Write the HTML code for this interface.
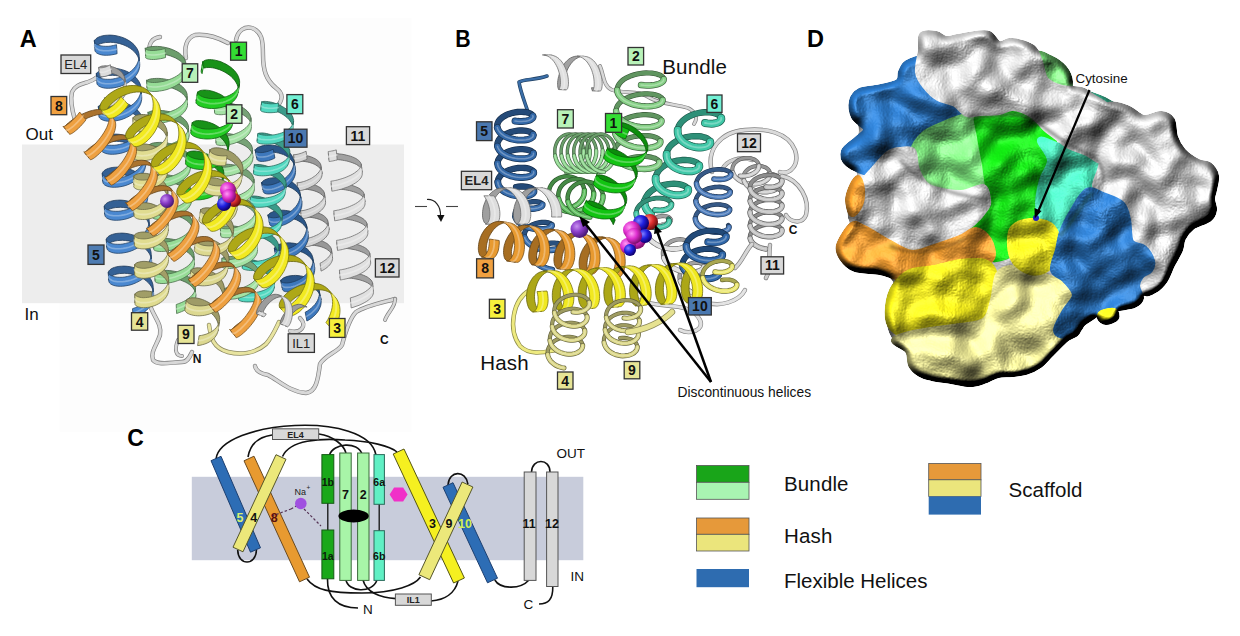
<!DOCTYPE html>
<html><head><meta charset="utf-8"><style>
html,body{margin:0;padding:0;background:#fff;}
svg{display:block;font-family:"Liberation Sans", sans-serif;}
</style></head><body>
<svg width="1240" height="636" viewBox="0 0 1240 636">
<defs>
<radialGradient id="gPur" cx="35%" cy="35%" r="65%"><stop offset="0" stop-color="#c890f0"/><stop offset="0.5" stop-color="#8a3cc8"/><stop offset="1" stop-color="#4a1a78"/></radialGradient>
<radialGradient id="gMag" cx="35%" cy="35%" r="65%"><stop offset="0" stop-color="#ff9cf4"/><stop offset="0.5" stop-color="#e030d0"/><stop offset="1" stop-color="#801070"/></radialGradient>
<radialGradient id="gBlu" cx="35%" cy="35%" r="65%"><stop offset="0" stop-color="#8080ff"/><stop offset="0.5" stop-color="#2020e0"/><stop offset="1" stop-color="#100070"/></radialGradient>
<radialGradient id="gRed" cx="35%" cy="35%" r="65%"><stop offset="0" stop-color="#ff9090"/><stop offset="0.5" stop-color="#e03030"/><stop offset="1" stop-color="#701010"/></radialGradient>

<filter id="surf" x="-5%" y="-5%" width="110%" height="110%" color-interpolation-filters="sRGB">
 <feGaussianBlur in="SourceAlpha" stdDeviation="3" result="b"/>
 <feTurbulence type="fractalNoise" baseFrequency="0.026" numOctaves="2" seed="11" result="n0"/><feGaussianBlur in="n0" stdDeviation="3" result="n"/>
 <feColorMatrix in="n" type="matrix" values="0 0 0 0 0  0 0 0 0 0  0 0 0 0 0  1.6 0 0 0 -0.3" result="na"/>
 <feComposite in="b" in2="na" operator="arithmetic" k1="0" k2="0.6" k3="0.4" k4="0" result="h"/>
 <feDiffuseLighting in="h" surfaceScale="24" diffuseConstant="1.0" lighting-color="#fff" result="d"><feDistantLight azimuth="235" elevation="50"/></feDiffuseLighting>
 <feComposite in="SourceGraphic" in2="d" operator="arithmetic" k1="1.12" k2="0" k3="0" k4="0" result="lit"/>
 <feSpecularLighting in="h" surfaceScale="24" specularConstant="0.35" specularExponent="22" lighting-color="#fff" result="s"><feDistantLight azimuth="235" elevation="62"/></feSpecularLighting>
 <feComposite in="s" in2="SourceAlpha" operator="in" result="s2"/>
 <feComposite in="lit" in2="s2" operator="arithmetic" k1="0" k2="1" k3="0.4" k4="0" result="o"/>
 <feComposite in="o" in2="SourceAlpha" operator="in"/>
</filter>
<filter id="sblur" x="-10%" y="-10%" width="120%" height="120%"><feGaussianBlur stdDeviation="1.8"/></filter>
</defs>
<rect x="59.6" y="18.0" width="352.0" height="413.7" fill="#fdfdfd" />
<rect x="22.0" y="144.5" width="382.0" height="158.7" fill="#ededed" />
<text x="19.8" y="46.8" font-size="23.5" fill="#000" font-weight="bold" text-anchor="start" >A</text>
<text x="455.2" y="46.6" font-size="23.5" fill="#000" font-weight="bold" text-anchor="start" textLength="15.4" lengthAdjust="spacingAndGlyphs">B</text>
<text x="807.0" y="46.6" font-size="23.5" fill="#000" font-weight="bold" text-anchor="start" >D</text>
<text x="127.3" y="445.9" font-size="23" fill="#000" font-weight="bold" text-anchor="start" >C</text>
<text x="25.5" y="140.0" font-size="17" fill="#111" font-weight="normal" text-anchor="start" >Out</text>
<text x="24.5" y="320.0" font-size="17" fill="#111" font-weight="normal" text-anchor="start" >In</text>
<path d="M150,52 C148,44 152,38 160,37" stroke="#818181" stroke-width="4.4" fill="none" stroke-linecap="round" stroke-linejoin="round"/>
<path d="M150,52 C148,44 152,38 160,37" stroke="#d8d8d8" stroke-width="3" fill="none" stroke-linecap="round" stroke-linejoin="round"/>
<path d="M186,58 C184,48 186,38 195,35 C205,34 215,36 228,43" stroke="#818181" stroke-width="4.4" fill="none" stroke-linecap="round" stroke-linejoin="round"/>
<path d="M186,58 C184,48 186,38 195,35 C205,34 215,36 228,43" stroke="#d8d8d8" stroke-width="3" fill="none" stroke-linecap="round" stroke-linejoin="round"/>
<path d="M236,40 C238,30 245,26 252,28 C262,32 263,40 263,55 C263,70 266,80 276,88 C284,94 283,100 276,108" stroke="#818181" stroke-width="4.4" fill="none" stroke-linecap="round" stroke-linejoin="round"/>
<path d="M236,40 C238,30 245,26 252,28 C262,32 263,40 263,55 C263,70 266,80 276,88 C284,94 283,100 276,108" stroke="#d8d8d8" stroke-width="3" fill="none" stroke-linecap="round" stroke-linejoin="round"/>
<path d="M75,120 C72,110 70,100 72,92 C75,85 82,84 88,82 C95,80 100,75 104,70" stroke="#818181" stroke-width="4.4" fill="none" stroke-linecap="round" stroke-linejoin="round"/>
<path d="M75,120 C72,110 70,100 72,92 C75,85 82,84 88,82 C95,80 100,75 104,70" stroke="#d8d8d8" stroke-width="3" fill="none" stroke-linecap="round" stroke-linejoin="round"/>
<path d="M151,308 C155,318 162,325 160,335 C157,345 150,352 153,360 C158,366 172,362 182,362 C188,362 190,356 192,352" stroke="#818181" stroke-width="4.4" fill="none" stroke-linecap="round" stroke-linejoin="round"/>
<path d="M151,308 C155,318 162,325 160,335 C157,345 150,352 153,360 C158,366 172,362 182,362 C188,362 190,356 192,352" stroke="#d8d8d8" stroke-width="3" fill="none" stroke-linecap="round" stroke-linejoin="round"/>
<path d="M178,340 C174,350 176,356 182,356" stroke="#818181" stroke-width="3.9" fill="none" stroke-linecap="round" stroke-linejoin="round"/>
<path d="M178,340 C174,350 176,356 182,356" stroke="#d8d8d8" stroke-width="2.5" fill="none" stroke-linecap="round" stroke-linejoin="round"/>
<path d="M255,366 C256,372 262,374 268,375 C278,380 290,392 306,393 C316,392 318,380 320,364 C325,355 338,352 342,345 C346,330 350,318 356,312 C365,306 380,303 395,299" stroke="#818181" stroke-width="4.4" fill="none" stroke-linecap="round" stroke-linejoin="round"/>
<path d="M255,366 C256,372 262,374 268,375 C278,380 290,392 306,393 C316,392 318,380 320,364 C325,355 338,352 342,345 C346,330 350,318 356,312 C365,306 380,303 395,299" stroke="#d8d8d8" stroke-width="3" fill="none" stroke-linecap="round" stroke-linejoin="round"/>
<path d="M395,299 C396,306 388,312 385,320" stroke="#818181" stroke-width="3.9" fill="none" stroke-linecap="round" stroke-linejoin="round"/>
<path d="M395,299 C396,306 388,312 385,320" stroke="#d8d8d8" stroke-width="2.5" fill="none" stroke-linecap="round" stroke-linejoin="round"/>
<path d="M209,325 C211,338 213,348 228,352 C240,355 255,354 266,344 C273,336 276,328 279,322" stroke="#8b8860" stroke-width="4.4" fill="none" stroke-linecap="round" stroke-linejoin="round"/>
<path d="M209,325 C211,338 213,348 228,352 C240,355 255,354 266,344 C273,336 276,328 279,322" stroke="#e8e4a0" stroke-width="3" fill="none" stroke-linecap="round" stroke-linejoin="round"/>
<path d="M293.7,155.3 L294.0,155.2 L294.5,155.1 L295.3,155.0 L296.2,154.9 L297.3,154.8 L298.6,154.8 L300.1,154.8 L301.6,154.9 L303.2,155.1 L305.0,155.3 L306.7,155.7 L308.5,156.1 L310.2,156.6 L311.9,157.2 L313.5,157.9 L315.1,158.7 L316.5,159.5 L317.7,160.5 L318.8,161.5 L319.7,162.6 L320.4,163.8 L320.9,165.0 L321.1,166.2 L321.2,167.5 L322.0,173.8 L321.9,172.6 L321.7,171.3 L321.2,170.1 L320.5,169.0 L319.6,167.9 L318.5,166.8 L317.2,165.9 L315.9,165.0 L314.3,164.2 L312.7,163.5 L311.0,162.9 L309.3,162.4 L307.5,162.0 L305.8,161.7 L304.0,161.4 L302.4,161.3 L300.8,161.2 L299.4,161.1 L298.1,161.2 L297.0,161.2 L296.1,161.3 L295.3,161.4 L294.8,161.6 L294.5,161.7Z" fill="#989898" stroke="#5b5b5b" stroke-width="0.8" stroke-linejoin="round"/>
<path d="M297.2,183.3 L297.5,183.2 L298.0,183.1 L298.8,183.0 L299.7,182.9 L300.8,182.8 L302.1,182.8 L303.6,182.8 L305.1,182.9 L306.7,183.1 L308.5,183.3 L310.2,183.7 L312.0,184.1 L313.7,184.6 L315.4,185.2 L317.0,185.9 L318.6,186.7 L320.0,187.5 L321.2,188.5 L322.3,189.5 L323.2,190.6 L323.9,191.8 L324.4,193.0 L324.6,194.2 L324.7,195.5 L325.5,201.8 L325.4,200.6 L325.2,199.3 L324.7,198.1 L324.0,197.0 L323.1,195.9 L322.0,194.8 L320.7,193.9 L319.4,193.0 L317.8,192.2 L316.2,191.5 L314.5,190.9 L312.8,190.4 L311.0,190.0 L309.3,189.7 L307.5,189.4 L305.9,189.3 L304.3,189.2 L302.9,189.1 L301.6,189.2 L300.5,189.2 L299.6,189.3 L298.8,189.4 L298.3,189.6 L298.0,189.7Z" fill="#989898" stroke="#5b5b5b" stroke-width="0.8" stroke-linejoin="round"/>
<path d="M300.7,211.3 L301.0,211.2 L301.5,211.1 L302.3,211.0 L303.2,210.9 L304.3,210.8 L305.6,210.8 L307.1,210.8 L308.6,210.9 L310.2,211.1 L312.0,211.3 L313.7,211.7 L315.5,212.1 L317.2,212.6 L318.9,213.2 L320.5,213.9 L322.1,214.7 L323.5,215.5 L324.7,216.5 L325.8,217.5 L326.7,218.6 L327.4,219.8 L327.9,221.0 L328.1,222.2 L328.2,223.5 L329.0,229.8 L328.9,228.6 L328.7,227.3 L328.2,226.1 L327.5,225.0 L326.6,223.9 L325.5,222.8 L324.2,221.9 L322.9,221.0 L321.3,220.2 L319.7,219.5 L318.0,218.9 L316.3,218.4 L314.5,218.0 L312.8,217.7 L311.0,217.4 L309.4,217.3 L307.8,217.2 L306.4,217.1 L305.1,217.2 L304.0,217.2 L303.1,217.3 L302.3,217.4 L301.8,217.6 L301.5,217.7Z" fill="#989898" stroke="#5b5b5b" stroke-width="0.8" stroke-linejoin="round"/>
<path d="M304.1,239.4 L304.2,239.3 L304.5,239.2 L305.0,239.1 L305.8,239.0 L306.7,238.9 L307.8,238.8 L309.1,238.8 L310.6,238.8 L312.1,238.9 L313.7,239.1 L315.5,239.3 L317.2,239.7 L319.0,240.1 L320.7,240.6 L322.4,241.2 L324.0,241.9 L325.6,242.7 L327.0,243.5 L328.2,244.5 L329.3,245.5 L330.2,246.6 L330.9,247.8 L331.4,249.0 L331.6,250.2 L331.7,251.5 L332.5,257.8 L332.4,256.6 L332.2,255.3 L331.7,254.1 L331.0,253.0 L330.1,251.9 L329.0,250.8 L327.7,249.9 L326.4,249.0 L324.8,248.2 L323.2,247.5 L321.5,246.9 L319.8,246.4 L318.0,246.0 L316.3,245.7 L314.5,245.4 L312.9,245.3 L311.3,245.2 L309.9,245.1 L308.6,245.2 L307.5,245.2 L306.6,245.3 L305.8,245.4 L305.3,245.6 L305.0,245.7 L304.9,245.8Z" fill="#989898" stroke="#5b5b5b" stroke-width="0.8" stroke-linejoin="round"/>
<path d="M306.1,151.2 L304.5,151.9 L302.9,152.6 L301.4,153.2 L299.9,153.6 L298.5,154.0 L297.3,154.3 L296.2,154.5 L295.2,154.7 L294.5,154.7 L293.9,154.8 L293.6,154.7 L293.5,154.6 L293.6,154.5 L294.6,162.5 L294.5,162.6 L294.6,162.7 L294.9,162.7 L295.5,162.7 L296.2,162.6 L297.2,162.5 L298.3,162.3 L299.5,162.0 L300.9,161.6 L302.4,161.1 L303.9,160.5 L305.5,159.9 L307.1,159.1Z" fill="#d4d4d4" stroke="#6a6a6a" stroke-width="0.8" stroke-linejoin="round"/>
<path d="M306.6,155.2 L305.0,155.9 L303.4,156.6 L301.9,157.1 L300.4,157.6 L299.0,158.0 L297.8,158.3 L296.7,158.5 L295.7,158.6 L295.0,158.7 L294.4,158.7 L294.1,158.7 L294.0,158.6 L294.1,158.5" stroke="#e9e9e9" stroke-width="1.4" fill="none" stroke-linecap="round" opacity="0.6"/>
<path d="M321.1,166.7 L320.9,168.0 L320.5,169.3 L319.9,170.5 L319.1,171.8 L318.1,173.0 L317.0,174.2 L315.7,175.4 L314.3,176.4 L312.8,177.4 L311.3,178.4 L309.6,179.2 L308.0,179.9 L306.4,180.6 L304.9,181.2 L303.4,181.6 L302.0,182.0 L300.8,182.3 L299.7,182.5 L298.7,182.7 L298.0,182.7 L297.4,182.8 L297.1,182.7 L297.0,182.6 L297.1,182.5 L298.1,190.5 L298.0,190.6 L298.1,190.7 L298.4,190.7 L299.0,190.7 L299.7,190.6 L300.7,190.5 L301.8,190.3 L303.0,190.0 L304.4,189.6 L305.9,189.1 L307.4,188.5 L309.0,187.9 L310.6,187.1 L312.2,186.3 L313.8,185.4 L315.3,184.4 L316.7,183.3 L318.0,182.2 L319.1,181.0 L320.1,179.7 L320.9,178.5 L321.5,177.2 L321.9,175.9 L322.1,174.6Z" fill="#d4d4d4" stroke="#6a6a6a" stroke-width="0.8" stroke-linejoin="round"/>
<path d="M321.6,170.7 L321.4,171.9 L321.0,173.2 L320.4,174.5 L319.6,175.8 L318.6,177.0 L317.5,178.2 L316.2,179.3 L314.8,180.4 L313.3,181.4 L311.8,182.3 L310.1,183.2 L308.5,183.9 L306.9,184.6 L305.4,185.1 L303.9,185.6 L302.5,186.0 L301.3,186.3 L300.2,186.5 L299.2,186.6 L298.5,186.7 L297.9,186.7 L297.6,186.7 L297.5,186.6 L297.6,186.5" stroke="#e9e9e9" stroke-width="1.4" fill="none" stroke-linecap="round" opacity="0.6"/>
<path d="M324.6,194.7 L324.4,196.0 L324.0,197.3 L323.4,198.5 L322.6,199.8 L321.6,201.0 L320.5,202.2 L319.2,203.4 L317.8,204.4 L316.3,205.4 L314.8,206.4 L313.1,207.2 L311.5,207.9 L309.9,208.6 L308.4,209.2 L306.9,209.6 L305.5,210.0 L304.3,210.3 L303.2,210.5 L302.2,210.7 L301.5,210.7 L300.9,210.8 L300.6,210.7 L300.5,210.6 L300.6,210.5 L301.6,218.5 L301.5,218.6 L301.6,218.7 L301.9,218.7 L302.5,218.7 L303.2,218.6 L304.2,218.5 L305.3,218.3 L306.5,218.0 L307.9,217.6 L309.4,217.1 L310.9,216.5 L312.5,215.9 L314.1,215.1 L315.7,214.3 L317.3,213.4 L318.8,212.4 L320.2,211.3 L321.5,210.2 L322.6,209.0 L323.6,207.7 L324.4,206.5 L325.0,205.2 L325.4,203.9 L325.6,202.6Z" fill="#d4d4d4" stroke="#6a6a6a" stroke-width="0.8" stroke-linejoin="round"/>
<path d="M325.1,198.7 L324.9,199.9 L324.5,201.2 L323.9,202.5 L323.1,203.8 L322.1,205.0 L321.0,206.2 L319.7,207.3 L318.3,208.4 L316.8,209.4 L315.3,210.3 L313.6,211.2 L312.0,211.9 L310.4,212.6 L308.9,213.1 L307.4,213.6 L306.0,214.0 L304.8,214.3 L303.7,214.5 L302.7,214.6 L302.0,214.7 L301.4,214.7 L301.1,214.7 L301.0,214.6 L301.1,214.5" stroke="#e9e9e9" stroke-width="1.4" fill="none" stroke-linecap="round" opacity="0.6"/>
<path d="M328.1,222.7 L327.9,224.0 L327.5,225.3 L326.9,226.5 L326.1,227.8 L325.1,229.0 L324.0,230.2 L322.7,231.4 L321.3,232.4 L319.8,233.4 L318.3,234.4 L316.6,235.2 L315.0,235.9 L313.4,236.6 L311.9,237.2 L310.4,237.6 L309.0,238.0 L307.8,238.3 L306.7,238.5 L305.7,238.7 L305.0,238.7 L304.4,238.8 L304.1,238.7 L304.0,238.6 L305.0,246.6 L305.1,246.7 L305.4,246.7 L306.0,246.7 L306.7,246.6 L307.7,246.5 L308.8,246.3 L310.0,246.0 L311.4,245.6 L312.9,245.1 L314.4,244.5 L316.0,243.9 L317.6,243.1 L319.2,242.3 L320.8,241.4 L322.3,240.4 L323.7,239.3 L325.0,238.2 L326.1,237.0 L327.1,235.7 L327.9,234.5 L328.5,233.2 L328.9,231.9 L329.1,230.6Z" fill="#d4d4d4" stroke="#6a6a6a" stroke-width="0.8" stroke-linejoin="round"/>
<path d="M328.6,226.7 L328.4,227.9 L328.0,229.2 L327.4,230.5 L326.6,231.8 L325.6,233.0 L324.5,234.2 L323.2,235.3 L321.8,236.4 L320.3,237.4 L318.8,238.3 L317.1,239.2 L315.5,239.9 L313.9,240.6 L312.4,241.1 L310.9,241.6 L309.5,242.0 L308.3,242.3 L307.2,242.5 L306.2,242.6 L305.5,242.7 L304.9,242.7 L304.6,242.7 L304.5,242.6" stroke="#e9e9e9" stroke-width="1.4" fill="none" stroke-linecap="round" opacity="0.6"/>
<path d="M331.6,250.7 L331.4,252.0 L331.0,253.3 L330.4,254.5 L329.6,255.8 L328.6,257.0 L327.5,258.2 L326.2,259.4 L324.8,260.4 L323.3,261.4 L321.8,262.4 L320.1,263.2 L321.1,271.1 L322.7,270.3 L324.3,269.4 L325.8,268.4 L327.2,267.3 L328.5,266.2 L329.6,265.0 L330.6,263.7 L331.4,262.5 L332.0,261.2 L332.4,259.9 L332.6,258.6Z" fill="#d4d4d4" stroke="#6a6a6a" stroke-width="0.8" stroke-linejoin="round"/>
<path d="M332.1,254.7 L331.9,255.9 L331.5,257.2 L330.9,258.5 L330.1,259.8 L329.1,261.0 L328.0,262.2 L326.7,263.3 L325.3,264.4 L323.8,265.4 L322.3,266.3 L320.6,267.2" stroke="#e9e9e9" stroke-width="1.4" fill="none" stroke-linecap="round" opacity="0.6"/>
<path d="M328.4,153.5 L328.7,153.5 L329.3,153.5 L330.2,153.4 L331.3,153.4 L332.7,153.4 L334.2,153.5 L336.0,153.6 L337.9,153.7 L339.8,154.0 L341.9,154.2 L344.1,154.6 L346.2,155.1 L348.3,155.6 L350.4,156.2 L352.4,156.9 L354.2,157.7 L355.9,158.5 L357.4,159.5 L358.7,160.5 L359.8,161.6 L360.6,162.7 L361.2,163.9 L361.5,165.1 L361.5,166.4 L362.1,172.4 L362.1,171.1 L361.8,169.9 L361.2,168.7 L360.4,167.6 L359.3,166.5 L358.0,165.5 L356.5,164.5 L354.8,163.7 L352.9,162.9 L350.9,162.2 L348.9,161.6 L346.8,161.0 L344.6,160.6 L342.5,160.2 L340.4,159.9 L338.4,159.7 L336.5,159.6 L334.8,159.5 L333.3,159.4 L331.9,159.4 L330.8,159.4 L329.9,159.5 L329.3,159.5 L328.9,159.5Z" fill="#a1a1a1" stroke="#606060" stroke-width="0.8" stroke-linejoin="round"/>
<path d="M331.2,183.1 L331.5,183.1 L332.1,183.1 L333.0,183.0 L334.1,183.0 L335.5,183.0 L337.0,183.1 L338.8,183.2 L340.7,183.3 L342.6,183.6 L344.7,183.8 L346.9,184.2 L349.0,184.7 L351.1,185.2 L353.2,185.8 L355.2,186.5 L357.0,187.3 L358.7,188.1 L360.2,189.1 L361.5,190.1 L362.6,191.2 L363.4,192.3 L364.0,193.5 L364.3,194.7 L364.3,196.0 L364.9,202.0 L364.9,200.7 L364.6,199.5 L364.0,198.3 L363.2,197.2 L362.1,196.1 L360.8,195.1 L359.3,194.1 L357.6,193.3 L355.7,192.5 L353.7,191.8 L351.7,191.2 L349.6,190.6 L347.4,190.2 L345.3,189.8 L343.2,189.5 L341.2,189.3 L339.3,189.2 L337.6,189.1 L336.1,189.0 L334.7,189.0 L333.6,189.0 L332.7,189.1 L332.1,189.1 L331.7,189.1Z" fill="#a1a1a1" stroke="#606060" stroke-width="0.8" stroke-linejoin="round"/>
<path d="M334.0,212.7 L334.3,212.7 L334.9,212.7 L335.8,212.6 L336.9,212.6 L338.3,212.6 L339.8,212.7 L341.6,212.8 L343.5,212.9 L345.4,213.2 L347.5,213.4 L349.7,213.8 L351.8,214.3 L353.9,214.8 L356.0,215.4 L358.0,216.1 L359.8,216.9 L361.5,217.7 L363.0,218.7 L364.3,219.7 L365.4,220.8 L366.2,221.9 L366.8,223.1 L367.1,224.3 L367.1,225.6 L367.7,231.6 L367.7,230.3 L367.4,229.1 L366.8,227.9 L366.0,226.8 L364.9,225.7 L363.6,224.7 L362.1,223.7 L360.4,222.9 L358.5,222.1 L356.5,221.4 L354.5,220.8 L352.4,220.2 L350.2,219.8 L348.1,219.4 L346.0,219.1 L344.0,218.9 L342.1,218.8 L340.4,218.7 L338.9,218.6 L337.5,218.6 L336.4,218.6 L335.5,218.7 L334.9,218.7 L334.5,218.7Z" fill="#a1a1a1" stroke="#606060" stroke-width="0.8" stroke-linejoin="round"/>
<path d="M336.8,242.3 L337.1,242.3 L337.7,242.3 L338.6,242.2 L339.7,242.2 L341.1,242.2 L342.6,242.3 L344.4,242.4 L346.3,242.5 L348.2,242.8 L350.3,243.0 L352.5,243.4 L354.6,243.9 L356.7,244.4 L358.8,245.0 L360.8,245.7 L362.6,246.5 L364.3,247.3 L365.8,248.3 L367.1,249.3 L368.2,250.4 L369.0,251.5 L369.6,252.7 L369.9,253.9 L369.9,255.2 L370.5,261.2 L370.5,259.9 L370.2,258.7 L369.6,257.5 L368.8,256.4 L367.7,255.3 L366.4,254.3 L364.9,253.3 L363.2,252.5 L361.3,251.7 L359.3,251.0 L357.3,250.4 L355.2,249.8 L353.0,249.4 L350.9,249.0 L348.8,248.7 L346.8,248.5 L344.9,248.4 L343.2,248.3 L341.7,248.2 L340.3,248.2 L339.2,248.2 L338.3,248.3 L337.7,248.3 L337.3,248.3Z" fill="#a1a1a1" stroke="#606060" stroke-width="0.8" stroke-linejoin="round"/>
<path d="M339.6,271.9 L339.9,271.9 L340.5,271.9 L341.4,271.8 L342.5,271.8 L343.9,271.8 L345.4,271.9 L347.2,272.0 L349.1,272.1 L351.0,272.4 L353.1,272.6 L355.3,273.0 L357.4,273.5 L359.5,274.0 L361.6,274.6 L363.6,275.3 L365.4,276.1 L367.1,276.9 L368.6,277.9 L369.9,278.9 L371.0,280.0 L371.8,281.1 L372.4,282.3 L372.7,283.5 L372.7,284.8 L373.3,290.8 L373.3,289.5 L373.0,288.3 L372.4,287.1 L371.6,286.0 L370.5,284.9 L369.2,283.9 L367.7,282.9 L366.0,282.1 L364.1,281.3 L362.1,280.6 L360.1,280.0 L358.0,279.4 L355.8,279.0 L353.7,278.6 L351.6,278.3 L349.6,278.1 L347.7,278.0 L346.0,277.9 L344.5,277.8 L343.1,277.8 L342.0,277.8 L341.1,277.9 L340.5,277.9 L340.1,277.9Z" fill="#a1a1a1" stroke="#606060" stroke-width="0.8" stroke-linejoin="round"/>
<path d="M336.3,149.9 L334.6,150.4 L333.0,150.8 L331.6,151.0 L330.4,151.3 L329.4,151.4 L328.7,151.5 L328.3,151.6 L328.1,151.6 L328.2,151.6 L329.1,161.5 L329.0,161.5 L329.2,161.5 L329.7,161.5 L330.4,161.4 L331.3,161.2 L332.5,161.0 L333.9,160.7 L335.5,160.3 L337.2,159.9Z" fill="#e0e0e0" stroke="#707070" stroke-width="0.8" stroke-linejoin="round"/>
<path d="M336.8,154.9 L335.0,155.4 L333.4,155.7 L332.1,156.0 L330.9,156.2 L329.9,156.4 L329.2,156.5 L328.7,156.5 L328.6,156.6 L328.6,156.5" stroke="#efefef" stroke-width="1.8" fill="none" stroke-linecap="round" opacity="0.6"/>
<path d="M361.3,164.4 L361.1,165.7 L360.6,166.9 L359.8,168.2 L358.8,169.4 L357.6,170.7 L356.1,171.8 L354.5,173.0 L352.8,174.1 L350.9,175.1 L348.9,176.0 L346.9,176.9 L344.9,177.7 L342.9,178.4 L340.9,179.0 L339.1,179.5 L337.4,180.0 L335.8,180.4 L334.4,180.6 L333.2,180.9 L332.2,181.0 L331.5,181.1 L331.1,181.2 L330.9,181.2 L331.0,181.2 L331.9,191.1 L331.8,191.1 L332.0,191.1 L332.5,191.1 L333.2,191.0 L334.1,190.8 L335.3,190.6 L336.7,190.3 L338.3,189.9 L340.0,189.5 L341.9,189.0 L343.8,188.3 L345.8,187.6 L347.9,186.9 L349.9,186.0 L351.8,185.0 L353.7,184.0 L355.5,182.9 L357.1,181.8 L358.5,180.6 L359.8,179.4 L360.8,178.1 L361.5,176.9 L362.0,175.6 L362.3,174.3Z" fill="#e0e0e0" stroke="#707070" stroke-width="0.8" stroke-linejoin="round"/>
<path d="M361.8,169.4 L361.6,170.6 L361.1,171.9 L360.3,173.2 L359.3,174.4 L358.1,175.6 L356.6,176.8 L355.0,178.0 L353.2,179.0 L351.4,180.1 L349.4,181.0 L347.4,181.9 L345.4,182.7 L343.4,183.4 L341.4,184.0 L339.6,184.5 L337.8,185.0 L336.2,185.3 L334.9,185.6 L333.7,185.8 L332.7,186.0 L332.0,186.1 L331.5,186.1 L331.4,186.2 L331.4,186.1" stroke="#efefef" stroke-width="1.8" fill="none" stroke-linecap="round" opacity="0.6"/>
<path d="M364.1,194.0 L363.9,195.3 L363.4,196.5 L362.6,197.8 L361.6,199.0 L360.4,200.3 L358.9,201.4 L357.3,202.6 L355.6,203.7 L353.7,204.7 L351.7,205.6 L349.7,206.5 L347.7,207.3 L345.7,208.0 L343.7,208.6 L341.9,209.1 L340.2,209.6 L338.6,210.0 L337.2,210.2 L336.0,210.5 L335.0,210.6 L334.3,210.7 L333.9,210.8 L333.7,210.8 L333.8,210.8 L334.7,220.7 L334.6,220.7 L334.8,220.7 L335.3,220.7 L336.0,220.6 L336.9,220.4 L338.1,220.2 L339.5,219.9 L341.1,219.5 L342.8,219.1 L344.7,218.6 L346.6,217.9 L348.6,217.2 L350.7,216.5 L352.7,215.6 L354.6,214.6 L356.5,213.6 L358.3,212.5 L359.9,211.4 L361.3,210.2 L362.6,209.0 L363.6,207.7 L364.3,206.5 L364.8,205.2 L365.1,203.9Z" fill="#e0e0e0" stroke="#707070" stroke-width="0.8" stroke-linejoin="round"/>
<path d="M364.6,199.0 L364.4,200.2 L363.9,201.5 L363.1,202.8 L362.1,204.0 L360.9,205.2 L359.4,206.4 L357.8,207.6 L356.0,208.6 L354.2,209.7 L352.2,210.6 L350.2,211.5 L348.2,212.3 L346.2,213.0 L344.2,213.6 L342.4,214.1 L340.6,214.6 L339.0,214.9 L337.7,215.2 L336.5,215.4 L335.5,215.6 L334.8,215.7 L334.3,215.7 L334.2,215.8 L334.2,215.7" stroke="#efefef" stroke-width="1.8" fill="none" stroke-linecap="round" opacity="0.6"/>
<path d="M366.9,223.6 L366.7,224.9 L366.2,226.1 L365.4,227.4 L364.4,228.6 L363.2,229.9 L361.7,231.0 L360.1,232.2 L358.4,233.3 L356.5,234.3 L354.5,235.2 L352.5,236.1 L350.5,236.9 L348.5,237.6 L346.5,238.2 L344.7,238.7 L343.0,239.2 L341.4,239.6 L340.0,239.8 L338.8,240.1 L337.8,240.2 L337.1,240.3 L336.7,240.4 L336.5,240.4 L336.6,240.4 L337.5,250.3 L337.4,250.3 L337.6,250.3 L338.1,250.3 L338.8,250.2 L339.7,250.0 L340.9,249.8 L342.3,249.5 L343.9,249.1 L345.6,248.7 L347.5,248.2 L349.4,247.5 L351.4,246.8 L353.5,246.1 L355.5,245.2 L357.4,244.2 L359.3,243.2 L361.1,242.1 L362.7,241.0 L364.1,239.8 L365.4,238.6 L366.4,237.3 L367.1,236.1 L367.6,234.8 L367.9,233.5Z" fill="#e0e0e0" stroke="#707070" stroke-width="0.8" stroke-linejoin="round"/>
<path d="M367.4,228.6 L367.2,229.8 L366.7,231.1 L365.9,232.4 L364.9,233.6 L363.7,234.8 L362.2,236.0 L360.6,237.2 L358.8,238.2 L357.0,239.3 L355.0,240.2 L353.0,241.1 L351.0,241.9 L349.0,242.6 L347.0,243.2 L345.2,243.7 L343.4,244.2 L341.8,244.5 L340.5,244.8 L339.3,245.0 L338.3,245.2 L337.6,245.3 L337.1,245.3 L337.0,245.4 L337.0,245.3" stroke="#efefef" stroke-width="1.8" fill="none" stroke-linecap="round" opacity="0.6"/>
<path d="M369.7,253.2 L369.5,254.5 L369.0,255.7 L368.2,257.0 L367.2,258.2 L366.0,259.5 L364.5,260.6 L362.9,261.8 L361.2,262.9 L359.3,263.9 L357.3,264.8 L355.3,265.7 L353.3,266.5 L351.3,267.2 L349.3,267.8 L347.5,268.3 L345.8,268.8 L344.2,269.2 L342.8,269.4 L341.6,269.7 L340.6,269.8 L339.9,269.9 L339.5,270.0 L339.3,270.0 L339.4,270.0 L340.3,279.9 L340.2,279.9 L340.4,279.9 L340.9,279.9 L341.6,279.8 L342.5,279.6 L343.7,279.4 L345.1,279.1 L346.7,278.7 L348.4,278.3 L350.3,277.8 L352.2,277.1 L354.2,276.4 L356.3,275.7 L358.3,274.8 L360.2,273.8 L362.1,272.8 L363.9,271.7 L365.5,270.6 L366.9,269.4 L368.2,268.2 L369.2,266.9 L369.9,265.7 L370.4,264.4 L370.7,263.1Z" fill="#e0e0e0" stroke="#707070" stroke-width="0.8" stroke-linejoin="round"/>
<path d="M370.2,258.2 L370.0,259.4 L369.5,260.7 L368.7,262.0 L367.7,263.2 L366.5,264.4 L365.0,265.6 L363.4,266.8 L361.6,267.8 L359.8,268.9 L357.8,269.8 L355.8,270.7 L353.8,271.5 L351.8,272.2 L349.8,272.8 L348.0,273.3 L346.2,273.8 L344.6,274.1 L343.3,274.4 L342.1,274.6 L341.1,274.8 L340.4,274.9 L339.9,274.9 L339.8,275.0 L339.8,274.9" stroke="#efefef" stroke-width="1.8" fill="none" stroke-linecap="round" opacity="0.6"/>
<path d="M372.5,282.8 L372.3,284.1 L371.8,285.3 L371.0,286.6 L370.0,287.8 L368.8,289.1 L367.3,290.2 L365.7,291.4 L364.0,292.5 L362.1,293.5 L360.1,294.4 L358.1,295.3 L356.1,296.1 L354.1,296.8 L352.1,297.4 L350.3,297.9 L351.2,307.9 L353.1,307.4 L355.0,306.7 L357.0,306.0 L359.1,305.3 L361.1,304.4 L363.0,303.4 L364.9,302.4 L366.7,301.3 L368.3,300.2 L369.7,299.0 L371.0,297.8 L372.0,296.5 L372.7,295.3 L373.2,294.0 L373.5,292.7Z" fill="#e0e0e0" stroke="#707070" stroke-width="0.8" stroke-linejoin="round"/>
<path d="M373.0,287.8 L372.8,289.0 L372.3,290.3 L371.5,291.6 L370.5,292.8 L369.3,294.0 L367.8,295.2 L366.2,296.4 L364.4,297.4 L362.6,298.5 L360.6,299.4 L358.6,300.3 L356.6,301.1 L354.6,301.8 L352.6,302.4 L350.8,302.9" stroke="#efefef" stroke-width="1.8" fill="none" stroke-linecap="round" opacity="0.6"/>
<path d="M255.3,150.4 L255.6,149.6 L256.2,148.8 L257.1,148.0 L258.3,147.3 L259.7,146.7 L261.4,146.1 L263.3,145.6 L265.4,145.3 L267.7,145.1 L270.0,145.0 L272.4,145.2 L274.9,145.5 L277.3,146.0 L279.7,146.7 L282.1,147.6 L284.3,148.6 L286.3,149.9 L288.2,151.3 L289.8,152.9 L291.2,154.6 L292.4,156.5 L293.2,158.4 L293.8,160.4 L294.0,162.5 L295.4,169.6 L295.2,167.5 L294.6,165.5 L293.7,163.5 L292.6,161.7 L291.2,160.0 L289.6,158.4 L287.7,157.0 L285.7,155.7 L283.5,154.6 L281.1,153.8 L278.7,153.1 L276.3,152.6 L273.8,152.2 L271.4,152.1 L269.0,152.1 L266.8,152.3 L264.7,152.7 L262.8,153.1 L261.1,153.7 L259.7,154.4 L258.5,155.1 L257.6,155.9 L257.0,156.6 L256.6,157.4Z" fill="#2b5688" stroke="#193351" stroke-width="0.8" stroke-linejoin="round"/>
<path d="M261.7,183.0 L262.0,182.2 L262.6,181.4 L263.5,180.6 L264.7,179.9 L266.1,179.3 L267.8,178.7 L269.7,178.2 L271.8,177.9 L274.1,177.7 L276.4,177.6 L278.8,177.8 L281.3,178.1 L283.7,178.6 L286.1,179.3 L288.5,180.2 L290.7,181.2 L292.7,182.5 L294.6,183.9 L296.2,185.5 L297.6,187.2 L298.8,189.1 L299.6,191.0 L300.2,193.0 L300.4,195.1 L301.8,202.2 L301.6,200.1 L301.0,198.1 L300.1,196.1 L299.0,194.3 L297.6,192.6 L296.0,191.0 L294.1,189.6 L292.1,188.3 L289.9,187.2 L287.5,186.4 L285.1,185.7 L282.7,185.2 L280.2,184.8 L277.8,184.7 L275.4,184.7 L273.2,184.9 L271.1,185.3 L269.2,185.7 L267.5,186.3 L266.1,187.0 L264.9,187.7 L264.0,188.5 L263.4,189.2 L263.0,190.0Z" fill="#2b5688" stroke="#193351" stroke-width="0.8" stroke-linejoin="round"/>
<path d="M268.1,215.6 L268.4,214.8 L269.0,214.0 L269.9,213.2 L271.1,212.5 L272.5,211.9 L274.2,211.3 L276.1,210.8 L278.2,210.5 L280.5,210.3 L282.8,210.2 L285.2,210.4 L287.7,210.7 L290.1,211.2 L292.5,211.9 L294.9,212.8 L297.1,213.8 L299.1,215.1 L301.0,216.5 L302.6,218.1 L304.0,219.8 L305.2,221.7 L306.0,223.6 L306.6,225.6 L308.0,232.7 L307.4,230.7 L306.5,228.7 L305.4,226.9 L304.0,225.2 L302.4,223.6 L300.5,222.2 L298.5,220.9 L296.3,219.8 L293.9,219.0 L291.5,218.3 L289.1,217.8 L286.6,217.4 L284.2,217.3 L281.8,217.3 L279.6,217.5 L277.5,217.9 L275.6,218.3 L273.9,218.9 L272.5,219.6 L271.3,220.3 L270.4,221.1 L269.8,221.8 L269.4,222.6Z" fill="#2b5688" stroke="#193351" stroke-width="0.8" stroke-linejoin="round"/>
<path d="M274.4,248.9 L274.5,248.2 L274.8,247.4 L275.4,246.6 L276.3,245.8 L277.5,245.1 L278.9,244.5 L280.6,243.9 L282.5,243.4 L284.6,243.1 L286.9,242.9 L289.2,242.8 L291.6,243.0 L294.1,243.3 L296.5,243.8 L298.9,244.5 L301.3,245.4 L303.5,246.4 L305.5,247.7 L307.4,249.1 L309.0,250.7 L310.4,252.4 L311.6,254.3 L312.4,256.2 L313.0,258.2 L313.2,260.3 L314.6,267.4 L314.4,265.3 L313.8,263.3 L312.9,261.3 L311.8,259.5 L310.4,257.8 L308.8,256.2 L306.9,254.8 L304.9,253.5 L302.7,252.4 L300.3,251.6 L297.9,250.9 L295.5,250.4 L293.0,250.0 L290.6,249.9 L288.2,249.9 L286.0,250.1 L283.9,250.5 L282.0,250.9 L280.3,251.5 L278.9,252.2 L277.7,252.9 L276.8,253.7 L276.2,254.4 L275.8,255.2 L275.8,256.0Z" fill="#2b5688" stroke="#193351" stroke-width="0.8" stroke-linejoin="round"/>
<path d="M280.9,280.8 L281.2,280.0 L281.8,279.2 L282.7,278.4 L283.9,277.7 L285.3,277.1 L287.0,276.5 L288.9,276.0 L291.0,275.7 L293.3,275.5 L295.6,275.4 L298.0,275.6 L300.5,275.9 L302.9,276.4 L305.3,277.1 L307.7,278.0 L309.9,279.0 L311.9,280.3 L313.8,281.7 L315.4,283.3 L316.8,285.0 L318.0,286.9 L318.8,288.8 L319.4,290.8 L319.6,292.9 L321.0,300.0 L320.8,297.9 L320.2,295.9 L319.3,293.9 L318.2,292.1 L316.8,290.4 L315.2,288.8 L313.3,287.4 L311.3,286.1 L309.1,285.0 L306.7,284.2 L304.3,283.5 L301.9,283.0 L299.4,282.6 L297.0,282.5 L294.6,282.5 L292.4,282.7 L290.3,283.1 L288.4,283.5 L286.7,284.1 L285.3,284.8 L284.1,285.5 L283.2,286.3 L282.6,287.0 L282.2,287.8Z" fill="#2b5688" stroke="#193351" stroke-width="0.8" stroke-linejoin="round"/>
<path d="M273.2,149.2 L271.0,150.2 L268.8,151.1 L266.7,151.7 L264.6,152.2 L262.7,152.5 L260.9,152.6 L259.3,152.5 L257.9,152.3 L256.8,152.0 L255.9,151.5 L255.4,150.9 L255.1,150.2 L255.1,149.5 L256.8,158.3 L256.8,159.0 L257.1,159.7 L257.7,160.3 L258.5,160.8 L259.7,161.2 L261.1,161.4 L262.6,161.4 L264.4,161.3 L266.4,161.0 L268.4,160.6 L270.6,159.9 L272.8,159.1 L274.9,158.0Z" fill="#3d78bd" stroke="#1e3c5e" stroke-width="0.8" stroke-linejoin="round"/>
<path d="M274.1,153.6 L271.9,154.6 L269.7,155.5 L267.6,156.2 L265.5,156.6 L263.6,156.9 L261.8,157.0 L260.2,157.0 L258.8,156.7 L257.7,156.4 L256.8,155.9 L256.2,155.3 L255.9,154.6 L256.0,153.9" stroke="#9ebbde" stroke-width="1.6" fill="none" stroke-linecap="round" opacity="0.6"/>
<path d="M293.8,161.7 L293.8,163.8 L293.4,165.9 L292.8,168.0 L291.9,170.1 L290.7,172.2 L289.3,174.1 L287.6,175.9 L285.8,177.6 L283.8,179.2 L281.8,180.6 L279.6,181.8 L277.4,182.8 L275.2,183.7 L273.1,184.3 L271.0,184.8 L269.1,185.1 L267.3,185.2 L265.7,185.1 L264.3,184.9 L263.2,184.6 L262.3,184.1 L261.8,183.5 L261.5,182.8 L261.5,182.1 L263.2,190.9 L263.2,191.6 L263.5,192.3 L264.1,192.9 L264.9,193.4 L266.1,193.8 L267.5,194.0 L269.0,194.0 L270.8,193.9 L272.8,193.6 L274.8,193.2 L277.0,192.5 L279.2,191.7 L281.3,190.6 L283.5,189.4 L285.6,188.0 L287.5,186.4 L289.4,184.7 L291.0,182.9 L292.4,181.0 L293.6,179.0 L294.5,176.9 L295.2,174.8 L295.5,172.6 L295.6,170.5Z" fill="#3d78bd" stroke="#1e3c5e" stroke-width="0.8" stroke-linejoin="round"/>
<path d="M294.7,166.1 L294.7,168.2 L294.3,170.3 L293.7,172.5 L292.7,174.5 L291.6,176.6 L290.1,178.5 L288.5,180.3 L286.7,182.0 L284.7,183.6 L282.6,185.0 L280.5,186.2 L278.3,187.2 L276.1,188.1 L274.0,188.8 L271.9,189.2 L270.0,189.5 L268.2,189.6 L266.6,189.6 L265.2,189.3 L264.1,189.0 L263.2,188.5 L262.6,187.9 L262.3,187.2 L262.4,186.5" stroke="#9ebbde" stroke-width="1.6" fill="none" stroke-linecap="round" opacity="0.6"/>
<path d="M300.2,194.3 L300.2,196.4 L299.8,198.5 L299.2,200.6 L298.3,202.7 L297.1,204.8 L295.7,206.7 L294.0,208.5 L292.2,210.2 L290.2,211.8 L288.2,213.2 L286.0,214.4 L283.8,215.4 L281.6,216.3 L279.5,216.9 L277.4,217.4 L275.5,217.7 L273.7,217.8 L272.1,217.7 L270.7,217.5 L269.6,217.2 L268.7,216.7 L268.2,216.1 L267.9,215.4 L267.9,214.7 L269.6,223.5 L269.6,224.2 L269.9,224.9 L270.5,225.5 L271.3,226.0 L272.5,226.4 L273.9,226.6 L275.4,226.6 L277.2,226.5 L279.2,226.2 L281.2,225.8 L283.4,225.1 L285.6,224.3 L287.7,223.2 L289.9,222.0 L292.0,220.6 L293.9,219.0 L295.8,217.3 L297.4,215.5 L298.8,213.6 L300.0,211.6 L300.9,209.5 L301.6,207.4 L301.9,205.2 L302.0,203.1Z" fill="#3d78bd" stroke="#1e3c5e" stroke-width="0.8" stroke-linejoin="round"/>
<path d="M301.1,198.7 L301.1,200.8 L300.7,202.9 L300.1,205.1 L299.1,207.1 L298.0,209.2 L296.5,211.1 L294.9,212.9 L293.1,214.6 L291.1,216.2 L289.0,217.6 L286.9,218.8 L284.7,219.8 L282.5,220.7 L280.4,221.4 L278.3,221.8 L276.4,222.1 L274.6,222.2 L273.0,222.2 L271.6,221.9 L270.5,221.6 L269.6,221.1 L269.0,220.5 L268.7,219.8 L268.8,219.1" stroke="#9ebbde" stroke-width="1.6" fill="none" stroke-linecap="round" opacity="0.6"/>
<path d="M306.4,224.8 L306.6,226.9 L306.6,229.0 L306.2,231.1 L305.6,233.2 L304.7,235.3 L303.5,237.4 L302.1,239.3 L300.4,241.1 L298.6,242.8 L296.6,244.4 L294.6,245.8 L292.4,247.0 L290.2,248.0 L288.0,248.9 L285.9,249.5 L283.8,250.0 L281.9,250.3 L280.1,250.4 L278.5,250.3 L277.1,250.1 L276.0,249.8 L275.1,249.3 L274.6,248.7 L274.3,248.0 L276.0,256.8 L276.3,257.5 L276.9,258.1 L277.7,258.6 L278.9,259.0 L280.3,259.2 L281.8,259.2 L283.6,259.1 L285.6,258.8 L287.6,258.4 L289.8,257.7 L292.0,256.9 L294.1,255.8 L296.3,254.6 L298.4,253.2 L300.3,251.6 L302.2,249.9 L303.8,248.1 L305.2,246.2 L306.4,244.2 L307.3,242.1 L308.0,240.0 L308.3,237.8 L308.4,235.7 L308.1,233.6Z" fill="#3d78bd" stroke="#1e3c5e" stroke-width="0.8" stroke-linejoin="round"/>
<path d="M307.3,229.2 L307.5,231.3 L307.5,233.4 L307.1,235.5 L306.5,237.7 L305.5,239.7 L304.4,241.8 L302.9,243.7 L301.3,245.5 L299.5,247.2 L297.5,248.8 L295.4,250.2 L293.3,251.4 L291.1,252.4 L288.9,253.3 L286.8,254.0 L284.7,254.4 L282.8,254.7 L281.0,254.8 L279.4,254.8 L278.0,254.5 L276.9,254.2 L276.0,253.7 L275.4,253.1 L275.1,252.4" stroke="#9ebbde" stroke-width="1.6" fill="none" stroke-linecap="round" opacity="0.6"/>
<path d="M313.0,259.5 L313.0,261.6 L312.6,263.7 L312.0,265.8 L311.1,267.9 L309.9,270.0 L308.5,271.9 L306.8,273.7 L305.0,275.4 L303.0,277.0 L301.0,278.4 L298.8,279.6 L296.6,280.6 L294.4,281.5 L292.3,282.1 L290.2,282.6 L288.3,282.9 L286.5,283.0 L284.9,282.9 L283.5,282.7 L282.4,282.4 L281.5,281.9 L281.0,281.3 L280.7,280.6 L280.7,279.9 L282.4,288.7 L282.4,289.4 L282.7,290.1 L283.3,290.7 L284.1,291.2 L285.3,291.6 L286.7,291.8 L288.2,291.8 L290.0,291.7 L292.0,291.4 L294.0,291.0 L296.2,290.3 L298.4,289.5 L300.5,288.4 L302.7,287.2 L304.8,285.8 L306.7,284.2 L308.6,282.5 L310.2,280.7 L311.6,278.8 L312.8,276.8 L313.7,274.7 L314.4,272.6 L314.7,270.4 L314.8,268.3Z" fill="#3d78bd" stroke="#1e3c5e" stroke-width="0.8" stroke-linejoin="round"/>
<path d="M313.9,263.9 L313.9,266.0 L313.5,268.1 L312.9,270.3 L311.9,272.3 L310.8,274.4 L309.3,276.3 L307.7,278.1 L305.9,279.8 L303.9,281.4 L301.8,282.8 L299.7,284.0 L297.5,285.0 L295.3,285.9 L293.2,286.6 L291.1,287.0 L289.2,287.3 L287.4,287.4 L285.8,287.4 L284.4,287.1 L283.3,286.8 L282.4,286.3 L281.8,285.7 L281.5,285.0 L281.6,284.3" stroke="#9ebbde" stroke-width="1.6" fill="none" stroke-linecap="round" opacity="0.6"/>
<path d="M319.4,292.1 L319.4,294.2 L319.0,296.3 L318.4,298.4 L317.5,300.5 L316.3,302.6 L314.9,304.5 L313.2,306.3 L311.4,308.0 L309.4,309.6 L307.4,311.0 L305.2,312.2 L306.9,321.0 L309.1,319.8 L311.2,318.4 L313.1,316.8 L315.0,315.1 L316.6,313.3 L318.0,311.4 L319.2,309.4 L320.1,307.3 L320.8,305.2 L321.1,303.0 L321.2,300.9Z" fill="#3d78bd" stroke="#1e3c5e" stroke-width="0.8" stroke-linejoin="round"/>
<path d="M320.3,296.5 L320.3,298.6 L319.9,300.7 L319.3,302.9 L318.3,304.9 L317.2,307.0 L315.7,308.9 L314.1,310.7 L312.3,312.4 L310.3,314.0 L308.2,315.4 L306.1,316.6" stroke="#9ebbde" stroke-width="1.6" fill="none" stroke-linecap="round" opacity="0.6"/>
<path d="M261.6,102.3 L261.8,102.0 L262.3,101.7 L263.0,101.5 L264.0,101.4 L265.3,101.4 L266.7,101.5 L268.4,101.7 L270.2,102.0 L272.2,102.4 L274.2,103.0 L276.3,103.7 L278.5,104.6 L280.6,105.6 L282.6,106.7 L284.6,107.9 L286.5,109.2 L288.2,110.7 L289.7,112.2 L291.0,113.7 L292.0,115.4 L292.8,117.0 L293.3,118.7 L293.6,120.4 L293.5,122.1 L292.7,129.2 L292.7,127.5 L292.5,125.9 L292.0,124.2 L291.2,122.5 L290.1,120.9 L288.8,119.3 L287.3,117.8 L285.6,116.4 L283.8,115.1 L281.8,113.8 L279.7,112.7 L277.6,111.7 L275.5,110.9 L273.4,110.2 L271.3,109.6 L269.4,109.1 L267.5,108.8 L265.9,108.6 L264.4,108.6 L263.2,108.6 L262.2,108.7 L261.4,108.9 L261.0,109.2 L260.8,109.5Z" fill="#3b9b8a" stroke="#235d52" stroke-width="0.8" stroke-linejoin="round"/>
<path d="M257.9,133.9 L258.1,133.6 L258.6,133.3 L259.3,133.1 L260.3,133.0 L261.6,132.9 L263.0,133.0 L264.7,133.2 L266.5,133.5 L268.5,134.0 L270.5,134.6 L272.6,135.3 L274.8,136.1 L276.9,137.1 L279.0,138.2 L280.9,139.4 L282.8,140.8 L284.5,142.2 L286.0,143.7 L287.3,145.3 L288.3,146.9 L289.1,148.6 L289.7,150.2 L289.9,151.9 L289.8,153.6 L289.5,155.2 L288.7,162.4 L289.0,160.7 L289.1,159.1 L288.8,157.4 L288.3,155.7 L287.5,154.1 L286.4,152.4 L285.1,150.9 L283.6,149.3 L281.9,147.9 L280.1,146.6 L278.1,145.4 L276.1,144.3 L273.9,143.3 L271.8,142.4 L269.7,141.7 L267.6,141.1 L265.7,140.7 L263.9,140.4 L262.2,140.2 L260.7,140.1 L259.5,140.1 L258.5,140.2 L257.7,140.4 L257.3,140.7 L257.1,141.0Z" fill="#3b9b8a" stroke="#235d52" stroke-width="0.8" stroke-linejoin="round"/>
<path d="M254.4,165.1 L254.9,164.8 L255.6,164.6 L256.6,164.5 L257.9,164.5 L259.3,164.6 L261.0,164.8 L262.8,165.1 L264.8,165.5 L266.8,166.1 L268.9,166.8 L271.1,167.7 L273.2,168.7 L275.3,169.8 L277.2,171.0 L279.1,172.3 L280.8,173.7 L282.3,175.2 L283.6,176.8 L284.6,178.4 L285.4,180.1 L286.0,181.8 L286.2,183.5 L286.1,185.1 L285.3,192.3 L285.4,190.6 L285.1,188.9 L284.6,187.3 L283.8,185.6 L282.7,184.0 L281.5,182.4 L280.0,180.9 L278.3,179.5 L276.4,178.1 L274.4,176.9 L272.4,175.8 L270.2,174.8 L268.1,174.0 L266.0,173.3 L263.9,172.7 L262.0,172.2 L260.2,171.9 L258.5,171.7 L257.0,171.6 L255.8,171.7 L254.8,171.8 L254.0,172.0 L253.6,172.2Z" fill="#3b9b8a" stroke="#235d52" stroke-width="0.8" stroke-linejoin="round"/>
<path d="M250.5,196.9 L250.7,196.6 L251.2,196.4 L251.9,196.2 L252.9,196.0 L254.2,196.0 L255.6,196.1 L257.3,196.3 L259.1,196.6 L261.1,197.1 L263.1,197.6 L265.3,198.4 L267.4,199.2 L269.5,200.2 L271.6,201.3 L273.5,202.5 L275.4,203.8 L277.1,205.3 L278.6,206.8 L279.9,208.4 L280.9,210.0 L281.7,211.6 L282.3,213.3 L282.5,215.0 L282.5,216.7 L282.1,218.3 L281.3,225.5 L281.6,223.8 L281.7,222.2 L281.4,220.5 L280.9,218.8 L280.1,217.1 L279.1,215.5 L277.8,213.9 L276.3,212.4 L274.6,211.0 L272.7,209.7 L270.7,208.4 L268.7,207.3 L266.5,206.4 L264.4,205.5 L262.3,204.8 L260.2,204.2 L258.3,203.8 L256.5,203.4 L254.8,203.2 L253.3,203.2 L252.1,203.2 L251.1,203.3 L250.3,203.5 L249.9,203.8 L249.7,204.1Z" fill="#3b9b8a" stroke="#235d52" stroke-width="0.8" stroke-linejoin="round"/>
<path d="M246.8,228.5 L247.0,228.2 L247.5,227.9 L248.2,227.7 L249.2,227.6 L250.5,227.6 L252.0,227.6 L253.6,227.8 L255.4,228.2 L257.4,228.6 L259.4,229.2 L261.6,229.9 L263.7,230.7 L265.8,231.7 L267.9,232.8 L269.9,234.1 L271.7,235.4 L273.4,236.8 L274.9,238.3 L276.2,239.9 L277.3,241.5 L278.1,243.2 L278.6,244.9 L278.8,246.5 L278.8,248.2 L277.9,255.4 L278.0,253.7 L277.7,252.0 L277.2,250.3 L276.4,248.7 L275.4,247.0 L274.1,245.5 L272.6,244.0 L270.9,242.5 L269.0,241.2 L267.0,240.0 L265.0,238.9 L262.9,237.9 L260.7,237.1 L258.6,236.3 L256.6,235.8 L254.6,235.3 L252.8,235.0 L251.1,234.8 L249.7,234.7 L248.4,234.7 L247.4,234.9 L246.7,235.1 L246.2,235.3 L246.0,235.6Z" fill="#3b9b8a" stroke="#235d52" stroke-width="0.8" stroke-linejoin="round"/>
<path d="M243.1,260.0 L243.3,259.7 L243.8,259.4 L244.5,259.2 L245.5,259.1 L246.8,259.1 L248.3,259.2 L249.9,259.4 L251.7,259.7 L253.7,260.1 L255.8,260.7 L257.9,261.4 L260.0,262.3 L262.1,263.3 L264.2,264.4 L266.2,265.6 L268.0,266.9 L269.7,268.3 L271.2,269.9 L272.5,271.4 L273.6,273.1 L274.4,274.7 L274.9,276.4 L275.1,278.1 L275.1,279.7 L274.7,281.4 L273.9,288.5 L274.2,286.9 L274.3,285.2 L274.0,283.6 L273.5,281.9 L272.7,280.2 L271.7,278.6 L270.4,277.0 L268.9,275.5 L267.2,274.1 L265.3,272.7 L263.3,271.5 L261.3,270.4 L259.2,269.4 L257.0,268.6 L254.9,267.9 L252.9,267.3 L250.9,266.8 L249.1,266.5 L247.4,266.3 L246.0,266.2 L244.7,266.3 L243.7,266.4 L243.0,266.6 L242.5,266.9 L242.3,267.2Z" fill="#3b9b8a" stroke="#235d52" stroke-width="0.8" stroke-linejoin="round"/>
<path d="M239.5,291.6 L239.6,291.2 L240.1,291.0 L240.9,290.8 L241.9,290.7 L243.1,290.6 L244.6,290.7 L246.2,290.9 L248.1,291.2 L250.0,291.7 L252.1,292.3 L254.2,293.0 L256.3,293.8 L255.5,301.0 L253.3,300.1 L251.2,299.4 L249.2,298.8 L247.2,298.4 L245.4,298.1 L243.7,297.9 L242.3,297.8 L241.0,297.8 L240.0,297.9 L239.3,298.1 L238.8,298.4 L238.6,298.7Z" fill="#3b9b8a" stroke="#235d52" stroke-width="0.8" stroke-linejoin="round"/>
<path d="M278.6,103.1 L276.4,103.5 L274.1,103.7 L272.0,103.8 L270.0,103.8 L268.2,103.6 L266.5,103.4 L265.0,103.2 L263.8,102.9 L262.9,102.5 L262.2,102.2 L261.8,101.8 L261.7,101.4 L260.7,110.4 L260.8,110.7 L261.2,111.1 L261.8,111.5 L262.8,111.8 L264.0,112.1 L265.4,112.4 L267.1,112.6 L269.0,112.7 L271.0,112.7 L273.1,112.6 L275.3,112.4 L277.6,112.1Z" fill="#52d8c0" stroke="#296c60" stroke-width="0.8" stroke-linejoin="round"/>
<path d="M278.1,107.6 L275.8,107.9 L273.6,108.1 L271.5,108.2 L269.5,108.2 L267.6,108.1 L266.0,107.9 L264.5,107.7 L263.3,107.3 L262.4,107.0 L261.7,106.6 L261.3,106.3 L261.2,105.9" stroke="#a8ebdf" stroke-width="1.6" fill="none" stroke-linecap="round" opacity="0.6"/>
<path d="M293.6,121.2 L293.3,122.8 L292.7,124.4 L291.8,125.9 L290.6,127.3 L289.2,128.7 L287.6,129.9 L285.8,131.0 L283.8,132.0 L281.7,132.9 L279.5,133.6 L277.2,134.2 L274.9,134.7 L272.7,135.0 L270.4,135.2 L268.3,135.3 L266.3,135.3 L264.5,135.2 L262.8,135.0 L261.4,134.7 L260.1,134.4 L259.2,134.1 L258.5,133.7 L258.1,133.3 L258.0,133.0 L257.0,141.9 L257.1,142.3 L257.5,142.6 L258.2,143.0 L259.1,143.4 L260.3,143.7 L261.8,143.9 L263.4,144.1 L265.3,144.2 L267.3,144.2 L269.4,144.1 L271.6,143.9 L273.9,143.6 L276.2,143.1 L278.4,142.5 L280.7,141.8 L282.8,140.9 L284.7,140.0 L286.6,138.8 L288.2,137.6 L289.6,136.3 L290.7,134.8 L291.6,133.3 L292.3,131.7 L292.6,130.1Z" fill="#52d8c0" stroke="#296c60" stroke-width="0.8" stroke-linejoin="round"/>
<path d="M293.1,125.6 L292.8,127.3 L292.2,128.8 L291.3,130.4 L290.1,131.8 L288.7,133.1 L287.1,134.4 L285.3,135.5 L283.3,136.5 L281.2,137.3 L279.0,138.1 L276.7,138.7 L274.4,139.1 L272.1,139.5 L269.9,139.7 L267.8,139.8 L265.8,139.8 L263.9,139.6 L262.3,139.5 L260.8,139.2 L259.6,138.9 L258.7,138.5 L258.0,138.2 L257.6,137.8 L257.5,137.4" stroke="#a8ebdf" stroke-width="1.6" fill="none" stroke-linecap="round" opacity="0.6"/>
<path d="M289.6,154.3 L289.0,155.9 L288.1,157.4 L286.9,158.9 L285.5,160.2 L283.9,161.4 L282.1,162.6 L280.1,163.5 L278.0,164.4 L275.8,165.1 L273.5,165.7 L271.2,166.2 L269.0,166.5 L266.8,166.7 L264.6,166.8 L262.6,166.8 L260.8,166.7 L259.1,166.5 L257.7,166.3 L256.5,166.0 L255.5,165.6 L254.8,165.2 L254.4,164.9 L254.3,164.5 L254.5,164.2 L253.5,173.1 L253.3,173.5 L253.4,173.8 L253.8,174.2 L254.5,174.5 L255.4,174.9 L256.6,175.2 L258.1,175.5 L259.7,175.7 L261.6,175.8 L263.6,175.8 L265.7,175.7 L267.9,175.5 L270.2,175.1 L272.5,174.7 L274.8,174.1 L277.0,173.4 L279.1,172.5 L281.0,171.5 L282.9,170.4 L284.5,169.1 L285.9,167.8 L287.0,166.4 L287.9,164.9 L288.6,163.3Z" fill="#52d8c0" stroke="#296c60" stroke-width="0.8" stroke-linejoin="round"/>
<path d="M289.1,158.8 L288.5,160.4 L287.6,161.9 L286.4,163.3 L285.0,164.7 L283.4,165.9 L281.6,167.0 L279.6,168.0 L277.5,168.9 L275.3,169.6 L273.0,170.2 L270.7,170.7 L268.5,171.0 L266.2,171.2 L264.1,171.3 L262.1,171.3 L260.2,171.2 L258.6,171.0 L257.1,170.7 L255.9,170.4 L255.0,170.1 L254.3,169.7 L253.9,169.3 L253.8,169.0 L254.0,168.7" stroke="#a8ebdf" stroke-width="1.6" fill="none" stroke-linecap="round" opacity="0.6"/>
<path d="M286.3,184.2 L285.9,185.9 L285.3,187.5 L284.4,189.0 L283.2,190.4 L281.8,191.7 L280.2,193.0 L278.4,194.1 L276.4,195.1 L274.3,196.0 L272.1,196.7 L269.8,197.3 L267.6,197.7 L265.3,198.1 L263.1,198.3 L260.9,198.4 L258.9,198.4 L257.1,198.3 L255.4,198.1 L254.0,197.8 L252.8,197.5 L251.8,197.1 L251.1,196.8 L250.7,196.4 L250.6,196.1 L249.6,205.0 L249.7,205.3 L250.1,205.7 L250.8,206.1 L251.7,206.4 L252.9,206.7 L254.4,207.0 L256.0,207.2 L257.9,207.3 L259.9,207.3 L262.0,207.2 L264.2,207.0 L266.5,206.7 L268.8,206.2 L271.1,205.6 L273.3,204.9 L275.4,204.0 L277.4,203.0 L279.2,201.9 L280.8,200.7 L282.2,199.3 L283.4,197.9 L284.2,196.4 L284.9,194.8 L285.2,193.2Z" fill="#52d8c0" stroke="#296c60" stroke-width="0.8" stroke-linejoin="round"/>
<path d="M285.7,188.7 L285.4,190.3 L284.8,191.9 L283.9,193.4 L282.7,194.9 L281.3,196.2 L279.7,197.4 L277.9,198.6 L275.9,199.6 L273.8,200.4 L271.6,201.2 L269.3,201.7 L267.0,202.2 L264.8,202.5 L262.5,202.8 L260.4,202.8 L258.4,202.8 L256.6,202.7 L254.9,202.5 L253.4,202.3 L252.2,202.0 L251.3,201.6 L250.6,201.2 L250.2,200.9 L250.1,200.5" stroke="#a8ebdf" stroke-width="1.6" fill="none" stroke-linecap="round" opacity="0.6"/>
<path d="M282.2,217.4 L281.6,219.0 L280.7,220.5 L279.5,221.9 L278.1,223.3 L276.5,224.5 L274.7,225.6 L272.7,226.6 L270.6,227.5 L268.4,228.2 L266.2,228.8 L263.9,229.3 L261.6,229.6 L259.4,229.8 L257.2,229.9 L255.2,229.9 L253.4,229.8 L251.7,229.6 L250.3,229.3 L249.1,229.0 L248.1,228.7 L247.4,228.3 L247.1,227.9 L246.9,227.6 L245.9,236.5 L246.0,236.9 L246.4,237.3 L247.1,237.6 L248.0,238.0 L249.2,238.3 L250.7,238.5 L252.3,238.7 L254.2,238.8 L256.2,238.9 L258.3,238.8 L260.5,238.6 L262.8,238.2 L265.1,237.8 L267.4,237.2 L269.6,236.4 L271.7,235.6 L273.7,234.6 L275.5,233.5 L277.1,232.2 L278.5,230.9 L279.7,229.4 L280.6,227.9 L281.2,226.3Z" fill="#52d8c0" stroke="#296c60" stroke-width="0.8" stroke-linejoin="round"/>
<path d="M281.7,221.9 L281.1,223.5 L280.2,225.0 L279.0,226.4 L277.6,227.7 L276.0,229.0 L274.2,230.1 L272.2,231.1 L270.1,232.0 L267.9,232.7 L265.6,233.3 L263.3,233.8 L261.1,234.1 L258.8,234.3 L256.7,234.4 L254.7,234.4 L252.9,234.3 L251.2,234.1 L249.8,233.8 L248.5,233.5 L247.6,233.1 L246.9,232.8 L246.5,232.4 L246.4,232.1" stroke="#a8ebdf" stroke-width="1.6" fill="none" stroke-linecap="round" opacity="0.6"/>
<path d="M278.9,247.3 L278.5,248.9 L277.9,250.5 L277.0,252.0 L275.9,253.5 L274.5,254.8 L272.8,256.1 L271.0,257.2 L269.0,258.2 L266.9,259.0 L264.7,259.8 L262.5,260.4 L260.2,260.8 L257.9,261.2 L255.7,261.4 L253.5,261.5 L251.5,261.4 L249.7,261.3 L248.0,261.1 L246.6,260.9 L245.4,260.6 L244.4,260.2 L243.8,259.9 L243.4,259.5 L243.3,259.1 L242.2,268.1 L242.3,268.4 L242.7,268.8 L243.4,269.2 L244.3,269.5 L245.5,269.8 L247.0,270.1 L248.6,270.3 L250.5,270.4 L252.5,270.4 L254.6,270.3 L256.9,270.1 L259.1,269.8 L261.4,269.3 L263.7,268.7 L265.9,268.0 L268.0,267.1 L270.0,266.1 L271.8,265.0 L273.4,263.8 L274.8,262.4 L276.0,261.0 L276.9,259.5 L277.5,257.9 L277.8,256.3Z" fill="#52d8c0" stroke="#296c60" stroke-width="0.8" stroke-linejoin="round"/>
<path d="M278.3,251.8 L278.0,253.4 L277.4,255.0 L276.5,256.5 L275.3,257.9 L273.9,259.3 L272.3,260.5 L270.5,261.6 L268.5,262.6 L266.4,263.5 L264.2,264.2 L261.9,264.8 L259.6,265.3 L257.4,265.6 L255.2,265.8 L253.0,265.9 L251.0,265.9 L249.2,265.8 L247.5,265.6 L246.1,265.3 L244.9,265.0 L243.9,264.7 L243.2,264.3 L242.8,264.0 L242.7,263.6" stroke="#a8ebdf" stroke-width="1.6" fill="none" stroke-linecap="round" opacity="0.6"/>
<path d="M274.8,280.5 L274.2,282.1 L273.3,283.6 L272.2,285.0 L270.8,286.4 L269.1,287.6 L267.3,288.7 L265.3,289.7 L263.2,290.6 L261.0,291.3 L258.8,291.9 L256.5,292.4 L254.2,292.7 L252.0,292.9 L249.9,293.0 L247.8,293.0 L246.0,292.9 L244.3,292.7 L242.9,292.4 L241.7,292.1 L240.7,291.8 L240.1,291.4 L239.7,291.0 L239.6,290.7 L238.5,299.6 L238.6,300.0 L239.0,300.3 L239.7,300.7 L240.6,301.0 L241.8,301.4 L243.3,301.6 L245.0,301.8 L246.8,301.9 L248.8,301.9 L250.9,301.8 L253.2,301.6 L255.4,301.3 L257.7,300.8 L260.0,300.2 L262.2,299.5 L264.3,298.6 L266.3,297.6 L268.1,296.5 L269.7,295.3 L271.1,294.0 L272.3,292.5 L273.2,291.0 L273.8,289.4Z" fill="#52d8c0" stroke="#296c60" stroke-width="0.8" stroke-linejoin="round"/>
<path d="M274.3,285.0 L273.7,286.5 L272.8,288.1 L271.6,289.5 L270.2,290.8 L268.6,292.1 L266.8,293.2 L264.8,294.2 L262.7,295.0 L260.5,295.8 L258.2,296.4 L256.0,296.8 L253.7,297.2 L251.5,297.4 L249.3,297.5 L247.3,297.5 L245.5,297.3 L243.8,297.1 L242.4,296.9 L241.2,296.6 L240.2,296.2 L239.5,295.9 L239.1,295.5 L239.0,295.1" stroke="#a8ebdf" stroke-width="1.6" fill="none" stroke-linecap="round" opacity="0.6"/>
<path d="M214.2,105.0 L214.4,104.6 L214.8,104.2 L215.5,103.8 L216.6,103.4 L217.9,103.1 L219.4,102.9 L221.2,102.7 L223.1,102.7 L225.2,102.7 L227.5,102.9 L229.8,103.2 L232.2,103.7 L234.6,104.3 L236.9,105.0 L239.2,105.9 L241.4,106.9 L243.4,108.0 L245.2,109.3 L246.8,110.6 L248.2,112.1 L249.3,113.6 L250.2,115.2 L250.7,116.9 L251.0,118.6 L251.3,125.8 L251.1,124.1 L250.5,122.4 L249.7,120.8 L248.6,119.3 L247.2,117.8 L245.6,116.5 L243.7,115.2 L241.7,114.1 L239.6,113.1 L237.3,112.2 L234.9,111.5 L232.5,110.9 L230.2,110.4 L227.8,110.1 L225.6,109.9 L223.5,109.9 L221.5,109.9 L219.8,110.0 L218.2,110.3 L216.9,110.6 L215.9,110.9 L215.2,111.3 L214.7,111.8 L214.6,112.2Z" fill="#76a276" stroke="#466146" stroke-width="0.8" stroke-linejoin="round"/>
<path d="M215.8,135.8 L215.9,135.3 L216.3,134.9 L217.1,134.5 L218.1,134.2 L219.4,133.9 L220.9,133.6 L222.7,133.5 L224.7,133.4 L226.8,133.5 L229.0,133.7 L231.3,134.0 L233.7,134.5 L236.1,135.1 L238.5,135.8 L240.7,136.7 L242.9,137.7 L244.9,138.8 L246.7,140.0 L248.4,141.4 L249.8,142.9 L250.9,144.4 L251.7,146.0 L252.3,147.7 L252.5,149.4 L252.4,151.1 L252.8,158.2 L252.8,156.5 L252.6,154.9 L252.1,153.2 L251.2,151.6 L250.1,150.1 L248.7,148.6 L247.1,147.2 L245.3,146.0 L243.3,144.9 L241.1,143.9 L238.8,143.0 L236.5,142.3 L234.1,141.7 L231.7,141.2 L229.4,140.9 L227.1,140.7 L225.0,140.6 L223.1,140.7 L221.3,140.8 L219.8,141.1 L218.5,141.4 L217.4,141.7 L216.7,142.1 L216.3,142.5 L216.1,143.0Z" fill="#76a276" stroke="#466146" stroke-width="0.8" stroke-linejoin="round"/>
<path d="M217.4,166.1 L217.9,165.7 L218.6,165.3 L219.6,164.9 L220.9,164.6 L222.5,164.4 L224.2,164.3 L226.2,164.2 L228.3,164.3 L230.6,164.5 L232.9,164.8 L235.3,165.2 L237.6,165.8 L240.0,166.6 L242.3,167.4 L244.4,168.4 L246.4,169.6 L248.3,170.8 L249.9,172.2 L251.3,173.6 L252.4,175.2 L253.2,176.8 L253.8,178.4 L254.0,180.1 L254.4,187.3 L254.1,185.6 L253.6,184.0 L252.8,182.4 L251.6,180.8 L250.3,179.4 L248.6,178.0 L246.8,176.8 L244.8,175.6 L242.6,174.6 L240.4,173.8 L238.0,173.0 L235.6,172.4 L233.2,172.0 L230.9,171.7 L228.7,171.5 L226.6,171.4 L224.6,171.4 L222.8,171.6 L221.3,171.8 L220.0,172.1 L219.0,172.5 L218.2,172.9 L217.8,173.3Z" fill="#76a276" stroke="#466146" stroke-width="0.8" stroke-linejoin="round"/>
<path d="M218.8,197.3 L219.0,196.9 L219.4,196.5 L220.2,196.1 L221.2,195.7 L222.5,195.4 L224.0,195.2 L225.8,195.0 L227.7,195.0 L229.9,195.0 L232.1,195.2 L234.4,195.6 L236.8,196.0 L239.2,196.6 L241.5,197.3 L243.8,198.2 L246.0,199.2 L248.0,200.3 L249.8,201.6 L251.4,202.9 L252.8,204.4 L253.9,205.9 L254.8,207.5 L255.3,209.2 L255.6,210.9 L255.5,212.6 L255.9,219.8 L255.9,218.1 L255.7,216.4 L255.1,214.7 L254.3,213.1 L253.2,211.6 L251.8,210.1 L250.2,208.8 L248.3,207.5 L246.3,206.4 L244.2,205.4 L241.9,204.5 L239.5,203.8 L237.2,203.2 L234.8,202.7 L232.5,202.4 L230.2,202.2 L228.1,202.2 L226.1,202.2 L224.4,202.4 L222.8,202.6 L221.5,202.9 L220.5,203.3 L219.8,203.7 L219.3,204.1 L219.2,204.5Z" fill="#76a276" stroke="#466146" stroke-width="0.8" stroke-linejoin="round"/>
<path d="M220.4,228.1 L220.5,227.6 L221.0,227.2 L221.7,226.8 L222.7,226.5 L224.0,226.2 L225.6,225.9 L227.3,225.8 L229.3,225.7 L231.4,225.8 L233.6,226.0 L236.0,226.3 L238.3,226.8 L240.7,227.4 L243.1,228.1 L245.3,229.0 L247.5,230.0 L249.5,231.1 L251.4,232.4 L253.0,233.7 L254.4,235.2 L255.5,236.7 L256.3,238.3 L256.9,240.0 L257.1,241.7 L257.5,248.9 L257.2,247.2 L256.7,245.5 L255.8,243.9 L254.7,242.4 L253.3,240.9 L251.7,239.5 L249.9,238.3 L247.9,237.2 L245.7,236.2 L243.4,235.3 L241.1,234.6 L238.7,234.0 L236.3,233.5 L234.0,233.2 L231.8,233.0 L229.6,232.9 L227.7,233.0 L225.9,233.1 L224.4,233.4 L223.1,233.7 L222.1,234.0 L221.3,234.4 L220.9,234.8 L220.7,235.3Z" fill="#76a276" stroke="#466146" stroke-width="0.8" stroke-linejoin="round"/>
<path d="M221.9,258.8 L222.1,258.4 L222.5,258.0 L223.2,257.6 L224.3,257.2 L225.5,256.9 L227.1,256.7 L228.9,256.6 L230.8,256.5 L232.9,256.6 L235.2,256.8 L237.5,257.1 L239.9,257.5 L242.3,258.1 L244.6,258.9 L246.9,259.7 L249.0,260.7 L251.1,261.9 L252.9,263.1 L254.5,264.5 L255.9,265.9 L257.0,267.5 L257.9,269.1 L258.4,270.7 L258.6,272.4 L258.6,274.1 L258.9,281.3 L259.0,279.6 L258.8,277.9 L258.2,276.3 L257.4,274.7 L256.3,273.1 L254.9,271.7 L253.3,270.3 L251.4,269.1 L249.4,267.9 L247.2,266.9 L245.0,266.1 L242.6,265.3 L240.2,264.7 L237.9,264.3 L235.5,264.0 L233.3,263.8 L231.2,263.7 L229.2,263.8 L227.5,263.9 L225.9,264.1 L224.6,264.4 L223.6,264.8 L222.9,265.2 L222.4,265.6 L222.3,266.0Z" fill="#76a276" stroke="#466146" stroke-width="0.8" stroke-linejoin="round"/>
<path d="M223.5,289.6 L223.6,289.2 L224.0,288.8 L224.8,288.4 L225.8,288.0 L227.1,287.7 L228.6,287.5 L230.4,287.3 L232.4,287.3 L234.5,287.4 L236.7,287.5 L239.0,287.9 L241.4,288.3 L241.8,295.5 L239.4,295.1 L237.1,294.7 L234.8,294.5 L232.7,294.5 L230.8,294.5 L229.0,294.7 L227.4,294.9 L226.2,295.2 L225.1,295.6 L224.4,296.0 L224.0,296.4 L223.8,296.8Z" fill="#76a276" stroke="#466146" stroke-width="0.8" stroke-linejoin="round"/>
<path d="M232.2,103.6 L229.9,104.3 L227.6,104.8 L225.4,105.2 L223.3,105.5 L221.3,105.7 L219.5,105.7 L218.0,105.6 L216.7,105.5 L215.6,105.2 L214.8,104.9 L214.4,104.5 L214.2,104.1 L214.6,113.1 L214.8,113.5 L215.3,113.9 L216.1,114.2 L217.1,114.4 L218.4,114.6 L220.0,114.7 L221.8,114.7 L223.7,114.5 L225.8,114.2 L228.0,113.8 L230.3,113.3 L232.6,112.6Z" fill="#a4e2a4" stroke="#527152" stroke-width="0.8" stroke-linejoin="round"/>
<path d="M232.4,108.1 L230.1,108.8 L227.8,109.3 L225.6,109.7 L223.5,110.0 L221.5,110.2 L219.8,110.2 L218.2,110.1 L216.9,110.0 L215.8,109.7 L215.1,109.4 L214.6,109.0 L214.4,108.6" stroke="#d1f0d1" stroke-width="1.6" fill="none" stroke-linecap="round" opacity="0.6"/>
<path d="M250.9,117.7 L250.8,119.4 L250.5,121.1 L249.8,122.8 L248.8,124.4 L247.6,126.0 L246.1,127.5 L244.4,128.9 L242.5,130.3 L240.5,131.5 L238.3,132.6 L236.0,133.5 L233.7,134.4 L231.4,135.1 L229.1,135.6 L226.9,136.0 L224.8,136.3 L222.9,136.4 L221.1,136.5 L219.5,136.4 L218.2,136.2 L217.1,136.0 L216.4,135.6 L215.9,135.3 L215.7,134.9 L216.2,143.9 L216.3,144.3 L216.8,144.6 L217.6,145.0 L218.7,145.2 L220.0,145.4 L221.5,145.5 L223.3,145.4 L225.3,145.3 L227.4,145.0 L229.6,144.6 L231.8,144.0 L234.2,143.4 L236.5,142.5 L238.7,141.6 L240.9,140.5 L243.0,139.3 L244.9,137.9 L246.6,136.5 L248.0,135.0 L249.3,133.4 L250.2,131.8 L250.9,130.1 L251.3,128.4 L251.4,126.7Z" fill="#a4e2a4" stroke="#527152" stroke-width="0.8" stroke-linejoin="round"/>
<path d="M251.1,122.2 L251.1,123.9 L250.7,125.6 L250.0,127.3 L249.1,128.9 L247.8,130.5 L246.3,132.0 L244.6,133.4 L242.7,134.8 L240.7,136.0 L238.5,137.1 L236.3,138.0 L233.9,138.9 L231.6,139.5 L229.3,140.1 L227.1,140.5 L225.0,140.8 L223.1,140.9 L221.3,141.0 L219.7,140.9 L218.4,140.7 L217.4,140.5 L216.6,140.1 L216.1,139.8 L215.9,139.4" stroke="#d1f0d1" stroke-width="1.6" fill="none" stroke-linecap="round" opacity="0.6"/>
<path d="M252.4,150.2 L252.0,151.9 L251.3,153.5 L250.4,155.2 L249.1,156.8 L247.7,158.3 L246.0,159.7 L244.1,161.0 L242.0,162.3 L239.8,163.3 L237.6,164.3 L235.3,165.1 L232.9,165.8 L230.7,166.4 L228.4,166.8 L226.3,167.1 L224.4,167.2 L222.6,167.2 L221.1,167.2 L219.7,167.0 L218.7,166.7 L217.9,166.4 L217.4,166.0 L217.3,165.6 L217.4,165.2 L217.8,174.2 L217.7,174.6 L217.9,175.0 L218.4,175.4 L219.1,175.7 L220.2,176.0 L221.5,176.2 L223.1,176.2 L224.8,176.2 L226.8,176.1 L228.9,175.8 L231.1,175.4 L233.4,174.8 L235.7,174.1 L238.0,173.3 L240.3,172.3 L242.5,171.2 L244.5,170.0 L246.4,168.7 L248.1,167.3 L249.6,165.8 L250.8,164.2 L251.8,162.5 L252.5,160.8 L252.8,159.1Z" fill="#a4e2a4" stroke="#527152" stroke-width="0.8" stroke-linejoin="round"/>
<path d="M252.6,154.7 L252.2,156.4 L251.6,158.0 L250.6,159.7 L249.4,161.3 L247.9,162.8 L246.2,164.2 L244.3,165.5 L242.2,166.7 L240.1,167.8 L237.8,168.8 L235.5,169.6 L233.2,170.3 L230.9,170.9 L228.7,171.3 L226.6,171.6 L224.6,171.7 L222.8,171.7 L221.3,171.7 L220.0,171.5 L218.9,171.2 L218.1,170.9 L217.7,170.5 L217.5,170.1 L217.6,169.7" stroke="#d1f0d1" stroke-width="1.6" fill="none" stroke-linecap="round" opacity="0.6"/>
<path d="M254.0,179.2 L253.9,180.9 L253.5,182.6 L252.9,184.3 L251.9,186.0 L250.7,187.5 L249.2,189.1 L247.5,190.5 L245.6,191.8 L243.5,193.0 L241.4,194.1 L239.1,195.1 L236.8,195.9 L234.5,196.6 L232.2,197.1 L230.0,197.6 L227.9,197.8 L225.9,198.0 L224.2,198.0 L222.6,197.9 L221.3,197.8 L220.2,197.5 L219.5,197.2 L219.0,196.8 L218.8,196.4 L219.2,205.4 L219.4,205.8 L219.9,206.2 L220.7,206.5 L221.7,206.8 L223.0,206.9 L224.6,207.0 L226.4,207.0 L228.3,206.8 L230.4,206.5 L232.6,206.1 L234.9,205.6 L237.2,204.9 L239.6,204.1 L241.8,203.1 L244.0,202.0 L246.1,200.8 L247.9,199.5 L249.6,198.0 L251.1,196.5 L252.4,194.9 L253.3,193.3 L254.0,191.6 L254.4,189.9 L254.4,188.2Z" fill="#a4e2a4" stroke="#527152" stroke-width="0.8" stroke-linejoin="round"/>
<path d="M254.2,183.7 L254.1,185.4 L253.8,187.1 L253.1,188.8 L252.1,190.4 L250.9,192.0 L249.4,193.5 L247.7,195.0 L245.8,196.3 L243.8,197.5 L241.6,198.6 L239.3,199.6 L237.0,200.4 L234.7,201.1 L232.4,201.6 L230.2,202.0 L228.1,202.3 L226.2,202.5 L224.4,202.5 L222.8,202.4 L221.5,202.3 L220.4,202.0 L219.7,201.7 L219.2,201.3 L219.0,200.9" stroke="#d1f0d1" stroke-width="1.6" fill="none" stroke-linecap="round" opacity="0.6"/>
<path d="M255.5,211.7 L255.1,213.4 L254.4,215.1 L253.4,216.7 L252.2,218.3 L250.7,219.8 L249.0,221.2 L247.1,222.6 L245.1,223.8 L242.9,224.9 L240.6,225.8 L238.3,226.7 L236.0,227.4 L233.7,227.9 L231.5,228.3 L229.4,228.6 L227.5,228.8 L225.7,228.8 L224.1,228.7 L222.8,228.5 L221.8,228.3 L221.0,228.0 L220.5,227.6 L220.3,227.2 L220.8,236.2 L221.0,236.6 L221.4,236.9 L222.2,237.3 L223.3,237.5 L224.6,237.7 L226.1,237.8 L227.9,237.7 L229.9,237.6 L232.0,237.3 L234.2,236.9 L236.5,236.4 L238.8,235.7 L241.1,234.8 L243.4,233.9 L245.5,232.8 L247.6,231.6 L249.5,230.2 L251.2,228.8 L252.7,227.3 L253.9,225.7 L254.9,224.1 L255.5,222.4 L255.9,220.7Z" fill="#a4e2a4" stroke="#527152" stroke-width="0.8" stroke-linejoin="round"/>
<path d="M255.7,216.2 L255.3,217.9 L254.6,219.6 L253.7,221.2 L252.4,222.8 L251.0,224.3 L249.3,225.7 L247.4,227.1 L245.3,228.3 L243.1,229.4 L240.9,230.3 L238.6,231.2 L236.2,231.9 L234.0,232.4 L231.7,232.8 L229.6,233.1 L227.7,233.2 L225.9,233.3 L224.4,233.2 L223.0,233.0 L222.0,232.8 L221.2,232.4 L220.7,232.1 L220.6,231.7" stroke="#d1f0d1" stroke-width="1.6" fill="none" stroke-linecap="round" opacity="0.6"/>
<path d="M257.1,240.8 L257.0,242.5 L256.6,244.2 L255.9,245.8 L255.0,247.5 L253.8,249.1 L252.3,250.6 L250.6,252.0 L248.7,253.3 L246.6,254.6 L244.4,255.7 L242.2,256.6 L239.9,257.4 L237.6,258.1 L235.3,258.7 L233.1,259.1 L231.0,259.4 L229.0,259.5 L227.2,259.6 L225.7,259.5 L224.4,259.3 L223.3,259.0 L222.5,258.7 L222.0,258.4 L221.9,257.9 L222.3,266.9 L222.5,267.3 L223.0,267.7 L223.8,268.0 L224.8,268.3 L226.1,268.5 L227.7,268.5 L229.5,268.5 L231.4,268.4 L233.5,268.1 L235.7,267.7 L238.0,267.1 L240.3,266.4 L242.6,265.6 L244.9,264.6 L247.1,263.5 L249.1,262.3 L251.0,261.0 L252.7,259.6 L254.2,258.1 L255.4,256.5 L256.4,254.8 L257.1,253.2 L257.4,251.5 L257.5,249.7Z" fill="#a4e2a4" stroke="#527152" stroke-width="0.8" stroke-linejoin="round"/>
<path d="M257.3,245.3 L257.2,247.0 L256.8,248.7 L256.2,250.3 L255.2,252.0 L254.0,253.6 L252.5,255.1 L250.8,256.5 L248.9,257.8 L246.8,259.1 L244.7,260.1 L242.4,261.1 L240.1,261.9 L237.8,262.6 L235.5,263.2 L233.3,263.6 L231.2,263.9 L229.2,264.0 L227.5,264.0 L225.9,264.0 L224.6,263.8 L223.5,263.5 L222.8,263.2 L222.3,262.8 L222.1,262.4" stroke="#d1f0d1" stroke-width="1.6" fill="none" stroke-linecap="round" opacity="0.6"/>
<path d="M258.5,273.2 L258.2,274.9 L257.5,276.6 L256.5,278.3 L255.3,279.8 L253.8,281.4 L252.1,282.8 L250.2,284.1 L248.2,285.3 L246.0,286.4 L243.7,287.4 L241.4,288.2 L239.1,288.9 L236.8,289.4 L234.6,289.9 L232.5,290.1 L230.5,290.3 L228.8,290.3 L227.2,290.2 L225.9,290.1 L224.8,289.8 L224.1,289.5 L223.6,289.1 L223.4,288.7 L223.9,297.7 L224.0,298.1 L224.5,298.5 L225.3,298.8 L226.3,299.1 L227.7,299.2 L229.2,299.3 L231.0,299.3 L232.9,299.1 L235.0,298.9 L237.3,298.4 L239.5,297.9 L241.9,297.2 L244.2,296.4 L246.4,295.4 L248.6,294.3 L250.7,293.1 L252.6,291.8 L254.3,290.3 L255.7,288.8 L257.0,287.2 L257.9,285.6 L258.6,283.9 L259.0,282.2Z" fill="#a4e2a4" stroke="#527152" stroke-width="0.8" stroke-linejoin="round"/>
<path d="M258.8,277.7 L258.4,279.4 L257.7,281.1 L256.7,282.8 L255.5,284.3 L254.0,285.9 L252.3,287.3 L250.4,288.6 L248.4,289.8 L246.2,290.9 L243.9,291.9 L241.6,292.7 L239.3,293.4 L237.0,293.9 L234.8,294.4 L232.7,294.6 L230.8,294.8 L229.0,294.8 L227.4,294.7 L226.1,294.6 L225.1,294.3 L224.3,294.0 L223.8,293.6 L223.6,293.2" stroke="#d1f0d1" stroke-width="1.6" fill="none" stroke-linecap="round" opacity="0.6"/>
<path d="M145.4,48.7 L145.8,48.2 L146.7,47.8 L147.8,47.3 L149.2,46.9 L151.0,46.7 L152.9,46.5 L155.1,46.4 L157.4,46.4 L159.9,46.6 L162.5,46.9 L165.1,47.4 L167.8,48.0 L170.4,48.8 L172.9,49.8 L175.3,50.9 L177.5,52.1 L179.6,53.4 L181.4,54.9 L182.9,56.5 L184.1,58.2 L185.0,59.9 L185.6,61.7 L185.9,63.5 L185.8,65.4 L186.1,72.6 L186.2,70.7 L185.9,68.9 L185.3,67.1 L184.4,65.4 L183.2,63.7 L181.7,62.1 L179.9,60.6 L177.8,59.3 L175.6,58.0 L173.2,57.0 L170.7,56.0 L168.1,55.2 L165.5,54.6 L162.8,54.1 L160.2,53.8 L157.8,53.6 L155.4,53.6 L153.2,53.7 L151.3,53.8 L149.6,54.1 L148.1,54.5 L147.0,54.9 L146.2,55.4 L145.7,55.9Z" fill="#6c9e6c" stroke="#405e40" stroke-width="0.8" stroke-linejoin="round"/>
<path d="M146.7,80.7 L147.2,80.2 L148.0,79.8 L149.2,79.3 L150.6,78.9 L152.3,78.7 L154.3,78.5 L156.5,78.4 L158.8,78.4 L161.3,78.6 L163.9,78.9 L166.5,79.4 L169.2,80.0 L171.8,80.8 L174.3,81.8 L176.7,82.9 L178.9,84.1 L180.9,85.4 L182.7,86.9 L184.2,88.5 L185.5,90.2 L186.4,91.9 L187.0,93.7 L187.2,95.5 L187.1,97.4 L187.5,104.6 L187.5,102.7 L187.3,100.9 L186.7,99.1 L185.8,97.4 L184.6,95.7 L183.0,94.1 L181.2,92.6 L179.2,91.3 L177.0,90.0 L174.6,89.0 L172.1,88.0 L169.5,87.2 L166.8,86.6 L164.2,86.1 L161.6,85.8 L159.1,85.6 L156.8,85.6 L154.6,85.7 L152.6,85.8 L150.9,86.1 L149.5,86.5 L148.4,86.9 L147.5,87.4 L147.0,87.9Z" fill="#6c9e6c" stroke="#405e40" stroke-width="0.8" stroke-linejoin="round"/>
<path d="M148.1,112.7 L148.6,112.2 L149.4,111.8 L150.6,111.3 L152.0,110.9 L153.7,110.7 L155.7,110.5 L157.8,110.4 L160.2,110.4 L162.7,110.6 L165.3,110.9 L167.9,111.4 L170.5,112.0 L173.1,112.8 L175.7,113.8 L178.1,114.9 L180.3,116.1 L182.3,117.4 L184.1,118.9 L185.6,120.5 L186.9,122.2 L187.8,123.9 L188.4,125.7 L188.6,127.5 L188.5,129.4 L188.8,136.6 L188.9,134.7 L188.7,132.9 L188.1,131.1 L187.2,129.4 L185.9,127.7 L184.4,126.1 L182.6,124.6 L180.6,123.3 L178.4,122.0 L176.0,121.0 L173.4,120.0 L170.8,119.2 L168.2,118.6 L165.6,118.1 L163.0,117.8 L160.5,117.6 L158.2,117.6 L156.0,117.7 L154.0,117.8 L152.3,118.1 L150.9,118.5 L149.7,118.9 L148.9,119.4 L148.4,119.9Z" fill="#6c9e6c" stroke="#405e40" stroke-width="0.8" stroke-linejoin="round"/>
<path d="M149.3,145.3 L149.5,144.7 L150.0,144.2 L150.8,143.8 L151.9,143.3 L153.4,142.9 L155.1,142.7 L157.0,142.5 L159.2,142.4 L161.6,142.4 L164.1,142.6 L166.6,142.9 L169.3,143.4 L171.9,144.0 L174.5,144.8 L177.0,145.8 L179.4,146.9 L181.7,148.1 L183.7,149.4 L185.5,150.9 L187.0,152.5 L188.2,154.2 L189.1,155.9 L189.7,157.7 L190.0,159.5 L189.9,161.4 L190.2,168.6 L190.3,166.7 L190.0,164.9 L189.5,163.1 L188.5,161.4 L187.3,159.7 L185.8,158.1 L184.0,156.6 L182.0,155.3 L179.7,154.0 L177.3,153.0 L174.8,152.0 L172.2,151.2 L169.6,150.6 L166.9,150.1 L164.4,149.8 L161.9,149.6 L159.5,149.6 L157.4,149.7 L155.4,149.8 L153.7,150.1 L152.2,150.5 L151.1,150.9 L150.3,151.4 L149.8,151.9 L149.6,152.5Z" fill="#6c9e6c" stroke="#405e40" stroke-width="0.8" stroke-linejoin="round"/>
<path d="M150.7,177.3 L150.9,176.7 L151.3,176.2 L152.2,175.8 L153.3,175.3 L154.7,174.9 L156.5,174.7 L158.4,174.5 L160.6,174.4 L162.9,174.4 L165.4,174.6 L168.0,174.9 L170.6,175.4 L173.3,176.0 L175.9,176.8 L178.4,177.8 L180.8,178.9 L183.0,180.1 L185.1,181.4 L186.9,182.9 L188.4,184.5 L189.6,186.2 L190.5,187.9 L191.1,189.7 L191.4,191.5 L191.3,193.4 L191.6,200.6 L191.7,198.7 L191.4,196.9 L190.8,195.1 L189.9,193.4 L188.7,191.7 L187.2,190.1 L185.4,188.6 L183.3,187.3 L181.1,186.0 L178.7,185.0 L176.2,184.0 L173.6,183.2 L171.0,182.6 L168.3,182.1 L165.7,181.8 L163.3,181.6 L160.9,181.6 L158.7,181.7 L156.8,181.8 L155.1,182.1 L153.6,182.5 L152.5,182.9 L151.7,183.4 L151.2,183.9 L151.0,184.5Z" fill="#6c9e6c" stroke="#405e40" stroke-width="0.8" stroke-linejoin="round"/>
<path d="M152.1,209.3 L152.2,208.7 L152.7,208.2 L153.5,207.8 L154.7,207.3 L156.1,206.9 L157.8,206.7 L159.8,206.5 L162.0,206.4 L164.3,206.4 L166.8,206.6 L169.4,206.9 L172.0,207.4 L174.7,208.0 L177.3,208.8 L179.8,209.8 L182.2,210.9 L184.4,212.1 L186.4,213.4 L188.2,214.9 L189.7,216.5 L191.0,218.2 L191.9,219.9 L192.5,221.7 L192.7,223.5 L192.6,225.4 L193.0,232.6 L193.0,230.7 L192.8,228.9 L192.2,227.1 L191.3,225.4 L190.1,223.7 L188.5,222.1 L186.7,220.6 L184.7,219.3 L182.5,218.0 L180.1,217.0 L177.6,216.0 L175.0,215.2 L172.3,214.6 L169.7,214.1 L167.1,213.8 L164.6,213.6 L162.3,213.6 L160.1,213.7 L158.1,213.8 L156.4,214.1 L155.0,214.5 L153.9,214.9 L153.0,215.4 L152.5,215.9 L152.4,216.5Z" fill="#6c9e6c" stroke="#405e40" stroke-width="0.8" stroke-linejoin="round"/>
<path d="M153.5,241.3 L153.6,240.7 L154.1,240.2 L154.9,239.8 L156.1,239.3 L157.5,238.9 L159.2,238.7 L161.2,238.5 L163.3,238.4 L165.7,238.4 L168.2,238.6 L170.8,238.9 L173.4,239.4 L176.0,240.0 L178.6,240.8 L181.2,241.8 L183.6,242.9 L185.8,244.1 L187.8,245.4 L189.6,246.9 L191.1,248.5 L192.4,250.2 L193.3,251.9 L193.9,253.7 L194.1,255.5 L194.0,257.4 L194.3,264.6 L194.4,262.7 L194.2,260.9 L193.6,259.1 L192.7,257.4 L191.4,255.7 L189.9,254.1 L188.1,252.6 L186.1,251.3 L183.9,250.0 L181.5,249.0 L178.9,248.0 L176.3,247.2 L173.7,246.6 L171.1,246.1 L168.5,245.8 L166.0,245.6 L163.7,245.6 L161.5,245.7 L159.5,245.8 L157.8,246.1 L156.4,246.5 L155.2,246.9 L154.4,247.4 L153.9,247.9 L153.8,248.5Z" fill="#6c9e6c" stroke="#405e40" stroke-width="0.8" stroke-linejoin="round"/>
<path d="M154.8,273.3 L155.0,272.7 L155.5,272.2 L156.3,271.8 L157.4,271.3 L158.9,270.9 L160.6,270.7 L162.5,270.5 L164.7,270.4 L167.1,270.4 L169.6,270.6 L172.1,270.9 L174.8,271.4 L177.4,272.0 L180.0,272.8 L182.5,273.8 L184.9,274.9 L187.2,276.1 L189.2,277.4 L191.0,278.9 L192.5,280.5 L193.7,282.2 L194.6,283.9 L195.2,285.7 L195.5,287.5 L195.4,289.4 L195.7,296.6 L195.8,294.7 L195.5,292.9 L195.0,291.1 L194.0,289.4 L192.8,287.7 L191.3,286.1 L189.5,284.6 L187.5,283.3 L185.2,282.0 L182.8,281.0 L180.3,280.0 L177.7,279.2 L175.1,278.6 L172.4,278.1 L169.9,277.8 L167.4,277.6 L165.0,277.6 L162.9,277.7 L160.9,277.8 L159.2,278.1 L157.7,278.5 L156.6,278.9 L155.8,279.4 L155.3,279.9 L155.1,280.5Z" fill="#6c9e6c" stroke="#405e40" stroke-width="0.8" stroke-linejoin="round"/>
<path d="M165.2,48.5 L162.6,49.2 L160.1,49.7 L157.6,50.1 L155.3,50.4 L153.1,50.5 L151.1,50.5 L149.4,50.3 L147.9,50.1 L146.8,49.7 L145.9,49.3 L145.4,48.9 L145.2,48.4 L145.3,47.8 L145.7,56.8 L145.6,57.4 L145.7,57.9 L146.3,58.3 L147.1,58.7 L148.3,59.1 L149.8,59.3 L151.5,59.5 L153.5,59.5 L155.7,59.4 L158.0,59.1 L160.5,58.7 L163.0,58.2 L165.6,57.5Z" fill="#96dc96" stroke="#4b6e4b" stroke-width="0.8" stroke-linejoin="round"/>
<path d="M165.4,53.0 L162.8,53.7 L160.3,54.2 L157.8,54.6 L155.5,54.9 L153.3,55.0 L151.3,55.0 L149.6,54.8 L148.1,54.6 L146.9,54.2 L146.1,53.8 L145.6,53.4 L145.4,52.9 L145.5,52.3" stroke="#caedca" stroke-width="1.6" fill="none" stroke-linecap="round" opacity="0.6"/>
<path d="M185.7,64.5 L185.3,66.3 L184.5,68.2 L183.5,69.9 L182.1,71.6 L180.4,73.3 L178.5,74.8 L176.4,76.2 L174.1,77.5 L171.7,78.6 L169.1,79.6 L166.6,80.5 L164.0,81.2 L161.4,81.7 L159.0,82.1 L156.6,82.4 L154.5,82.5 L152.5,82.5 L150.8,82.3 L149.3,82.1 L148.1,81.7 L147.3,81.3 L146.7,80.9 L146.5,80.4 L146.7,79.8 L147.1,88.8 L146.9,89.4 L147.1,89.9 L147.7,90.3 L148.5,90.7 L149.7,91.1 L151.2,91.3 L152.9,91.5 L154.9,91.5 L157.0,91.4 L159.4,91.1 L161.8,90.7 L164.4,90.2 L167.0,89.5 L169.5,88.6 L172.1,87.6 L174.5,86.5 L176.8,85.2 L178.9,83.8 L180.8,82.2 L182.5,80.6 L183.8,78.9 L184.9,77.1 L185.7,75.3 L186.1,73.5Z" fill="#96dc96" stroke="#4b6e4b" stroke-width="0.8" stroke-linejoin="round"/>
<path d="M185.9,69.0 L185.5,70.8 L184.7,72.6 L183.6,74.4 L182.3,76.1 L180.6,77.8 L178.7,79.3 L176.6,80.7 L174.3,82.0 L171.9,83.1 L169.3,84.1 L166.8,85.0 L164.2,85.7 L161.6,86.2 L159.2,86.6 L156.8,86.9 L154.7,87.0 L152.7,87.0 L151.0,86.8 L149.5,86.6 L148.3,86.2 L147.5,85.8 L146.9,85.4 L146.7,84.9 L146.9,84.3" stroke="#caedca" stroke-width="1.6" fill="none" stroke-linecap="round" opacity="0.6"/>
<path d="M187.1,96.5 L186.7,98.3 L185.9,100.2 L184.8,101.9 L183.4,103.6 L181.8,105.3 L179.9,106.8 L177.8,108.2 L175.5,109.5 L173.0,110.6 L170.5,111.6 L167.9,112.5 L165.4,113.2 L162.8,113.7 L160.4,114.1 L158.0,114.4 L155.8,114.5 L153.9,114.5 L152.1,114.3 L150.7,114.1 L149.5,113.7 L148.6,113.3 L148.1,112.9 L147.9,112.4 L148.1,111.8 L148.5,120.8 L148.3,121.4 L148.5,121.9 L149.0,122.3 L149.9,122.7 L151.1,123.1 L152.5,123.3 L154.3,123.5 L156.2,123.5 L158.4,123.4 L160.7,123.1 L163.2,122.7 L165.7,122.2 L168.3,121.5 L170.9,120.6 L173.4,119.6 L175.9,118.5 L178.2,117.2 L180.3,115.8 L182.2,114.2 L183.8,112.6 L185.2,110.9 L186.3,109.1 L187.1,107.3 L187.5,105.5Z" fill="#96dc96" stroke="#4b6e4b" stroke-width="0.8" stroke-linejoin="round"/>
<path d="M187.3,101.0 L186.9,102.8 L186.1,104.6 L185.0,106.4 L183.6,108.1 L182.0,109.8 L180.1,111.3 L178.0,112.7 L175.7,114.0 L173.2,115.1 L170.7,116.1 L168.1,117.0 L165.6,117.7 L163.0,118.2 L160.5,118.6 L158.2,118.9 L156.0,119.0 L154.1,119.0 L152.3,118.8 L150.9,118.6 L149.7,118.2 L148.8,117.8 L148.3,117.4 L148.1,116.9 L148.3,116.3" stroke="#caedca" stroke-width="1.6" fill="none" stroke-linecap="round" opacity="0.6"/>
<path d="M188.5,128.5 L188.0,130.3 L187.3,132.2 L186.2,133.9 L184.8,135.6 L183.2,137.3 L181.3,138.8 L179.1,140.2 L176.8,141.5 L174.4,142.6 L171.9,143.6 L169.3,144.5 L166.7,145.2 L164.2,145.7 L161.7,146.1 L159.4,146.4 L157.2,146.5 L155.2,146.5 L153.5,146.3 L152.0,146.1 L150.9,145.7 L150.0,145.3 L149.5,144.9 L149.3,144.4 L149.7,153.4 L149.9,153.9 L150.4,154.3 L151.3,154.7 L152.4,155.1 L153.9,155.3 L155.6,155.5 L157.6,155.5 L159.8,155.4 L162.1,155.1 L164.6,154.7 L167.1,154.2 L169.7,153.5 L172.3,152.6 L174.8,151.6 L177.2,150.5 L179.5,149.2 L181.6,147.8 L183.5,146.2 L185.2,144.6 L186.6,142.9 L187.7,141.1 L188.4,139.3 L188.9,137.5Z" fill="#96dc96" stroke="#4b6e4b" stroke-width="0.8" stroke-linejoin="round"/>
<path d="M188.7,133.0 L188.2,134.8 L187.5,136.6 L186.4,138.4 L185.0,140.1 L183.4,141.8 L181.5,143.3 L179.3,144.7 L177.0,146.0 L174.6,147.1 L172.1,148.1 L169.5,149.0 L166.9,149.7 L164.4,150.2 L161.9,150.6 L159.6,150.9 L157.4,151.0 L155.4,151.0 L153.7,150.8 L152.2,150.6 L151.1,150.2 L150.2,149.8 L149.7,149.4 L149.5,148.9" stroke="#caedca" stroke-width="1.6" fill="none" stroke-linecap="round" opacity="0.6"/>
<path d="M189.9,160.5 L189.4,162.3 L188.7,164.2 L187.6,165.9 L186.2,167.6 L184.5,169.3 L182.6,170.8 L180.5,172.2 L178.2,173.5 L175.8,174.6 L173.3,175.6 L170.7,176.5 L168.1,177.2 L165.6,177.7 L163.1,178.1 L160.8,178.4 L158.6,178.5 L156.6,178.5 L154.9,178.3 L153.4,178.1 L152.3,177.7 L151.4,177.3 L150.9,176.9 L150.7,176.4 L151.1,185.4 L151.2,185.9 L151.8,186.3 L152.6,186.7 L153.8,187.1 L155.3,187.3 L157.0,187.5 L159.0,187.5 L161.2,187.4 L163.5,187.1 L166.0,186.7 L168.5,186.2 L171.1,185.5 L173.7,184.6 L176.2,183.6 L178.6,182.5 L180.9,181.2 L183.0,179.8 L184.9,178.2 L186.6,176.6 L188.0,174.9 L189.0,173.1 L189.8,171.3 L190.2,169.5Z" fill="#96dc96" stroke="#4b6e4b" stroke-width="0.8" stroke-linejoin="round"/>
<path d="M190.0,165.0 L189.6,166.8 L188.9,168.6 L187.8,170.4 L186.4,172.1 L184.7,173.8 L182.8,175.3 L180.7,176.7 L178.4,178.0 L176.0,179.1 L173.5,180.1 L170.9,181.0 L168.3,181.7 L165.8,182.2 L163.3,182.6 L161.0,182.9 L158.8,183.0 L156.8,183.0 L155.1,182.8 L153.6,182.6 L152.4,182.2 L151.6,181.8 L151.1,181.4 L150.9,180.9" stroke="#caedca" stroke-width="1.6" fill="none" stroke-linecap="round" opacity="0.6"/>
<path d="M191.2,192.5 L190.8,194.3 L190.0,196.2 L189.0,197.9 L187.6,199.6 L185.9,201.3 L184.0,202.8 L181.9,204.2 L179.6,205.5 L177.2,206.6 L174.6,207.6 L172.1,208.5 L169.5,209.2 L166.9,209.7 L164.5,210.1 L162.1,210.4 L160.0,210.5 L158.0,210.5 L156.3,210.3 L154.8,210.1 L153.6,209.7 L152.8,209.3 L152.2,208.9 L152.0,208.4 L152.4,217.4 L152.6,217.9 L153.2,218.3 L154.0,218.7 L155.2,219.1 L156.7,219.3 L158.4,219.5 L160.4,219.5 L162.5,219.4 L164.9,219.1 L167.3,218.7 L169.9,218.2 L172.5,217.5 L175.0,216.6 L177.6,215.6 L180.0,214.5 L182.3,213.2 L184.4,211.8 L186.3,210.2 L188.0,208.6 L189.3,206.9 L190.4,205.1 L191.2,203.3 L191.6,201.5Z" fill="#96dc96" stroke="#4b6e4b" stroke-width="0.8" stroke-linejoin="round"/>
<path d="M191.4,197.0 L191.0,198.8 L190.2,200.6 L189.1,202.4 L187.8,204.1 L186.1,205.8 L184.2,207.3 L182.1,208.7 L179.8,210.0 L177.4,211.1 L174.8,212.1 L172.3,213.0 L169.7,213.7 L167.1,214.2 L164.7,214.6 L162.3,214.9 L160.2,215.0 L158.2,215.0 L156.5,214.8 L155.0,214.6 L153.8,214.2 L153.0,213.8 L152.4,213.4 L152.2,212.9" stroke="#caedca" stroke-width="1.6" fill="none" stroke-linecap="round" opacity="0.6"/>
<path d="M192.6,224.5 L192.2,226.3 L191.4,228.2 L190.3,229.9 L188.9,231.6 L187.3,233.3 L185.4,234.8 L183.3,236.2 L181.0,237.5 L178.5,238.6 L176.0,239.6 L173.4,240.5 L170.9,241.2 L168.3,241.7 L165.9,242.1 L163.5,242.4 L161.3,242.5 L159.4,242.5 L157.6,242.3 L156.2,242.1 L155.0,241.7 L154.1,241.3 L153.6,240.9 L153.4,240.4 L153.8,249.4 L154.0,249.9 L154.5,250.3 L155.4,250.7 L156.6,251.1 L158.0,251.3 L159.8,251.5 L161.7,251.5 L163.9,251.4 L166.2,251.1 L168.7,250.7 L171.2,250.2 L173.8,249.5 L176.4,248.6 L178.9,247.6 L181.4,246.5 L183.7,245.2 L185.8,243.8 L187.7,242.2 L189.3,240.6 L190.7,238.9 L191.8,237.1 L192.6,235.3 L193.0,233.5Z" fill="#96dc96" stroke="#4b6e4b" stroke-width="0.8" stroke-linejoin="round"/>
<path d="M192.8,229.0 L192.4,230.8 L191.6,232.6 L190.5,234.4 L189.1,236.1 L187.5,237.8 L185.6,239.3 L183.5,240.7 L181.2,242.0 L178.7,243.1 L176.2,244.1 L173.6,245.0 L171.1,245.7 L168.5,246.2 L166.0,246.6 L163.7,246.9 L161.5,247.0 L159.6,247.0 L157.8,246.8 L156.4,246.6 L155.2,246.2 L154.3,245.8 L153.8,245.4 L153.6,244.9" stroke="#caedca" stroke-width="1.6" fill="none" stroke-linecap="round" opacity="0.6"/>
<path d="M194.0,256.5 L193.5,258.3 L192.8,260.2 L191.7,261.9 L190.3,263.6 L188.7,265.3 L186.8,266.8 L184.6,268.2 L182.3,269.5 L179.9,270.6 L177.4,271.6 L174.8,272.5 L172.2,273.2 L169.7,273.7 L167.2,274.1 L164.9,274.4 L162.7,274.5 L160.7,274.5 L159.0,274.3 L157.5,274.1 L156.4,273.7 L155.5,273.3 L155.0,272.9 L154.8,272.4 L155.2,281.4 L155.4,281.9 L155.9,282.3 L156.8,282.7 L157.9,283.1 L159.4,283.3 L161.1,283.5 L163.1,283.5 L165.3,283.4 L167.6,283.1 L170.1,282.7 L172.6,282.2 L175.2,281.5 L177.8,280.6 L180.3,279.6 L182.7,278.5 L185.0,277.2 L187.1,275.8 L189.0,274.2 L190.7,272.6 L192.1,270.9 L193.2,269.1 L193.9,267.3 L194.4,265.5Z" fill="#96dc96" stroke="#4b6e4b" stroke-width="0.8" stroke-linejoin="round"/>
<path d="M194.2,261.0 L193.7,262.8 L193.0,264.6 L191.9,266.4 L190.5,268.1 L188.9,269.8 L187.0,271.3 L184.8,272.7 L182.5,274.0 L180.1,275.1 L177.6,276.1 L175.0,277.0 L172.4,277.7 L169.9,278.2 L167.4,278.6 L165.1,278.9 L162.9,279.0 L160.9,279.0 L159.2,278.8 L157.7,278.6 L156.6,278.2 L155.7,277.8 L155.2,277.4 L155.0,276.9" stroke="#caedca" stroke-width="1.6" fill="none" stroke-linecap="round" opacity="0.6"/>
<path d="M195.4,288.5 L194.9,290.3 L194.2,292.2 L193.1,293.9 L191.7,295.6 L190.0,297.3 L188.1,298.8 L186.0,300.2 L183.7,301.5 L181.3,302.6 L178.8,303.6 L176.2,304.5 L176.6,313.5 L179.2,312.6 L181.7,311.6 L184.1,310.5 L186.4,309.2 L188.5,307.8 L190.4,306.2 L192.1,304.6 L193.5,302.9 L194.5,301.1 L195.3,299.3 L195.7,297.5Z" fill="#96dc96" stroke="#4b6e4b" stroke-width="0.8" stroke-linejoin="round"/>
<path d="M195.5,293.0 L195.1,294.8 L194.4,296.6 L193.3,298.4 L191.9,300.1 L190.2,301.8 L188.3,303.3 L186.2,304.7 L183.9,306.0 L181.5,307.1 L179.0,308.1 L176.4,309.0" stroke="#caedca" stroke-width="1.6" fill="none" stroke-linecap="round" opacity="0.6"/>
<path d="M202.7,62.3 L203.0,61.6 L203.7,60.9 L204.8,60.4 L206.1,60.0 L207.6,59.7 L209.5,59.6 L211.5,59.7 L213.7,59.9 L216.0,60.4 L218.5,61.0 L221.0,61.8 L223.4,62.9 L225.9,64.1 L228.2,65.5 L230.5,67.0 L232.5,68.7 L234.4,70.5 L236.0,72.5 L237.4,74.5 L238.4,76.6 L239.1,78.7 L239.6,80.8 L239.6,82.9 L239.4,85.0 L238.0,92.9 L238.3,90.8 L238.2,88.7 L237.8,86.6 L237.1,84.4 L236.0,82.4 L234.7,80.4 L233.0,78.4 L231.2,76.6 L229.1,74.9 L226.9,73.4 L224.5,72.0 L222.1,70.8 L219.6,69.7 L217.1,68.9 L214.7,68.2 L212.4,67.8 L210.1,67.5 L208.1,67.5 L206.3,67.6 L204.7,67.9 L203.4,68.3 L202.4,68.8 L201.7,69.5 L201.3,70.2Z" fill="#189218" stroke="#0e570e" stroke-width="0.8" stroke-linejoin="round"/>
<path d="M197.5,92.7 L197.9,92.0 L198.6,91.3 L199.7,90.8 L201.0,90.4 L202.6,90.2 L204.5,90.1 L206.6,90.2 L208.8,90.4 L211.2,90.9 L213.6,91.6 L216.1,92.5 L218.6,93.5 L221.0,94.7 L223.3,96.2 L225.5,97.7 L227.6,99.4 L229.4,101.3 L231.0,103.2 L232.3,105.3 L233.3,107.3 L234.0,109.5 L234.4,111.6 L234.4,113.7 L234.1,115.8 L232.7,123.6 L233.0,121.6 L233.0,119.5 L232.6,117.3 L231.9,115.2 L230.9,113.1 L229.6,111.1 L228.0,109.2 L226.2,107.3 L224.2,105.6 L222.0,104.0 L219.6,102.6 L217.2,101.4 L214.7,100.3 L212.2,99.5 L209.8,98.8 L207.4,98.3 L205.2,98.1 L203.1,98.0 L201.3,98.0 L199.7,98.3 L198.3,98.7 L197.3,99.2 L196.5,99.9 L196.1,100.6Z" fill="#189218" stroke="#0e570e" stroke-width="0.8" stroke-linejoin="round"/>
<path d="M192.3,123.1 L192.7,122.3 L193.5,121.7 L194.6,121.2 L196.0,120.8 L197.7,120.6 L199.5,120.6 L201.6,120.7 L203.9,121.0 L206.3,121.5 L208.7,122.2 L211.2,123.1 L213.7,124.1 L216.1,125.4 L218.4,126.8 L220.6,128.4 L222.6,130.2 L224.4,132.0 L225.9,134.0 L227.2,136.0 L228.2,138.1 L228.8,140.2 L229.1,142.4 L229.1,144.5 L228.7,146.5 L227.4,154.4 L227.8,152.4 L227.8,150.2 L227.5,148.1 L226.8,146.0 L225.9,143.9 L224.6,141.9 L223.0,139.9 L221.3,138.1 L219.3,136.3 L217.1,134.7 L214.7,133.3 L212.3,132.0 L209.8,131.0 L207.4,130.1 L204.9,129.4 L202.5,128.9 L200.3,128.6 L198.2,128.4 L196.3,128.5 L194.7,128.7 L193.3,129.1 L192.2,129.6 L191.4,130.2 L190.9,130.9Z" fill="#189218" stroke="#0e570e" stroke-width="0.8" stroke-linejoin="round"/>
<path d="M187.1,153.4 L187.6,152.7 L188.4,152.1 L189.6,151.6 L191.0,151.3 L192.7,151.1 L194.6,151.0 L196.7,151.2 L199.0,151.5 L201.4,152.0 L203.8,152.8 L206.3,153.7 L208.8,154.8 L211.2,156.1 L213.5,157.5 L215.7,159.2 L217.6,160.9 L219.4,162.8 L220.9,164.7 L222.1,166.8 L223.0,168.9 L223.6,171.0 L223.9,173.1 L223.8,175.2 L223.4,177.3 L222.1,185.2 L222.5,183.1 L222.6,181.0 L222.3,178.9 L221.7,176.8 L220.8,174.7 L219.5,172.6 L218.0,170.7 L216.3,168.8 L214.3,167.0 L212.1,165.4 L209.8,164.0 L207.4,162.7 L205.0,161.6 L202.5,160.7 L200.0,159.9 L197.6,159.4 L195.4,159.1 L193.2,158.9 L191.3,159.0 L189.6,159.2 L188.2,159.5 L187.1,160.0 L186.2,160.6 L185.7,161.3Z" fill="#189218" stroke="#0e570e" stroke-width="0.8" stroke-linejoin="round"/>
<path d="M181.9,183.8 L182.5,183.1 L183.3,182.5 L184.5,182.0 L186.0,181.7 L187.7,181.5 L189.7,181.5 L188.3,189.4 L186.3,189.4 L184.6,189.6 L183.2,189.9 L182.0,190.4 L181.1,191.0 L180.5,191.7Z" fill="#189218" stroke="#0e570e" stroke-width="0.8" stroke-linejoin="round"/>
<path d="M203.8,63.8 L203.1,63.0 L202.8,62.1 L202.9,61.3 L201.2,71.2 L201.1,72.0 L201.5,72.8 L202.1,73.7Z" fill="#22cc22" stroke="#116611" stroke-width="0.8" stroke-linejoin="round"/>
<path d="M203.0,68.8 L202.3,67.9 L202.0,67.1 L202.0,66.3" stroke="#90e590" stroke-width="1.8" fill="none" stroke-linecap="round" opacity="0.6"/>
<path d="M239.5,84.0 L238.9,86.0 L238.0,87.9 L236.7,89.7 L235.2,91.4 L233.4,93.0 L231.3,94.3 L229.1,95.5 L226.6,96.5 L224.0,97.3 L221.4,98.0 L218.7,98.4 L216.0,98.6 L213.3,98.7 L210.8,98.5 L208.3,98.3 L206.1,97.8 L204.0,97.3 L202.2,96.6 L200.6,95.8 L199.4,95.0 L198.4,94.2 L197.8,93.3 L197.6,92.5 L197.6,91.7 L196.0,101.6 L195.9,102.4 L196.1,103.2 L196.8,104.1 L197.7,104.9 L198.9,105.7 L200.5,106.5 L202.3,107.1 L204.4,107.7 L206.6,108.1 L209.1,108.4 L211.6,108.5 L214.3,108.5 L217.0,108.2 L219.7,107.8 L222.4,107.2 L224.9,106.4 L227.4,105.4 L229.6,104.2 L231.7,102.8 L233.5,101.3 L235.0,99.6 L236.3,97.8 L237.2,95.9 L237.8,93.9Z" fill="#22cc22" stroke="#116611" stroke-width="0.8" stroke-linejoin="round"/>
<path d="M238.7,88.9 L238.1,90.9 L237.1,92.9 L235.9,94.7 L234.3,96.4 L232.5,97.9 L230.5,99.3 L228.2,100.4 L225.8,101.5 L223.2,102.3 L220.5,102.9 L217.8,103.3 L215.1,103.5 L212.5,103.6 L209.9,103.5 L207.5,103.2 L205.2,102.7 L203.1,102.2 L201.3,101.5 L199.8,100.8 L198.5,100.0 L197.6,99.1 L197.0,98.3 L196.7,97.4 L196.8,96.6" stroke="#90e590" stroke-width="1.8" fill="none" stroke-linecap="round" opacity="0.6"/>
<path d="M234.2,114.8 L233.6,116.8 L232.6,118.7 L231.3,120.5 L229.7,122.1 L227.9,123.6 L225.8,125.0 L223.5,126.1 L221.0,127.1 L218.4,127.9 L215.8,128.5 L213.1,128.9 L210.4,129.1 L207.7,129.1 L205.2,129.0 L202.7,128.7 L200.5,128.2 L198.5,127.6 L196.7,127.0 L195.2,126.2 L194.0,125.4 L193.1,124.6 L192.5,123.7 L192.3,122.9 L192.4,122.1 L190.8,131.9 L190.6,132.7 L190.9,133.6 L191.4,134.4 L192.3,135.3 L193.5,136.1 L195.0,136.8 L196.8,137.5 L198.8,138.1 L201.1,138.5 L203.5,138.8 L206.0,139.0 L208.7,139.0 L211.4,138.8 L214.1,138.4 L216.7,137.8 L219.3,137.0 L221.8,136.0 L224.1,134.8 L226.2,133.5 L228.0,132.0 L229.6,130.3 L230.9,128.5 L231.9,126.6 L232.5,124.6Z" fill="#22cc22" stroke="#116611" stroke-width="0.8" stroke-linejoin="round"/>
<path d="M233.4,119.7 L232.7,121.7 L231.7,123.6 L230.5,125.4 L228.9,127.1 L227.0,128.6 L224.9,129.9 L222.6,131.1 L220.2,132.1 L217.6,132.8 L214.9,133.4 L212.2,133.8 L209.5,134.0 L206.9,134.1 L204.3,133.9 L201.9,133.6 L199.7,133.2 L197.6,132.6 L195.9,131.9 L194.4,131.1 L193.1,130.3 L192.3,129.5 L191.7,128.6 L191.5,127.8 L191.6,127.0" stroke="#90e590" stroke-width="1.8" fill="none" stroke-linecap="round" opacity="0.6"/>
<path d="M228.9,145.5 L228.2,147.5 L227.2,149.4 L225.9,151.2 L224.2,152.8 L222.3,154.3 L220.2,155.6 L217.9,156.8 L215.4,157.7 L212.8,158.5 L210.1,159.1 L207.4,159.4 L204.7,159.6 L202.1,159.6 L199.6,159.4 L197.2,159.1 L195.0,158.6 L193.0,158.0 L191.2,157.3 L189.8,156.6 L188.6,155.8 L187.8,154.9 L187.3,154.1 L187.1,153.2 L187.3,152.4 L185.6,162.3 L185.4,163.1 L185.6,163.9 L186.1,164.8 L186.9,165.6 L188.1,166.4 L189.5,167.2 L191.3,167.9 L193.3,168.5 L195.5,169.0 L197.9,169.3 L200.4,169.5 L203.0,169.5 L205.7,169.3 L208.4,168.9 L211.1,168.3 L213.7,167.6 L216.2,166.6 L218.5,165.5 L220.6,164.2 L222.5,162.7 L224.2,161.0 L225.5,159.3 L226.5,157.4 L227.2,155.4Z" fill="#22cc22" stroke="#116611" stroke-width="0.8" stroke-linejoin="round"/>
<path d="M228.1,150.5 L227.4,152.5 L226.3,154.3 L225.0,156.1 L223.4,157.8 L221.5,159.2 L219.4,160.6 L217.0,161.7 L214.6,162.7 L212.0,163.4 L209.3,164.0 L206.6,164.3 L203.9,164.5 L201.3,164.5 L198.7,164.4 L196.3,164.0 L194.1,163.6 L192.1,163.0 L190.4,162.3 L188.9,161.5 L187.8,160.7 L186.9,159.8 L186.4,159.0 L186.2,158.2 L186.4,157.4" stroke="#90e590" stroke-width="1.8" fill="none" stroke-linecap="round" opacity="0.6"/>
<path d="M223.6,176.3 L222.9,178.3 L221.8,180.2 L220.4,181.9 L218.7,183.5 L216.8,185.0 L214.7,186.3 L212.3,187.4 L209.8,188.3 L207.2,189.1 L204.5,189.6 L201.8,189.9 L199.1,190.1 L196.5,190.1 L194.0,189.9 L191.6,189.5 L189.4,189.0 L187.5,188.4 L185.8,187.7 L184.3,186.9 L183.2,186.1 L182.4,185.3 L182.0,184.4 L181.9,183.6 L182.1,182.8 L180.4,192.7 L180.2,193.4 L180.3,194.3 L180.7,195.1 L181.5,196.0 L182.7,196.8 L184.1,197.6 L185.8,198.3 L187.7,198.9 L189.9,199.4 L192.3,199.7 L194.8,199.9 L197.4,199.9 L200.1,199.8 L202.8,199.4 L205.5,198.9 L208.1,198.2 L210.6,197.3 L213.0,196.1 L215.1,194.8 L217.0,193.4 L218.7,191.8 L220.1,190.0 L221.2,188.1 L221.9,186.2Z" fill="#22cc22" stroke="#116611" stroke-width="0.8" stroke-linejoin="round"/>
<path d="M222.8,181.2 L222.0,183.2 L220.9,185.1 L219.6,186.8 L217.9,188.5 L216.0,189.9 L213.8,191.2 L211.5,192.3 L209.0,193.3 L206.4,194.0 L203.7,194.5 L201.0,194.9 L198.3,195.0 L195.7,195.0 L193.1,194.8 L190.8,194.4 L188.6,194.0 L186.6,193.3 L184.9,192.6 L183.5,191.9 L182.4,191.0 L181.6,190.2 L181.1,189.3 L181.0,188.5 L181.2,187.7" stroke="#90e590" stroke-width="1.8" fill="none" stroke-linecap="round" opacity="0.6"/>
<path d="M94.4,40.9 L94.9,39.9 L95.8,38.9 L97.0,38.0 L98.6,37.1 L100.4,36.4 L102.6,35.8 L104.9,35.4 L107.5,35.2 L110.2,35.1 L113.1,35.3 L116.0,35.7 L118.9,36.4 L121.8,37.2 L124.6,38.3 L127.2,39.6 L129.7,41.1 L132.0,42.8 L134.0,44.6 L135.7,46.7 L137.1,48.8 L138.2,51.1 L138.9,53.4 L139.2,55.8 L139.2,58.2 L139.6,65.4 L139.7,63.0 L139.3,60.6 L138.6,58.3 L137.6,56.0 L136.2,53.9 L134.4,51.8 L132.4,50.0 L130.2,48.3 L127.7,46.8 L125.0,45.5 L122.2,44.4 L119.3,43.5 L116.4,42.9 L113.5,42.5 L110.7,42.3 L108.0,42.4 L105.4,42.6 L103.0,43.0 L100.9,43.6 L99.0,44.3 L97.5,45.2 L96.2,46.1 L95.4,47.1 L94.9,48.1Z" fill="#356195" stroke="#1f3a59" stroke-width="0.8" stroke-linejoin="round"/>
<path d="M96.4,73.9 L96.9,72.9 L97.8,71.9 L99.0,71.0 L100.6,70.1 L102.4,69.4 L104.6,68.8 L106.9,68.4 L109.5,68.2 L112.2,68.1 L115.1,68.3 L118.0,68.7 L120.9,69.4 L123.8,70.2 L126.6,71.3 L129.2,72.6 L131.7,74.1 L134.0,75.8 L136.0,77.6 L137.7,79.7 L139.1,81.8 L140.2,84.1 L140.9,86.4 L141.2,88.8 L141.2,91.2 L141.6,98.4 L141.7,96.0 L141.3,93.6 L140.6,91.3 L139.6,89.0 L138.2,86.9 L136.4,84.8 L134.4,83.0 L132.2,81.3 L129.7,79.8 L127.0,78.5 L124.2,77.4 L121.3,76.5 L118.4,75.9 L115.5,75.5 L112.7,75.3 L110.0,75.4 L107.4,75.6 L105.0,76.0 L102.9,76.6 L101.0,77.3 L99.5,78.2 L98.2,79.1 L97.4,80.1 L96.9,81.1Z" fill="#356195" stroke="#1f3a59" stroke-width="0.8" stroke-linejoin="round"/>
<path d="M98.4,106.9 L98.9,105.9 L99.8,104.9 L101.0,104.0 L102.6,103.1 L104.4,102.4 L106.6,101.8 L108.9,101.4 L111.5,101.2 L114.2,101.1 L117.1,101.3 L120.0,101.7 L122.9,102.4 L125.8,103.2 L128.6,104.3 L131.2,105.6 L133.7,107.1 L136.0,108.8 L138.0,110.6 L139.7,112.7 L141.1,114.8 L142.2,117.1 L142.9,119.4 L143.2,121.8 L143.2,124.2 L143.6,131.4 L143.7,129.0 L143.3,126.6 L142.6,124.3 L141.6,122.0 L140.2,119.9 L138.4,117.8 L136.4,116.0 L134.2,114.3 L131.7,112.8 L129.0,111.5 L126.2,110.4 L123.3,109.5 L120.4,108.9 L117.5,108.5 L114.7,108.3 L112.0,108.4 L109.4,108.6 L107.0,109.0 L104.9,109.6 L103.0,110.3 L101.5,111.2 L100.2,112.1 L99.4,113.1 L98.9,114.1Z" fill="#356195" stroke="#1f3a59" stroke-width="0.8" stroke-linejoin="round"/>
<path d="M100.3,141.0 L100.4,139.9 L100.9,138.9 L101.8,137.9 L103.0,137.0 L104.6,136.1 L106.4,135.4 L108.6,134.8 L110.9,134.4 L113.5,134.2 L116.2,134.1 L119.1,134.3 L122.0,134.7 L124.9,135.4 L127.8,136.2 L130.6,137.3 L133.2,138.6 L135.7,140.1 L138.0,141.8 L140.0,143.6 L141.7,145.7 L143.1,147.8 L144.2,150.1 L144.9,152.4 L145.2,154.8 L145.2,157.2 L145.6,164.4 L145.7,162.0 L145.3,159.6 L144.6,157.3 L143.6,155.0 L142.2,152.9 L140.4,150.8 L138.4,149.0 L136.2,147.3 L133.7,145.8 L131.0,144.5 L128.2,143.4 L125.3,142.5 L122.4,141.9 L119.5,141.5 L116.7,141.3 L114.0,141.4 L111.4,141.6 L109.0,142.0 L106.9,142.6 L105.0,143.3 L103.5,144.2 L102.2,145.1 L101.4,146.1 L100.9,147.1 L100.8,148.2Z" fill="#356195" stroke="#1f3a59" stroke-width="0.8" stroke-linejoin="round"/>
<path d="M102.3,174.0 L102.4,172.9 L102.9,171.9 L103.8,170.9 L105.0,170.0 L106.6,169.1 L108.4,168.4 L110.6,167.8 L112.9,167.4 L115.5,167.2 L118.2,167.1 L121.1,167.3 L124.0,167.7 L126.9,168.4 L129.8,169.2 L132.6,170.3 L135.2,171.6 L137.7,173.1 L140.0,174.8 L142.0,176.6 L143.7,178.7 L145.1,180.8 L146.2,183.1 L146.9,185.4 L147.2,187.8 L147.2,190.2 L147.6,197.4 L147.7,195.0 L147.3,192.6 L146.6,190.3 L145.6,188.0 L144.2,185.9 L142.4,183.8 L140.4,182.0 L138.2,180.3 L135.7,178.8 L133.0,177.5 L130.2,176.4 L127.3,175.5 L124.4,174.9 L121.5,174.5 L118.7,174.3 L116.0,174.4 L113.4,174.6 L111.0,175.0 L108.9,175.6 L107.0,176.3 L105.5,177.2 L104.2,178.1 L103.4,179.1 L102.9,180.1 L102.8,181.2Z" fill="#356195" stroke="#1f3a59" stroke-width="0.8" stroke-linejoin="round"/>
<path d="M104.3,207.0 L104.4,205.9 L104.9,204.9 L105.8,203.9 L107.0,203.0 L108.6,202.1 L110.4,201.4 L112.6,200.8 L114.9,200.4 L117.5,200.2 L120.2,200.1 L123.1,200.3 L126.0,200.7 L128.9,201.4 L131.8,202.2 L134.6,203.3 L137.2,204.6 L139.7,206.1 L142.0,207.8 L144.0,209.6 L145.7,211.7 L147.1,213.8 L148.2,216.1 L148.9,218.4 L149.2,220.8 L149.2,223.2 L149.6,230.4 L149.7,228.0 L149.3,225.6 L148.6,223.3 L147.6,221.0 L146.2,218.9 L144.4,216.8 L142.4,215.0 L140.2,213.3 L137.7,211.8 L135.0,210.5 L132.2,209.4 L129.3,208.5 L126.4,207.9 L123.5,207.5 L120.7,207.3 L118.0,207.4 L115.4,207.6 L113.0,208.0 L110.9,208.6 L109.0,209.3 L107.5,210.2 L106.2,211.1 L105.4,212.1 L104.9,213.1 L104.8,214.2Z" fill="#356195" stroke="#1f3a59" stroke-width="0.8" stroke-linejoin="round"/>
<path d="M106.3,240.0 L106.4,238.9 L106.9,237.9 L107.8,236.9 L109.0,236.0 L110.6,235.1 L112.4,234.4 L114.6,233.8 L116.9,233.4 L119.5,233.2 L122.2,233.1 L125.1,233.3 L128.0,233.7 L130.9,234.4 L133.8,235.2 L136.6,236.3 L139.2,237.6 L141.7,239.1 L144.0,240.8 L146.0,242.6 L147.7,244.7 L149.1,246.8 L150.2,249.1 L150.9,251.4 L151.2,253.8 L151.2,256.2 L151.6,263.4 L151.7,261.0 L151.3,258.6 L150.6,256.3 L149.6,254.0 L148.2,251.9 L146.4,249.8 L144.4,248.0 L142.2,246.3 L139.7,244.8 L137.0,243.5 L134.2,242.4 L131.3,241.5 L128.4,240.9 L125.5,240.5 L122.7,240.3 L120.0,240.4 L117.4,240.6 L115.0,241.0 L112.9,241.6 L111.0,242.3 L109.5,243.2 L108.2,244.1 L107.4,245.1 L106.9,246.1 L106.8,247.2Z" fill="#356195" stroke="#1f3a59" stroke-width="0.8" stroke-linejoin="round"/>
<path d="M108.3,273.0 L108.4,271.9 L108.9,270.9 L109.8,269.9 L111.0,269.0 L112.6,268.1 L114.4,267.4 L116.6,266.8 L118.9,266.4 L121.5,266.2 L124.2,266.1 L127.1,266.3 L130.0,266.7 L132.9,267.4 L135.8,268.2 L138.6,269.3 L141.2,270.6 L143.7,272.1 L146.0,273.8 L148.0,275.6 L149.7,277.7 L151.1,279.8 L152.2,282.1 L152.9,284.4 L153.2,286.8 L153.2,289.2 L153.6,296.4 L153.7,294.0 L153.3,291.6 L152.6,289.3 L151.6,287.0 L150.2,284.9 L148.4,282.8 L146.4,281.0 L144.2,279.3 L141.7,277.8 L139.0,276.5 L136.2,275.4 L133.3,274.5 L130.4,273.9 L127.5,273.5 L124.7,273.3 L122.0,273.4 L119.4,273.6 L117.0,274.0 L114.9,274.6 L113.0,275.3 L111.5,276.2 L110.2,277.1 L109.4,278.1 L108.9,279.1 L108.8,280.2Z" fill="#356195" stroke="#1f3a59" stroke-width="0.8" stroke-linejoin="round"/>
<path d="M116.5,44.7 L113.7,45.4 L110.9,46.0 L108.2,46.3 L105.6,46.3 L103.2,46.2 L101.0,45.9 L99.1,45.4 L97.4,44.7 L96.1,44.0 L95.1,43.1 L94.5,42.1 L94.3,41.1 L94.4,40.0 L94.9,49.0 L94.8,50.1 L95.1,51.1 L95.7,52.1 L96.7,53.0 L98.0,53.7 L99.6,54.4 L101.6,54.9 L103.7,55.2 L106.2,55.3 L108.7,55.2 L111.4,54.9 L114.2,54.4 L117.1,53.7Z" fill="#4a88d0" stroke="#254468" stroke-width="0.8" stroke-linejoin="round"/>
<path d="M116.8,49.2 L114.0,49.9 L111.2,50.4 L108.5,50.7 L105.9,50.8 L103.5,50.7 L101.3,50.4 L99.4,49.9 L97.7,49.2 L96.4,48.5 L95.4,47.6 L94.8,46.6 L94.5,45.6 L94.7,44.5" stroke="#a4c3e7" stroke-width="1.6" fill="none" stroke-linecap="round" opacity="0.6"/>
<path d="M139.1,57.3 L138.7,59.8 L137.9,62.1 L136.8,64.4 L135.3,66.7 L133.6,68.8 L131.5,70.7 L129.2,72.5 L126.7,74.1 L124.1,75.5 L121.3,76.7 L118.5,77.7 L115.7,78.4 L112.9,79.0 L110.2,79.3 L107.6,79.3 L105.2,79.2 L103.0,78.9 L101.1,78.4 L99.4,77.7 L98.1,77.0 L97.1,76.1 L96.5,75.1 L96.3,74.1 L96.4,73.0 L96.9,82.0 L96.8,83.1 L97.1,84.1 L97.7,85.1 L98.7,86.0 L100.0,86.7 L101.6,87.4 L103.6,87.9 L105.7,88.2 L108.2,88.3 L110.7,88.2 L113.4,87.9 L116.2,87.4 L119.1,86.7 L121.9,85.7 L124.6,84.5 L127.3,83.1 L129.8,81.5 L132.1,79.7 L134.1,77.7 L135.9,75.6 L137.4,73.4 L138.5,71.1 L139.3,68.7 L139.7,66.3Z" fill="#4a88d0" stroke="#254468" stroke-width="0.8" stroke-linejoin="round"/>
<path d="M139.4,61.8 L139.0,64.2 L138.2,66.6 L137.1,68.9 L135.6,71.2 L133.8,73.3 L131.8,75.2 L129.5,77.0 L127.0,78.6 L124.4,80.0 L121.6,81.2 L118.8,82.2 L116.0,82.9 L113.2,83.4 L110.5,83.7 L107.9,83.8 L105.5,83.7 L103.3,83.4 L101.4,82.9 L99.7,82.2 L98.4,81.5 L97.4,80.6 L96.8,79.6 L96.5,78.6 L96.7,77.5" stroke="#a4c3e7" stroke-width="1.6" fill="none" stroke-linecap="round" opacity="0.6"/>
<path d="M141.1,90.3 L140.7,92.8 L139.9,95.1 L138.8,97.4 L137.3,99.7 L135.6,101.8 L133.5,103.7 L131.2,105.5 L128.7,107.1 L126.1,108.5 L123.3,109.7 L120.5,110.7 L117.7,111.4 L114.9,112.0 L112.2,112.3 L109.6,112.3 L107.2,112.2 L105.0,111.9 L103.1,111.4 L101.4,110.7 L100.1,110.0 L99.1,109.1 L98.5,108.1 L98.3,107.1 L98.4,106.0 L98.9,115.0 L98.8,116.1 L99.1,117.1 L99.7,118.1 L100.7,119.0 L102.0,119.7 L103.6,120.4 L105.6,120.9 L107.7,121.2 L110.2,121.3 L112.7,121.2 L115.4,120.9 L118.2,120.4 L121.1,119.7 L123.9,118.7 L126.6,117.5 L129.3,116.1 L131.8,114.5 L134.1,112.7 L136.1,110.7 L137.9,108.6 L139.4,106.4 L140.5,104.1 L141.3,101.7 L141.7,99.3Z" fill="#4a88d0" stroke="#254468" stroke-width="0.8" stroke-linejoin="round"/>
<path d="M141.4,94.8 L141.0,97.2 L140.2,99.6 L139.1,101.9 L137.6,104.2 L135.8,106.3 L133.8,108.2 L131.5,110.0 L129.0,111.6 L126.4,113.0 L123.6,114.2 L120.8,115.2 L118.0,115.9 L115.2,116.4 L112.5,116.7 L109.9,116.8 L107.5,116.7 L105.3,116.4 L103.4,115.9 L101.7,115.2 L100.4,114.5 L99.4,113.6 L98.8,112.6 L98.5,111.6 L98.7,110.5" stroke="#a4c3e7" stroke-width="1.6" fill="none" stroke-linecap="round" opacity="0.6"/>
<path d="M143.1,123.3 L142.7,125.8 L141.9,128.1 L140.8,130.4 L139.3,132.7 L137.6,134.8 L135.5,136.7 L133.2,138.5 L130.7,140.1 L128.1,141.5 L125.3,142.7 L122.5,143.7 L119.7,144.4 L116.9,145.0 L114.2,145.3 L111.6,145.3 L109.2,145.2 L107.0,144.9 L105.1,144.4 L103.4,143.7 L102.1,143.0 L101.1,142.1 L100.5,141.1 L100.3,140.1 L100.8,149.1 L101.1,150.1 L101.7,151.1 L102.7,152.0 L104.0,152.7 L105.6,153.4 L107.6,153.9 L109.7,154.2 L112.2,154.3 L114.7,154.2 L117.4,153.9 L120.2,153.4 L123.1,152.7 L125.9,151.7 L128.6,150.5 L131.3,149.1 L133.8,147.5 L136.1,145.7 L138.1,143.7 L139.9,141.6 L141.4,139.4 L142.5,137.1 L143.3,134.7 L143.7,132.3Z" fill="#4a88d0" stroke="#254468" stroke-width="0.8" stroke-linejoin="round"/>
<path d="M143.4,127.8 L143.0,130.2 L142.2,132.6 L141.1,134.9 L139.6,137.2 L137.8,139.3 L135.8,141.2 L133.5,143.0 L131.0,144.6 L128.4,146.0 L125.6,147.2 L122.8,148.2 L120.0,148.9 L117.2,149.4 L114.5,149.7 L111.9,149.8 L109.5,149.7 L107.3,149.4 L105.4,148.9 L103.7,148.2 L102.4,147.5 L101.4,146.6 L100.8,145.6 L100.5,144.6" stroke="#a4c3e7" stroke-width="1.6" fill="none" stroke-linecap="round" opacity="0.6"/>
<path d="M145.1,156.3 L144.7,158.8 L143.9,161.1 L142.8,163.4 L141.3,165.7 L139.6,167.8 L137.5,169.7 L135.2,171.5 L132.7,173.1 L130.1,174.5 L127.3,175.7 L124.5,176.7 L121.7,177.4 L118.9,178.0 L116.2,178.3 L113.6,178.3 L111.2,178.2 L109.0,177.9 L107.1,177.4 L105.4,176.7 L104.1,176.0 L103.1,175.1 L102.5,174.1 L102.3,173.1 L102.8,182.1 L103.1,183.1 L103.7,184.1 L104.7,185.0 L106.0,185.7 L107.6,186.4 L109.6,186.9 L111.7,187.2 L114.2,187.3 L116.7,187.2 L119.4,186.9 L122.2,186.4 L125.1,185.7 L127.9,184.7 L130.6,183.5 L133.3,182.1 L135.8,180.5 L138.1,178.7 L140.1,176.7 L141.9,174.6 L143.4,172.4 L144.5,170.1 L145.3,167.7 L145.7,165.3Z" fill="#4a88d0" stroke="#254468" stroke-width="0.8" stroke-linejoin="round"/>
<path d="M145.4,160.8 L145.0,163.2 L144.2,165.6 L143.1,167.9 L141.6,170.2 L139.8,172.3 L137.8,174.2 L135.5,176.0 L133.0,177.6 L130.4,179.0 L127.6,180.2 L124.8,181.2 L122.0,181.9 L119.2,182.4 L116.5,182.7 L113.9,182.8 L111.5,182.7 L109.3,182.4 L107.4,181.9 L105.7,181.2 L104.4,180.5 L103.4,179.6 L102.8,178.6 L102.5,177.6" stroke="#a4c3e7" stroke-width="1.6" fill="none" stroke-linecap="round" opacity="0.6"/>
<path d="M147.1,189.3 L146.7,191.8 L145.9,194.1 L144.8,196.4 L143.3,198.7 L141.6,200.8 L139.5,202.7 L137.2,204.5 L134.7,206.1 L132.1,207.5 L129.3,208.7 L126.5,209.7 L123.7,210.4 L120.9,211.0 L118.2,211.3 L115.6,211.3 L113.2,211.2 L111.0,210.9 L109.1,210.4 L107.4,209.7 L106.1,209.0 L105.1,208.1 L104.5,207.1 L104.3,206.1 L104.8,215.1 L105.1,216.1 L105.7,217.1 L106.7,218.0 L108.0,218.7 L109.6,219.4 L111.6,219.9 L113.7,220.2 L116.2,220.3 L118.7,220.2 L121.4,219.9 L124.2,219.4 L127.1,218.7 L129.9,217.7 L132.6,216.5 L135.3,215.1 L137.8,213.5 L140.1,211.7 L142.1,209.7 L143.9,207.6 L145.4,205.4 L146.5,203.1 L147.3,200.7 L147.7,198.3Z" fill="#4a88d0" stroke="#254468" stroke-width="0.8" stroke-linejoin="round"/>
<path d="M147.4,193.8 L147.0,196.2 L146.2,198.6 L145.1,200.9 L143.6,203.2 L141.8,205.3 L139.8,207.2 L137.5,209.0 L135.0,210.6 L132.4,212.0 L129.6,213.2 L126.8,214.2 L124.0,214.9 L121.2,215.4 L118.5,215.7 L115.9,215.8 L113.5,215.7 L111.3,215.4 L109.4,214.9 L107.7,214.2 L106.4,213.5 L105.4,212.6 L104.8,211.6 L104.5,210.6" stroke="#a4c3e7" stroke-width="1.6" fill="none" stroke-linecap="round" opacity="0.6"/>
<path d="M149.1,222.3 L148.7,224.8 L147.9,227.1 L146.8,229.4 L145.3,231.7 L143.6,233.8 L141.5,235.7 L139.2,237.5 L136.7,239.1 L134.1,240.5 L131.3,241.7 L128.5,242.7 L125.7,243.4 L122.9,244.0 L120.2,244.3 L117.6,244.3 L115.2,244.2 L113.0,243.9 L111.1,243.4 L109.4,242.7 L108.1,242.0 L107.1,241.1 L106.5,240.1 L106.3,239.1 L106.8,248.1 L107.1,249.1 L107.7,250.1 L108.7,251.0 L110.0,251.7 L111.6,252.4 L113.6,252.9 L115.7,253.2 L118.2,253.3 L120.7,253.2 L123.4,252.9 L126.2,252.4 L129.1,251.7 L131.9,250.7 L134.6,249.5 L137.3,248.1 L139.8,246.5 L142.1,244.7 L144.1,242.7 L145.9,240.6 L147.4,238.4 L148.5,236.1 L149.3,233.7 L149.7,231.3Z" fill="#4a88d0" stroke="#254468" stroke-width="0.8" stroke-linejoin="round"/>
<path d="M149.4,226.8 L149.0,229.2 L148.2,231.6 L147.1,233.9 L145.6,236.2 L143.8,238.3 L141.8,240.2 L139.5,242.0 L137.0,243.6 L134.4,245.0 L131.6,246.2 L128.8,247.2 L126.0,247.9 L123.2,248.4 L120.5,248.7 L117.9,248.8 L115.5,248.7 L113.3,248.4 L111.4,247.9 L109.7,247.2 L108.4,246.5 L107.4,245.6 L106.8,244.6 L106.5,243.6" stroke="#a4c3e7" stroke-width="1.6" fill="none" stroke-linecap="round" opacity="0.6"/>
<path d="M151.1,255.3 L150.7,257.8 L149.9,260.1 L148.8,262.4 L147.3,264.7 L145.6,266.8 L143.5,268.7 L141.2,270.5 L138.7,272.1 L136.1,273.5 L133.3,274.7 L130.5,275.7 L127.7,276.4 L124.9,277.0 L122.2,277.3 L119.6,277.3 L117.2,277.2 L115.0,276.9 L113.1,276.4 L111.4,275.7 L110.1,275.0 L109.1,274.1 L108.5,273.1 L108.3,272.1 L108.8,281.1 L109.1,282.1 L109.7,283.1 L110.7,284.0 L112.0,284.7 L113.6,285.4 L115.6,285.9 L117.7,286.2 L120.2,286.3 L122.7,286.2 L125.4,285.9 L128.2,285.4 L131.1,284.7 L133.9,283.7 L136.6,282.5 L139.3,281.1 L141.8,279.5 L144.1,277.7 L146.1,275.7 L147.9,273.6 L149.4,271.4 L150.5,269.1 L151.3,266.7 L151.7,264.3Z" fill="#4a88d0" stroke="#254468" stroke-width="0.8" stroke-linejoin="round"/>
<path d="M151.4,259.8 L151.0,262.2 L150.2,264.6 L149.1,266.9 L147.6,269.2 L145.8,271.3 L143.8,273.2 L141.5,275.0 L139.0,276.6 L136.4,278.0 L133.6,279.2 L130.8,280.2 L128.0,280.9 L125.2,281.4 L122.5,281.7 L119.9,281.8 L117.5,281.7 L115.3,281.4 L113.4,280.9 L111.7,280.2 L110.4,279.5 L109.4,278.6 L108.8,277.6 L108.5,276.6" stroke="#a4c3e7" stroke-width="1.6" fill="none" stroke-linecap="round" opacity="0.6"/>
<path d="M153.1,288.3 L152.7,290.8 L151.9,293.1 L150.8,295.4 L149.3,297.7 L147.6,299.8 L145.5,301.7 L143.2,303.5 L140.7,305.1 L138.1,306.5 L135.3,307.7 L132.5,308.7 L133.1,317.7 L135.9,316.7 L138.6,315.5 L141.3,314.1 L143.8,312.5 L146.1,310.7 L148.1,308.7 L149.9,306.6 L151.4,304.4 L152.5,302.1 L153.3,299.7 L153.7,297.3Z" fill="#4a88d0" stroke="#254468" stroke-width="0.8" stroke-linejoin="round"/>
<path d="M153.4,292.8 L153.0,295.2 L152.2,297.6 L151.1,299.9 L149.6,302.2 L147.8,304.3 L145.8,306.2 L143.5,308.0 L141.0,309.6 L138.4,311.0 L135.6,312.2 L132.8,313.2" stroke="#a4c3e7" stroke-width="1.6" fill="none" stroke-linecap="round" opacity="0.6"/>
<path d="M98.8,67.9 L98.9,67.6 L99.2,67.2 L99.7,66.9 L100.4,66.6 L101.2,66.3 L102.3,66.0 L103.5,65.9 L104.8,65.8 L106.3,65.8 L107.9,65.9 L109.5,66.1 L111.1,66.4 L112.8,66.9 L114.5,67.5 L116.1,68.2 L117.7,69.1 L119.1,70.0 L120.5,71.1 L121.7,72.3 L122.7,73.6 L123.6,75.0 L124.3,76.5 L124.8,78.0 L125.1,79.6 L126.3,86.7 L126.0,85.1 L125.5,83.6 L124.8,82.1 L123.9,80.7 L122.9,79.4 L121.7,78.2 L120.3,77.1 L118.8,76.2 L117.3,75.3 L115.7,74.6 L114.0,74.0 L112.3,73.5 L110.7,73.2 L109.0,73.0 L107.5,72.9 L106.0,72.9 L104.7,73.0 L103.5,73.1 L102.4,73.4 L101.5,73.7 L100.9,74.0 L100.4,74.3 L100.1,74.7 L100.0,75.0Z" fill="#9e9e9e" stroke="#5e5e5e" stroke-width="0.8" stroke-linejoin="round"/>
<path d="M110.4,64.7 L109.0,65.5 L107.5,66.2 L106.1,66.8 L104.7,67.2 L103.5,67.5 L102.3,67.7 L101.2,67.8 L100.4,67.8 L99.7,67.7 L99.1,67.5 L98.8,67.3 L98.7,67.0 L100.1,75.9 L100.3,76.2 L100.6,76.4 L101.1,76.6 L101.8,76.7 L102.7,76.7 L103.8,76.6 L104.9,76.4 L106.2,76.1 L107.6,75.6 L109.0,75.1 L110.5,74.4 L111.9,73.5Z" fill="#dcdcdc" stroke="#6e6e6e" stroke-width="0.8" stroke-linejoin="round"/>
<path d="M111.2,69.1 L109.7,69.9 L108.3,70.6 L106.8,71.2 L105.5,71.7 L104.2,72.0 L103.0,72.2 L102.0,72.3 L101.1,72.3 L100.4,72.2 L99.9,72.0 L99.5,71.7 L99.4,71.4" stroke="#ededed" stroke-width="1.6" fill="none" stroke-linecap="round" opacity="0.6"/>
<path d="M124.9,78.7 L125.0,80.3 L124.9,81.9 L124.6,83.5 L124.0,85.1 L123.3,86.6 L122.4,88.1 L121.4,89.5 L120.2,90.8 L119.0,92.1 L117.6,93.2 L116.2,94.2 L114.7,95.1 L113.2,95.9 L111.8,96.5 L110.4,97.0 L109.1,97.4 L107.9,97.7 L106.7,97.8 L105.8,97.8 L105.0,97.8 L104.4,97.6 L105.8,106.5 L106.5,106.7 L107.3,106.7 L108.2,106.7 L109.3,106.5 L110.6,106.3 L111.9,105.9 L113.3,105.4 L114.7,104.7 L116.2,104.0 L117.7,103.1 L119.1,102.1 L120.4,100.9 L121.7,99.7 L122.9,98.4 L123.9,97.0 L124.8,95.5 L125.5,93.9 L126.0,92.4 L126.4,90.8 L126.5,89.2 L126.4,87.6Z" fill="#dcdcdc" stroke="#6e6e6e" stroke-width="0.8" stroke-linejoin="round"/>
<path d="M125.7,83.1 L125.8,84.7 L125.6,86.3 L125.3,87.9 L124.8,89.5 L124.1,91.0 L123.2,92.5 L122.1,93.9 L121.0,95.3 L119.7,96.5 L118.3,97.6 L116.9,98.6 L115.5,99.5 L114.0,100.3 L112.5,100.9 L111.1,101.4 L109.8,101.8 L108.6,102.1 L107.5,102.2 L106.5,102.3 L105.7,102.2 L105.1,102.1" stroke="#ededed" stroke-width="1.6" fill="none" stroke-linecap="round" opacity="0.6"/>
<path d="M209.9,150.0 L210.5,149.4 L211.4,148.8 L212.5,148.3 L213.9,148.0 L215.5,147.8 L217.3,147.8 L219.2,147.9 L221.3,148.3 L223.5,148.8 L225.7,149.5 L227.9,150.4 L230.2,151.5 L232.3,152.7 L234.3,154.1 L236.2,155.7 L237.9,157.4 L239.4,159.2 L240.7,161.1 L241.7,163.1 L242.5,165.1 L242.9,167.2 L243.1,169.3 L242.9,171.3 L242.4,173.3 L241.2,181.2 L241.7,179.2 L241.8,177.2 L241.7,175.1 L241.2,173.0 L240.5,171.0 L239.5,169.0 L238.2,167.1 L236.7,165.3 L235.0,163.6 L233.1,162.0 L231.1,160.6 L228.9,159.4 L226.7,158.3 L224.5,157.4 L222.2,156.7 L220.1,156.2 L218.0,155.8 L216.0,155.7 L214.2,155.7 L212.6,155.9 L211.3,156.2 L210.1,156.7 L209.3,157.3 L208.7,157.9Z" fill="#9e9b67" stroke="#5e5d3d" stroke-width="0.8" stroke-linejoin="round"/>
<path d="M205.3,180.0 L205.8,179.4 L206.7,178.8 L207.8,178.3 L209.2,178.0 L210.8,177.8 L212.6,177.8 L214.5,177.9 L216.6,178.3 L218.8,178.8 L221.0,179.5 L223.3,180.4 L225.5,181.5 L227.6,182.7 L229.7,184.1 L231.6,185.7 L233.3,187.4 L234.8,189.2 L236.1,191.1 L237.1,193.1 L237.8,195.1 L238.3,197.2 L238.4,199.3 L238.2,201.3 L237.8,203.3 L236.5,211.2 L237.0,209.2 L237.2,207.2 L237.0,205.1 L236.6,203.0 L235.8,201.0 L234.8,199.0 L233.6,197.1 L232.0,195.3 L230.3,193.6 L228.4,192.0 L226.4,190.6 L224.3,189.4 L222.0,188.3 L219.8,187.4 L217.6,186.7 L215.4,186.2 L213.3,185.8 L211.4,185.7 L209.6,185.7 L208.0,185.9 L206.6,186.2 L205.5,186.7 L204.6,187.3 L204.0,187.9Z" fill="#9e9b67" stroke="#5e5d3d" stroke-width="0.8" stroke-linejoin="round"/>
<path d="M200.6,210.0 L201.2,209.4 L202.0,208.8 L203.2,208.3 L204.5,208.0 L206.1,207.8 L207.9,207.8 L209.9,207.9 L212.0,208.3 L214.1,208.8 L216.4,209.5 L218.6,210.4 L220.8,211.5 L223.0,212.7 L225.0,214.1 L226.9,215.7 L228.6,217.4 L230.1,219.2 L231.4,221.1 L232.4,223.1 L233.1,225.1 L233.6,227.2 L233.7,229.3 L233.6,231.3 L233.1,233.3 L231.9,241.2 L232.3,239.2 L232.5,237.2 L232.4,235.1 L231.9,233.0 L231.2,231.0 L230.2,229.0 L228.9,227.1 L227.4,225.3 L225.7,223.6 L223.8,222.0 L221.7,220.6 L219.6,219.4 L217.4,218.3 L215.1,217.4 L212.9,216.7 L210.7,216.2 L208.7,215.8 L206.7,215.7 L204.9,215.7 L203.3,215.9 L201.9,216.2 L200.8,216.7 L199.9,217.3 L199.4,217.9Z" fill="#9e9b67" stroke="#5e5d3d" stroke-width="0.8" stroke-linejoin="round"/>
<path d="M195.9,240.0 L196.5,239.4 L197.4,238.8 L198.5,238.3 L199.9,238.0 L201.5,237.8 L203.3,237.8 L205.2,237.9 L207.3,238.3 L209.5,238.8 L211.7,239.5 L213.9,240.4 L216.2,241.5 L218.3,242.7 L220.3,244.1 L222.2,245.7 L223.9,247.4 L225.4,249.2 L226.7,251.1 L227.7,253.1 L228.5,255.1 L228.9,257.2 L229.1,259.3 L228.9,261.3 L228.4,263.3 L227.2,271.2 L227.7,269.2 L227.8,267.2 L227.7,265.1 L227.2,263.0 L226.5,261.0 L225.5,259.0 L224.2,257.1 L222.7,255.3 L221.0,253.6 L219.1,252.0 L217.1,250.6 L214.9,249.4 L212.7,248.3 L210.5,247.4 L208.2,246.7 L206.1,246.2 L204.0,245.8 L202.0,245.7 L200.2,245.7 L198.6,245.9 L197.3,246.2 L196.1,246.7 L195.3,247.3 L194.7,247.9Z" fill="#9e9b67" stroke="#5e5d3d" stroke-width="0.8" stroke-linejoin="round"/>
<path d="M191.0,270.8 L191.3,270.0 L191.8,269.4 L192.7,268.8 L193.8,268.3 L195.2,268.0 L196.8,267.8 L198.6,267.8 L200.5,267.9 L202.6,268.3 L204.8,268.8 L207.0,269.5 L209.3,270.4 L211.5,271.5 L213.6,272.7 L215.7,274.1 L217.6,275.7 L219.3,277.4 L220.8,279.2 L222.1,281.1 L223.1,283.1 L223.8,285.1 L224.3,287.2 L224.4,289.3 L224.2,291.3 L223.8,293.3 L222.5,301.2 L223.0,299.2 L223.2,297.2 L223.0,295.1 L222.6,293.0 L221.8,291.0 L220.8,289.0 L219.6,287.1 L218.0,285.3 L216.3,283.6 L214.4,282.0 L212.4,280.6 L210.3,279.4 L208.0,278.3 L205.8,277.4 L203.6,276.7 L201.4,276.2 L199.3,275.8 L197.4,275.7 L195.6,275.7 L194.0,275.9 L192.6,276.2 L191.5,276.7 L190.6,277.3 L190.0,277.9 L189.8,278.7Z" fill="#9e9b67" stroke="#5e5d3d" stroke-width="0.8" stroke-linejoin="round"/>
<path d="M186.3,300.8 L186.6,300.0 L187.2,299.4 L188.0,298.8 L189.2,298.3 L190.5,298.0 L192.1,297.8 L193.9,297.8 L195.9,297.9 L198.0,298.3 L200.1,298.8 L202.4,299.5 L204.6,300.4 L206.8,301.5 L209.0,302.7 L211.0,304.1 L212.9,305.7 L214.6,307.4 L216.1,309.2 L217.4,311.1 L218.4,313.1 L219.1,315.1 L219.6,317.2 L219.7,319.3 L219.6,321.3 L219.1,323.3 L217.9,331.2 L218.3,329.2 L218.5,327.2 L218.4,325.1 L217.9,323.0 L217.2,321.0 L216.2,319.0 L214.9,317.1 L213.4,315.3 L211.7,313.6 L209.8,312.0 L207.7,310.6 L205.6,309.4 L203.4,308.3 L201.1,307.4 L198.9,306.7 L196.7,306.2 L194.7,305.8 L192.7,305.7 L190.9,305.7 L189.3,305.9 L187.9,306.2 L186.8,306.7 L185.9,307.3 L185.4,307.9 L185.1,308.7Z" fill="#9e9b67" stroke="#5e5d3d" stroke-width="0.8" stroke-linejoin="round"/>
<path d="M227.1,155.7 L224.7,155.9 L222.4,155.9 L220.1,155.7 L218.0,155.4 L216.1,155.0 L214.4,154.4 L213.0,153.7 L211.8,153.0 L210.8,152.2 L210.2,151.4 L209.8,150.6 L209.8,149.8 L210.1,149.0 L208.6,158.9 L208.3,159.7 L208.3,160.5 L208.6,161.3 L209.3,162.1 L210.2,162.9 L211.4,163.6 L212.9,164.3 L214.6,164.8 L216.5,165.3 L218.6,165.6 L220.8,165.8 L223.2,165.8 L225.6,165.6Z" fill="#dcd890" stroke="#6e6c48" stroke-width="0.8" stroke-linejoin="round"/>
<path d="M226.3,160.7 L223.9,160.8 L221.6,160.8 L219.4,160.7 L217.3,160.4 L215.4,159.9 L213.7,159.3 L212.2,158.7 L211.0,157.9 L210.1,157.2 L209.4,156.3 L209.1,155.5 L209.0,154.7 L209.3,154.0" stroke="#edebc7" stroke-width="1.8" fill="none" stroke-linecap="round" opacity="0.6"/>
<path d="M242.6,172.3 L241.8,174.2 L240.8,176.1 L239.5,177.8 L237.9,179.4 L236.1,180.8 L234.1,182.1 L231.9,183.2 L229.7,184.1 L227.3,184.8 L224.9,185.4 L222.4,185.7 L220.0,185.9 L217.7,185.9 L215.5,185.7 L213.4,185.4 L211.5,185.0 L209.8,184.4 L208.3,183.7 L207.1,183.0 L206.2,182.2 L205.5,181.4 L205.2,180.6 L205.1,179.8 L205.4,179.0 L203.9,188.9 L203.6,189.7 L203.6,190.5 L204.0,191.3 L204.6,192.1 L205.6,192.9 L206.8,193.6 L208.2,194.3 L209.9,194.8 L211.8,195.3 L213.9,195.6 L216.2,195.8 L218.5,195.8 L220.9,195.6 L223.3,195.3 L225.8,194.7 L228.1,194.0 L230.4,193.1 L232.6,192.0 L234.6,190.7 L236.3,189.3 L237.9,187.7 L239.2,186.0 L240.3,184.1 L241.1,182.2Z" fill="#dcd890" stroke="#6e6c48" stroke-width="0.8" stroke-linejoin="round"/>
<path d="M241.8,177.3 L241.1,179.2 L240.0,181.0 L238.7,182.7 L237.1,184.3 L235.3,185.8 L233.3,187.0 L231.2,188.1 L228.9,189.0 L226.5,189.8 L224.1,190.3 L221.7,190.7 L219.3,190.8 L216.9,190.8 L214.7,190.7 L212.6,190.4 L210.7,189.9 L209.0,189.3 L207.5,188.7 L206.3,187.9 L205.4,187.2 L204.8,186.3 L204.4,185.5 L204.4,184.7 L204.7,184.0" stroke="#edebc7" stroke-width="1.8" fill="none" stroke-linecap="round" opacity="0.6"/>
<path d="M237.9,202.3 L237.2,204.2 L236.1,206.1 L234.8,207.8 L233.2,209.4 L231.4,210.8 L229.4,212.1 L227.3,213.2 L225.0,214.1 L222.6,214.8 L220.2,215.4 L217.8,215.7 L215.4,215.9 L213.0,215.9 L210.8,215.7 L208.7,215.4 L206.8,215.0 L205.1,214.4 L203.6,213.7 L202.4,213.0 L201.5,212.2 L200.9,211.4 L200.5,210.6 L200.5,209.8 L200.8,209.0 L199.2,218.9 L198.9,219.7 L199.0,220.5 L199.3,221.3 L200.0,222.1 L200.9,222.9 L202.1,223.6 L203.6,224.3 L205.3,224.8 L207.2,225.3 L209.3,225.6 L211.5,225.8 L213.8,225.8 L216.2,225.6 L218.7,225.3 L221.1,224.7 L223.5,224.0 L225.7,223.1 L227.9,222.0 L229.9,220.7 L231.7,219.3 L233.2,217.7 L234.6,216.0 L235.6,214.1 L236.4,212.2Z" fill="#dcd890" stroke="#6e6c48" stroke-width="0.8" stroke-linejoin="round"/>
<path d="M237.2,207.3 L236.4,209.2 L235.3,211.0 L234.0,212.7 L232.4,214.3 L230.7,215.8 L228.7,217.0 L226.5,218.1 L224.2,219.0 L221.9,219.8 L219.4,220.3 L217.0,220.7 L214.6,220.8 L212.3,220.8 L210.0,220.7 L207.9,220.4 L206.0,219.9 L204.3,219.3 L202.9,218.7 L201.7,217.9 L200.7,217.2 L200.1,216.3 L199.7,215.5 L199.7,214.7 L200.0,214.0" stroke="#edebc7" stroke-width="1.8" fill="none" stroke-linecap="round" opacity="0.6"/>
<path d="M233.3,232.3 L232.5,234.2 L231.4,236.1 L230.1,237.8 L228.5,239.4 L226.8,240.8 L224.8,242.1 L222.6,243.2 L220.3,244.1 L218.0,244.8 L215.5,245.4 L213.1,245.7 L210.7,245.9 L208.4,245.9 L206.1,245.7 L204.0,245.4 L202.1,245.0 L200.4,244.4 L199.0,243.7 L197.8,243.0 L196.8,242.2 L196.2,241.4 L195.8,240.6 L195.8,239.8 L196.1,239.0 L194.6,248.9 L194.3,249.7 L194.3,250.5 L194.6,251.3 L195.3,252.1 L196.2,252.9 L197.4,253.6 L198.9,254.3 L200.6,254.8 L202.5,255.3 L204.6,255.6 L206.8,255.8 L209.2,255.8 L211.6,255.6 L214.0,255.3 L216.4,254.7 L218.8,254.0 L221.1,253.1 L223.2,252.0 L225.2,250.7 L227.0,249.3 L228.6,247.7 L229.9,246.0 L231.0,244.1 L231.7,242.2Z" fill="#dcd890" stroke="#6e6c48" stroke-width="0.8" stroke-linejoin="round"/>
<path d="M232.5,237.3 L231.7,239.2 L230.7,241.0 L229.4,242.7 L227.8,244.3 L226.0,245.8 L224.0,247.0 L221.8,248.1 L219.6,249.0 L217.2,249.8 L214.8,250.3 L212.3,250.7 L209.9,250.8 L207.6,250.8 L205.4,250.7 L203.3,250.4 L201.4,249.9 L199.7,249.3 L198.2,248.7 L197.0,247.9 L196.1,247.2 L195.4,246.3 L195.1,245.5 L195.0,244.7 L195.3,244.0" stroke="#edebc7" stroke-width="1.8" fill="none" stroke-linecap="round" opacity="0.6"/>
<path d="M228.6,262.3 L227.8,264.2 L226.8,266.1 L225.5,267.8 L223.9,269.4 L222.1,270.8 L220.1,272.1 L217.9,273.2 L215.7,274.1 L213.3,274.8 L210.9,275.4 L208.4,275.7 L206.0,275.9 L203.7,275.9 L201.5,275.7 L199.4,275.4 L197.5,275.0 L195.8,274.4 L194.3,273.7 L193.1,273.0 L192.2,272.2 L191.5,271.4 L191.2,270.6 L191.1,269.8 L189.6,279.7 L189.6,280.5 L190.0,281.3 L190.6,282.1 L191.6,282.9 L192.8,283.6 L194.2,284.3 L195.9,284.8 L197.8,285.3 L199.9,285.6 L202.2,285.8 L204.5,285.8 L206.9,285.6 L209.3,285.3 L211.8,284.7 L214.1,284.0 L216.4,283.1 L218.6,282.0 L220.6,280.7 L222.3,279.3 L223.9,277.7 L225.2,276.0 L226.3,274.1 L227.1,272.2Z" fill="#dcd890" stroke="#6e6c48" stroke-width="0.8" stroke-linejoin="round"/>
<path d="M227.8,267.3 L227.1,269.2 L226.0,271.0 L224.7,272.7 L223.1,274.3 L221.3,275.8 L219.3,277.0 L217.2,278.1 L214.9,279.0 L212.5,279.8 L210.1,280.3 L207.7,280.7 L205.3,280.8 L202.9,280.8 L200.7,280.7 L198.6,280.4 L196.7,279.9 L195.0,279.3 L193.5,278.7 L192.3,277.9 L191.4,277.2 L190.8,276.3 L190.4,275.5 L190.4,274.7" stroke="#edebc7" stroke-width="1.8" fill="none" stroke-linecap="round" opacity="0.6"/>
<path d="M223.9,292.3 L223.2,294.2 L222.1,296.1 L220.8,297.8 L219.2,299.4 L217.4,300.8 L215.4,302.1 L213.3,303.2 L211.0,304.1 L208.6,304.8 L206.2,305.4 L203.8,305.7 L201.4,305.9 L199.0,305.9 L196.8,305.7 L194.7,305.4 L192.8,305.0 L191.1,304.4 L189.6,303.7 L188.4,303.0 L187.5,302.2 L186.9,301.4 L186.5,300.6 L186.5,299.8 L184.9,309.7 L185.0,310.5 L185.3,311.3 L186.0,312.1 L186.9,312.9 L188.1,313.6 L189.6,314.3 L191.3,314.8 L193.2,315.3 L195.3,315.6 L197.5,315.8 L199.8,315.8 L202.2,315.6 L204.7,315.3 L207.1,314.7 L209.5,314.0 L211.7,313.1 L213.9,312.0 L215.9,310.7 L217.7,309.3 L219.2,307.7 L220.6,306.0 L221.6,304.1 L222.4,302.2Z" fill="#dcd890" stroke="#6e6c48" stroke-width="0.8" stroke-linejoin="round"/>
<path d="M223.2,297.3 L222.4,299.2 L221.3,301.0 L220.0,302.7 L218.4,304.3 L216.7,305.8 L214.7,307.0 L212.5,308.1 L210.2,309.0 L207.9,309.8 L205.4,310.3 L203.0,310.7 L200.6,310.8 L198.3,310.8 L196.0,310.7 L193.9,310.4 L192.0,309.9 L190.3,309.3 L188.9,308.7 L187.7,307.9 L186.7,307.2 L186.1,306.3 L185.7,305.5 L185.7,304.7" stroke="#edebc7" stroke-width="1.8" fill="none" stroke-linecap="round" opacity="0.6"/>
<path d="M219.3,322.3 L218.5,324.2 L217.4,326.1 L216.1,327.8 L214.5,329.4 L212.8,330.8 L210.8,332.1 L208.6,333.2 L206.3,334.1 L204.0,334.8 L201.5,335.4 L199.1,335.7 L197.6,345.6 L200.0,345.3 L202.4,344.7 L204.8,344.0 L207.1,343.1 L209.2,342.0 L211.2,340.7 L213.0,339.3 L214.6,337.7 L215.9,336.0 L217.0,334.1 L217.7,332.2Z" fill="#dcd890" stroke="#6e6c48" stroke-width="0.8" stroke-linejoin="round"/>
<path d="M218.5,327.3 L217.7,329.2 L216.7,331.0 L215.4,332.7 L213.8,334.3 L212.0,335.8 L210.0,337.0 L207.8,338.1 L205.6,339.0 L203.2,339.8 L200.8,340.3 L198.3,340.7" stroke="#edebc7" stroke-width="1.8" fill="none" stroke-linecap="round" opacity="0.6"/>
<path d="M133.0,118.5 L133.2,117.8 L133.6,117.1 L134.3,116.4 L135.3,115.8 L136.5,115.3 L138.0,114.9 L139.6,114.6 L141.5,114.5 L143.5,114.5 L145.6,114.7 L147.8,115.0 L150.0,115.5 L152.2,116.2 L154.4,117.0 L156.5,118.0 L158.5,119.2 L160.4,120.6 L162.1,122.0 L163.6,123.6 L164.8,125.3 L165.8,127.1 L166.6,129.0 L167.0,130.9 L167.2,132.9 L167.3,140.9 L167.1,138.9 L166.7,137.0 L165.9,135.1 L164.9,133.3 L163.7,131.6 L162.2,130.0 L160.5,128.6 L158.6,127.2 L156.6,126.0 L154.5,125.0 L152.3,124.2 L150.1,123.5 L147.9,123.0 L145.7,122.7 L143.6,122.5 L141.6,122.5 L139.7,122.6 L138.1,122.9 L136.6,123.3 L135.4,123.8 L134.4,124.4 L133.7,125.1 L133.3,125.8 L133.1,126.5Z" fill="#a19e67" stroke="#605e3d" stroke-width="0.8" stroke-linejoin="round"/>
<path d="M133.3,147.9 L133.5,147.2 L133.9,146.5 L134.6,145.8 L135.6,145.2 L136.8,144.7 L138.3,144.3 L140.0,144.0 L141.8,143.9 L143.8,143.9 L145.9,144.0 L148.1,144.4 L150.3,144.9 L152.5,145.6 L154.7,146.4 L156.8,147.4 L158.9,148.6 L160.7,149.9 L162.4,151.4 L163.9,153.0 L165.1,154.7 L166.1,156.5 L166.9,158.4 L167.3,160.3 L167.5,162.2 L167.4,164.2 L167.5,172.2 L167.6,170.2 L167.4,168.3 L167.0,166.4 L166.2,164.5 L165.2,162.7 L164.0,161.0 L162.5,159.4 L160.8,157.9 L158.9,156.6 L156.9,155.4 L154.8,154.4 L152.6,153.6 L150.4,152.9 L148.2,152.4 L146.0,152.0 L143.9,151.9 L141.9,151.9 L140.0,152.0 L138.4,152.3 L136.9,152.7 L135.7,153.2 L134.7,153.8 L134.0,154.5 L133.6,155.2 L133.4,155.9Z" fill="#a19e67" stroke="#605e3d" stroke-width="0.8" stroke-linejoin="round"/>
<path d="M133.8,176.6 L134.2,175.9 L134.9,175.2 L135.9,174.6 L137.1,174.1 L138.6,173.7 L140.3,173.4 L142.1,173.3 L144.1,173.3 L146.2,173.4 L148.4,173.8 L150.6,174.3 L152.8,174.9 L155.0,175.8 L157.2,176.8 L159.2,178.0 L161.0,179.3 L162.7,180.8 L164.2,182.4 L165.4,184.1 L166.4,185.9 L167.2,187.8 L167.6,189.7 L167.8,191.6 L167.9,199.6 L167.7,197.7 L167.3,195.8 L166.5,193.9 L165.5,192.1 L164.3,190.4 L162.8,188.8 L161.1,187.3 L159.2,186.0 L157.2,184.8 L155.1,183.8 L152.9,182.9 L150.7,182.3 L148.5,181.8 L146.3,181.4 L144.2,181.3 L142.2,181.3 L140.3,181.4 L138.7,181.7 L137.2,182.1 L136.0,182.6 L135.0,183.2 L134.3,183.9 L133.9,184.6Z" fill="#a19e67" stroke="#605e3d" stroke-width="0.8" stroke-linejoin="round"/>
<path d="M134.0,206.7 L134.1,206.0 L134.5,205.3 L135.2,204.6 L136.2,204.0 L137.4,203.5 L138.9,203.1 L140.6,202.8 L142.4,202.7 L144.4,202.7 L146.5,202.8 L148.7,203.1 L150.9,203.6 L153.2,204.3 L155.3,205.2 L157.5,206.2 L159.5,207.4 L161.3,208.7 L163.0,210.2 L164.5,211.8 L165.8,213.5 L166.8,215.3 L167.5,217.2 L167.9,219.1 L168.1,221.0 L168.0,223.0 L168.1,231.0 L168.2,229.0 L168.0,227.1 L167.6,225.2 L166.8,223.3 L165.8,221.5 L164.6,219.8 L163.1,218.2 L161.4,216.7 L159.6,215.4 L157.5,214.2 L155.4,213.2 L153.2,212.3 L151.0,211.6 L148.8,211.1 L146.6,210.8 L144.5,210.7 L142.5,210.7 L140.7,210.8 L139.0,211.1 L137.5,211.5 L136.3,212.0 L135.3,212.6 L134.6,213.3 L134.2,214.0 L134.0,214.7Z" fill="#a19e67" stroke="#605e3d" stroke-width="0.8" stroke-linejoin="round"/>
<path d="M134.3,236.1 L134.4,235.3 L134.8,234.6 L135.5,234.0 L136.5,233.4 L137.7,232.9 L139.2,232.5 L140.9,232.2 L142.7,232.0 L144.7,232.0 L146.8,232.2 L149.0,232.5 L151.2,233.0 L153.5,233.7 L155.7,234.6 L157.8,235.6 L159.8,236.8 L161.6,238.1 L163.3,239.6 L164.8,241.2 L166.1,242.9 L167.1,244.7 L167.8,246.5 L168.3,248.5 L168.4,250.4 L168.5,258.4 L168.3,256.5 L167.9,254.5 L167.1,252.7 L166.1,250.9 L164.9,249.2 L163.4,247.6 L161.7,246.1 L159.9,244.8 L157.9,243.6 L155.7,242.6 L153.5,241.7 L151.3,241.0 L149.1,240.5 L146.9,240.2 L144.8,240.0 L142.8,240.0 L141.0,240.2 L139.3,240.5 L137.8,240.9 L136.6,241.4 L135.6,242.0 L134.9,242.6 L134.5,243.3 L134.4,244.1Z" fill="#a19e67" stroke="#605e3d" stroke-width="0.8" stroke-linejoin="round"/>
<path d="M134.6,265.4 L134.7,264.7 L135.1,264.0 L135.8,263.4 L136.8,262.8 L138.1,262.3 L139.5,261.9 L141.2,261.6 L143.0,261.4 L145.0,261.4 L147.1,261.6 L149.3,261.9 L151.5,262.4 L153.8,263.1 L156.0,263.9 L158.1,265.0 L160.1,266.1 L161.9,267.5 L163.6,269.0 L165.1,270.6 L166.4,272.3 L167.4,274.1 L168.1,275.9 L168.6,277.8 L168.7,279.8 L168.6,281.7 L168.7,289.7 L168.8,287.8 L168.6,285.8 L168.2,283.9 L167.5,282.1 L166.5,280.3 L165.2,278.6 L163.7,277.0 L162.0,275.5 L160.2,274.1 L158.2,273.0 L156.0,271.9 L153.9,271.1 L151.6,270.4 L149.4,269.9 L147.2,269.6 L145.1,269.4 L143.1,269.4 L141.3,269.6 L139.6,269.9 L138.1,270.3 L136.9,270.8 L135.9,271.4 L135.2,272.0 L134.8,272.7 L134.7,273.4Z" fill="#a19e67" stroke="#605e3d" stroke-width="0.8" stroke-linejoin="round"/>
<path d="M134.9,294.8 L135.0,294.1 L135.4,293.4 L136.2,292.8 L137.1,292.2 L138.4,291.6 L139.8,291.2 L141.5,291.0 L143.3,290.8 L145.3,290.8 L147.4,291.0 L149.6,291.3 L151.9,291.8 L151.9,299.8 L149.7,299.3 L147.5,299.0 L145.4,298.8 L143.4,298.8 L141.6,299.0 L139.9,299.2 L138.4,299.6 L137.2,300.2 L136.2,300.8 L135.5,301.4 L135.1,302.1 L135.0,302.8Z" fill="#a19e67" stroke="#605e3d" stroke-width="0.8" stroke-linejoin="round"/>
<path d="M150.1,120.2 L147.8,120.7 L145.7,121.1 L143.6,121.3 L141.6,121.4 L139.7,121.3 L138.0,121.0 L136.6,120.6 L135.3,120.2 L134.3,119.6 L133.6,118.9 L133.2,118.2 L133.0,117.5 L133.1,127.5 L133.3,128.2 L133.7,128.9 L134.4,129.6 L135.4,130.2 L136.7,130.6 L138.1,131.0 L139.8,131.3 L141.7,131.4 L143.7,131.3 L145.8,131.1 L147.9,130.7 L150.2,130.2Z" fill="#e0dc90" stroke="#706e48" stroke-width="0.8" stroke-linejoin="round"/>
<path d="M150.1,125.2 L147.9,125.7 L145.7,126.1 L143.6,126.3 L141.6,126.4 L139.8,126.3 L138.1,126.0 L136.6,125.6 L135.4,125.2 L134.4,124.6 L133.7,123.9 L133.2,123.2 L133.1,122.5" stroke="#efedc7" stroke-width="1.8" fill="none" stroke-linecap="round" opacity="0.6"/>
<path d="M167.2,131.9 L167.1,133.8 L166.6,135.7 L165.9,137.6 L165.0,139.4 L163.8,141.2 L162.3,142.8 L160.7,144.3 L158.8,145.7 L156.8,146.9 L154.7,148.0 L152.6,148.9 L150.4,149.6 L148.1,150.1 L146.0,150.5 L143.9,150.7 L141.9,150.8 L140.0,150.6 L138.3,150.4 L136.9,150.0 L135.6,149.5 L134.6,149.0 L133.9,148.3 L133.5,147.6 L133.3,146.9 L133.4,156.9 L133.6,157.6 L134.0,158.3 L134.8,159.0 L135.7,159.5 L137.0,160.0 L138.5,160.4 L140.1,160.6 L142.0,160.8 L144.0,160.7 L146.1,160.5 L148.3,160.1 L150.5,159.6 L152.7,158.9 L154.9,158.0 L156.9,156.9 L158.9,155.7 L160.8,154.3 L162.4,152.8 L163.9,151.2 L165.1,149.4 L166.0,147.6 L166.7,145.7 L167.2,143.8 L167.3,141.9Z" fill="#e0dc90" stroke="#706e48" stroke-width="0.8" stroke-linejoin="round"/>
<path d="M167.2,136.9 L167.1,138.8 L166.7,140.7 L166.0,142.6 L165.0,144.4 L163.8,146.2 L162.4,147.8 L160.7,149.3 L158.9,150.7 L156.9,151.9 L154.8,153.0 L152.6,153.9 L150.4,154.6 L148.2,155.1 L146.0,155.5 L143.9,155.7 L141.9,155.8 L140.1,155.6 L138.4,155.4 L136.9,155.0 L135.7,154.5 L134.7,154.0 L134.0,153.3 L133.5,152.6 L133.4,151.9" stroke="#efedc7" stroke-width="1.8" fill="none" stroke-linecap="round" opacity="0.6"/>
<path d="M167.4,163.2 L166.9,165.1 L166.3,167.0 L165.3,168.8 L164.1,170.6 L162.6,172.2 L161.0,173.7 L159.1,175.1 L157.1,176.3 L155.1,177.4 L152.9,178.2 L150.7,179.0 L148.5,179.5 L146.3,179.9 L144.2,180.1 L142.2,180.1 L140.3,180.0 L138.7,179.8 L137.2,179.4 L135.9,178.9 L135.0,178.3 L134.2,177.7 L133.8,177.0 L133.6,176.3 L133.8,175.6 L133.9,185.6 L133.7,186.3 L133.9,187.0 L134.3,187.7 L135.1,188.3 L136.1,188.9 L137.3,189.4 L138.8,189.8 L140.4,190.0 L142.3,190.1 L144.3,190.1 L146.4,189.9 L148.6,189.5 L150.8,189.0 L153.0,188.2 L155.2,187.4 L157.3,186.3 L159.2,185.1 L161.1,183.7 L162.7,182.2 L164.2,180.6 L165.4,178.8 L166.4,177.0 L167.1,175.1 L167.5,173.2Z" fill="#e0dc90" stroke="#706e48" stroke-width="0.8" stroke-linejoin="round"/>
<path d="M167.4,168.2 L167.0,170.1 L166.3,172.0 L165.3,173.8 L164.1,175.6 L162.7,177.2 L161.0,178.7 L159.2,180.1 L157.2,181.3 L155.1,182.4 L152.9,183.2 L150.7,184.0 L148.5,184.5 L146.3,184.9 L144.2,185.1 L142.2,185.1 L140.4,185.0 L138.7,184.8 L137.2,184.4 L136.0,183.9 L135.0,183.3 L134.3,182.7 L133.8,182.0 L133.7,181.3 L133.8,180.6" stroke="#efedc7" stroke-width="1.8" fill="none" stroke-linecap="round" opacity="0.6"/>
<path d="M167.8,190.6 L167.7,192.6 L167.3,194.5 L166.6,196.4 L165.6,198.2 L164.4,199.9 L162.9,201.6 L161.3,203.1 L159.4,204.4 L157.5,205.7 L155.4,206.7 L153.2,207.6 L151.0,208.4 L148.8,208.9 L146.6,209.3 L144.5,209.5 L142.5,209.5 L140.6,209.4 L139.0,209.2 L137.5,208.8 L136.3,208.3 L135.3,207.7 L134.5,207.1 L134.1,206.4 L133.9,205.7 L134.1,215.7 L134.2,216.4 L134.6,217.1 L135.4,217.7 L136.4,218.3 L137.6,218.8 L139.1,219.2 L140.7,219.4 L142.6,219.5 L144.6,219.5 L146.7,219.3 L148.9,218.9 L151.1,218.4 L153.3,217.6 L155.5,216.7 L157.6,215.7 L159.5,214.4 L161.4,213.1 L163.0,211.6 L164.5,209.9 L165.7,208.2 L166.7,206.4 L167.4,204.5 L167.8,202.6 L167.9,200.6Z" fill="#e0dc90" stroke="#706e48" stroke-width="0.8" stroke-linejoin="round"/>
<path d="M167.8,195.6 L167.7,197.6 L167.3,199.5 L166.6,201.4 L165.6,203.2 L164.4,204.9 L163.0,206.6 L161.3,208.1 L159.5,209.4 L157.5,210.7 L155.4,211.7 L153.2,212.6 L151.0,213.4 L148.8,213.9 L146.6,214.3 L144.5,214.5 L142.5,214.5 L140.7,214.4 L139.0,214.2 L137.5,213.8 L136.3,213.3 L135.3,212.7 L134.6,212.1 L134.2,211.4 L134.0,210.7" stroke="#efedc7" stroke-width="1.8" fill="none" stroke-linecap="round" opacity="0.6"/>
<path d="M168.0,222.0 L167.6,223.9 L166.9,225.8 L165.9,227.6 L164.7,229.3 L163.2,231.0 L161.6,232.5 L159.7,233.8 L157.8,235.1 L155.7,236.1 L153.5,237.0 L151.3,237.7 L149.1,238.3 L146.9,238.7 L144.8,238.9 L142.8,238.9 L140.9,238.8 L139.3,238.5 L137.8,238.2 L136.6,237.7 L135.6,237.1 L134.9,236.5 L134.4,235.8 L134.3,235.1 L134.4,245.1 L134.5,245.8 L135.0,246.5 L135.7,247.1 L136.7,247.7 L137.9,248.2 L139.4,248.5 L141.1,248.8 L142.9,248.9 L144.9,248.9 L147.0,248.7 L149.2,248.3 L151.4,247.7 L153.6,247.0 L155.8,246.1 L157.9,245.1 L159.8,243.8 L161.7,242.5 L163.3,241.0 L164.8,239.3 L166.0,237.6 L167.0,235.8 L167.7,233.9 L168.1,232.0Z" fill="#e0dc90" stroke="#706e48" stroke-width="0.8" stroke-linejoin="round"/>
<path d="M168.0,227.0 L167.6,228.9 L166.9,230.8 L166.0,232.6 L164.7,234.3 L163.3,236.0 L161.6,237.5 L159.8,238.8 L157.8,240.1 L155.7,241.1 L153.5,242.0 L151.3,242.7 L149.1,243.3 L146.9,243.7 L144.8,243.9 L142.8,243.9 L141.0,243.8 L139.3,243.5 L137.9,243.2 L136.6,242.7 L135.6,242.1 L134.9,241.5 L134.5,240.8 L134.3,240.1" stroke="#efedc7" stroke-width="1.8" fill="none" stroke-linecap="round" opacity="0.6"/>
<path d="M168.4,249.4 L168.3,251.3 L167.9,253.3 L167.2,255.2 L166.2,257.0 L165.0,258.7 L163.5,260.3 L161.9,261.8 L160.1,263.2 L158.1,264.4 L156.0,265.5 L153.8,266.4 L151.6,267.1 L149.4,267.7 L147.2,268.0 L145.1,268.3 L143.1,268.3 L141.3,268.2 L139.6,267.9 L138.1,267.6 L136.9,267.1 L135.9,266.5 L135.2,265.9 L134.7,265.2 L134.6,264.4 L134.7,274.4 L134.8,275.2 L135.3,275.9 L136.0,276.5 L137.0,277.1 L138.2,277.6 L139.7,277.9 L141.4,278.2 L143.2,278.3 L145.2,278.3 L147.3,278.0 L149.5,277.7 L151.7,277.1 L153.9,276.4 L156.1,275.5 L158.2,274.4 L160.2,273.2 L162.0,271.8 L163.6,270.3 L165.1,268.7 L166.3,267.0 L167.3,265.2 L168.0,263.3 L168.4,261.3 L168.5,259.4Z" fill="#e0dc90" stroke="#706e48" stroke-width="0.8" stroke-linejoin="round"/>
<path d="M168.5,254.4 L168.3,256.3 L167.9,258.3 L167.2,260.2 L166.3,262.0 L165.0,263.7 L163.6,265.3 L161.9,266.8 L160.1,268.2 L158.1,269.4 L156.0,270.5 L153.9,271.4 L151.6,272.1 L149.4,272.7 L147.3,273.0 L145.2,273.3 L143.2,273.3 L141.3,273.2 L139.6,272.9 L138.2,272.6 L136.9,272.1 L135.9,271.5 L135.2,270.9 L134.8,270.2 L134.6,269.4" stroke="#efedc7" stroke-width="1.8" fill="none" stroke-linecap="round" opacity="0.6"/>
<path d="M168.6,280.7 L168.2,282.7 L167.5,284.5 L166.5,286.4 L165.3,288.1 L163.9,289.7 L162.2,291.2 L160.4,292.6 L158.4,293.8 L156.3,294.9 L154.1,295.8 L151.9,296.5 L149.7,297.1 L147.5,297.4 L145.4,297.6 L143.4,297.7 L141.6,297.6 L139.9,297.3 L138.4,296.9 L137.2,296.5 L136.2,295.9 L135.5,295.2 L135.0,294.5 L134.9,293.8 L135.0,303.8 L135.1,304.5 L135.6,305.2 L136.3,305.9 L137.3,306.5 L138.5,306.9 L140.0,307.3 L141.7,307.6 L143.5,307.7 L145.5,307.6 L147.6,307.4 L149.8,307.1 L152.0,306.5 L154.2,305.8 L156.4,304.9 L158.5,303.8 L160.5,302.6 L162.3,301.2 L164.0,299.7 L165.4,298.1 L166.6,296.4 L167.6,294.5 L168.3,292.7 L168.7,290.7Z" fill="#e0dc90" stroke="#706e48" stroke-width="0.8" stroke-linejoin="round"/>
<path d="M168.6,285.7 L168.2,287.7 L167.5,289.5 L166.6,291.4 L165.4,293.1 L163.9,294.7 L162.2,296.2 L160.4,297.6 L158.4,298.8 L156.3,299.9 L154.2,300.8 L152.0,301.5 L149.7,302.1 L147.6,302.4 L145.5,302.6 L143.5,302.7 L141.6,302.6 L139.9,302.3 L138.5,301.9 L137.2,301.5 L136.2,300.9 L135.5,300.2 L135.1,299.5 L134.9,298.8" stroke="#efedc7" stroke-width="1.8" fill="none" stroke-linecap="round" opacity="0.6"/>
<path d="M64.2,127.6 L64.5,127.0 L65.0,126.2 L65.9,125.2 L67.0,124.1 L68.4,122.9 L70.1,121.5 L72.0,120.1 L74.2,118.6 L76.5,117.2 L79.0,115.8 L81.6,114.4 L84.3,113.2 L87.1,112.1 L89.8,111.1 L92.5,110.4 L95.2,109.8 L97.7,109.5 L100.1,109.4 L102.3,109.6 L104.3,110.0 L106.0,110.7 L107.5,111.6 L108.7,112.8 L112.5,117.4 L111.3,116.2 L109.8,115.3 L108.1,114.6 L106.1,114.2 L103.9,114.0 L101.5,114.1 L99.0,114.5 L96.3,115.0 L93.6,115.8 L90.9,116.7 L88.1,117.8 L85.4,119.1 L82.8,120.4 L80.3,121.8 L78.0,123.3 L75.8,124.7 L73.9,126.1 L72.2,127.5 L70.8,128.8 L69.7,129.9 L68.8,130.9 L68.3,131.7 L68.0,132.3Z" fill="#ab732e" stroke="#66451b" stroke-width="0.8" stroke-linejoin="round"/>
<path d="M85.1,153.4 L85.1,153.0 L85.3,152.4 L85.8,151.6 L86.7,150.7 L87.8,149.5 L89.2,148.3 L90.9,146.9 L92.9,145.5 L95.0,144.0 L97.3,142.6 L99.8,141.2 L102.5,139.8 L105.2,138.6 L107.9,137.5 L110.6,136.5 L113.4,135.8 L116.0,135.2 L118.5,134.9 L120.9,134.8 L123.1,135.0 L125.1,135.4 L126.8,136.1 L128.3,137.0 L129.6,138.2 L130.5,139.6 L134.3,144.3 L133.4,142.8 L132.1,141.7 L130.6,140.7 L128.9,140.0 L126.9,139.6 L124.7,139.5 L122.3,139.5 L119.8,139.9 L117.2,140.4 L114.4,141.2 L111.7,142.1 L109.0,143.2 L106.3,144.5 L103.6,145.8 L101.2,147.2 L98.8,148.7 L96.7,150.1 L94.7,151.6 L93.1,152.9 L91.6,154.2 L90.5,155.3 L89.6,156.3 L89.1,157.1 L88.9,157.7 L88.9,158.0Z" fill="#ab732e" stroke="#66451b" stroke-width="0.8" stroke-linejoin="round"/>
<path d="M105.9,178.8 L105.9,178.4 L106.1,177.8 L106.7,177.0 L107.5,176.1 L108.6,174.9 L110.1,173.7 L111.8,172.3 L113.7,170.9 L115.8,169.5 L118.2,168.0 L120.7,166.6 L123.3,165.3 L126.0,164.0 L128.7,162.9 L131.5,162.0 L134.2,161.2 L136.8,160.6 L139.3,160.3 L141.7,160.2 L143.9,160.4 L145.9,160.8 L147.7,161.5 L149.2,162.4 L150.4,163.6 L154.2,168.3 L153.0,167.1 L151.5,166.1 L149.7,165.5 L147.7,165.0 L145.5,164.9 L143.1,165.0 L140.6,165.3 L138.0,165.8 L135.3,166.6 L132.5,167.5 L129.8,168.7 L127.1,169.9 L124.5,171.2 L122.0,172.6 L119.6,174.1 L117.5,175.5 L115.6,177.0 L113.9,178.3 L112.5,179.6 L111.3,180.7 L110.5,181.7 L109.9,182.5 L109.7,183.1 L109.7,183.4Z" fill="#ab732e" stroke="#66451b" stroke-width="0.8" stroke-linejoin="round"/>
<path d="M126.7,203.8 L126.9,203.3 L127.5,202.5 L128.3,201.5 L129.5,200.4 L130.9,199.1 L132.6,197.7 L134.5,196.3 L136.7,194.9 L139.0,193.4 L141.5,192.0 L144.1,190.7 L146.8,189.4 L149.5,188.3 L152.3,187.4 L155.0,186.6 L157.6,186.1 L160.2,185.7 L162.5,185.6 L164.7,185.8 L166.7,186.2 L168.5,186.9 L170.0,187.8 L171.2,189.0 L175.0,193.7 L173.8,192.5 L172.3,191.5 L170.5,190.9 L168.6,190.4 L166.3,190.3 L164.0,190.4 L161.4,190.7 L158.8,191.2 L156.1,192.0 L153.3,193.0 L150.6,194.1 L147.9,195.3 L145.3,196.6 L142.8,198.1 L140.5,199.5 L138.3,201.0 L136.4,202.4 L134.7,203.7 L133.3,205.0 L132.1,206.1 L131.3,207.1 L130.7,207.9 L130.5,208.5Z" fill="#ab732e" stroke="#66451b" stroke-width="0.8" stroke-linejoin="round"/>
<path d="M147.6,229.6 L147.5,229.3 L147.8,228.7 L148.3,227.9 L149.2,226.9 L150.3,225.8 L151.7,224.5 L153.4,223.1 L155.3,221.7 L157.5,220.3 L159.8,218.8 L162.3,217.4 L164.9,216.1 L167.6,214.8 L170.4,213.7 L173.1,212.8 L175.8,212.0 L178.5,211.5 L181.0,211.1 L183.4,211.1 L185.6,211.2 L187.6,211.6 L189.3,212.3 L190.8,213.3 L192.0,214.4 L195.8,219.1 L194.6,217.9 L193.1,217.0 L191.4,216.3 L189.4,215.9 L187.2,215.7 L184.8,215.8 L182.3,216.1 L179.6,216.7 L176.9,217.4 L174.2,218.4 L171.4,219.5 L168.7,220.7 L166.1,222.1 L163.6,223.5 L161.3,224.9 L159.1,226.4 L157.2,227.8 L155.5,229.1 L154.1,230.4 L153.0,231.5 L152.1,232.5 L151.6,233.3 L151.3,233.9 L151.4,234.3Z" fill="#ab732e" stroke="#66451b" stroke-width="0.8" stroke-linejoin="round"/>
<path d="M168.4,255.0 L168.3,254.7 L168.6,254.1 L169.1,253.3 L170.0,252.3 L171.1,251.2 L172.5,249.9 L174.2,248.6 L176.2,247.1 L178.3,245.7 L180.6,244.2 L183.1,242.8 L185.7,241.5 L188.4,240.2 L191.2,239.1 L193.9,238.2 L196.6,237.4 L199.3,236.9 L201.8,236.5 L204.2,236.5 L206.4,236.6 L208.4,237.0 L210.1,237.7 L211.6,238.7 L212.9,239.9 L216.7,244.5 L215.4,243.3 L213.9,242.4 L212.2,241.7 L210.2,241.3 L208.0,241.1 L205.6,241.2 L203.1,241.5 L200.4,242.1 L197.7,242.8 L195.0,243.8 L192.2,244.9 L189.6,246.1 L186.9,247.5 L184.4,248.9 L182.1,250.3 L180.0,251.8 L178.0,253.2 L176.3,254.6 L174.9,255.8 L173.8,256.9 L172.9,257.9 L172.4,258.7 L172.2,259.3 L172.2,259.7Z" fill="#ab732e" stroke="#66451b" stroke-width="0.8" stroke-linejoin="round"/>
<path d="M189.2,280.4 L189.2,280.1 L189.4,279.5 L190.0,278.7 L190.8,277.7 L191.9,276.6 L193.4,275.3 L195.1,274.0 L197.0,272.6 L199.1,271.1 L201.5,269.7 L204.0,268.2 L206.6,266.9 L209.3,265.7 L212.0,264.6 L214.8,263.6 L217.5,262.8 L220.1,262.3 L222.6,262.0 L225.0,261.9 L227.2,262.0 L229.2,262.5 L231.0,263.1 L232.5,264.1 L233.7,265.3 L234.6,266.7 L238.4,271.3 L237.5,269.9 L236.3,268.7 L234.8,267.8 L233.0,267.1 L231.0,266.7 L228.8,266.5 L226.4,266.6 L223.9,266.9 L221.3,267.5 L218.6,268.2 L215.8,269.2 L213.1,270.3 L210.4,271.5 L207.8,272.9 L205.3,274.3 L202.9,275.7 L200.8,277.2 L198.9,278.6 L197.2,280.0 L195.7,281.2 L194.6,282.4 L193.8,283.3 L193.2,284.1 L193.0,284.7 L193.0,285.1Z" fill="#ab732e" stroke="#66451b" stroke-width="0.8" stroke-linejoin="round"/>
<path d="M210.1,305.9 L210.0,305.5 L210.2,304.9 L210.8,304.1 L211.6,303.1 L212.8,302.0 L214.2,300.7 L215.9,299.4 L217.8,298.0 L220.0,296.5 L222.3,295.1 L224.8,293.7 L227.4,292.3 L230.1,291.1 L232.8,290.0 L235.6,289.0 L238.3,288.3 L240.9,287.7 L243.5,287.4 L245.8,287.3 L248.0,287.4 L250.0,287.9 L251.8,288.6 L253.3,289.5 L254.5,290.7 L258.3,295.3 L257.1,294.1 L255.6,293.2 L253.8,292.5 L251.8,292.1 L249.6,291.9 L247.3,292.0 L244.7,292.3 L242.1,292.9 L239.4,293.7 L236.6,294.6 L233.9,295.7 L231.2,297.0 L228.6,298.3 L226.1,299.7 L223.8,301.2 L221.6,302.6 L219.7,304.0 L218.0,305.4 L216.6,306.6 L215.4,307.8 L214.6,308.7 L214.0,309.5 L213.8,310.1 L213.9,310.5Z" fill="#ab732e" stroke="#66451b" stroke-width="0.8" stroke-linejoin="round"/>
<path d="M230.8,330.9 L231.1,330.3 L231.6,329.5 L232.5,328.5 L233.6,327.4 L235.0,326.2 L236.7,324.8 L238.6,323.4 L240.8,321.9 L243.1,320.5 L245.6,319.1 L248.2,317.7 L252.0,322.4 L249.4,323.7 L246.9,325.1 L244.6,326.6 L242.4,328.0 L240.5,329.4 L238.8,330.8 L237.4,332.1 L236.3,333.2 L235.4,334.2 L234.9,335.0 L234.6,335.5Z" fill="#ab732e" stroke="#66451b" stroke-width="0.8" stroke-linejoin="round"/>
<path d="M79.7,112.1 L77.9,114.4 L76.0,116.6 L74.1,118.6 L72.3,120.4 L70.5,122.0 L68.9,123.4 L67.3,124.5 L66.0,125.4 L64.9,126.1 L64.0,126.4 L63.4,126.6 L63.0,126.4 L63.0,126.1 L69.3,133.8 L69.4,134.2 L69.7,134.3 L70.3,134.2 L71.2,133.8 L72.3,133.2 L73.7,132.3 L75.2,131.1 L76.9,129.7 L78.6,128.1 L80.5,126.3 L82.3,124.3 L84.2,122.1 L86.0,119.8Z" fill="#eea040" stroke="#775020" stroke-width="0.8" stroke-linejoin="round"/>
<path d="M82.9,116.0 L81.1,118.3 L79.2,120.4 L77.3,122.4 L75.5,124.2 L73.7,125.9 L72.0,127.2 L70.5,128.4 L69.2,129.3 L68.1,129.9 L67.2,130.3 L66.5,130.4 L66.2,130.3 L66.1,129.9" stroke="#f6cf9f" stroke-width="1.8" fill="none" stroke-linecap="round" opacity="0.6"/>
<path d="M107.5,111.2 L108.4,112.7 L109.0,114.3 L109.3,116.2 L109.4,118.2 L109.1,120.4 L108.5,122.7 L107.7,125.1 L106.7,127.6 L105.4,130.1 L103.9,132.6 L102.3,135.1 L100.5,137.5 L98.7,139.8 L96.8,142.0 L95.0,144.0 L93.1,145.8 L91.3,147.4 L89.7,148.8 L88.2,149.9 L86.8,150.8 L85.7,151.5 L84.8,151.8 L84.2,152.0 L83.8,151.8 L90.2,159.6 L90.5,159.7 L91.2,159.6 L92.0,159.2 L93.2,158.6 L94.5,157.7 L96.0,156.5 L97.7,155.1 L99.4,153.5 L101.3,151.7 L103.2,149.7 L105.0,147.5 L106.9,145.2 L108.6,142.8 L110.2,140.4 L111.7,137.9 L113.0,135.3 L114.1,132.9 L114.9,130.5 L115.4,128.1 L115.7,125.9 L115.7,123.9 L115.4,122.1 L114.7,120.4 L113.8,119.0Z" fill="#eea040" stroke="#775020" stroke-width="0.8" stroke-linejoin="round"/>
<path d="M110.6,115.1 L111.6,116.5 L112.2,118.2 L112.5,120.0 L112.5,122.1 L112.3,124.3 L111.7,126.6 L110.9,129.0 L109.8,131.5 L108.5,134.0 L107.1,136.5 L105.4,139.0 L103.7,141.4 L101.9,143.7 L100.0,145.8 L98.1,147.8 L96.3,149.7 L94.5,151.3 L92.8,152.7 L91.3,153.8 L90.0,154.7 L88.9,155.3 L88.0,155.7 L87.4,155.8 L87.0,155.7" stroke="#f6cf9f" stroke-width="1.8" fill="none" stroke-linecap="round" opacity="0.6"/>
<path d="M129.2,138.1 L129.8,139.7 L130.2,141.6 L130.2,143.6 L129.9,145.8 L129.4,148.1 L128.5,150.5 L127.5,153.0 L126.2,155.5 L124.7,158.0 L123.1,160.5 L121.4,162.9 L119.5,165.2 L117.7,167.4 L115.8,169.4 L113.9,171.2 L112.2,172.8 L110.5,174.2 L109.0,175.4 L107.7,176.2 L106.5,176.9 L105.6,177.3 L105.0,177.4 L104.7,177.3 L111.0,185.0 L111.4,185.1 L112.0,185.0 L112.9,184.6 L114.0,184.0 L115.3,183.1 L116.8,181.9 L118.5,180.6 L120.3,178.9 L122.1,177.1 L124.0,175.1 L125.9,172.9 L127.7,170.6 L129.4,168.2 L131.1,165.8 L132.5,163.3 L133.8,160.8 L134.9,158.3 L135.7,155.9 L136.3,153.5 L136.5,151.4 L136.5,149.3 L136.2,147.5 L135.6,145.8Z" fill="#eea040" stroke="#775020" stroke-width="0.8" stroke-linejoin="round"/>
<path d="M132.4,142.0 L133.0,143.6 L133.3,145.5 L133.4,147.5 L133.1,149.7 L132.5,152.0 L131.7,154.4 L130.6,156.9 L129.4,159.4 L127.9,161.9 L126.3,164.4 L124.5,166.8 L122.7,169.1 L120.8,171.2 L118.9,173.3 L117.1,175.1 L115.3,176.7 L113.7,178.1 L112.2,179.2 L110.8,180.1 L109.7,180.8 L108.8,181.1 L108.2,181.2 L107.8,181.1" stroke="#f6cf9f" stroke-width="1.8" fill="none" stroke-linecap="round" opacity="0.6"/>
<path d="M149.1,162.1 L150.0,163.5 L150.7,165.1 L151.0,167.0 L151.0,169.0 L150.7,171.2 L150.2,173.5 L149.4,176.0 L148.3,178.4 L147.0,180.9 L145.6,183.5 L143.9,185.9 L142.2,188.3 L140.4,190.6 L138.5,192.8 L136.6,194.8 L134.8,196.6 L133.0,198.2 L131.3,199.6 L129.8,200.8 L128.5,201.7 L127.4,202.3 L126.5,202.7 L125.8,202.8 L125.5,202.7 L125.4,202.3 L131.8,210.0 L131.8,210.4 L132.2,210.5 L132.8,210.4 L133.7,210.0 L134.8,209.4 L136.1,208.5 L137.7,207.4 L139.3,206.0 L141.1,204.4 L142.9,202.5 L144.8,200.5 L146.7,198.4 L148.5,196.1 L150.3,193.7 L151.9,191.2 L153.4,188.7 L154.6,186.2 L155.7,183.7 L156.5,181.3 L157.1,179.0 L157.3,176.8 L157.3,174.7 L157.0,172.9 L156.4,171.2 L155.5,169.8Z" fill="#eea040" stroke="#775020" stroke-width="0.8" stroke-linejoin="round"/>
<path d="M152.3,165.9 L153.2,167.4 L153.8,169.0 L154.2,170.9 L154.2,172.9 L153.9,175.1 L153.4,177.4 L152.5,179.8 L151.5,182.3 L150.2,184.8 L148.7,187.3 L147.1,189.8 L145.4,192.2 L143.5,194.5 L141.6,196.7 L139.8,198.7 L137.9,200.5 L136.2,202.1 L134.5,203.5 L133.0,204.6 L131.6,205.5 L130.5,206.2 L129.6,206.5 L129.0,206.7 L128.7,206.5 L128.6,206.2" stroke="#f6cf9f" stroke-width="1.8" fill="none" stroke-linecap="round" opacity="0.6"/>
<path d="M169.9,187.5 L170.9,188.9 L171.5,190.6 L171.8,192.4 L171.8,194.4 L171.6,196.6 L171.0,199.0 L170.2,201.4 L169.1,203.8 L167.8,206.4 L166.4,208.9 L164.8,211.3 L163.0,213.7 L161.2,216.0 L159.3,218.2 L157.4,220.2 L155.6,222.0 L153.8,223.6 L152.1,225.0 L150.6,226.2 L149.3,227.1 L148.2,227.7 L147.3,228.1 L146.7,228.2 L146.3,228.1 L152.7,235.8 L153.0,235.9 L153.6,235.8 L154.5,235.4 L155.6,234.8 L157.0,233.9 L158.5,232.8 L160.1,231.4 L161.9,229.8 L163.8,227.9 L165.6,225.9 L167.5,223.8 L169.3,221.5 L171.1,219.1 L172.7,216.6 L174.2,214.1 L175.5,211.6 L176.5,209.1 L177.3,206.7 L177.9,204.4 L178.2,202.2 L178.1,200.1 L177.8,198.3 L177.2,196.6 L176.3,195.2Z" fill="#eea040" stroke="#775020" stroke-width="0.8" stroke-linejoin="round"/>
<path d="M173.1,191.4 L174.0,192.8 L174.7,194.4 L175.0,196.3 L175.0,198.3 L174.7,200.5 L174.2,202.8 L173.4,205.2 L172.3,207.7 L171.0,210.2 L169.5,212.7 L167.9,215.2 L166.2,217.6 L164.3,219.9 L162.5,222.1 L160.6,224.1 L158.7,225.9 L157.0,227.5 L155.3,228.9 L153.8,230.0 L152.5,230.9 L151.3,231.6 L150.5,232.0 L149.8,232.1 L149.5,231.9" stroke="#f6cf9f" stroke-width="1.8" fill="none" stroke-linecap="round" opacity="0.6"/>
<path d="M190.8,212.9 L191.7,214.3 L192.3,216.0 L192.6,217.8 L192.7,219.9 L192.4,222.0 L191.8,224.4 L191.0,226.8 L189.9,229.3 L188.7,231.8 L187.2,234.3 L185.6,236.7 L183.8,239.1 L182.0,241.4 L180.1,243.6 L178.2,245.6 L176.4,247.4 L174.6,249.1 L173.0,250.4 L171.5,251.6 L170.1,252.5 L169.0,253.1 L168.1,253.5 L167.5,253.6 L167.1,253.5 L173.5,261.2 L173.8,261.4 L174.5,261.2 L175.3,260.9 L176.5,260.2 L177.8,259.3 L179.3,258.2 L181.0,256.8 L182.7,255.2 L184.6,253.4 L186.5,251.3 L188.3,249.2 L190.2,246.9 L191.9,244.5 L193.5,242.0 L195.0,239.5 L196.3,237.0 L197.3,234.5 L198.2,232.1 L198.7,229.8 L199.0,227.6 L199.0,225.6 L198.6,223.7 L198.0,222.1 L197.1,220.6Z" fill="#eea040" stroke="#775020" stroke-width="0.8" stroke-linejoin="round"/>
<path d="M193.9,216.8 L194.9,218.2 L195.5,219.8 L195.8,221.7 L195.8,223.7 L195.6,225.9 L195.0,228.2 L194.2,230.6 L193.1,233.1 L191.8,235.6 L190.4,238.1 L188.7,240.6 L187.0,243.0 L185.2,245.3 L183.3,247.5 L181.4,249.5 L179.6,251.3 L177.8,252.9 L176.1,254.3 L174.6,255.5 L173.3,256.3 L172.2,257.0 L171.3,257.4 L170.7,257.5 L170.3,257.4" stroke="#f6cf9f" stroke-width="1.8" fill="none" stroke-linecap="round" opacity="0.6"/>
<path d="M211.6,238.3 L212.5,239.7 L213.1,241.4 L213.5,243.2 L213.5,245.3 L213.2,247.5 L212.7,249.8 L211.8,252.2 L210.8,254.7 L209.5,257.2 L208.0,259.7 L206.4,262.2 L204.7,264.6 L202.8,266.9 L200.9,269.0 L199.1,271.0 L197.2,272.9 L195.5,274.5 L193.8,275.9 L192.3,277.0 L190.9,277.9 L189.8,278.5 L188.9,278.9 L188.3,279.0 L188.0,278.9 L194.3,286.6 L194.6,286.8 L195.3,286.6 L196.2,286.3 L197.3,285.6 L198.6,284.7 L200.1,283.6 L201.8,282.2 L203.6,280.6 L205.4,278.8 L207.3,276.8 L209.2,274.6 L211.0,272.3 L212.7,269.9 L214.4,267.4 L215.8,264.9 L217.1,262.4 L218.2,259.9 L219.0,257.5 L219.5,255.2 L219.8,253.0 L219.8,251.0 L219.5,249.1 L218.8,247.5 L217.9,246.0Z" fill="#eea040" stroke="#775020" stroke-width="0.8" stroke-linejoin="round"/>
<path d="M214.8,242.2 L215.7,243.6 L216.3,245.2 L216.6,247.1 L216.6,249.1 L216.4,251.3 L215.8,253.6 L215.0,256.1 L213.9,258.5 L212.7,261.0 L211.2,263.6 L209.6,266.0 L207.8,268.4 L206.0,270.7 L204.1,272.9 L202.2,274.9 L200.4,276.7 L198.6,278.3 L197.0,279.7 L195.4,280.9 L194.1,281.8 L193.0,282.4 L192.1,282.8 L191.5,282.9 L191.1,282.8" stroke="#f6cf9f" stroke-width="1.8" fill="none" stroke-linecap="round" opacity="0.6"/>
<path d="M233.3,265.1 L234.0,266.8 L234.3,268.6 L234.3,270.7 L234.0,272.9 L233.5,275.2 L232.7,277.6 L231.6,280.1 L230.3,282.6 L228.8,285.1 L227.2,287.6 L225.5,290.0 L223.6,292.3 L221.8,294.4 L219.9,296.4 L218.0,298.3 L216.3,299.9 L214.6,301.3 L213.1,302.4 L211.8,303.3 L210.6,303.9 L209.8,304.3 L209.1,304.4 L208.8,304.3 L215.1,312.0 L215.5,312.2 L216.1,312.1 L217.0,311.7 L218.1,311.0 L219.4,310.1 L221.0,309.0 L222.6,307.6 L224.4,306.0 L226.2,304.2 L228.1,302.2 L230.0,300.0 L231.8,297.7 L233.6,295.3 L235.2,292.8 L236.7,290.3 L237.9,287.8 L239.0,285.3 L239.8,282.9 L240.4,280.6 L240.6,278.4 L240.6,276.4 L240.3,274.5 L239.7,272.9Z" fill="#eea040" stroke="#775020" stroke-width="0.8" stroke-linejoin="round"/>
<path d="M236.5,269.0 L237.1,270.7 L237.4,272.5 L237.5,274.5 L237.2,276.7 L236.6,279.1 L235.8,281.5 L234.8,284.0 L233.5,286.5 L232.0,289.0 L230.4,291.4 L228.6,293.8 L226.8,296.1 L224.9,298.3 L223.1,300.3 L221.2,302.1 L219.4,303.7 L217.8,305.1 L216.3,306.3 L214.9,307.2 L213.8,307.8 L212.9,308.2 L212.3,308.3 L212.0,308.2" stroke="#f6cf9f" stroke-width="1.8" fill="none" stroke-linecap="round" opacity="0.6"/>
<path d="M253.2,289.1 L254.2,290.6 L254.8,292.2 L255.1,294.1 L255.1,296.1 L254.9,298.3 L254.3,300.6 L253.5,303.0 L252.4,305.5 L251.1,308.0 L249.7,310.5 L248.0,313.0 L246.3,315.4 L244.5,317.7 L242.6,319.8 L240.7,321.9 L238.9,323.7 L237.1,325.3 L235.4,326.7 L233.9,327.8 L232.6,328.7 L231.5,329.4 L230.6,329.7 L230.0,329.9 L229.6,329.7 L229.6,329.4 L235.9,337.1 L235.9,337.5 L236.3,337.6 L236.9,337.5 L237.8,337.1 L238.9,336.5 L240.3,335.6 L241.8,334.4 L243.4,333.0 L245.2,331.4 L247.1,329.6 L248.9,327.6 L250.8,325.4 L252.6,323.1 L254.4,320.7 L256.0,318.2 L257.5,315.7 L258.8,313.2 L259.8,310.8 L260.6,308.3 L261.2,306.0 L261.5,303.8 L261.4,301.8 L261.1,299.9 L260.5,298.3 L259.6,296.9Z" fill="#eea040" stroke="#775020" stroke-width="0.8" stroke-linejoin="round"/>
<path d="M256.4,293.0 L257.3,294.4 L257.9,296.1 L258.3,297.9 L258.3,300.0 L258.0,302.2 L257.5,304.5 L256.7,306.9 L255.6,309.4 L254.3,311.9 L252.8,314.4 L251.2,316.8 L249.5,319.2 L247.6,321.5 L245.8,323.7 L243.9,325.7 L242.0,327.5 L240.3,329.2 L238.6,330.5 L237.1,331.7 L235.8,332.6 L234.6,333.2 L233.8,333.6 L233.1,333.7 L232.8,333.6 L232.7,333.2" stroke="#f6cf9f" stroke-width="1.8" fill="none" stroke-linecap="round" opacity="0.6"/>
<path d="M100.1,109.0 L99.8,107.8 L99.9,106.4 L100.4,104.8 L101.1,103.0 L102.2,101.2 L103.7,99.3 L105.5,97.3 L107.5,95.4 L109.8,93.6 L112.4,91.8 L115.2,90.2 L118.1,88.8 L121.2,87.6 L124.3,86.6 L127.5,85.9 L130.7,85.5 L133.8,85.5 L136.8,85.7 L139.7,86.3 L142.4,87.2 L144.9,88.4 L147.1,90.0 L149.0,91.8 L150.7,93.9 L156.6,100.4 L155.0,98.3 L153.0,96.5 L150.8,94.9 L148.3,93.7 L145.6,92.8 L142.7,92.2 L139.7,92.0 L136.6,92.0 L133.4,92.4 L130.2,93.1 L127.1,94.1 L124.0,95.3 L121.1,96.7 L118.3,98.3 L115.8,100.1 L113.4,101.9 L111.4,103.9 L109.6,105.8 L108.2,107.7 L107.0,109.6 L106.3,111.3 L105.8,112.9 L105.8,114.3 L106.0,115.5Z" fill="#aea817" stroke="#68640d" stroke-width="0.8" stroke-linejoin="round"/>
<path d="M125.7,137.2 L125.5,136.0 L125.6,134.6 L126.0,133.0 L126.8,131.3 L127.9,129.4 L129.3,127.5 L131.1,125.6 L133.1,123.7 L135.5,121.8 L138.0,120.1 L140.8,118.5 L143.7,117.0 L146.8,115.8 L149.9,114.9 L153.1,114.2 L156.3,113.8 L159.4,113.7 L162.4,114.0 L165.3,114.5 L168.0,115.4 L170.5,116.7 L172.7,118.2 L174.7,120.1 L176.3,122.2 L182.2,128.7 L180.6,126.6 L178.6,124.7 L176.4,123.2 L173.9,122.0 L171.2,121.0 L168.3,120.5 L165.3,120.2 L162.2,120.3 L159.0,120.7 L155.9,121.4 L152.7,122.3 L149.7,123.5 L146.7,125.0 L143.9,126.6 L141.4,128.3 L139.1,130.2 L137.0,132.1 L135.2,134.0 L133.8,136.0 L132.7,137.8 L131.9,139.6 L131.5,141.2 L131.4,142.6 L131.6,143.8Z" fill="#aea817" stroke="#68640d" stroke-width="0.8" stroke-linejoin="round"/>
<path d="M151.3,165.5 L151.1,164.3 L151.2,162.9 L151.6,161.3 L152.4,159.5 L153.5,157.7 L154.9,155.8 L156.7,153.8 L158.8,151.9 L161.1,150.1 L163.7,148.3 L166.4,146.7 L169.4,145.3 L172.4,144.1 L175.6,143.1 L178.8,142.4 L181.9,142.0 L185.0,142.0 L188.1,142.2 L190.9,142.8 L193.6,143.7 L196.1,144.9 L198.3,146.5 L200.3,148.3 L201.9,150.4 L207.8,156.9 L206.2,154.8 L204.3,153.0 L202.0,151.4 L199.5,150.2 L196.8,149.3 L194.0,148.7 L191.0,148.5 L187.8,148.5 L184.7,148.9 L181.5,149.6 L178.3,150.6 L175.3,151.8 L172.3,153.2 L169.6,154.8 L167.0,156.6 L164.7,158.4 L162.6,160.4 L160.9,162.3 L159.4,164.2 L158.3,166.1 L157.5,167.8 L157.1,169.4 L157.0,170.8 L157.3,172.0Z" fill="#aea817" stroke="#68640d" stroke-width="0.8" stroke-linejoin="round"/>
<path d="M177.5,194.7 L177.0,193.7 L176.7,192.5 L176.8,191.1 L177.2,189.5 L178.0,187.8 L179.1,185.9 L180.6,184.0 L182.3,182.1 L184.4,180.2 L186.7,178.3 L189.3,176.6 L192.1,175.0 L195.0,173.5 L198.1,172.3 L201.2,171.4 L204.4,170.7 L207.5,170.3 L210.7,170.2 L213.7,170.5 L216.6,171.0 L219.3,171.9 L221.7,173.2 L224.0,174.7 L225.9,176.6 L227.6,178.7 L233.5,185.2 L231.8,183.1 L229.9,181.2 L227.6,179.7 L225.2,178.5 L222.5,177.5 L219.6,177.0 L216.6,176.7 L213.5,176.8 L210.3,177.2 L207.1,177.9 L204.0,178.8 L200.9,180.0 L198.0,181.5 L195.2,183.1 L192.6,184.8 L190.3,186.7 L188.2,188.6 L186.5,190.5 L185.0,192.5 L183.9,194.3 L183.1,196.1 L182.7,197.7 L182.6,199.1 L182.9,200.3 L183.5,201.2Z" fill="#aea817" stroke="#68640d" stroke-width="0.8" stroke-linejoin="round"/>
<path d="M203.2,222.9 L202.6,222.0 L202.3,220.8 L202.4,219.4 L202.9,217.8 L203.6,216.0 L204.7,214.2 L206.2,212.3 L208.0,210.3 L210.0,208.4 L212.3,206.6 L214.9,204.8 L217.7,203.2 L220.6,201.8 L223.7,200.6 L226.8,199.6 L230.0,198.9 L233.2,198.5 L236.3,198.5 L239.3,198.7 L242.2,199.3 L244.9,200.2 L247.4,201.4 L249.6,203.0 L251.5,204.8 L253.2,206.9 L259.1,213.4 L257.5,211.3 L255.5,209.5 L253.3,207.9 L250.8,206.7 L248.1,205.8 L245.2,205.2 L242.2,205.0 L239.1,205.0 L235.9,205.4 L232.7,206.1 L229.6,207.1 L226.5,208.3 L223.6,209.7 L220.8,211.3 L218.3,213.1 L215.9,214.9 L213.9,216.9 L212.1,218.8 L210.7,220.7 L209.5,222.6 L208.8,224.3 L208.3,225.9 L208.3,227.3 L208.5,228.5 L209.1,229.4Z" fill="#aea817" stroke="#68640d" stroke-width="0.8" stroke-linejoin="round"/>
<path d="M228.8,251.2 L228.2,250.2 L228.0,249.0 L228.1,247.6 L228.5,246.0 L229.3,244.3 L230.4,242.4 L231.8,240.5 L233.6,238.6 L235.6,236.7 L238.0,234.8 L240.5,233.1 L243.3,231.5 L246.2,230.0 L249.3,228.8 L252.4,227.9 L255.6,227.2 L258.8,226.8 L261.9,226.7 L264.9,227.0 L267.8,227.5 L270.5,228.4 L273.0,229.7 L275.2,231.2 L277.2,233.1 L278.8,235.2 L284.7,241.7 L283.1,239.6 L281.1,237.7 L278.9,236.2 L276.4,235.0 L273.7,234.0 L270.8,233.5 L267.8,233.2 L264.7,233.3 L261.5,233.7 L258.4,234.4 L255.2,235.3 L252.2,236.5 L249.2,238.0 L246.4,239.6 L243.9,241.3 L241.6,243.2 L239.5,245.1 L237.7,247.0 L236.3,249.0 L235.2,250.8 L234.4,252.6 L234.0,254.2 L233.9,255.6 L234.1,256.8 L234.7,257.7Z" fill="#aea817" stroke="#68640d" stroke-width="0.8" stroke-linejoin="round"/>
<path d="M254.4,279.4 L253.8,278.5 L253.6,277.3 L253.7,275.9 L254.1,274.3 L254.9,272.5 L256.0,270.7 L257.4,268.8 L259.2,266.8 L261.3,264.9 L263.6,263.1 L266.2,261.3 L268.9,259.7 L271.9,258.3 L274.9,257.1 L278.1,256.1 L281.3,255.4 L284.4,255.0 L287.5,255.0 L290.6,255.2 L293.4,255.8 L296.1,256.7 L298.6,257.9 L300.8,259.5 L302.8,261.3 L304.4,263.4 L310.3,269.9 L308.7,267.8 L306.8,266.0 L304.5,264.4 L302.0,263.2 L299.3,262.3 L296.5,261.7 L293.5,261.5 L290.3,261.5 L287.2,261.9 L284.0,262.6 L280.8,263.6 L277.8,264.8 L274.8,266.2 L272.1,267.8 L269.5,269.6 L267.2,271.4 L265.1,273.4 L263.4,275.3 L261.9,277.2 L260.8,279.1 L260.0,280.8 L259.6,282.4 L259.5,283.8 L259.8,285.0 L260.3,285.9Z" fill="#aea817" stroke="#68640d" stroke-width="0.8" stroke-linejoin="round"/>
<path d="M280.0,307.7 L279.5,306.7 L279.2,305.5 L279.3,304.1 L279.7,302.5 L280.5,300.8 L281.6,298.9 L283.1,297.0 L284.8,295.1 L286.9,293.2 L289.2,291.3 L291.8,289.6 L294.6,288.0 L297.5,286.5 L300.6,285.3 L303.7,284.4 L306.9,283.7 L310.0,283.3 L313.2,283.2 L316.2,283.5 L319.1,284.0 L321.8,284.9 L324.2,286.2 L326.5,287.7 L328.4,289.6 L330.1,291.7 L336.0,298.2 L334.3,296.1 L332.4,294.2 L330.1,292.7 L327.7,291.5 L325.0,290.5 L322.1,290.0 L319.1,289.7 L316.0,289.8 L312.8,290.2 L309.6,290.9 L306.5,291.8 L303.4,293.0 L300.5,294.5 L297.7,296.1 L295.1,297.8 L292.8,299.7 L290.7,301.6 L289.0,303.5 L287.5,305.5 L286.4,307.3 L285.6,309.1 L285.2,310.7 L285.1,312.1 L285.4,313.3 L286.0,314.2Z" fill="#aea817" stroke="#68640d" stroke-width="0.8" stroke-linejoin="round"/>
<path d="M121.0,96.6 L119.1,99.2 L117.1,101.6 L115.0,103.7 L112.9,105.6 L110.8,107.1 L108.8,108.4 L106.8,109.3 L105.0,109.9 L103.4,110.2 L102.0,110.1 L100.8,109.8 L99.9,109.1 L99.4,108.2 L106.7,116.3 L107.3,117.3 L108.2,117.9 L109.4,118.3 L110.8,118.3 L112.4,118.1 L114.2,117.5 L116.2,116.5 L118.2,115.3 L120.3,113.7 L122.4,111.9 L124.5,109.7 L126.5,107.3 L128.4,104.7Z" fill="#f2ea20" stroke="#797510" stroke-width="0.8" stroke-linejoin="round"/>
<path d="M124.7,100.7 L122.8,103.3 L120.8,105.7 L118.7,107.8 L116.6,109.7 L114.5,111.2 L112.5,112.5 L110.5,113.4 L108.7,114.0 L107.1,114.3 L105.7,114.2 L104.5,113.9 L103.6,113.2 L103.1,112.2" stroke="#f8f48f" stroke-width="2.0" fill="none" stroke-linecap="round" opacity="0.6"/>
<path d="M149.9,93.1 L151.3,95.5 L152.3,98.1 L152.9,100.8 L153.2,103.8 L153.1,106.8 L152.8,109.9 L152.1,113.0 L151.1,116.1 L149.8,119.1 L148.3,122.1 L146.6,124.8 L144.7,127.4 L142.7,129.8 L140.7,132.0 L138.6,133.8 L136.5,135.4 L134.4,136.7 L132.5,137.6 L130.6,138.2 L129.0,138.5 L127.6,138.4 L126.4,138.0 L125.6,137.4 L125.0,136.4 L132.4,144.6 L133.0,145.5 L133.8,146.2 L135.0,146.5 L136.4,146.6 L138.0,146.3 L139.8,145.7 L141.8,144.8 L143.8,143.5 L145.9,142.0 L148.1,140.1 L150.1,138.0 L152.1,135.6 L154.0,133.0 L155.7,130.2 L157.2,127.3 L158.5,124.2 L159.5,121.1 L160.1,118.0 L160.5,114.9 L160.6,111.9 L160.3,109.0 L159.6,106.2 L158.7,103.6 L157.3,101.3Z" fill="#f2ea20" stroke="#797510" stroke-width="0.8" stroke-linejoin="round"/>
<path d="M153.6,97.2 L155.0,99.5 L155.9,102.1 L156.6,104.9 L156.9,107.8 L156.8,110.9 L156.5,114.0 L155.8,117.1 L154.8,120.2 L153.5,123.2 L152.0,126.1 L150.3,128.9 L148.4,131.5 L146.4,133.9 L144.4,136.0 L142.3,137.9 L140.1,139.5 L138.1,140.7 L136.1,141.7 L134.3,142.3 L132.7,142.5 L131.3,142.5 L130.1,142.1 L129.3,141.4 L128.7,140.5" stroke="#f8f48f" stroke-width="2.0" fill="none" stroke-linecap="round" opacity="0.6"/>
<path d="M175.6,121.4 L176.9,123.7 L177.9,126.3 L178.5,129.1 L178.8,132.0 L178.8,135.0 L178.4,138.1 L177.7,141.2 L176.7,144.3 L175.4,147.4 L173.9,150.3 L172.2,153.1 L170.4,155.7 L168.4,158.1 L166.3,160.2 L164.2,162.1 L162.1,163.6 L160.0,164.9 L158.1,165.8 L156.3,166.4 L154.6,166.7 L153.2,166.6 L152.1,166.3 L151.2,165.6 L150.6,164.7 L158.0,172.8 L158.6,173.8 L159.5,174.4 L160.6,174.8 L162.0,174.8 L163.7,174.6 L165.5,174.0 L167.4,173.0 L169.5,171.8 L171.6,170.2 L173.7,168.4 L175.8,166.2 L177.8,163.8 L179.6,161.2 L181.3,158.5 L182.8,155.5 L184.1,152.5 L185.1,149.4 L185.8,146.3 L186.2,143.2 L186.2,140.2 L185.9,137.2 L185.3,134.5 L184.3,131.9 L183.0,129.5Z" fill="#f2ea20" stroke="#797510" stroke-width="0.8" stroke-linejoin="round"/>
<path d="M179.3,125.4 L180.6,127.8 L181.6,130.4 L182.2,133.2 L182.5,136.1 L182.5,139.1 L182.1,142.2 L181.4,145.3 L180.4,148.4 L179.1,151.5 L177.6,154.4 L175.9,157.2 L174.1,159.8 L172.1,162.2 L170.0,164.3 L167.9,166.2 L165.8,167.7 L163.7,169.0 L161.8,169.9 L160.0,170.5 L158.3,170.8 L156.9,170.7 L155.8,170.4 L154.9,169.7 L154.3,168.7" stroke="#f8f48f" stroke-width="2.0" fill="none" stroke-linecap="round" opacity="0.6"/>
<path d="M201.2,149.6 L202.5,152.0 L203.5,154.6 L204.1,157.3 L204.4,160.3 L204.4,163.3 L204.0,166.4 L203.3,169.5 L202.3,172.6 L201.1,175.6 L199.6,178.6 L197.9,181.3 L196.0,183.9 L194.0,186.3 L191.9,188.5 L189.8,190.3 L187.7,191.9 L185.7,193.2 L183.7,194.1 L181.9,194.7 L180.3,195.0 L178.9,194.9 L177.7,194.5 L176.8,193.9 L184.2,202.0 L185.1,202.7 L186.2,203.0 L187.7,203.1 L189.3,202.8 L191.1,202.2 L193.0,201.3 L195.1,200.0 L197.2,198.5 L199.3,196.6 L201.4,194.5 L203.4,192.1 L205.2,189.5 L206.9,186.7 L208.4,183.8 L209.7,180.7 L210.7,177.6 L211.4,174.5 L211.8,171.4 L211.8,168.4 L211.5,165.5 L210.9,162.7 L209.9,160.1 L208.6,157.8Z" fill="#f2ea20" stroke="#797510" stroke-width="0.8" stroke-linejoin="round"/>
<path d="M204.9,153.7 L206.2,156.0 L207.2,158.6 L207.8,161.4 L208.1,164.3 L208.1,167.4 L207.7,170.5 L207.0,173.6 L206.0,176.7 L204.8,179.7 L203.3,182.6 L201.5,185.4 L199.7,188.0 L197.7,190.4 L195.6,192.5 L193.5,194.4 L191.4,196.0 L189.3,197.2 L187.4,198.2 L185.6,198.8 L184.0,199.0 L182.5,199.0 L181.4,198.6 L180.5,197.9" stroke="#f8f48f" stroke-width="2.0" fill="none" stroke-linecap="round" opacity="0.6"/>
<path d="M226.8,177.9 L228.1,180.2 L229.1,182.8 L229.8,185.6 L230.1,188.5 L230.0,191.5 L229.6,194.6 L228.9,197.7 L227.9,200.8 L226.7,203.9 L225.2,206.8 L223.5,209.6 L221.6,212.2 L219.6,214.6 L217.5,216.7 L215.4,218.6 L213.3,220.1 L211.3,221.4 L209.3,222.3 L207.5,222.9 L205.9,223.2 L204.5,223.1 L203.3,222.8 L202.4,222.1 L209.8,230.3 L210.7,230.9 L211.9,231.3 L213.3,231.3 L214.9,231.1 L216.7,230.5 L218.7,229.5 L220.7,228.3 L222.8,226.7 L224.9,224.9 L227.0,222.7 L229.0,220.3 L230.9,217.7 L232.6,215.0 L234.1,212.0 L235.3,209.0 L236.3,205.9 L237.0,202.8 L237.4,199.7 L237.5,196.7 L237.2,193.7 L236.5,191.0 L235.5,188.4 L234.2,186.0Z" fill="#f2ea20" stroke="#797510" stroke-width="0.8" stroke-linejoin="round"/>
<path d="M230.5,181.9 L231.8,184.3 L232.8,186.9 L233.5,189.7 L233.8,192.6 L233.7,195.6 L233.3,198.7 L232.6,201.8 L231.6,204.9 L230.4,208.0 L228.9,210.9 L227.2,213.7 L225.3,216.3 L223.3,218.7 L221.2,220.8 L219.1,222.7 L217.0,224.2 L215.0,225.5 L213.0,226.4 L211.2,227.0 L209.6,227.3 L208.2,227.2 L207.0,226.9 L206.1,226.2" stroke="#f8f48f" stroke-width="2.0" fill="none" stroke-linecap="round" opacity="0.6"/>
<path d="M252.4,206.1 L253.8,208.5 L254.8,211.1 L255.4,213.8 L255.7,216.8 L255.6,219.8 L255.3,222.9 L254.6,226.0 L253.6,229.1 L252.3,232.1 L250.8,235.1 L249.1,237.8 L247.2,240.4 L245.2,242.8 L243.2,245.0 L241.1,246.8 L239.0,248.4 L236.9,249.7 L235.0,250.6 L233.1,251.2 L231.5,251.5 L230.1,251.4 L228.9,251.0 L228.1,250.4 L235.5,258.5 L236.3,259.2 L237.5,259.5 L238.9,259.6 L240.5,259.3 L242.3,258.7 L244.3,257.8 L246.3,256.5 L248.4,255.0 L250.6,253.1 L252.6,251.0 L254.6,248.6 L256.5,246.0 L258.2,243.2 L259.7,240.3 L261.0,237.2 L262.0,234.1 L262.6,231.0 L263.0,227.9 L263.1,224.9 L262.8,222.0 L262.1,219.2 L261.2,216.6 L259.8,214.3Z" fill="#f2ea20" stroke="#797510" stroke-width="0.8" stroke-linejoin="round"/>
<path d="M256.1,210.2 L257.5,212.5 L258.4,215.1 L259.1,217.9 L259.4,220.8 L259.3,223.9 L259.0,227.0 L258.3,230.1 L257.3,233.2 L256.0,236.2 L254.5,239.1 L252.8,241.9 L250.9,244.5 L248.9,246.9 L246.9,249.0 L244.8,250.9 L242.6,252.5 L240.6,253.7 L238.6,254.7 L236.8,255.3 L235.2,255.5 L233.8,255.5 L232.6,255.1 L231.8,254.4" stroke="#f8f48f" stroke-width="2.0" fill="none" stroke-linecap="round" opacity="0.6"/>
<path d="M278.1,234.4 L279.4,236.7 L280.4,239.3 L281.0,242.1 L281.3,245.0 L281.3,248.0 L280.9,251.1 L280.2,254.2 L279.2,257.3 L277.9,260.4 L276.4,263.3 L274.7,266.1 L272.9,268.7 L270.9,271.1 L268.8,273.2 L266.7,275.1 L264.6,276.6 L262.5,277.9 L260.6,278.8 L258.8,279.4 L257.1,279.7 L255.7,279.6 L254.6,279.3 L253.7,278.6 L261.1,286.8 L262.0,287.4 L263.1,287.8 L264.5,287.8 L266.2,287.6 L268.0,287.0 L269.9,286.0 L272.0,284.8 L274.1,283.2 L276.2,281.4 L278.3,279.2 L280.3,276.8 L282.1,274.2 L283.8,271.5 L285.3,268.5 L286.6,265.5 L287.6,262.4 L288.3,259.3 L288.7,256.2 L288.7,253.2 L288.4,250.2 L287.8,247.5 L286.8,244.9 L285.5,242.5Z" fill="#f2ea20" stroke="#797510" stroke-width="0.8" stroke-linejoin="round"/>
<path d="M281.8,238.4 L283.1,240.8 L284.1,243.4 L284.7,246.2 L285.0,249.1 L285.0,252.1 L284.6,255.2 L283.9,258.3 L282.9,261.4 L281.6,264.5 L280.1,267.4 L278.4,270.2 L276.6,272.8 L274.6,275.2 L272.5,277.3 L270.4,279.2 L268.3,280.7 L266.2,282.0 L264.3,282.9 L262.5,283.5 L260.8,283.8 L259.4,283.7 L258.3,283.4 L257.4,282.7" stroke="#f8f48f" stroke-width="2.0" fill="none" stroke-linecap="round" opacity="0.6"/>
<path d="M303.7,262.6 L305.0,265.0 L306.0,267.6 L306.6,270.3 L306.9,273.3 L306.9,276.3 L306.5,279.4 L305.8,282.5 L304.8,285.6 L303.6,288.6 L302.1,291.6 L300.4,294.3 L298.5,296.9 L296.5,299.3 L294.4,301.5 L292.3,303.3 L290.2,304.9 L288.2,306.2 L286.2,307.1 L284.4,307.7 L282.8,308.0 L281.4,307.9 L280.2,307.5 L279.3,306.9 L286.7,315.0 L287.6,315.7 L288.7,316.0 L290.2,316.1 L291.8,315.8 L293.6,315.2 L295.5,314.3 L297.6,313.0 L299.7,311.5 L301.8,309.6 L303.9,307.5 L305.9,305.1 L307.7,302.5 L309.4,299.7 L310.9,296.8 L312.2,293.7 L313.2,290.6 L313.9,287.5 L314.3,284.4 L314.3,281.4 L314.0,278.5 L313.4,275.7 L312.4,273.1 L311.1,270.8Z" fill="#f2ea20" stroke="#797510" stroke-width="0.8" stroke-linejoin="round"/>
<path d="M307.4,266.7 L308.7,269.0 L309.7,271.6 L310.3,274.4 L310.6,277.3 L310.6,280.4 L310.2,283.5 L309.5,286.6 L308.5,289.7 L307.3,292.7 L305.8,295.6 L304.0,298.4 L302.2,301.0 L300.2,303.4 L298.1,305.5 L296.0,307.4 L293.9,309.0 L291.8,310.2 L289.9,311.2 L288.1,311.8 L286.5,312.0 L285.0,312.0 L283.9,311.6 L283.0,310.9" stroke="#f8f48f" stroke-width="2.0" fill="none" stroke-linecap="round" opacity="0.6"/>
<path d="M329.3,290.9 L330.6,293.2 L331.6,295.8 L332.3,298.6 L332.6,301.5 L332.5,304.5 L332.1,307.6 L331.4,310.7 L330.4,313.8 L329.2,316.9 L327.7,319.8 L326.0,322.6 L333.4,330.7 L335.1,328.0 L336.6,325.0 L337.8,322.0 L338.8,318.9 L339.5,315.8 L339.9,312.7 L340.0,309.7 L339.7,306.7 L339.0,304.0 L338.0,301.4 L336.7,299.0Z" fill="#f2ea20" stroke="#797510" stroke-width="0.8" stroke-linejoin="round"/>
<path d="M333.0,294.9 L334.3,297.3 L335.3,299.9 L336.0,302.7 L336.3,305.6 L336.2,308.6 L335.8,311.7 L335.1,314.8 L334.1,317.9 L332.9,321.0 L331.4,323.9 L329.7,326.7" stroke="#f8f48f" stroke-width="2.0" fill="none" stroke-linecap="round" opacity="0.6"/>
<path d="M256.9,313.9 L256.6,313.7 L256.5,313.2 L256.5,312.6 L256.6,311.7 L256.9,310.8 L257.2,309.7 L257.7,308.4 L258.4,307.1 L259.2,305.7 L260.1,304.3 L261.1,302.9 L262.3,301.6 L263.5,300.2 L264.8,299.0 L266.3,297.8 L267.7,296.8 L269.2,295.9 L270.8,295.2 L272.3,294.7 L273.8,294.4 L275.3,294.3 L276.7,294.4 L278.1,294.7 L279.4,295.3 L285.3,297.7 L284.0,297.2 L282.6,296.9 L281.2,296.8 L279.7,296.9 L278.2,297.2 L276.7,297.7 L275.1,298.4 L273.6,299.3 L272.2,300.3 L270.7,301.5 L269.4,302.7 L268.2,304.0 L267.0,305.4 L266.0,306.8 L265.1,308.2 L264.3,309.6 L263.6,310.9 L263.1,312.1 L262.8,313.2 L262.5,314.2 L262.4,315.1 L262.4,315.7 L262.5,316.2 L262.8,316.4Z" fill="#9c9c9c" stroke="#5d5d5d" stroke-width="0.8" stroke-linejoin="round"/>
<path d="M280.5,323.8 L280.3,323.5 L280.2,322.9 L280.3,322.2 L280.5,321.3 L280.8,320.2 L281.2,319.1 L281.8,317.8 L282.5,316.4 L283.4,315.0 L284.3,313.6 L285.4,312.2 L286.6,310.9 L287.9,309.6 L289.3,308.4 L290.7,307.3 L292.2,306.4 L293.7,305.6 L295.3,305.0 L296.8,304.6 L298.3,304.3 L299.8,304.3 L301.2,304.5 L307.1,307.0 L305.7,306.8 L304.2,306.8 L302.7,307.0 L301.2,307.5 L299.6,308.1 L298.1,308.8 L296.6,309.8 L295.2,310.9 L293.8,312.1 L292.5,313.4 L291.3,314.7 L290.2,316.1 L289.3,317.5 L288.4,318.9 L287.7,320.3 L287.1,321.5 L286.7,322.7 L286.4,323.8 L286.2,324.7 L286.1,325.4 L286.2,326.0 L286.4,326.3Z" fill="#9c9c9c" stroke="#5d5d5d" stroke-width="0.8" stroke-linejoin="round"/>
<path d="M258.9,310.8 L258.3,311.8 L257.8,312.6 L257.3,313.2 L256.8,313.5 L256.5,313.7 L256.1,313.6 L263.5,316.7 L263.8,316.8 L264.2,316.6 L264.7,316.3 L265.2,315.7 L265.7,314.9 L266.2,313.9Z" fill="#dadada" stroke="#6d6d6d" stroke-width="0.8" stroke-linejoin="round"/>
<path d="M262.6,312.4 L262.0,313.3 L261.5,314.1 L261.0,314.7 L260.5,315.1 L260.1,315.2 L259.8,315.2" stroke="#ececec" stroke-width="1.4" fill="none" stroke-linecap="round" opacity="0.6"/>
<path d="M278.7,294.9 L279.9,295.7 L281.0,296.6 L282.0,297.7 L282.8,299.0 L283.6,300.4 L284.1,302.0 L284.6,303.7 L284.9,305.4 L285.1,307.2 L285.2,309.1 L285.1,310.9 L284.9,312.7 L284.7,314.4 L284.3,316.1 L283.9,317.6 L283.4,319.0 L282.9,320.2 L282.4,321.3 L281.8,322.2 L281.3,322.9 L280.8,323.4 L280.4,323.6 L280.0,323.7 L279.8,323.5 L287.1,326.6 L287.4,326.8 L287.8,326.7 L288.2,326.5 L288.7,326.0 L289.2,325.3 L289.7,324.4 L290.3,323.3 L290.8,322.1 L291.2,320.7 L291.7,319.2 L292.0,317.5 L292.3,315.8 L292.5,314.0 L292.5,312.2 L292.5,310.3 L292.3,308.5 L292.0,306.8 L291.5,305.1 L290.9,303.6 L290.2,302.1 L289.3,300.8 L288.4,299.7 L287.3,298.8 L286.1,298.0Z" fill="#dadada" stroke="#6d6d6d" stroke-width="0.8" stroke-linejoin="round"/>
<path d="M282.4,296.5 L283.6,297.2 L284.7,298.2 L285.7,299.3 L286.5,300.6 L287.2,302.0 L287.8,303.6 L288.3,305.2 L288.6,307.0 L288.8,308.8 L288.8,310.6 L288.8,312.4 L288.6,314.2 L288.3,316.0 L288.0,317.6 L287.6,319.1 L287.1,320.5 L286.6,321.8 L286.0,322.9 L285.5,323.8 L285.0,324.4 L284.5,324.9 L284.1,325.2 L283.7,325.2 L283.4,325.1" stroke="#ececec" stroke-width="1.4" fill="none" stroke-linecap="round" opacity="0.6"/>
<path d="M300,318 C308,326 300,334 290,331" stroke="#7f7f7f" stroke-width="4.4" fill="none" stroke-linecap="round" stroke-linejoin="round"/>
<path d="M300,318 C308,326 300,334 290,331" stroke="#d4d4d4" stroke-width="3" fill="none" stroke-linecap="round" stroke-linejoin="round"/>
<circle cx="167" cy="201" r="7" fill="url(#gPur)"/>
<circle cx="228" cy="190" r="8" fill="url(#gMag)"/>
<circle cx="234" cy="200" r="7" fill="url(#gRed)"/>
<circle cx="224" cy="204" r="7" fill="url(#gBlu)"/>
<circle cx="229" cy="196" r="7" fill="url(#gMag)"/>
<rect x="61.0" y="55.0" width="29.7" height="18.5" fill="#d8d8d8" stroke="#333" stroke-width="1.3" />
<text x="75.8" y="68.9" font-size="13" fill="#222" font-weight="normal" text-anchor="middle" >EL4</text>
<rect x="51.0" y="96.5" width="15.7" height="18.2" fill="#f0a040" stroke="#333" stroke-width="1.3" />
<text x="58.9" y="110.6" font-size="14" fill="#111" font-weight="bold" text-anchor="middle" >8</text>
<rect x="230.6" y="42.2" width="15.9" height="18.0" fill="#33dd33" stroke="#333" stroke-width="1.3" />
<text x="238.6" y="56.2" font-size="14" fill="#111" font-weight="bold" text-anchor="middle" >1</text>
<rect x="182.2" y="63.8" width="15.5" height="18.5" fill="#b8f2b8" stroke="#333" stroke-width="1.3" />
<text x="189.9" y="78.1" font-size="14" fill="#111" font-weight="bold" text-anchor="middle" >7</text>
<rect x="226.4" y="104.8" width="15.5" height="18.5" fill="#b8f2b8" stroke="#333" stroke-width="1.3" />
<text x="234.2" y="119.1" font-size="14" fill="#111" font-weight="bold" text-anchor="middle" >2</text>
<rect x="286.9" y="94.6" width="15.9" height="19.1" fill="#72f0d4" stroke="#333" stroke-width="1.3" />
<text x="294.9" y="109.2" font-size="14" fill="#111" font-weight="bold" text-anchor="middle" >6</text>
<rect x="284.3" y="129.2" width="22.7" height="18.0" fill="#4a78b0" stroke="#333" stroke-width="1.3" />
<text x="295.6" y="143.2" font-size="14" fill="#111" font-weight="bold" text-anchor="middle" >10</text>
<rect x="346.4" y="126.7" width="23.2" height="17.9" fill="#d8d8d8" stroke="#333" stroke-width="1.3" />
<text x="358.0" y="140.7" font-size="14" fill="#111" font-weight="bold" text-anchor="middle" >11</text>
<rect x="88.0" y="245.0" width="16.0" height="19.4" fill="#4e7cb2" stroke="#333" stroke-width="1.3" />
<text x="96.0" y="259.7" font-size="14" fill="#111" font-weight="bold" text-anchor="middle" >5</text>
<rect x="375.4" y="258.8" width="23.6" height="18.2" fill="#d8d8d8" stroke="#333" stroke-width="1.3" />
<text x="387.2" y="272.9" font-size="14" fill="#111" font-weight="bold" text-anchor="middle" >12</text>
<rect x="131.5" y="312.7" width="16.2" height="17.5" fill="#e6e496" stroke="#333" stroke-width="1.3" />
<text x="139.6" y="326.5" font-size="14" fill="#111" font-weight="bold" text-anchor="middle" >4</text>
<rect x="178.0" y="325.3" width="16.0" height="18.2" fill="#e6e496" stroke="#333" stroke-width="1.3" />
<text x="186.0" y="339.4" font-size="14" fill="#111" font-weight="bold" text-anchor="middle" >9</text>
<rect x="329.4" y="318.5" width="15.6" height="18.9" fill="#f6f03c" stroke="#333" stroke-width="1.3" />
<text x="337.2" y="333.0" font-size="14" fill="#111" font-weight="bold" text-anchor="middle" >3</text>
<rect x="288.2" y="333.8" width="26.2" height="18.6" fill="#d8d8d8" stroke="#333" stroke-width="1.3" />
<text x="301.3" y="347.8" font-size="13" fill="#222" font-weight="normal" text-anchor="middle" >IL1</text>
<text x="192.7" y="362.8" font-size="12" fill="#111" font-weight="bold" text-anchor="start" >N</text>
<text x="380.0" y="343.5" font-size="12" fill="#111" font-weight="bold" text-anchor="start" >C</text>
<path d="M670.4,220.0 L670.3,219.2 L670.0,218.5 L669.4,217.8 L668.6,217.2 L667.6,216.7 L666.3,216.3 L664.9,216.1 L663.4,216.0 L661.8,216.0 L660.1,216.3 L658.3,216.7 L656.6,217.2 L654.9,218.0 L653.3,218.9 L651.7,220.0 L650.3,221.2 L649.1,222.5 L648.1,224.0 L647.3,225.6 L646.7,227.2 L646.4,228.9 L646.3,230.7 L646.5,232.5 L647.0,234.3" stroke="#616161" stroke-width="4.4" fill="none" stroke-linecap="round"/>
<path d="M670.4,220.0 L670.3,219.2 L670.0,218.5 L669.4,217.8 L668.6,217.2 L667.6,216.7 L666.3,216.3 L664.9,216.1 L663.4,216.0 L661.8,216.0 L660.1,216.3 L658.3,216.7 L656.6,217.2 L654.9,218.0 L653.3,218.9 L651.7,220.0 L650.3,221.2 L649.1,222.5 L648.1,224.0 L647.3,225.6 L646.7,227.2 L646.4,228.9 L646.3,230.7 L646.5,232.5 L647.0,234.3" stroke="#a2a2a2" stroke-width="3.2" fill="none" stroke-linecap="round"/>
<path d="M687.0,243.3 L687.0,242.6 L686.7,241.8 L686.1,241.1 L685.3,240.5 L684.2,240.0 L683.0,239.6 L681.6,239.4 L680.1,239.3 L678.4,239.4 L676.7,239.6 L675.0,240.0 L673.3,240.6 L671.6,241.3 L669.9,242.2 L668.4,243.3 L667.0,244.5 L665.8,245.8 L664.7,247.3 L663.9,248.9 L663.3,250.5 L663.0,252.3 L663.0,254.0 L663.2,255.8 L663.7,257.6" stroke="#616161" stroke-width="4.4" fill="none" stroke-linecap="round"/>
<path d="M687.0,243.3 L687.0,242.6 L686.7,241.8 L686.1,241.1 L685.3,240.5 L684.2,240.0 L683.0,239.6 L681.6,239.4 L680.1,239.3 L678.4,239.4 L676.7,239.6 L675.0,240.0 L673.3,240.6 L671.6,241.3 L669.9,242.2 L668.4,243.3 L667.0,244.5 L665.8,245.8 L664.7,247.3 L663.9,248.9 L663.3,250.5 L663.0,252.3 L663.0,254.0 L663.2,255.8 L663.7,257.6" stroke="#a2a2a2" stroke-width="3.2" fill="none" stroke-linecap="round"/>
<path d="M703.7,266.7 L703.6,265.9 L703.3,265.1 L702.7,264.4 L701.9,263.8 L700.9,263.3 L699.7,263.0 L698.3,262.7 L696.7,262.6 L695.1,262.7 L693.4,262.9 L691.7,263.3 L689.9,263.9 L688.2,264.6 L686.6,265.6 L685.1,266.6 L683.7,267.8 L682.4,269.2 L681.4,270.6 L680.6,272.2 L680.0,273.9 L679.7,275.6 L679.6,277.4 L679.8,279.2 L680.3,281.0" stroke="#616161" stroke-width="4.4" fill="none" stroke-linecap="round"/>
<path d="M703.7,266.7 L703.6,265.9 L703.3,265.1 L702.7,264.4 L701.9,263.8 L700.9,263.3 L699.7,263.0 L698.3,262.7 L696.7,262.6 L695.1,262.7 L693.4,262.9 L691.7,263.3 L689.9,263.9 L688.2,264.6 L686.6,265.6 L685.1,266.6 L683.7,267.8 L682.4,269.2 L681.4,270.6 L680.6,272.2 L680.0,273.9 L679.7,275.6 L679.6,277.4 L679.8,279.2 L680.3,281.0" stroke="#a2a2a2" stroke-width="3.2" fill="none" stroke-linecap="round"/>
<path d="M650.0,225.0 L652.4,225.4 L654.8,225.6 L657.2,225.7 L659.4,225.6 L661.5,225.4 L663.4,225.0 L665.1,224.5 L666.6,223.9 L667.9,223.2 L668.9,222.4 L669.7,221.7 L670.2,220.8 L670.4,220.0" stroke="#717171" stroke-width="5.4" fill="none" stroke-linecap="round"/>
<path d="M650.0,225.0 L652.4,225.4 L654.8,225.6 L657.2,225.7 L659.4,225.6 L661.5,225.4 L663.4,225.0 L665.1,224.5 L666.6,223.9 L667.9,223.2 L668.9,222.4 L669.7,221.7 L670.2,220.8 L670.4,220.0" stroke="#e2e2e2" stroke-width="4.0" fill="none" stroke-linecap="round"/>
<path d="M647.0,234.3 L647.7,236.1 L648.8,237.8 L650.0,239.4 L651.5,241.0 L653.3,242.5 L655.2,243.8 L657.3,245.0 L659.5,246.1 L661.8,247.0 L664.2,247.8 L666.7,248.3 L669.1,248.7 L671.5,249.0 L673.8,249.0 L676.1,248.9 L678.1,248.7 L680.1,248.3 L681.8,247.8 L683.3,247.2 L684.6,246.5 L685.6,245.8 L686.3,245.0 L686.8,244.2 L687.0,243.3" stroke="#717171" stroke-width="5.4" fill="none" stroke-linecap="round"/>
<path d="M647.0,234.3 L647.7,236.1 L648.8,237.8 L650.0,239.4 L651.5,241.0 L653.3,242.5 L655.2,243.8 L657.3,245.0 L659.5,246.1 L661.8,247.0 L664.2,247.8 L666.7,248.3 L669.1,248.7 L671.5,249.0 L673.8,249.0 L676.1,248.9 L678.1,248.7 L680.1,248.3 L681.8,247.8 L683.3,247.2 L684.6,246.5 L685.6,245.8 L686.3,245.0 L686.8,244.2 L687.0,243.3" stroke="#e2e2e2" stroke-width="4.0" fill="none" stroke-linecap="round"/>
<path d="M663.7,257.6 L664.4,259.4 L665.4,261.1 L666.7,262.8 L668.2,264.4 L669.9,265.8 L671.9,267.2 L673.9,268.4 L676.2,269.4 L678.5,270.4 L680.9,271.1 L683.3,271.7 L685.8,272.1 L688.2,272.3 L690.5,272.4 L692.7,272.3 L694.8,272.0 L696.7,271.7 L698.5,271.2 L700.0,270.6 L701.2,269.9 L702.3,269.1 L703.0,268.3 L703.5,267.5 L703.7,266.7" stroke="#717171" stroke-width="5.4" fill="none" stroke-linecap="round"/>
<path d="M663.7,257.6 L664.4,259.4 L665.4,261.1 L666.7,262.8 L668.2,264.4 L669.9,265.8 L671.9,267.2 L673.9,268.4 L676.2,269.4 L678.5,270.4 L680.9,271.1 L683.3,271.7 L685.8,272.1 L688.2,272.3 L690.5,272.4 L692.7,272.3 L694.8,272.0 L696.7,271.7 L698.5,271.2 L700.0,270.6 L701.2,269.9 L702.3,269.1 L703.0,268.3 L703.5,267.5 L703.7,266.7" stroke="#e2e2e2" stroke-width="4.0" fill="none" stroke-linecap="round"/>
<path d="M680.3,281.0 L681.1,282.7 L682.1,284.5 L683.4,286.1 L684.9,287.7 L686.6,289.2 L688.5,290.5 L690.6,291.7 L692.8,292.8 L695.2,293.7 L697.6,294.4 L700.0,295.0" stroke="#717171" stroke-width="5.4" fill="none" stroke-linecap="round"/>
<path d="M680.3,281.0 L681.1,282.7 L682.1,284.5 L683.4,286.1 L684.9,287.7 L686.6,289.2 L688.5,290.5 L690.6,291.7 L692.8,292.8 L695.2,293.7 L697.6,294.4 L700.0,295.0" stroke="#e2e2e2" stroke-width="4.0" fill="none" stroke-linecap="round"/>
<path d="M640,300 C660,310 690,300 700,320 C705,330 690,335 680,330" stroke="#868686" stroke-width="4.4" fill="none" stroke-linecap="round" stroke-linejoin="round"/>
<path d="M640,300 C660,310 690,300 700,320 C705,330 690,335 680,330" stroke="#e0e0e0" stroke-width="3" fill="none" stroke-linecap="round" stroke-linejoin="round"/>
<path d="M700,300 C720,310 740,300 745,290" stroke="#888888" stroke-width="4.4" fill="none" stroke-linecap="round" stroke-linejoin="round"/>
<path d="M700,300 C720,310 740,300 745,290" stroke="#e4e4e4" stroke-width="3" fill="none" stroke-linecap="round" stroke-linejoin="round"/>
<path d="M528,112 C524,100 520,90 519,82 C524,79 536,80 547,76" stroke="#224264" stroke-width="3.6" fill="none" stroke-linecap="round" stroke-linejoin="round"/>
<path d="M528,112 C524,100 520,90 519,82 C524,79 536,80 547,76" stroke="#3a6ea8" stroke-width="2.2" fill="none" stroke-linecap="round" stroke-linejoin="round"/>
<path d="M559.2,89.5 L558.8,89.3 L558.4,88.9 L558.1,88.1 L557.8,87.1 L557.7,85.8 L557.6,84.3 L557.6,82.6 L557.8,80.7 L558.1,78.7 L558.6,76.6 L559.2,74.4 L559.9,72.2 L560.8,70.0 L561.8,67.8 L563.0,65.7 L564.3,63.8 L565.7,62.0 L567.3,60.4 L568.9,59.0 L570.6,57.9 L572.4,57.1 L574.2,56.5 L576.0,56.2 L577.8,56.2 L584.2,56.4 L582.4,56.4 L580.6,56.7 L578.8,57.3 L577.0,58.2 L575.3,59.3 L573.7,60.7 L572.1,62.2 L570.7,64.0 L569.4,66.0 L568.2,68.0 L567.2,70.2 L566.3,72.4 L565.6,74.6 L565.0,76.8 L564.5,78.9 L564.2,81.0 L564.0,82.8 L564.0,84.5 L564.1,86.1 L564.2,87.3 L564.5,88.3 L564.8,89.1 L565.2,89.6 L565.6,89.7Z" fill="#a1a1a1" stroke="#606060" stroke-width="0.8" stroke-linejoin="round"/>
<path d="M592.7,90.7 L592.3,90.4 L592.0,89.8 L591.7,88.9 L591.5,87.7 L597.9,88.0 L598.1,89.1 L598.4,90.0 L598.7,90.6 L599.1,90.9Z" fill="#a1a1a1" stroke="#606060" stroke-width="0.8" stroke-linejoin="round"/>
<path d="M542.4,54.9 L544.2,55.0 L552.2,55.3 L550.4,55.2Z" fill="#e0e0e0" stroke="#707070" stroke-width="0.8" stroke-linejoin="round"/>
<path d="M546.4,55.0 L548.2,55.2" stroke="#efefef" stroke-width="1.4" fill="none" stroke-linecap="round" opacity="0.6"/>
<path d="M544.2,55.0 L546.0,55.5 L547.8,56.2 L549.5,57.2 L551.1,58.5 L552.6,60.0 L554.0,61.7 L555.3,63.6 L556.4,65.6 L557.5,67.8 L558.3,70.0 L559.0,72.3 L559.6,74.5 L560.0,76.8 L560.3,78.9 L560.4,80.9 L560.5,82.8 L560.4,84.5 L560.2,86.0 L559.9,87.2 L559.6,88.2 L559.2,88.9 L558.8,89.3 L558.4,89.5 L566.4,89.8 L566.8,89.6 L567.2,89.2 L567.6,88.5 L567.9,87.5 L568.2,86.3 L568.4,84.8 L568.5,83.1 L568.4,81.2 L568.3,79.2 L568.0,77.1 L567.6,74.8 L567.0,72.6 L566.3,70.3 L565.4,68.1 L564.4,65.9 L563.3,63.9 L562.0,62.0 L560.6,60.3 L559.1,58.8 L557.5,57.5 L555.8,56.5 L554.0,55.8 L552.2,55.3Z" fill="#e0e0e0" stroke="#707070" stroke-width="0.8" stroke-linejoin="round"/>
<path d="M548.2,55.2 L550.0,55.6 L551.8,56.3 L553.5,57.3 L555.1,58.6 L556.6,60.1 L558.0,61.8 L559.3,63.7 L560.4,65.8 L561.4,67.9 L562.3,70.1 L563.0,72.4 L563.6,74.7 L564.0,76.9 L564.3,79.1 L564.4,81.1 L564.5,83.0 L564.4,84.7 L564.2,86.1 L563.9,87.4 L563.6,88.4 L563.2,89.1 L562.8,89.5 L562.4,89.6" stroke="#efefef" stroke-width="1.4" fill="none" stroke-linecap="round" opacity="0.6"/>
<path d="M577.1,56.1 L578.9,56.4 L580.7,57.0 L582.4,57.9 L584.0,59.1 L585.6,60.4 L587.1,62.0 L588.4,63.9 L589.6,65.8 L590.7,67.9 L591.7,70.1 L592.4,72.4 L593.1,74.7 L593.6,76.9 L593.9,79.1 L594.1,81.2 L594.2,83.1 L594.2,84.9 L594.1,86.5 L593.8,87.9 L593.5,89.0 L593.2,89.9 L592.8,90.4 L592.4,90.7 L591.9,90.7 L599.9,91.0 L600.3,91.0 L600.8,90.7 L601.2,90.2 L601.5,89.3 L601.8,88.2 L602.0,86.8 L602.2,85.2 L602.2,83.4 L602.1,81.5 L601.9,79.4 L601.6,77.2 L601.1,74.9 L600.4,72.7 L599.6,70.4 L598.7,68.2 L597.6,66.1 L596.4,64.2 L595.1,62.3 L593.6,60.7 L592.0,59.3 L590.4,58.2 L588.6,57.3 L586.9,56.7 L585.0,56.4Z" fill="#e0e0e0" stroke="#707070" stroke-width="0.8" stroke-linejoin="round"/>
<path d="M581.0,56.3 L582.9,56.6 L584.6,57.2 L586.4,58.1 L588.0,59.2 L589.6,60.6 L591.1,62.2 L592.4,64.0 L593.6,66.0 L594.7,68.1 L595.6,70.3 L596.4,72.5 L597.1,74.8 L597.6,77.1 L597.9,79.2 L598.1,81.3 L598.2,83.3 L598.2,85.1 L598.0,86.7 L597.8,88.0 L597.5,89.2 L597.2,90.0 L596.8,90.6 L596.3,90.8 L595.9,90.8" stroke="#efefef" stroke-width="1.4" fill="none" stroke-linecap="round" opacity="0.6"/>
<path d="M600,66 C604,75 603,86 612,90 C625,94 640,90 650,98 C660,104 675,104 688,108 C696,112 698,118 694,124" stroke="#818181" stroke-width="3.9" fill="none" stroke-linecap="round" stroke-linejoin="round"/>
<path d="M600,66 C604,75 603,86 612,90 C625,94 640,90 650,98 C660,104 675,104 688,108 C696,112 698,118 694,124" stroke="#d8d8d8" stroke-width="2.5" fill="none" stroke-linecap="round" stroke-linejoin="round"/>
<path d="M712,172 C706,150 720,132 745,130 C765,128 788,132 795,150 C800,165 790,175 780,172" stroke="#828282" stroke-width="4.4" fill="none" stroke-linecap="round" stroke-linejoin="round"/>
<path d="M712,172 C706,150 720,132 745,130 C765,128 788,132 795,150 C800,165 790,175 780,172" stroke="#dadada" stroke-width="3" fill="none" stroke-linecap="round" stroke-linejoin="round"/>
<path d="M722,170 C726,160 740,156 752,160" stroke="#7c7c7c" stroke-width="4.4" fill="none" stroke-linecap="round" stroke-linejoin="round"/>
<path d="M722,170 C726,160 740,156 752,160" stroke="#d0d0d0" stroke-width="3" fill="none" stroke-linecap="round" stroke-linejoin="round"/>
<path d="M758.9,165.7 L758.7,164.5 L758.3,163.3 L757.6,162.2 L756.7,161.1 L755.5,160.2 L754.2,159.4 L752.7,158.8 L751.0,158.3 L749.3,158.0 L747.5,157.9 L745.6,158.0 L743.7,158.3 L741.9,158.7 L740.2,159.3 L738.5,160.1 L737.0,161.1 L735.7,162.2 L734.5,163.5 L733.6,164.8 L732.9,166.3 L732.5,167.8 L732.3,169.4 L732.4,171.0 L732.8,172.6" stroke="#5a5a5a" stroke-width="4.0" fill="none" stroke-linecap="round"/>
<path d="M758.9,165.7 L758.7,164.5 L758.3,163.3 L757.6,162.2 L756.7,161.1 L755.5,160.2 L754.2,159.4 L752.7,158.8 L751.0,158.3 L749.3,158.0 L747.5,157.9 L745.6,158.0 L743.7,158.3 L741.9,158.7 L740.2,159.3 L738.5,160.1 L737.0,161.1 L735.7,162.2 L734.5,163.5 L733.6,164.8 L732.9,166.3 L732.5,167.8 L732.3,169.4 L732.4,171.0 L732.8,172.6" stroke="#979797" stroke-width="2.8" fill="none" stroke-linecap="round"/>
<path d="M770.1,173.7 L769.9,172.5 L769.5,171.3 L768.8,170.2 L767.9,169.1 L766.7,168.2 L765.4,167.4 L763.9,166.8 L762.2,166.3 L760.5,166.0 L758.7,165.9 L756.8,166.0 L754.9,166.3 L753.1,166.7 L751.4,167.3 L749.7,168.1 L748.2,169.1 L746.9,170.2 L745.7,171.5 L744.8,172.8 L744.1,174.3 L743.7,175.8 L743.5,177.4 L743.6,179.0 L744.0,180.6" stroke="#5a5a5a" stroke-width="4.0" fill="none" stroke-linecap="round"/>
<path d="M770.1,173.7 L769.9,172.5 L769.5,171.3 L768.8,170.2 L767.9,169.1 L766.7,168.2 L765.4,167.4 L763.9,166.8 L762.2,166.3 L760.5,166.0 L758.7,165.9 L756.8,166.0 L754.9,166.3 L753.1,166.7 L751.4,167.3 L749.7,168.1 L748.2,169.1 L746.9,170.2 L745.7,171.5 L744.8,172.8 L744.1,174.3 L743.7,175.8 L743.5,177.4 L743.6,179.0 L744.0,180.6" stroke="#979797" stroke-width="2.8" fill="none" stroke-linecap="round"/>
<path d="M781.3,181.7 L781.1,180.5 L780.7,179.3 L780.0,178.2 L779.1,177.1 L777.9,176.2 L776.6,175.4 L775.1,174.8 L773.4,174.3 L771.7,174.0 L769.9,173.9 L768.0,174.0" stroke="#5a5a5a" stroke-width="4.0" fill="none" stroke-linecap="round"/>
<path d="M781.3,181.7 L781.1,180.5 L780.7,179.3 L780.0,178.2 L779.1,177.1 L777.9,176.2 L776.6,175.4 L775.1,174.8 L773.4,174.3 L771.7,174.0 L769.9,173.9 L768.0,174.0" stroke="#979797" stroke-width="2.8" fill="none" stroke-linecap="round"/>
<path d="M740.0,176.0 L742.3,176.1 L744.6,176.0 L746.8,175.7 L748.9,175.2 L750.9,174.6 L752.7,173.8 L754.3,172.9 L755.7,171.8 L756.9,170.7 L757.8,169.5 L758.4,168.3 L758.8,167.0 L758.9,165.7" stroke="#696969" stroke-width="4.9" fill="none" stroke-linecap="round"/>
<path d="M740.0,176.0 L742.3,176.1 L744.6,176.0 L746.8,175.7 L748.9,175.2 L750.9,174.6 L752.7,173.8 L754.3,172.9 L755.7,171.8 L756.9,170.7 L757.8,169.5 L758.4,168.3 L758.8,167.0 L758.9,165.7" stroke="#d2d2d2" stroke-width="3.5" fill="none" stroke-linecap="round"/>
<path d="M740.0,176.0 L742.3,176.1 L744.6,176.0 L746.8,175.7 L748.9,175.2 L750.9,174.6 L752.7,173.8 L754.3,172.9 L755.7,171.8 L756.9,170.7 L757.8,169.5 L758.4,168.3 L758.8,167.0 L758.9,165.7" stroke="#e8e8e8" stroke-width="1.1" fill="none" stroke-linecap="round" opacity="0.6"/>
<path d="M732.8,172.6 L733.4,174.2 L734.3,175.7 L735.5,177.2 L736.9,178.5 L738.5,179.8 L740.3,180.9 L742.3,181.9 L744.4,182.7 L746.6,183.3 L748.9,183.7 L751.2,184.0 L753.5,184.1 L755.8,184.0 L758.0,183.7 L760.1,183.2 L762.1,182.6 L763.9,181.8 L765.5,180.9 L766.9,179.8 L768.1,178.7 L769.0,177.5 L769.6,176.3 L770.0,175.0 L770.1,173.7" stroke="#696969" stroke-width="4.9" fill="none" stroke-linecap="round"/>
<path d="M732.8,172.6 L733.4,174.2 L734.3,175.7 L735.5,177.2 L736.9,178.5 L738.5,179.8 L740.3,180.9 L742.3,181.9 L744.4,182.7 L746.6,183.3 L748.9,183.7 L751.2,184.0 L753.5,184.1 L755.8,184.0 L758.0,183.7 L760.1,183.2 L762.1,182.6 L763.9,181.8 L765.5,180.9 L766.9,179.8 L768.1,178.7 L769.0,177.5 L769.6,176.3 L770.0,175.0 L770.1,173.7" stroke="#d2d2d2" stroke-width="3.5" fill="none" stroke-linecap="round"/>
<path d="M732.8,172.6 L733.4,174.2 L734.3,175.7 L735.5,177.2 L736.9,178.5 L738.5,179.8 L740.3,180.9 L742.3,181.9 L744.4,182.7 L746.6,183.3 L748.9,183.7 L751.2,184.0 L753.5,184.1 L755.8,184.0 L758.0,183.7 L760.1,183.2 L762.1,182.6 L763.9,181.8 L765.5,180.9 L766.9,179.8 L768.1,178.7 L769.0,177.5 L769.6,176.3 L770.0,175.0 L770.1,173.7" stroke="#e8e8e8" stroke-width="1.1" fill="none" stroke-linecap="round" opacity="0.6"/>
<path d="M744.0,180.6 L744.6,182.2 L745.5,183.7 L746.7,185.2 L748.1,186.5 L749.7,187.8 L751.5,188.9 L753.5,189.9 L755.6,190.7 L757.8,191.3 L760.1,191.7 L762.4,192.0 L764.7,192.1 L767.0,192.0 L769.2,191.7 L771.3,191.2 L773.3,190.6 L775.1,189.8 L776.7,188.9 L778.1,187.8 L779.3,186.7 L780.2,185.5 L780.8,184.3 L781.2,183.0 L781.3,181.7" stroke="#696969" stroke-width="4.9" fill="none" stroke-linecap="round"/>
<path d="M744.0,180.6 L744.6,182.2 L745.5,183.7 L746.7,185.2 L748.1,186.5 L749.7,187.8 L751.5,188.9 L753.5,189.9 L755.6,190.7 L757.8,191.3 L760.1,191.7 L762.4,192.0 L764.7,192.1 L767.0,192.0 L769.2,191.7 L771.3,191.2 L773.3,190.6 L775.1,189.8 L776.7,188.9 L778.1,187.8 L779.3,186.7 L780.2,185.5 L780.8,184.3 L781.2,183.0 L781.3,181.7" stroke="#d2d2d2" stroke-width="3.5" fill="none" stroke-linecap="round"/>
<path d="M744.0,180.6 L744.6,182.2 L745.5,183.7 L746.7,185.2 L748.1,186.5 L749.7,187.8 L751.5,188.9 L753.5,189.9 L755.6,190.7 L757.8,191.3 L760.1,191.7 L762.4,192.0 L764.7,192.1 L767.0,192.0 L769.2,191.7 L771.3,191.2 L773.3,190.6 L775.1,189.8 L776.7,188.9 L778.1,187.8 L779.3,186.7 L780.2,185.5 L780.8,184.3 L781.2,183.0 L781.3,181.7" stroke="#e8e8e8" stroke-width="1.1" fill="none" stroke-linecap="round" opacity="0.6"/>
<path d="M781.9,180.2 L781.5,179.3 L780.8,178.4 L779.9,177.6 L778.7,176.9 L777.3,176.3 L775.7,175.8 L774.0,175.4 L772.1,175.1 L770.1,175.0 L768.1,175.0 L766.0,175.2 L763.9,175.5 L761.9,176.0 L759.9,176.7 L758.0,177.4 L756.3,178.4 L754.7,179.4 L753.3,180.5 L752.1,181.8 L751.2,183.1 L750.5,184.5 L750.1,185.9 L750.0,187.3 L750.1,188.7" stroke="#545454" stroke-width="4.4" fill="none" stroke-linecap="round"/>
<path d="M781.9,180.2 L781.5,179.3 L780.8,178.4 L779.9,177.6 L778.7,176.9 L777.3,176.3 L775.7,175.8 L774.0,175.4 L772.1,175.1 L770.1,175.0 L768.1,175.0 L766.0,175.2 L763.9,175.5 L761.9,176.0 L759.9,176.7 L758.0,177.4 L756.3,178.4 L754.7,179.4 L753.3,180.5 L752.1,181.8 L751.2,183.1 L750.5,184.5 L750.1,185.9 L750.0,187.3 L750.1,188.7" stroke="#8d8d8d" stroke-width="3.2" fill="none" stroke-linecap="round"/>
<path d="M781.9,192.6 L781.5,191.7 L780.8,190.8 L779.9,190.0 L778.7,189.3 L777.3,188.7 L775.7,188.2 L774.0,187.8 L772.1,187.5 L770.1,187.4 L768.1,187.4 L766.0,187.6 L763.9,187.9 L761.9,188.4 L759.9,189.1 L758.0,189.8 L756.3,190.8 L754.7,191.8 L753.3,192.9 L752.1,194.2 L751.2,195.5 L750.5,196.9 L750.1,198.3 L750.0,199.7 L750.1,201.1" stroke="#545454" stroke-width="4.4" fill="none" stroke-linecap="round"/>
<path d="M781.9,192.6 L781.5,191.7 L780.8,190.8 L779.9,190.0 L778.7,189.3 L777.3,188.7 L775.7,188.2 L774.0,187.8 L772.1,187.5 L770.1,187.4 L768.1,187.4 L766.0,187.6 L763.9,187.9 L761.9,188.4 L759.9,189.1 L758.0,189.8 L756.3,190.8 L754.7,191.8 L753.3,192.9 L752.1,194.2 L751.2,195.5 L750.5,196.9 L750.1,198.3 L750.0,199.7 L750.1,201.1" stroke="#8d8d8d" stroke-width="3.2" fill="none" stroke-linecap="round"/>
<path d="M781.9,205.0 L781.5,204.1 L780.8,203.2 L779.9,202.4 L778.7,201.7 L777.3,201.1 L775.7,200.6 L774.0,200.2 L772.1,199.9 L770.1,199.8 L768.1,199.8 L766.0,200.0 L763.9,200.3 L761.9,200.8 L759.9,201.5 L758.0,202.2 L756.3,203.2 L754.7,204.2 L753.3,205.3 L752.1,206.6 L751.2,207.9 L750.5,209.3 L750.1,210.7 L750.0,212.1" stroke="#545454" stroke-width="4.4" fill="none" stroke-linecap="round"/>
<path d="M781.9,205.0 L781.5,204.1 L780.8,203.2 L779.9,202.4 L778.7,201.7 L777.3,201.1 L775.7,200.6 L774.0,200.2 L772.1,199.9 L770.1,199.8 L768.1,199.8 L766.0,200.0 L763.9,200.3 L761.9,200.8 L759.9,201.5 L758.0,202.2 L756.3,203.2 L754.7,204.2 L753.3,205.3 L752.1,206.6 L751.2,207.9 L750.5,209.3 L750.1,210.7 L750.0,212.1" stroke="#8d8d8d" stroke-width="3.2" fill="none" stroke-linecap="round"/>
<path d="M782.0,218.3 L781.9,217.4 L781.5,216.5 L780.8,215.6 L779.9,214.8 L778.7,214.1 L777.3,213.5 L775.7,213.0 L774.0,212.6 L772.1,212.3 L770.1,212.2 L768.1,212.2 L766.0,212.4 L763.9,212.7 L761.9,213.2 L759.9,213.9 L758.0,214.6 L756.3,215.6 L754.7,216.6 L753.3,217.7 L752.1,219.0 L751.2,220.3 L750.5,221.7 L750.1,223.1 L750.0,224.5 L750.1,225.9" stroke="#545454" stroke-width="4.4" fill="none" stroke-linecap="round"/>
<path d="M782.0,218.3 L781.9,217.4 L781.5,216.5 L780.8,215.6 L779.9,214.8 L778.7,214.1 L777.3,213.5 L775.7,213.0 L774.0,212.6 L772.1,212.3 L770.1,212.2 L768.1,212.2 L766.0,212.4 L763.9,212.7 L761.9,213.2 L759.9,213.9 L758.0,214.6 L756.3,215.6 L754.7,216.6 L753.3,217.7 L752.1,219.0 L751.2,220.3 L750.5,221.7 L750.1,223.1 L750.0,224.5 L750.1,225.9" stroke="#8d8d8d" stroke-width="3.2" fill="none" stroke-linecap="round"/>
<path d="M781.9,229.8 L781.5,228.9 L780.8,228.0 L779.9,227.2 L778.7,226.5 L777.3,225.9 L775.7,225.4 L774.0,225.0 L772.1,224.7 L770.1,224.6 L768.1,224.6 L766.0,224.8 L763.9,225.1 L761.9,225.6 L759.9,226.3 L758.0,227.0 L756.3,228.0 L754.7,229.0 L753.3,230.1 L752.1,231.4 L751.2,232.7 L750.5,234.1 L750.1,235.5 L750.0,236.9 L750.1,238.3" stroke="#545454" stroke-width="4.4" fill="none" stroke-linecap="round"/>
<path d="M781.9,229.8 L781.5,228.9 L780.8,228.0 L779.9,227.2 L778.7,226.5 L777.3,225.9 L775.7,225.4 L774.0,225.0 L772.1,224.7 L770.1,224.6 L768.1,224.6 L766.0,224.8 L763.9,225.1 L761.9,225.6 L759.9,226.3 L758.0,227.0 L756.3,228.0 L754.7,229.0 L753.3,230.1 L752.1,231.4 L751.2,232.7 L750.5,234.1 L750.1,235.5 L750.0,236.9 L750.1,238.3" stroke="#8d8d8d" stroke-width="3.2" fill="none" stroke-linecap="round"/>
<path d="M766.0,187.0 L768.1,187.2 L770.1,187.2 L772.1,187.1 L774.0,186.8 L775.7,186.4 L777.3,185.9 L778.7,185.3 L779.9,184.6 L780.8,183.8 L781.5,182.9 L781.9,182.0 L782.0,181.1 L781.9,180.2" stroke="#626262" stroke-width="5.4" fill="none" stroke-linecap="round"/>
<path d="M766.0,187.0 L768.1,187.2 L770.1,187.2 L772.1,187.1 L774.0,186.8 L775.7,186.4 L777.3,185.9 L778.7,185.3 L779.9,184.6 L780.8,183.8 L781.5,182.9 L781.9,182.0 L782.0,181.1 L781.9,180.2" stroke="#c4c4c4" stroke-width="4.0" fill="none" stroke-linecap="round"/>
<path d="M766.0,187.0 L768.1,187.2 L770.1,187.2 L772.1,187.1 L774.0,186.8 L775.7,186.4 L777.3,185.9 L778.7,185.3 L779.9,184.6 L780.8,183.8 L781.5,182.9 L781.9,182.0 L782.0,181.1 L781.9,180.2" stroke="#e1e1e1" stroke-width="1.2" fill="none" stroke-linecap="round" opacity="0.6"/>
<path d="M750.1,188.7 L750.5,190.1 L751.2,191.5 L752.1,192.8 L753.3,194.1 L754.7,195.2 L756.3,196.2 L758.0,197.2 L759.9,197.9 L761.9,198.6 L763.9,199.1 L766.0,199.4 L768.1,199.6 L770.1,199.6 L772.1,199.5 L774.0,199.2 L775.7,198.8 L777.3,198.3 L778.7,197.7 L779.9,197.0 L780.8,196.2 L781.5,195.3 L781.9,194.4 L782.0,193.5 L781.9,192.6" stroke="#626262" stroke-width="5.4" fill="none" stroke-linecap="round"/>
<path d="M750.1,188.7 L750.5,190.1 L751.2,191.5 L752.1,192.8 L753.3,194.1 L754.7,195.2 L756.3,196.2 L758.0,197.2 L759.9,197.9 L761.9,198.6 L763.9,199.1 L766.0,199.4 L768.1,199.6 L770.1,199.6 L772.1,199.5 L774.0,199.2 L775.7,198.8 L777.3,198.3 L778.7,197.7 L779.9,197.0 L780.8,196.2 L781.5,195.3 L781.9,194.4 L782.0,193.5 L781.9,192.6" stroke="#c4c4c4" stroke-width="4.0" fill="none" stroke-linecap="round"/>
<path d="M750.1,188.7 L750.5,190.1 L751.2,191.5 L752.1,192.8 L753.3,194.1 L754.7,195.2 L756.3,196.2 L758.0,197.2 L759.9,197.9 L761.9,198.6 L763.9,199.1 L766.0,199.4 L768.1,199.6 L770.1,199.6 L772.1,199.5 L774.0,199.2 L775.7,198.8 L777.3,198.3 L778.7,197.7 L779.9,197.0 L780.8,196.2 L781.5,195.3 L781.9,194.4 L782.0,193.5 L781.9,192.6" stroke="#e1e1e1" stroke-width="1.2" fill="none" stroke-linecap="round" opacity="0.6"/>
<path d="M750.1,201.1 L750.5,202.5 L751.2,203.9 L752.1,205.2 L753.3,206.5 L754.7,207.6 L756.3,208.6 L758.0,209.6 L759.9,210.3 L761.9,211.0 L763.9,211.5 L766.0,211.8 L768.1,212.0 L770.1,212.0 L772.1,211.9 L774.0,211.6 L775.7,211.2 L777.3,210.7 L778.7,210.1 L779.9,209.4 L780.8,208.6 L781.5,207.7 L781.9,206.8 L782.0,205.9 L781.9,205.0" stroke="#626262" stroke-width="5.4" fill="none" stroke-linecap="round"/>
<path d="M750.1,201.1 L750.5,202.5 L751.2,203.9 L752.1,205.2 L753.3,206.5 L754.7,207.6 L756.3,208.6 L758.0,209.6 L759.9,210.3 L761.9,211.0 L763.9,211.5 L766.0,211.8 L768.1,212.0 L770.1,212.0 L772.1,211.9 L774.0,211.6 L775.7,211.2 L777.3,210.7 L778.7,210.1 L779.9,209.4 L780.8,208.6 L781.5,207.7 L781.9,206.8 L782.0,205.9 L781.9,205.0" stroke="#c4c4c4" stroke-width="4.0" fill="none" stroke-linecap="round"/>
<path d="M750.1,201.1 L750.5,202.5 L751.2,203.9 L752.1,205.2 L753.3,206.5 L754.7,207.6 L756.3,208.6 L758.0,209.6 L759.9,210.3 L761.9,211.0 L763.9,211.5 L766.0,211.8 L768.1,212.0 L770.1,212.0 L772.1,211.9 L774.0,211.6 L775.7,211.2 L777.3,210.7 L778.7,210.1 L779.9,209.4 L780.8,208.6 L781.5,207.7 L781.9,206.8 L782.0,205.9 L781.9,205.0" stroke="#e1e1e1" stroke-width="1.2" fill="none" stroke-linecap="round" opacity="0.6"/>
<path d="M750.0,212.1 L750.1,213.5 L750.5,214.9 L751.2,216.3 L752.1,217.6 L753.3,218.9 L754.7,220.0 L756.3,221.0 L758.0,222.0 L759.9,222.7 L761.9,223.4 L763.9,223.9 L766.0,224.2 L768.1,224.4 L770.1,224.4 L772.1,224.3 L774.0,224.0 L775.7,223.6 L777.3,223.1 L778.7,222.5 L779.9,221.8 L780.8,221.0 L781.5,220.1 L781.9,219.2 L782.0,218.3" stroke="#626262" stroke-width="5.4" fill="none" stroke-linecap="round"/>
<path d="M750.0,212.1 L750.1,213.5 L750.5,214.9 L751.2,216.3 L752.1,217.6 L753.3,218.9 L754.7,220.0 L756.3,221.0 L758.0,222.0 L759.9,222.7 L761.9,223.4 L763.9,223.9 L766.0,224.2 L768.1,224.4 L770.1,224.4 L772.1,224.3 L774.0,224.0 L775.7,223.6 L777.3,223.1 L778.7,222.5 L779.9,221.8 L780.8,221.0 L781.5,220.1 L781.9,219.2 L782.0,218.3" stroke="#c4c4c4" stroke-width="4.0" fill="none" stroke-linecap="round"/>
<path d="M750.0,212.1 L750.1,213.5 L750.5,214.9 L751.2,216.3 L752.1,217.6 L753.3,218.9 L754.7,220.0 L756.3,221.0 L758.0,222.0 L759.9,222.7 L761.9,223.4 L763.9,223.9 L766.0,224.2 L768.1,224.4 L770.1,224.4 L772.1,224.3 L774.0,224.0 L775.7,223.6 L777.3,223.1 L778.7,222.5 L779.9,221.8 L780.8,221.0 L781.5,220.1 L781.9,219.2 L782.0,218.3" stroke="#e1e1e1" stroke-width="1.2" fill="none" stroke-linecap="round" opacity="0.6"/>
<path d="M750.1,225.9 L750.5,227.3 L751.2,228.7 L752.1,230.0 L753.3,231.3 L754.7,232.4 L756.3,233.4 L758.0,234.4 L759.9,235.1 L761.9,235.8 L763.9,236.3 L766.0,236.6 L768.1,236.8 L770.1,236.8 L772.1,236.7 L774.0,236.4 L775.7,236.0 L777.3,235.5 L778.7,234.9 L779.9,234.2 L780.8,233.4 L781.5,232.5 L781.9,231.6 L782.0,230.7 L781.9,229.8" stroke="#626262" stroke-width="5.4" fill="none" stroke-linecap="round"/>
<path d="M750.1,225.9 L750.5,227.3 L751.2,228.7 L752.1,230.0 L753.3,231.3 L754.7,232.4 L756.3,233.4 L758.0,234.4 L759.9,235.1 L761.9,235.8 L763.9,236.3 L766.0,236.6 L768.1,236.8 L770.1,236.8 L772.1,236.7 L774.0,236.4 L775.7,236.0 L777.3,235.5 L778.7,234.9 L779.9,234.2 L780.8,233.4 L781.5,232.5 L781.9,231.6 L782.0,230.7 L781.9,229.8" stroke="#c4c4c4" stroke-width="4.0" fill="none" stroke-linecap="round"/>
<path d="M750.1,225.9 L750.5,227.3 L751.2,228.7 L752.1,230.0 L753.3,231.3 L754.7,232.4 L756.3,233.4 L758.0,234.4 L759.9,235.1 L761.9,235.8 L763.9,236.3 L766.0,236.6 L768.1,236.8 L770.1,236.8 L772.1,236.7 L774.0,236.4 L775.7,236.0 L777.3,235.5 L778.7,234.9 L779.9,234.2 L780.8,233.4 L781.5,232.5 L781.9,231.6 L782.0,230.7 L781.9,229.8" stroke="#e1e1e1" stroke-width="1.2" fill="none" stroke-linecap="round" opacity="0.6"/>
<path d="M750.1,238.3 L750.5,239.7 L751.2,241.1 L752.1,242.4 L753.3,243.7 L754.7,244.8 L756.3,245.8 L758.0,246.8 L759.9,247.5 L761.9,248.2 L763.9,248.7 L766.0,249.0" stroke="#626262" stroke-width="5.4" fill="none" stroke-linecap="round"/>
<path d="M750.1,238.3 L750.5,239.7 L751.2,241.1 L752.1,242.4 L753.3,243.7 L754.7,244.8 L756.3,245.8 L758.0,246.8 L759.9,247.5 L761.9,248.2 L763.9,248.7 L766.0,249.0" stroke="#c4c4c4" stroke-width="4.0" fill="none" stroke-linecap="round"/>
<path d="M750.1,238.3 L750.5,239.7 L751.2,241.1 L752.1,242.4 L753.3,243.7 L754.7,244.8 L756.3,245.8 L758.0,246.8 L759.9,247.5 L761.9,248.2 L763.9,248.7 L766.0,249.0" stroke="#e1e1e1" stroke-width="1.2" fill="none" stroke-linecap="round" opacity="0.6"/>
<path d="M782,176 C800,180 810,200 806,215 C802,225 790,222 786,215" stroke="#818181" stroke-width="4.4" fill="none" stroke-linecap="round" stroke-linejoin="round"/>
<path d="M782,176 C800,180 810,200 806,215 C802,225 790,222 786,215" stroke="#d8d8d8" stroke-width="3" fill="none" stroke-linecap="round" stroke-linejoin="round"/>
<path d="M770,245 C768,258 772,268 766,278" stroke="#7c7c7c" stroke-width="4.4" fill="none" stroke-linecap="round" stroke-linejoin="round"/>
<path d="M770,245 C768,258 772,268 766,278" stroke="#d0d0d0" stroke-width="3" fill="none" stroke-linecap="round" stroke-linejoin="round"/>
<path d="M752,244 C745,252 742,262 735,268" stroke="#808080" stroke-width="4.4" fill="none" stroke-linecap="round" stroke-linejoin="round"/>
<path d="M752,244 C745,252 742,262 735,268" stroke="#d6d6d6" stroke-width="3" fill="none" stroke-linecap="round" stroke-linejoin="round"/>
<path d="M730.8,174.4 L730.7,173.6 L730.2,172.8 L729.5,172.0 L728.5,171.3 L727.2,170.7 L725.7,170.2 L724.0,169.8 L722.1,169.5 L720.1,169.4 L718.0,169.4 L715.8,169.5 L713.6,169.8 L711.3,170.3 L709.1,170.9 L707.0,171.6 L705.0,172.5 L703.2,173.6 L701.5,174.7 L700.0,176.0 L698.8,177.3 L697.8,178.8 L697.1,180.2 L696.7,181.8 L696.5,183.3" stroke="#203551" stroke-width="4.6" fill="none" stroke-linecap="round"/>
<path d="M730.8,174.4 L730.7,173.6 L730.2,172.8 L729.5,172.0 L728.5,171.3 L727.2,170.7 L725.7,170.2 L724.0,169.8 L722.1,169.5 L720.1,169.4 L718.0,169.4 L715.8,169.5 L713.6,169.8 L711.3,170.3 L709.1,170.9 L707.0,171.6 L705.0,172.5 L703.2,173.6 L701.5,174.7 L700.0,176.0 L698.8,177.3 L697.8,178.8 L697.1,180.2 L696.7,181.8 L696.5,183.3" stroke="#365987" stroke-width="3.4" fill="none" stroke-linecap="round"/>
<path d="M730.2,191.8 L730.0,191.0 L729.5,190.3 L728.8,189.5 L727.7,188.8 L726.4,188.2 L724.9,187.7 L723.2,187.3 L721.3,187.1 L719.3,186.9 L717.1,187.0 L714.9,187.1 L712.7,187.4 L710.4,187.9 L708.3,188.5 L706.2,189.3 L704.2,190.2 L702.3,191.3 L700.7,192.4 L699.2,193.7 L698.0,195.1 L697.1,196.5 L696.4,198.0 L696.0,199.5 L695.9,201.1" stroke="#203551" stroke-width="4.6" fill="none" stroke-linecap="round"/>
<path d="M730.2,191.8 L730.0,191.0 L729.5,190.3 L728.8,189.5 L727.7,188.8 L726.4,188.2 L724.9,187.7 L723.2,187.3 L721.3,187.1 L719.3,186.9 L717.1,187.0 L714.9,187.1 L712.7,187.4 L710.4,187.9 L708.3,188.5 L706.2,189.3 L704.2,190.2 L702.3,191.3 L700.7,192.4 L699.2,193.7 L698.0,195.1 L697.1,196.5 L696.4,198.0 L696.0,199.5 L695.9,201.1" stroke="#365987" stroke-width="3.4" fill="none" stroke-linecap="round"/>
<path d="M729.6,209.3 L729.4,208.5 L728.9,207.7 L728.1,207.0 L727.0,206.3 L725.7,205.7 L724.1,205.2 L722.4,204.9 L720.5,204.6 L718.4,204.5 L716.3,204.5 L714.0,204.7 L711.8,205.1 L709.6,205.5 L707.4,206.2 L705.3,207.0 L703.3,207.9 L701.5,209.0 L699.9,210.2 L698.5,211.4 L697.3,212.8 L696.4,214.3 L695.8,215.8 L695.4,217.3 L695.3,218.8" stroke="#203551" stroke-width="4.6" fill="none" stroke-linecap="round"/>
<path d="M729.6,209.3 L729.4,208.5 L728.9,207.7 L728.1,207.0 L727.0,206.3 L725.7,205.7 L724.1,205.2 L722.4,204.9 L720.5,204.6 L718.4,204.5 L716.3,204.5 L714.0,204.7 L711.8,205.1 L709.6,205.5 L707.4,206.2 L705.3,207.0 L703.3,207.9 L701.5,209.0 L699.9,210.2 L698.5,211.4 L697.3,212.8 L696.4,214.3 L695.8,215.8 L695.4,217.3 L695.3,218.8" stroke="#365987" stroke-width="3.4" fill="none" stroke-linecap="round"/>
<path d="M729.0,226.8 L728.7,226.0 L728.2,225.2" stroke="#203551" stroke-width="4.6" fill="none" stroke-linecap="round"/>
<path d="M729.0,226.8 L728.7,226.0 L728.2,225.2" stroke="#365987" stroke-width="3.4" fill="none" stroke-linecap="round"/>
<path d="M714.0,179.0 L716.2,179.3 L718.4,179.4 L720.5,179.4 L722.5,179.3 L724.3,179.0 L726.0,178.6 L727.4,178.0 L728.6,177.4 L729.6,176.7 L730.3,176.0 L730.7,175.2 L730.8,174.4" stroke="#263e5e" stroke-width="5.6" fill="none" stroke-linecap="round"/>
<path d="M714.0,179.0 L716.2,179.3 L718.4,179.4 L720.5,179.4 L722.5,179.3 L724.3,179.0 L726.0,178.6 L727.4,178.0 L728.6,177.4 L729.6,176.7 L730.3,176.0 L730.7,175.2 L730.8,174.4" stroke="#4c7cbc" stroke-width="4.2" fill="none" stroke-linecap="round"/>
<path d="M714.0,179.0 L716.2,179.3 L718.4,179.4 L720.5,179.4 L722.5,179.3 L724.3,179.0 L726.0,178.6 L727.4,178.0 L728.6,177.4 L729.6,176.7 L730.3,176.0 L730.7,175.2 L730.8,174.4" stroke="#a5bddd" stroke-width="1.3" fill="none" stroke-linecap="round" opacity="0.6"/>
<path d="M696.5,183.3 L696.7,184.9 L697.2,186.4 L697.9,187.9 L698.9,189.3 L700.1,190.6 L701.6,191.9 L703.3,193.0 L705.2,194.0 L707.2,194.9 L709.3,195.6 L711.4,196.2 L713.7,196.6 L715.9,196.9 L718.0,197.0 L720.1,197.0 L722.1,196.8 L723.9,196.5 L725.6,196.1 L727.0,195.5 L728.2,194.9 L729.1,194.2 L729.8,193.5 L730.1,192.7 L730.2,191.8" stroke="#263e5e" stroke-width="5.6" fill="none" stroke-linecap="round"/>
<path d="M696.5,183.3 L696.7,184.9 L697.2,186.4 L697.9,187.9 L698.9,189.3 L700.1,190.6 L701.6,191.9 L703.3,193.0 L705.2,194.0 L707.2,194.9 L709.3,195.6 L711.4,196.2 L713.7,196.6 L715.9,196.9 L718.0,197.0 L720.1,197.0 L722.1,196.8 L723.9,196.5 L725.6,196.1 L727.0,195.5 L728.2,194.9 L729.1,194.2 L729.8,193.5 L730.1,192.7 L730.2,191.8" stroke="#4c7cbc" stroke-width="4.2" fill="none" stroke-linecap="round"/>
<path d="M696.5,183.3 L696.7,184.9 L697.2,186.4 L697.9,187.9 L698.9,189.3 L700.1,190.6 L701.6,191.9 L703.3,193.0 L705.2,194.0 L707.2,194.9 L709.3,195.6 L711.4,196.2 L713.7,196.6 L715.9,196.9 L718.0,197.0 L720.1,197.0 L722.1,196.8 L723.9,196.5 L725.6,196.1 L727.0,195.5 L728.2,194.9 L729.1,194.2 L729.8,193.5 L730.1,192.7 L730.2,191.8" stroke="#a5bddd" stroke-width="1.3" fill="none" stroke-linecap="round" opacity="0.6"/>
<path d="M695.9,201.1 L696.1,202.6 L696.6,204.1 L697.4,205.6 L698.4,207.0 L699.7,208.4 L701.2,209.6 L702.9,210.7 L704.8,211.7 L706.8,212.6 L708.9,213.3 L711.1,213.8 L713.3,214.2 L715.5,214.5 L717.7,214.6 L719.8,214.5 L721.7,214.3 L723.5,214.0 L725.1,213.6 L726.5,213.0 L727.7,212.4 L728.6,211.7 L729.2,210.9 L729.6,210.1 L729.6,209.3" stroke="#263e5e" stroke-width="5.6" fill="none" stroke-linecap="round"/>
<path d="M695.9,201.1 L696.1,202.6 L696.6,204.1 L697.4,205.6 L698.4,207.0 L699.7,208.4 L701.2,209.6 L702.9,210.7 L704.8,211.7 L706.8,212.6 L708.9,213.3 L711.1,213.8 L713.3,214.2 L715.5,214.5 L717.7,214.6 L719.8,214.5 L721.7,214.3 L723.5,214.0 L725.1,213.6 L726.5,213.0 L727.7,212.4 L728.6,211.7 L729.2,210.9 L729.6,210.1 L729.6,209.3" stroke="#4c7cbc" stroke-width="4.2" fill="none" stroke-linecap="round"/>
<path d="M695.9,201.1 L696.1,202.6 L696.6,204.1 L697.4,205.6 L698.4,207.0 L699.7,208.4 L701.2,209.6 L702.9,210.7 L704.8,211.7 L706.8,212.6 L708.9,213.3 L711.1,213.8 L713.3,214.2 L715.5,214.5 L717.7,214.6 L719.8,214.5 L721.7,214.3 L723.5,214.0 L725.1,213.6 L726.5,213.0 L727.7,212.4 L728.6,211.7 L729.2,210.9 L729.6,210.1 L729.6,209.3" stroke="#a5bddd" stroke-width="1.3" fill="none" stroke-linecap="round" opacity="0.6"/>
<path d="M695.3,218.8 L695.6,220.4 L696.1,221.9 L696.9,223.4 L698.0,224.8 L699.3,226.1 L700.8,227.3 L702.5,228.4 L704.4,229.4 L706.5,230.2 L708.6,230.9 L710.8,231.5 L713.0,231.9 L715.2,232.1 L717.3,232.2 L719.4,232.1 L721.3,231.9 L723.1,231.6 L724.7,231.1 L726.1,230.5 L727.2,229.9 L728.1,229.2 L728.7,228.4 L729.0,227.6 L729.0,226.8" stroke="#263e5e" stroke-width="5.6" fill="none" stroke-linecap="round"/>
<path d="M695.3,218.8 L695.6,220.4 L696.1,221.9 L696.9,223.4 L698.0,224.8 L699.3,226.1 L700.8,227.3 L702.5,228.4 L704.4,229.4 L706.5,230.2 L708.6,230.9 L710.8,231.5 L713.0,231.9 L715.2,232.1 L717.3,232.2 L719.4,232.1 L721.3,231.9 L723.1,231.6 L724.7,231.1 L726.1,230.5 L727.2,229.9 L728.1,229.2 L728.7,228.4 L729.0,227.6 L729.0,226.8" stroke="#4c7cbc" stroke-width="4.2" fill="none" stroke-linecap="round"/>
<path d="M695.3,218.8 L695.6,220.4 L696.1,221.9 L696.9,223.4 L698.0,224.8 L699.3,226.1 L700.8,227.3 L702.5,228.4 L704.4,229.4 L706.5,230.2 L708.6,230.9 L710.8,231.5 L713.0,231.9 L715.2,232.1 L717.3,232.2 L719.4,232.1 L721.3,231.9 L723.1,231.6 L724.7,231.1 L726.1,230.5 L727.2,229.9 L728.1,229.2 L728.7,228.4 L729.0,227.6 L729.0,226.8" stroke="#a5bddd" stroke-width="1.3" fill="none" stroke-linecap="round" opacity="0.6"/>
<path d="M726.1,236.5 L725.8,235.6 L725.2,234.6 L724.3,233.8 L723.1,233.0 L721.6,232.3 L719.9,231.7 L717.9,231.2 L715.7,230.9 L713.4,230.7 L710.9,230.7 L708.4,230.8 L705.8,231.1 L703.3,231.6 L700.7,232.3 L698.3,233.1 L696.0,234.1 L693.9,235.2 L692.0,236.5 L690.3,237.9 L688.9,239.4 L687.8,241.0 L686.9,242.6 L686.4,244.3 L686.3,246.0" stroke="#132b48" stroke-width="6.0" fill="none" stroke-linecap="round"/>
<path d="M726.1,236.5 L725.8,235.6 L725.2,234.6 L724.3,233.8 L723.1,233.0 L721.6,232.3 L719.9,231.7 L717.9,231.2 L715.7,230.9 L713.4,230.7 L710.9,230.7 L708.4,230.8 L705.8,231.1 L703.3,231.6 L700.7,232.3 L698.3,233.1 L696.0,234.1 L693.9,235.2 L692.0,236.5 L690.3,237.9 L688.9,239.4 L687.8,241.0 L686.9,242.6 L686.4,244.3 L686.3,246.0" stroke="#214978" stroke-width="4.8" fill="none" stroke-linecap="round"/>
<path d="M722.4,254.4 L722.1,253.5 L721.4,252.6 L720.4,251.7 L719.1,251.0 L717.5,250.3 L715.7,249.7 L713.7,249.3 L711.5,249.0 L709.1,248.9 L706.6,248.9 L704.1,249.1 L701.5,249.4 L698.9,250.0 L696.4,250.7 L694.0,251.6 L691.8,252.6 L689.7,253.8 L687.9,255.1 L686.3,256.5 L684.9,258.0 L683.9,259.6 L683.1,261.2 L682.7,262.9 L682.6,264.6" stroke="#132b48" stroke-width="6.0" fill="none" stroke-linecap="round"/>
<path d="M722.4,254.4 L722.1,253.5 L721.4,252.6 L720.4,251.7 L719.1,251.0 L717.5,250.3 L715.7,249.7 L713.7,249.3 L711.5,249.0 L709.1,248.9 L706.6,248.9 L704.1,249.1 L701.5,249.4 L698.9,250.0 L696.4,250.7 L694.0,251.6 L691.8,252.6 L689.7,253.8 L687.9,255.1 L686.3,256.5 L684.9,258.0 L683.9,259.6 L683.1,261.2 L682.7,262.9 L682.6,264.6" stroke="#214978" stroke-width="4.8" fill="none" stroke-linecap="round"/>
<path d="M708.0,242.0 L710.4,242.3 L712.8,242.4 L715.1,242.4 L717.2,242.2 L719.2,241.8 L721.0,241.3 L722.6,240.7 L723.9,240.0 L724.9,239.2 L725.6,238.3 L726.0,237.4 L726.1,236.5" stroke="#173354" stroke-width="7.4" fill="none" stroke-linecap="round"/>
<path d="M708.0,242.0 L710.4,242.3 L712.8,242.4 L715.1,242.4 L717.2,242.2 L719.2,241.8 L721.0,241.3 L722.6,240.7 L723.9,240.0 L724.9,239.2 L725.6,238.3 L726.0,237.4 L726.1,236.5" stroke="#2f66a8" stroke-width="6.0" fill="none" stroke-linecap="round"/>
<path d="M708.0,242.0 L710.4,242.3 L712.8,242.4 L715.1,242.4 L717.2,242.2 L719.2,241.8 L721.0,241.3 L722.6,240.7 L723.9,240.0 L724.9,239.2 L725.6,238.3 L726.0,237.4 L726.1,236.5" stroke="#97b2d3" stroke-width="1.8" fill="none" stroke-linecap="round" opacity="0.6"/>
<path d="M686.3,246.0 L686.4,247.7 L686.9,249.3 L687.7,251.0 L688.8,252.5 L690.2,253.9 L691.8,255.3 L693.6,256.5 L695.7,257.6 L697.9,258.5 L700.2,259.3 L702.6,259.9 L705.0,260.3 L707.4,260.5 L709.8,260.6 L712.0,260.5 L714.2,260.3 L716.1,259.9 L717.9,259.4 L719.3,258.7 L720.6,258.0 L721.5,257.1 L722.1,256.3 L722.4,255.3 L722.4,254.4" stroke="#173354" stroke-width="7.4" fill="none" stroke-linecap="round"/>
<path d="M686.3,246.0 L686.4,247.7 L686.9,249.3 L687.7,251.0 L688.8,252.5 L690.2,253.9 L691.8,255.3 L693.6,256.5 L695.7,257.6 L697.9,258.5 L700.2,259.3 L702.6,259.9 L705.0,260.3 L707.4,260.5 L709.8,260.6 L712.0,260.5 L714.2,260.3 L716.1,259.9 L717.9,259.4 L719.3,258.7 L720.6,258.0 L721.5,257.1 L722.1,256.3 L722.4,255.3 L722.4,254.4" stroke="#2f66a8" stroke-width="6.0" fill="none" stroke-linecap="round"/>
<path d="M686.3,246.0 L686.4,247.7 L686.9,249.3 L687.7,251.0 L688.8,252.5 L690.2,253.9 L691.8,255.3 L693.6,256.5 L695.7,257.6 L697.9,258.5 L700.2,259.3 L702.6,259.9 L705.0,260.3 L707.4,260.5 L709.8,260.6 L712.0,260.5 L714.2,260.3 L716.1,259.9 L717.9,259.4 L719.3,258.7 L720.6,258.0 L721.5,257.1 L722.1,256.3 L722.4,255.3 L722.4,254.4" stroke="#97b2d3" stroke-width="1.8" fill="none" stroke-linecap="round" opacity="0.6"/>
<path d="M682.6,264.6 L682.9,266.3 L683.4,268.0 L684.3,269.6 L685.5,271.1 L686.9,272.5 L688.6,273.8 L690.6,275.0 L692.6,276.0 L694.9,276.9 L697.2,277.6 L699.6,278.2 L702.0,278.5 L704.4,278.7 L706.8,278.8 L709.0,278.6 L711.1,278.4 L713.0,277.9 L714.6,277.4 L716.1,276.7 L717.2,275.9 L718.1,275.1" stroke="#173354" stroke-width="7.4" fill="none" stroke-linecap="round"/>
<path d="M682.6,264.6 L682.9,266.3 L683.4,268.0 L684.3,269.6 L685.5,271.1 L686.9,272.5 L688.6,273.8 L690.6,275.0 L692.6,276.0 L694.9,276.9 L697.2,277.6 L699.6,278.2 L702.0,278.5 L704.4,278.7 L706.8,278.8 L709.0,278.6 L711.1,278.4 L713.0,277.9 L714.6,277.4 L716.1,276.7 L717.2,275.9 L718.1,275.1" stroke="#2f66a8" stroke-width="6.0" fill="none" stroke-linecap="round"/>
<path d="M682.6,264.6 L682.9,266.3 L683.4,268.0 L684.3,269.6 L685.5,271.1 L686.9,272.5 L688.6,273.8 L690.6,275.0 L692.6,276.0 L694.9,276.9 L697.2,277.6 L699.6,278.2 L702.0,278.5 L704.4,278.7 L706.8,278.8 L709.0,278.6 L711.1,278.4 L713.0,277.9 L714.6,277.4 L716.1,276.7 L717.2,275.9 L718.1,275.1" stroke="#97b2d3" stroke-width="1.8" fill="none" stroke-linecap="round" opacity="0.6"/>
<path d="M732.1,265.8 L731.8,264.9 L731.2,264.0 L730.4,263.2 L729.3,262.5 L728.1,261.9 L726.6,261.5 L724.9,261.1 L723.2,260.9 L721.3,260.9 L719.3,261.0 L717.3,261.3 L715.3,261.8 L713.4,262.5 L711.5,263.3 L709.7,264.2 L708.1,265.3 L706.6,266.6 L705.3,268.0 L704.3,269.4 L703.4,271.0 L702.9,272.6 L702.5,274.3 L702.5,276.0 L702.7,277.7" stroke="#656430" stroke-width="4.4" fill="none" stroke-linecap="round"/>
<path d="M732.1,265.8 L731.8,264.9 L731.2,264.0 L730.4,263.2 L729.3,262.5 L728.1,261.9 L726.6,261.5 L724.9,261.1 L723.2,260.9 L721.3,260.9 L719.3,261.0 L717.3,261.3 L715.3,261.8 L713.4,262.5 L711.5,263.3 L709.7,264.2 L708.1,265.3 L706.6,266.6 L705.3,268.0 L704.3,269.4 L703.4,271.0 L702.9,272.6 L702.5,274.3 L702.5,276.0 L702.7,277.7" stroke="#a9a750" stroke-width="3.2" fill="none" stroke-linecap="round"/>
<path d="M736.8,284.4 L736.5,283.5 L735.9,282.7 L735.1,281.9 L734.0,281.2 L732.7,280.6 L731.3,280.1 L729.6,279.8 L727.8,279.6 L725.9,279.6 L724.0,279.7 L722.0,280.0" stroke="#656430" stroke-width="4.4" fill="none" stroke-linecap="round"/>
<path d="M736.8,284.4 L736.5,283.5 L735.9,282.7 L735.1,281.9 L734.0,281.2 L732.7,280.6 L731.3,280.1 L729.6,279.8 L727.8,279.6 L725.9,279.6 L724.0,279.7 L722.0,280.0" stroke="#a9a750" stroke-width="3.2" fill="none" stroke-linecap="round"/>
<path d="M715.0,272.0 L717.2,272.3 L719.3,272.4 L721.4,272.4 L723.4,272.2 L725.2,271.9 L726.9,271.4 L728.4,270.8 L729.6,270.1 L730.7,269.3 L731.4,268.5 L731.9,267.6 L732.2,266.7 L732.1,265.8" stroke="#767438" stroke-width="5.4" fill="none" stroke-linecap="round"/>
<path d="M715.0,272.0 L717.2,272.3 L719.3,272.4 L721.4,272.4 L723.4,272.2 L725.2,271.9 L726.9,271.4 L728.4,270.8 L729.6,270.1 L730.7,269.3 L731.4,268.5 L731.9,267.6 L732.2,266.7 L732.1,265.8" stroke="#ece870" stroke-width="4.0" fill="none" stroke-linecap="round"/>
<path d="M715.0,272.0 L717.2,272.3 L719.3,272.4 L721.4,272.4 L723.4,272.2 L725.2,271.9 L726.9,271.4 L728.4,270.8 L729.6,270.1 L730.7,269.3 L731.4,268.5 L731.9,267.6 L732.2,266.7 L732.1,265.8" stroke="#f5f3b7" stroke-width="1.2" fill="none" stroke-linecap="round" opacity="0.6"/>
<path d="M702.7,277.7 L703.2,279.4 L704.0,281.0 L705.0,282.6 L706.3,284.0 L707.8,285.4 L709.4,286.7 L711.3,287.8 L713.3,288.7 L715.3,289.5 L717.5,290.2 L719.7,290.7 L721.9,291.0 L724.0,291.1 L726.1,291.1 L728.1,290.9 L729.9,290.5 L731.6,290.1 L733.0,289.5 L734.3,288.8 L735.3,288.0 L736.1,287.1 L736.6,286.2 L736.8,285.3 L736.8,284.4" stroke="#767438" stroke-width="5.4" fill="none" stroke-linecap="round"/>
<path d="M702.7,277.7 L703.2,279.4 L704.0,281.0 L705.0,282.6 L706.3,284.0 L707.8,285.4 L709.4,286.7 L711.3,287.8 L713.3,288.7 L715.3,289.5 L717.5,290.2 L719.7,290.7 L721.9,291.0 L724.0,291.1 L726.1,291.1 L728.1,290.9 L729.9,290.5 L731.6,290.1 L733.0,289.5 L734.3,288.8 L735.3,288.0 L736.1,287.1 L736.6,286.2 L736.8,285.3 L736.8,284.4" stroke="#ece870" stroke-width="4.0" fill="none" stroke-linecap="round"/>
<path d="M702.7,277.7 L703.2,279.4 L704.0,281.0 L705.0,282.6 L706.3,284.0 L707.8,285.4 L709.4,286.7 L711.3,287.8 L713.3,288.7 L715.3,289.5 L717.5,290.2 L719.7,290.7 L721.9,291.0 L724.0,291.1 L726.1,291.1 L728.1,290.9 L729.9,290.5 L731.6,290.1 L733.0,289.5 L734.3,288.8 L735.3,288.0 L736.1,287.1 L736.6,286.2 L736.8,285.3 L736.8,284.4" stroke="#f5f3b7" stroke-width="1.2" fill="none" stroke-linecap="round" opacity="0.6"/>
<path d="M721.2,117.9 L720.8,117.0 L720.1,116.1 L719.1,115.2 L717.8,114.4 L716.1,113.7 L714.3,113.2 L712.2,112.7 L709.9,112.4 L707.4,112.3 L704.8,112.3 L702.1,112.5 L699.4,112.9 L696.7,113.5 L694.0,114.3 L691.5,115.3 L689.0,116.4 L686.7,117.7 L684.6,119.2 L682.7,120.8 L681.1,122.5 L679.8,124.2 L678.8,126.1 L678.1,128.0 L677.7,130.0" stroke="#1b5648" stroke-width="6.4" fill="none" stroke-linecap="round"/>
<path d="M721.2,117.9 L720.8,117.0 L720.1,116.1 L719.1,115.2 L717.8,114.4 L716.1,113.7 L714.3,113.2 L712.2,112.7 L709.9,112.4 L707.4,112.3 L704.8,112.3 L702.1,112.5 L699.4,112.9 L696.7,113.5 L694.0,114.3 L691.5,115.3 L689.0,116.4 L686.7,117.7 L684.6,119.2 L682.7,120.8 L681.1,122.5 L679.8,124.2 L678.8,126.1 L678.1,128.0 L677.7,130.0" stroke="#2e9078" stroke-width="5.2" fill="none" stroke-linecap="round"/>
<path d="M710.2,141.7 L709.8,140.8 L709.1,139.9 L708.0,139.0 L706.7,138.2 L705.0,137.6 L703.1,137.0 L701.0,136.5 L698.7,136.2 L696.2,136.1 L693.6,136.2 L691.0,136.4 L688.3,136.8 L685.5,137.4 L682.9,138.2 L680.3,139.2 L677.8,140.3 L675.6,141.6 L673.5,143.1 L671.6,144.7 L670.0,146.4 L668.7,148.2 L667.7,150.1 L667.0,152.0 L666.7,153.9" stroke="#1b5648" stroke-width="6.4" fill="none" stroke-linecap="round"/>
<path d="M710.2,141.7 L709.8,140.8 L709.1,139.9 L708.0,139.0 L706.7,138.2 L705.0,137.6 L703.1,137.0 L701.0,136.5 L698.7,136.2 L696.2,136.1 L693.6,136.2 L691.0,136.4 L688.3,136.8 L685.5,137.4 L682.9,138.2 L680.3,139.2 L677.8,140.3 L675.6,141.6 L673.5,143.1 L671.6,144.7 L670.0,146.4 L668.7,148.2 L667.7,150.1 L667.0,152.0 L666.7,153.9" stroke="#2e9078" stroke-width="5.2" fill="none" stroke-linecap="round"/>
<path d="M699.2,165.5 L698.7,164.6 L698.0,163.7 L696.9,162.8 L695.5,162.1 L693.9,161.4 L692.0,160.8 L689.9,160.4 L687.6,160.1 L685.1,160.0 L682.5,160.0 L679.8,160.3 L677.1,160.7 L674.4,161.3 L671.7,162.1 L669.1,163.1 L666.7,164.2 L664.4,165.6 L662.4,167.0 L660.5,168.6 L658.9,170.3 L657.7,172.1 L656.7,174.0 L656.0,175.9 L655.7,177.9" stroke="#1b5648" stroke-width="6.4" fill="none" stroke-linecap="round"/>
<path d="M699.2,165.5 L698.7,164.6 L698.0,163.7 L696.9,162.8 L695.5,162.1 L693.9,161.4 L692.0,160.8 L689.9,160.4 L687.6,160.1 L685.1,160.0 L682.5,160.0 L679.8,160.3 L677.1,160.7 L674.4,161.3 L671.7,162.1 L669.1,163.1 L666.7,164.2 L664.4,165.6 L662.4,167.0 L660.5,168.6 L658.9,170.3 L657.7,172.1 L656.7,174.0 L656.0,175.9 L655.7,177.9" stroke="#2e9078" stroke-width="5.2" fill="none" stroke-linecap="round"/>
<path d="M688.1,189.3 L687.7,188.4 L686.9,187.5 L685.8,186.6 L684.4,185.9 L682.8,185.2 L680.9,184.6 L678.7,184.2 L676.4,183.9 L673.9,183.8 L671.3,183.9 L668.6,184.1 L665.9,184.6 L663.2,185.2 L660.6,186.0 L658.0,187.0 L655.6,188.1 L653.3,189.5 L651.2,190.9 L649.4,192.6 L647.8,194.3 L646.6,196.1 L645.6,197.9 L644.9,199.9 L644.6,201.8" stroke="#1b5648" stroke-width="6.4" fill="none" stroke-linecap="round"/>
<path d="M688.1,189.3 L687.7,188.4 L686.9,187.5 L685.8,186.6 L684.4,185.9 L682.8,185.2 L680.9,184.6 L678.7,184.2 L676.4,183.9 L673.9,183.8 L671.3,183.9 L668.6,184.1 L665.9,184.6 L663.2,185.2 L660.6,186.0 L658.0,187.0 L655.6,188.1 L653.3,189.5 L651.2,190.9 L649.4,192.6 L647.8,194.3 L646.6,196.1 L645.6,197.9 L644.9,199.9 L644.6,201.8" stroke="#2e9078" stroke-width="5.2" fill="none" stroke-linecap="round"/>
<path d="M705.0,123.0 L707.3,123.4 L709.5,123.6 L711.6,123.7 L713.6,123.5 L715.4,123.2 L717.1,122.8 L718.5,122.2 L719.6,121.5 L720.5,120.7 L721.1,119.8 L721.3,118.9 L721.2,117.9" stroke="#206454" stroke-width="7.9" fill="none" stroke-linecap="round"/>
<path d="M705.0,123.0 L707.3,123.4 L709.5,123.6 L711.6,123.7 L713.6,123.5 L715.4,123.2 L717.1,122.8 L718.5,122.2 L719.6,121.5 L720.5,120.7 L721.1,119.8 L721.3,118.9 L721.2,117.9" stroke="#40c8a8" stroke-width="6.5" fill="none" stroke-linecap="round"/>
<path d="M705.0,123.0 L707.3,123.4 L709.5,123.6 L711.6,123.7 L713.6,123.5 L715.4,123.2 L717.1,122.8 L718.5,122.2 L719.6,121.5 L720.5,120.7 L721.1,119.8 L721.3,118.9 L721.2,117.9" stroke="#9fe3d3" stroke-width="1.9" fill="none" stroke-linecap="round" opacity="0.6"/>
<path d="M677.7,130.0 L677.7,131.9 L677.9,133.8 L678.5,135.7 L679.4,137.4 L680.6,139.1 L682.0,140.7 L683.6,142.2 L685.5,143.4 L687.5,144.6 L689.6,145.5 L691.8,146.3 L694.1,146.9 L696.3,147.3 L698.5,147.5 L700.7,147.5 L702.7,147.3 L704.5,147.0 L706.1,146.6 L707.5,146.0 L708.7,145.3 L709.5,144.5 L710.1,143.6 L710.3,142.7 L710.2,141.7" stroke="#206454" stroke-width="7.9" fill="none" stroke-linecap="round"/>
<path d="M677.7,130.0 L677.7,131.9 L677.9,133.8 L678.5,135.7 L679.4,137.4 L680.6,139.1 L682.0,140.7 L683.6,142.2 L685.5,143.4 L687.5,144.6 L689.6,145.5 L691.8,146.3 L694.1,146.9 L696.3,147.3 L698.5,147.5 L700.7,147.5 L702.7,147.3 L704.5,147.0 L706.1,146.6 L707.5,146.0 L708.7,145.3 L709.5,144.5 L710.1,143.6 L710.3,142.7 L710.2,141.7" stroke="#40c8a8" stroke-width="6.5" fill="none" stroke-linecap="round"/>
<path d="M677.7,130.0 L677.7,131.9 L677.9,133.8 L678.5,135.7 L679.4,137.4 L680.6,139.1 L682.0,140.7 L683.6,142.2 L685.5,143.4 L687.5,144.6 L689.6,145.5 L691.8,146.3 L694.1,146.9 L696.3,147.3 L698.5,147.5 L700.7,147.5 L702.7,147.3 L704.5,147.0 L706.1,146.6 L707.5,146.0 L708.7,145.3 L709.5,144.5 L710.1,143.6 L710.3,142.7 L710.2,141.7" stroke="#9fe3d3" stroke-width="1.9" fill="none" stroke-linecap="round" opacity="0.6"/>
<path d="M666.7,153.9 L666.6,155.8 L666.9,157.7 L667.5,159.6 L668.4,161.4 L669.6,163.1 L671.0,164.6 L672.7,166.1 L674.6,167.4 L676.6,168.5 L678.7,169.4 L680.9,170.2 L683.2,170.7 L685.4,171.1 L687.6,171.3 L689.7,171.3 L691.7,171.2 L693.6,170.9 L695.2,170.4 L696.6,169.8 L697.7,169.1 L698.5,168.3 L699.0,167.4 L699.3,166.5 L699.2,165.5" stroke="#206454" stroke-width="7.9" fill="none" stroke-linecap="round"/>
<path d="M666.7,153.9 L666.6,155.8 L666.9,157.7 L667.5,159.6 L668.4,161.4 L669.6,163.1 L671.0,164.6 L672.7,166.1 L674.6,167.4 L676.6,168.5 L678.7,169.4 L680.9,170.2 L683.2,170.7 L685.4,171.1 L687.6,171.3 L689.7,171.3 L691.7,171.2 L693.6,170.9 L695.2,170.4 L696.6,169.8 L697.7,169.1 L698.5,168.3 L699.0,167.4 L699.3,166.5 L699.2,165.5" stroke="#40c8a8" stroke-width="6.5" fill="none" stroke-linecap="round"/>
<path d="M666.7,153.9 L666.6,155.8 L666.9,157.7 L667.5,159.6 L668.4,161.4 L669.6,163.1 L671.0,164.6 L672.7,166.1 L674.6,167.4 L676.6,168.5 L678.7,169.4 L680.9,170.2 L683.2,170.7 L685.4,171.1 L687.6,171.3 L689.7,171.3 L691.7,171.2 L693.6,170.9 L695.2,170.4 L696.6,169.8 L697.7,169.1 L698.5,168.3 L699.0,167.4 L699.3,166.5 L699.2,165.5" stroke="#9fe3d3" stroke-width="1.9" fill="none" stroke-linecap="round" opacity="0.6"/>
<path d="M655.7,177.9 L655.6,179.8 L655.9,181.7 L656.5,183.5 L657.5,185.3 L658.6,187.0 L660.1,188.6 L661.8,190.0 L663.6,191.3 L665.7,192.4 L667.8,193.3 L670.0,194.1 L672.3,194.6 L674.5,195.0 L676.7,195.2 L678.8,195.2 L680.8,195.0 L682.6,194.7 L684.2,194.2 L685.6,193.6 L686.7,192.9 L687.5,192.1 L688.0,191.2 L688.2,190.3 L688.1,189.3" stroke="#206454" stroke-width="7.9" fill="none" stroke-linecap="round"/>
<path d="M655.7,177.9 L655.6,179.8 L655.9,181.7 L656.5,183.5 L657.5,185.3 L658.6,187.0 L660.1,188.6 L661.8,190.0 L663.6,191.3 L665.7,192.4 L667.8,193.3 L670.0,194.1 L672.3,194.6 L674.5,195.0 L676.7,195.2 L678.8,195.2 L680.8,195.0 L682.6,194.7 L684.2,194.2 L685.6,193.6 L686.7,192.9 L687.5,192.1 L688.0,191.2 L688.2,190.3 L688.1,189.3" stroke="#40c8a8" stroke-width="6.5" fill="none" stroke-linecap="round"/>
<path d="M655.7,177.9 L655.6,179.8 L655.9,181.7 L656.5,183.5 L657.5,185.3 L658.6,187.0 L660.1,188.6 L661.8,190.0 L663.6,191.3 L665.7,192.4 L667.8,193.3 L670.0,194.1 L672.3,194.6 L674.5,195.0 L676.7,195.2 L678.8,195.2 L680.8,195.0 L682.6,194.7 L684.2,194.2 L685.6,193.6 L686.7,192.9 L687.5,192.1 L688.0,191.2 L688.2,190.3 L688.1,189.3" stroke="#9fe3d3" stroke-width="1.9" fill="none" stroke-linecap="round" opacity="0.6"/>
<path d="M644.6,201.8 L644.6,203.7 L644.9,205.6 L645.6,207.5 L646.5,209.3 L647.7,210.9 L649.1,212.5 L650.8,213.9" stroke="#206454" stroke-width="7.9" fill="none" stroke-linecap="round"/>
<path d="M644.6,201.8 L644.6,203.7 L644.9,205.6 L645.6,207.5 L646.5,209.3 L647.7,210.9 L649.1,212.5 L650.8,213.9" stroke="#40c8a8" stroke-width="6.5" fill="none" stroke-linecap="round"/>
<path d="M644.6,201.8 L644.6,203.7 L644.9,205.6 L645.6,207.5 L646.5,209.3 L647.7,210.9 L649.1,212.5 L650.8,213.9" stroke="#9fe3d3" stroke-width="1.9" fill="none" stroke-linecap="round" opacity="0.6"/>
<path d="M671.4,204.2 L671.2,203.2 L670.7,202.3 L669.9,201.4 L668.8,200.6 L667.5,199.8 L666.0,199.2 L664.2,198.7 L662.3,198.4 L660.2,198.1 L658.0,198.1 L655.8,198.2 L653.5,198.5 L651.2,199.0 L649.0,199.6 L646.8,200.4 L644.8,201.4 L642.9,202.5 L641.2,203.8 L639.7,205.1 L638.5,206.6 L637.5,208.1 L636.8,209.8 L636.4,211.4 L636.3,213.1" stroke="#1e5648" stroke-width="4.8" fill="none" stroke-linecap="round"/>
<path d="M671.4,204.2 L671.2,203.2 L670.7,202.3 L669.9,201.4 L668.8,200.6 L667.5,199.8 L666.0,199.2 L664.2,198.7 L662.3,198.4 L660.2,198.1 L658.0,198.1 L655.8,198.2 L653.5,198.5 L651.2,199.0 L649.0,199.6 L646.8,200.4 L644.8,201.4 L642.9,202.5 L641.2,203.8 L639.7,205.1 L638.5,206.6 L637.5,208.1 L636.8,209.8 L636.4,211.4 L636.3,213.1" stroke="#339078" stroke-width="3.6" fill="none" stroke-linecap="round"/>
<path d="M669.1,220.8 L668.8,219.8 L668.2,218.9" stroke="#1e5648" stroke-width="4.8" fill="none" stroke-linecap="round"/>
<path d="M669.1,220.8 L668.8,219.8 L668.2,218.9" stroke="#339078" stroke-width="3.6" fill="none" stroke-linecap="round"/>
<path d="M655.0,210.0 L657.2,210.3 L659.3,210.4 L661.4,210.3 L663.4,210.1 L665.2,209.7 L666.8,209.2 L668.2,208.5 L669.4,207.8 L670.3,207.0 L671.0,206.1 L671.3,205.1 L671.4,204.2" stroke="#246454" stroke-width="5.9" fill="none" stroke-linecap="round"/>
<path d="M655.0,210.0 L657.2,210.3 L659.3,210.4 L661.4,210.3 L663.4,210.1 L665.2,209.7 L666.8,209.2 L668.2,208.5 L669.4,207.8 L670.3,207.0 L671.0,206.1 L671.3,205.1 L671.4,204.2" stroke="#48c8a8" stroke-width="4.5" fill="none" stroke-linecap="round"/>
<path d="M655.0,210.0 L657.2,210.3 L659.3,210.4 L661.4,210.3 L663.4,210.1 L665.2,209.7 L666.8,209.2 L668.2,208.5 L669.4,207.8 L670.3,207.0 L671.0,206.1 L671.3,205.1 L671.4,204.2" stroke="#a3e3d3" stroke-width="1.3" fill="none" stroke-linecap="round" opacity="0.6"/>
<path d="M636.3,213.1 L636.4,214.7 L636.9,216.4 L637.6,218.0 L638.6,219.5 L639.9,220.9 L641.4,222.2 L643.1,223.4 L644.9,224.5 L646.9,225.3 L649.0,226.1 L651.2,226.6 L653.4,227.0 L655.5,227.2 L657.7,227.3 L659.7,227.2 L661.6,226.9 L663.4,226.5 L664.9,225.9 L666.3,225.2 L667.4,224.5 L668.2,223.6 L668.8,222.7 L669.1,221.7 L669.1,220.8" stroke="#246454" stroke-width="5.9" fill="none" stroke-linecap="round"/>
<path d="M636.3,213.1 L636.4,214.7 L636.9,216.4 L637.6,218.0 L638.6,219.5 L639.9,220.9 L641.4,222.2 L643.1,223.4 L644.9,224.5 L646.9,225.3 L649.0,226.1 L651.2,226.6 L653.4,227.0 L655.5,227.2 L657.7,227.3 L659.7,227.2 L661.6,226.9 L663.4,226.5 L664.9,225.9 L666.3,225.2 L667.4,224.5 L668.2,223.6 L668.8,222.7 L669.1,221.7 L669.1,220.8" stroke="#48c8a8" stroke-width="4.5" fill="none" stroke-linecap="round"/>
<path d="M636.3,213.1 L636.4,214.7 L636.9,216.4 L637.6,218.0 L638.6,219.5 L639.9,220.9 L641.4,222.2 L643.1,223.4 L644.9,224.5 L646.9,225.3 L649.0,226.1 L651.2,226.6 L653.4,227.0 L655.5,227.2 L657.7,227.3 L659.7,227.2 L661.6,226.9 L663.4,226.5 L664.9,225.9 L666.3,225.2 L667.4,224.5 L668.2,223.6 L668.8,222.7 L669.1,221.7 L669.1,220.8" stroke="#a3e3d3" stroke-width="1.3" fill="none" stroke-linecap="round" opacity="0.6"/>
<path d="M663.7,79.2 L663.5,78.2 L662.9,77.2 L661.8,76.3 L660.5,75.4 L658.7,74.7 L656.7,74.0 L654.4,73.5 L651.9,73.1 L649.1,73.0 L646.2,72.9 L643.2,73.1 L640.2,73.5 L637.2,74.0 L634.2,74.8 L631.3,75.7 L628.6,76.8 L626.1,78.0 L623.8,79.4 L621.8,81.0 L620.2,82.6 L618.9,84.4 L617.9,86.2 L617.4,88.0 L617.2,89.9" stroke="#395939" stroke-width="5.2" fill="none" stroke-linecap="round"/>
<path d="M663.7,79.2 L663.5,78.2 L662.9,77.2 L661.8,76.3 L660.5,75.4 L658.7,74.7 L656.7,74.0 L654.4,73.5 L651.9,73.1 L649.1,73.0 L646.2,72.9 L643.2,73.1 L640.2,73.5 L637.2,74.0 L634.2,74.8 L631.3,75.7 L628.6,76.8 L626.1,78.0 L623.8,79.4 L621.8,81.0 L620.2,82.6 L618.9,84.4 L617.9,86.2 L617.4,88.0 L617.2,89.9" stroke="#609560" stroke-width="4.0" fill="none" stroke-linecap="round"/>
<path d="M662.6,99.9 L662.3,98.9 L661.6,97.9 L660.5,97.0 L659.1,96.1 L657.3,95.4 L655.2,94.8 L652.9,94.3 L650.3,94.0 L647.5,93.8 L644.6,93.8 L641.6,94.0 L638.6,94.4 L635.5,95.0 L632.6,95.8 L629.7,96.7 L627.1,97.8 L624.6,99.1 L622.4,100.6 L620.4,102.1 L618.8,103.8 L617.6,105.5 L616.7,107.4 L616.2,109.2 L616.1,111.1" stroke="#395939" stroke-width="5.2" fill="none" stroke-linecap="round"/>
<path d="M662.6,99.9 L662.3,98.9 L661.6,97.9 L660.5,97.0 L659.1,96.1 L657.3,95.4 L655.2,94.8 L652.9,94.3 L650.3,94.0 L647.5,93.8 L644.6,93.8 L641.6,94.0 L638.6,94.4 L635.5,95.0 L632.6,95.8 L629.7,96.7 L627.1,97.8 L624.6,99.1 L622.4,100.6 L620.4,102.1 L618.8,103.8 L617.6,105.5 L616.7,107.4 L616.2,109.2 L616.1,111.1" stroke="#609560" stroke-width="4.0" fill="none" stroke-linecap="round"/>
<path d="M661.5,120.6 L661.1,119.6 L660.4,118.6 L659.2,117.7 L657.7,116.9 L655.9,116.2 L653.8,115.6 L651.4,115.1 L648.7,114.8 L645.9,114.7 L643.0,114.7 L640.0,115.0 L637.0,115.4 L633.9,116.0 L631.0,116.8 L628.2,117.8 L625.5,118.9 L623.1,120.2 L620.9,121.7 L619.1,123.3 L617.5,124.9 L616.3,126.7 L615.5,128.5 L615.1,130.4 L615.0,132.3" stroke="#395939" stroke-width="5.2" fill="none" stroke-linecap="round"/>
<path d="M661.5,120.6 L661.1,119.6 L660.4,118.6 L659.2,117.7 L657.7,116.9 L655.9,116.2 L653.8,115.6 L651.4,115.1 L648.7,114.8 L645.9,114.7 L643.0,114.7 L640.0,115.0 L637.0,115.4 L633.9,116.0 L631.0,116.8 L628.2,117.8 L625.5,118.9 L623.1,120.2 L620.9,121.7 L619.1,123.3 L617.5,124.9 L616.3,126.7 L615.5,128.5 L615.1,130.4 L615.0,132.3" stroke="#609560" stroke-width="4.0" fill="none" stroke-linecap="round"/>
<path d="M660.4,141.3 L659.9,140.3 L659.1,139.3 L657.9,138.4 L656.3,137.6 L654.5,136.9 L652.3,136.3 L649.8,135.9 L647.2,135.6 L644.4,135.5 L641.4,135.6 L638.4,135.9 L635.3,136.3 L632.3,137.0 L629.4,137.8 L626.6,138.8 L624.0,140.0 L621.6,141.3 L619.5,142.8 L617.7,144.4 L616.2,146.1 L615.1,147.9 L614.3,149.7 L614.0,151.6 L614.0,153.5" stroke="#395939" stroke-width="5.2" fill="none" stroke-linecap="round"/>
<path d="M660.4,141.3 L659.9,140.3 L659.1,139.3 L657.9,138.4 L656.3,137.6 L654.5,136.9 L652.3,136.3 L649.8,135.9 L647.2,135.6 L644.4,135.5 L641.4,135.6 L638.4,135.9 L635.3,136.3 L632.3,137.0 L629.4,137.8 L626.6,138.8 L624.0,140.0 L621.6,141.3 L619.5,142.8 L617.7,144.4 L616.2,146.1 L615.1,147.9 L614.3,149.7 L614.0,151.6 L614.0,153.5" stroke="#609560" stroke-width="4.0" fill="none" stroke-linecap="round"/>
<path d="M659.3,162.0 L658.7,161.0 L657.8,160.0 L656.6,159.1 L655.0,158.3 L653.0,157.7 L650.8,157.1 L648.3,156.7 L645.6,156.5 L642.8,156.4 L639.8,156.5 L636.8,156.8 L633.7,157.3 L630.7,158.0 L627.8,158.9 L625.1,159.9 L622.5,161.1" stroke="#395939" stroke-width="5.2" fill="none" stroke-linecap="round"/>
<path d="M659.3,162.0 L658.7,161.0 L657.8,160.0 L656.6,159.1 L655.0,158.3 L653.0,157.7 L650.8,157.1 L648.3,156.7 L645.6,156.5 L642.8,156.4 L639.8,156.5 L636.8,156.8 L633.7,157.3 L630.7,158.0 L627.8,158.9 L625.1,159.9 L622.5,161.1" stroke="#609560" stroke-width="4.0" fill="none" stroke-linecap="round"/>
<path d="M641.0,85.0 L644.0,85.3 L646.9,85.5 L649.8,85.5 L652.4,85.3 L654.9,84.9 L657.2,84.4 L659.1,83.7 L660.8,83.0 L662.1,82.1 L663.0,81.2 L663.6,80.2 L663.7,79.2" stroke="#436843" stroke-width="6.4" fill="none" stroke-linecap="round"/>
<path d="M641.0,85.0 L644.0,85.3 L646.9,85.5 L649.8,85.5 L652.4,85.3 L654.9,84.9 L657.2,84.4 L659.1,83.7 L660.8,83.0 L662.1,82.1 L663.0,81.2 L663.6,80.2 L663.7,79.2" stroke="#86d086" stroke-width="5.0" fill="none" stroke-linecap="round"/>
<path d="M641.0,85.0 L644.0,85.3 L646.9,85.5 L649.8,85.5 L652.4,85.3 L654.9,84.9 L657.2,84.4 L659.1,83.7 L660.8,83.0 L662.1,82.1 L663.0,81.2 L663.6,80.2 L663.7,79.2" stroke="#c2e7c2" stroke-width="1.5" fill="none" stroke-linecap="round" opacity="0.6"/>
<path d="M617.2,89.9 L617.4,91.8 L618.0,93.6 L619.0,95.4 L620.4,97.1 L622.1,98.8 L624.1,100.3 L626.4,101.6 L628.9,102.8 L631.6,103.9 L634.5,104.8 L637.4,105.4 L640.4,105.9 L643.4,106.3 L646.3,106.4 L649.2,106.3 L651.8,106.1 L654.3,105.7 L656.4,105.1 L658.4,104.5 L659.9,103.7 L661.2,102.8 L662.1,101.9 L662.5,100.9 L662.6,99.9" stroke="#436843" stroke-width="6.4" fill="none" stroke-linecap="round"/>
<path d="M617.2,89.9 L617.4,91.8 L618.0,93.6 L619.0,95.4 L620.4,97.1 L622.1,98.8 L624.1,100.3 L626.4,101.6 L628.9,102.8 L631.6,103.9 L634.5,104.8 L637.4,105.4 L640.4,105.9 L643.4,106.3 L646.3,106.4 L649.2,106.3 L651.8,106.1 L654.3,105.7 L656.4,105.1 L658.4,104.5 L659.9,103.7 L661.2,102.8 L662.1,101.9 L662.5,100.9 L662.6,99.9" stroke="#86d086" stroke-width="5.0" fill="none" stroke-linecap="round"/>
<path d="M617.2,89.9 L617.4,91.8 L618.0,93.6 L619.0,95.4 L620.4,97.1 L622.1,98.8 L624.1,100.3 L626.4,101.6 L628.9,102.8 L631.6,103.9 L634.5,104.8 L637.4,105.4 L640.4,105.9 L643.4,106.3 L646.3,106.4 L649.2,106.3 L651.8,106.1 L654.3,105.7 L656.4,105.1 L658.4,104.5 L659.9,103.7 L661.2,102.8 L662.1,101.9 L662.5,100.9 L662.6,99.9" stroke="#c2e7c2" stroke-width="1.5" fill="none" stroke-linecap="round" opacity="0.6"/>
<path d="M616.1,111.1 L616.4,113.0 L617.1,114.8 L618.2,116.6 L619.6,118.3 L621.3,119.9 L623.4,121.4 L625.7,122.7 L628.3,123.9 L631.0,124.9 L633.9,125.8 L636.9,126.4 L639.9,126.9 L642.8,127.2 L645.8,127.2 L648.5,127.2 L651.2,126.9 L653.6,126.5 L655.7,125.9 L657.6,125.2 L659.1,124.4 L660.3,123.5 L661.1,122.6 L661.5,121.6 L661.5,120.6" stroke="#436843" stroke-width="6.4" fill="none" stroke-linecap="round"/>
<path d="M616.1,111.1 L616.4,113.0 L617.1,114.8 L618.2,116.6 L619.6,118.3 L621.3,119.9 L623.4,121.4 L625.7,122.7 L628.3,123.9 L631.0,124.9 L633.9,125.8 L636.9,126.4 L639.9,126.9 L642.8,127.2 L645.8,127.2 L648.5,127.2 L651.2,126.9 L653.6,126.5 L655.7,125.9 L657.6,125.2 L659.1,124.4 L660.3,123.5 L661.1,122.6 L661.5,121.6 L661.5,120.6" stroke="#86d086" stroke-width="5.0" fill="none" stroke-linecap="round"/>
<path d="M616.1,111.1 L616.4,113.0 L617.1,114.8 L618.2,116.6 L619.6,118.3 L621.3,119.9 L623.4,121.4 L625.7,122.7 L628.3,123.9 L631.0,124.9 L633.9,125.8 L636.9,126.4 L639.9,126.9 L642.8,127.2 L645.8,127.2 L648.5,127.2 L651.2,126.9 L653.6,126.5 L655.7,125.9 L657.6,125.2 L659.1,124.4 L660.3,123.5 L661.1,122.6 L661.5,121.6 L661.5,120.6" stroke="#c2e7c2" stroke-width="1.5" fill="none" stroke-linecap="round" opacity="0.6"/>
<path d="M615.0,132.3 L615.4,134.2 L616.2,136.0 L617.3,137.8 L618.8,139.5 L620.6,141.0 L622.7,142.5 L625.1,143.8 L627.7,145.0 L630.4,145.9 L633.3,146.8 L636.3,147.4 L639.3,147.8 L642.3,148.1 L645.2,148.1 L647.9,148.0 L650.5,147.7 L652.9,147.2 L655.0,146.7 L656.8,145.9 L658.2,145.1 L659.4,144.2 L660.1,143.3 L660.4,142.3 L660.4,141.3" stroke="#436843" stroke-width="6.4" fill="none" stroke-linecap="round"/>
<path d="M615.0,132.3 L615.4,134.2 L616.2,136.0 L617.3,137.8 L618.8,139.5 L620.6,141.0 L622.7,142.5 L625.1,143.8 L627.7,145.0 L630.4,145.9 L633.3,146.8 L636.3,147.4 L639.3,147.8 L642.3,148.1 L645.2,148.1 L647.9,148.0 L650.5,147.7 L652.9,147.2 L655.0,146.7 L656.8,145.9 L658.2,145.1 L659.4,144.2 L660.1,143.3 L660.4,142.3 L660.4,141.3" stroke="#86d086" stroke-width="5.0" fill="none" stroke-linecap="round"/>
<path d="M615.0,132.3 L615.4,134.2 L616.2,136.0 L617.3,137.8 L618.8,139.5 L620.6,141.0 L622.7,142.5 L625.1,143.8 L627.7,145.0 L630.4,145.9 L633.3,146.8 L636.3,147.4 L639.3,147.8 L642.3,148.1 L645.2,148.1 L647.9,148.0 L650.5,147.7 L652.9,147.2 L655.0,146.7 L656.8,145.9 L658.2,145.1 L659.4,144.2 L660.1,143.3 L660.4,142.3 L660.4,141.3" stroke="#c2e7c2" stroke-width="1.5" fill="none" stroke-linecap="round" opacity="0.6"/>
<path d="M614.0,153.5 L614.4,155.4 L615.2,157.2 L616.4,158.9 L618.0,160.6 L619.9,162.2 L622.0,163.6 L624.4,164.9 L627.1,166.0 L629.8,167.0 L632.8,167.7 L635.7,168.3 L638.7,168.7 L641.7,168.9 L644.6,169.0 L647.3,168.8 L649.9,168.5 L652.2,168.0 L654.2,167.4 L656.0,166.7 L657.4,165.8 L658.4,164.9 L659.1,164.0 L659.4,163.0 L659.3,162.0" stroke="#436843" stroke-width="6.4" fill="none" stroke-linecap="round"/>
<path d="M614.0,153.5 L614.4,155.4 L615.2,157.2 L616.4,158.9 L618.0,160.6 L619.9,162.2 L622.0,163.6 L624.4,164.9 L627.1,166.0 L629.8,167.0 L632.8,167.7 L635.7,168.3 L638.7,168.7 L641.7,168.9 L644.6,169.0 L647.3,168.8 L649.9,168.5 L652.2,168.0 L654.2,167.4 L656.0,166.7 L657.4,165.8 L658.4,164.9 L659.1,164.0 L659.4,163.0 L659.3,162.0" stroke="#86d086" stroke-width="5.0" fill="none" stroke-linecap="round"/>
<path d="M614.0,153.5 L614.4,155.4 L615.2,157.2 L616.4,158.9 L618.0,160.6 L619.9,162.2 L622.0,163.6 L624.4,164.9 L627.1,166.0 L629.8,167.0 L632.8,167.7 L635.7,168.3 L638.7,168.7 L641.7,168.9 L644.6,169.0 L647.3,168.8 L649.9,168.5 L652.2,168.0 L654.2,167.4 L656.0,166.7 L657.4,165.8 L658.4,164.9 L659.1,164.0 L659.4,163.0 L659.3,162.0" stroke="#c2e7c2" stroke-width="1.5" fill="none" stroke-linecap="round" opacity="0.6"/>
<path d="M583.6,150.5 L583.3,148.1 L582.8,145.7 L582.0,143.5 L580.9,141.4 L579.7,139.6 L578.2,137.9 L576.6,136.5 L574.9,135.4 L573.0,134.6 L571.1,134.2 L569.2,134.0 L567.2,134.2 L565.3,134.6 L563.4,135.4 L561.7,136.5 L560.1,137.9 L558.6,139.6 L557.4,141.4 L556.4,143.5 L555.6,145.7 L555.0,148.1 L554.8,150.5 L554.8,153.0 L555.0,155.5" stroke="#3f5e3f" stroke-width="3.4" fill="none" stroke-linecap="round"/>
<path d="M583.6,150.5 L583.3,148.1 L582.8,145.7 L582.0,143.5 L580.9,141.4 L579.7,139.6 L578.2,137.9 L576.6,136.5 L574.9,135.4 L573.0,134.6 L571.1,134.2 L569.2,134.0 L567.2,134.2 L565.3,134.6 L563.4,135.4 L561.7,136.5 L560.1,137.9 L558.6,139.6 L557.4,141.4 L556.4,143.5 L555.6,145.7 L555.0,148.1 L554.8,150.5 L554.8,153.0 L555.0,155.5" stroke="#6a9e6a" stroke-width="2.2" fill="none" stroke-linecap="round"/>
<path d="M589.9,150.5 L589.6,148.1 L589.1,145.7 L588.3,143.5 L587.3,141.4 L586.0,139.6 L584.6,137.9 L583.0,136.5 L581.2,135.4 L579.4,134.6 L577.5,134.2 L575.5,134.0 L573.5,134.2 L571.6,134.6 L569.8,135.4 L568.0,136.5 L566.4,137.9 L565.0,139.6 L563.7,141.4 L562.7,143.5 L561.9,145.7 L561.4,148.1 L561.1,150.5 L561.1,153.0 L561.4,155.5" stroke="#3f5e3f" stroke-width="3.4" fill="none" stroke-linecap="round"/>
<path d="M589.9,150.5 L589.6,148.1 L589.1,145.7 L588.3,143.5 L587.3,141.4 L586.0,139.6 L584.6,137.9 L583.0,136.5 L581.2,135.4 L579.4,134.6 L577.5,134.2 L575.5,134.0 L573.5,134.2 L571.6,134.6 L569.8,135.4 L568.0,136.5 L566.4,137.9 L565.0,139.6 L563.7,141.4 L562.7,143.5 L561.9,145.7 L561.4,148.1 L561.1,150.5 L561.1,153.0 L561.4,155.5" stroke="#6a9e6a" stroke-width="2.2" fill="none" stroke-linecap="round"/>
<path d="M596.2,150.5 L596.0,148.1 L595.4,145.7 L594.6,143.5 L593.6,141.4 L592.4,139.6 L590.9,137.9 L589.3,136.5 L587.6,135.4 L585.7,134.6 L583.8,134.2 L581.8,134.0 L579.9,134.2 L578.0,134.6 L576.1,135.4 L574.4,136.5 L572.8,137.9 L571.3,139.6 L570.1,141.4 L569.0,143.5 L568.2,145.7 L567.7,148.1 L567.4,150.5 L567.4,153.0 L567.7,155.5" stroke="#3f5e3f" stroke-width="3.4" fill="none" stroke-linecap="round"/>
<path d="M596.2,150.5 L596.0,148.1 L595.4,145.7 L594.6,143.5 L593.6,141.4 L592.4,139.6 L590.9,137.9 L589.3,136.5 L587.6,135.4 L585.7,134.6 L583.8,134.2 L581.8,134.0 L579.9,134.2 L578.0,134.6 L576.1,135.4 L574.4,136.5 L572.8,137.9 L571.3,139.6 L570.1,141.4 L569.0,143.5 L568.2,145.7 L567.7,148.1 L567.4,150.5 L567.4,153.0 L567.7,155.5" stroke="#6a9e6a" stroke-width="2.2" fill="none" stroke-linecap="round"/>
<path d="M602.6,150.5 L602.3,148.1 L601.8,145.7 L601.0,143.5 L599.9,141.4 L598.7,139.6 L597.2,137.9 L595.6,136.5 L593.9,135.4 L592.0,134.6 L590.1,134.2 L588.2,134.0 L586.2,134.2 L584.3,134.6 L582.4,135.4 L580.7,136.5 L579.1,137.9 L577.6,139.6 L576.4,141.4 L575.4,143.5 L574.6,145.7 L574.0,148.1 L573.8,150.5 L573.8,153.0 L574.0,155.5" stroke="#3f5e3f" stroke-width="3.4" fill="none" stroke-linecap="round"/>
<path d="M602.6,150.5 L602.3,148.1 L601.8,145.7 L601.0,143.5 L599.9,141.4 L598.7,139.6 L597.2,137.9 L595.6,136.5 L593.9,135.4 L592.0,134.6 L590.1,134.2 L588.2,134.0 L586.2,134.2 L584.3,134.6 L582.4,135.4 L580.7,136.5 L579.1,137.9 L577.6,139.6 L576.4,141.4 L575.4,143.5 L574.6,145.7 L574.0,148.1 L573.8,150.5 L573.8,153.0 L574.0,155.5" stroke="#6a9e6a" stroke-width="2.2" fill="none" stroke-linecap="round"/>
<path d="M608.9,153.0 L608.9,150.5 L608.6,148.1 L608.1,145.7 L607.3,143.5 L606.3,141.4 L605.0,139.6 L603.6,137.9 L602.0,136.5 L600.2,135.4 L598.4,134.6 L596.5,134.2 L594.5,134.0 L592.5,134.2 L590.6,134.6 L588.8,135.4 L587.0,136.5 L585.4,137.9 L584.0,139.6 L582.7,141.4 L581.7,143.5 L580.9,145.7 L580.4,148.1 L580.1,150.5 L580.1,153.0 L580.4,155.5" stroke="#3f5e3f" stroke-width="3.4" fill="none" stroke-linecap="round"/>
<path d="M608.9,153.0 L608.9,150.5 L608.6,148.1 L608.1,145.7 L607.3,143.5 L606.3,141.4 L605.0,139.6 L603.6,137.9 L602.0,136.5 L600.2,135.4 L598.4,134.6 L596.5,134.2 L594.5,134.0 L592.5,134.2 L590.6,134.6 L588.8,135.4 L587.0,136.5 L585.4,137.9 L584.0,139.6 L582.7,141.4 L581.7,143.5 L580.9,145.7 L580.4,148.1 L580.1,150.5 L580.1,153.0 L580.4,155.5" stroke="#6a9e6a" stroke-width="2.2" fill="none" stroke-linecap="round"/>
<path d="M615.2,153.0 L615.2,150.5 L615.0,148.1 L614.4,145.7 L613.6,143.5 L612.6,141.4 L611.4,139.6 L609.9,137.9 L608.3,136.5 L606.6,135.4 L604.7,134.6 L602.8,134.2 L600.8,134.0 L598.9,134.2 L597.0,134.6 L595.1,135.4 L593.4,136.5 L591.8,137.9 L590.3,139.6 L589.1,141.4 L588.0,143.5 L587.2,145.7 L586.7,148.1 L586.4,150.5 L586.4,153.0 L586.7,155.5" stroke="#3f5e3f" stroke-width="3.4" fill="none" stroke-linecap="round"/>
<path d="M615.2,153.0 L615.2,150.5 L615.0,148.1 L614.4,145.7 L613.6,143.5 L612.6,141.4 L611.4,139.6 L609.9,137.9 L608.3,136.5 L606.6,135.4 L604.7,134.6 L602.8,134.2 L600.8,134.0 L598.9,134.2 L597.0,134.6 L595.1,135.4 L593.4,136.5 L591.8,137.9 L590.3,139.6 L589.1,141.4 L588.0,143.5 L587.2,145.7 L586.7,148.1 L586.4,150.5 L586.4,153.0 L586.7,155.5" stroke="#6a9e6a" stroke-width="2.2" fill="none" stroke-linecap="round"/>
<path d="M566.0,172.0 L568.2,171.8 L570.4,171.4 L572.5,170.6 L574.5,169.5 L576.4,168.1 L578.1,166.4 L579.6,164.6 L580.9,162.5 L582.0,160.3 L582.8,157.9 L583.3,155.5 L583.6,153.0 L583.6,150.5" stroke="#4a6e4a" stroke-width="4.2" fill="none" stroke-linecap="round"/>
<path d="M566.0,172.0 L568.2,171.8 L570.4,171.4 L572.5,170.6 L574.5,169.5 L576.4,168.1 L578.1,166.4 L579.6,164.6 L580.9,162.5 L582.0,160.3 L582.8,157.9 L583.3,155.5 L583.6,153.0 L583.6,150.5" stroke="#94dc94" stroke-width="2.8" fill="none" stroke-linecap="round"/>
<path d="M566.0,172.0 L568.2,171.8 L570.4,171.4 L572.5,170.6 L574.5,169.5 L576.4,168.1 L578.1,166.4 L579.6,164.6 L580.9,162.5 L582.0,160.3 L582.8,157.9 L583.3,155.5 L583.6,153.0 L583.6,150.5" stroke="#c9edc9" stroke-width="0.8" fill="none" stroke-linecap="round" opacity="0.6"/>
<path d="M555.0,155.5 L555.6,157.9 L556.4,160.3 L557.4,162.5 L558.7,164.6 L560.2,166.4 L561.9,168.1 L563.8,169.5 L565.8,170.6 L567.9,171.4 L570.1,171.8 L572.3,172.0 L574.6,171.8 L576.7,171.4 L578.9,170.6 L580.9,169.5 L582.7,168.1 L584.4,166.4 L586.0,164.6 L587.2,162.5 L588.3,160.3 L589.1,157.9 L589.6,155.5 L589.9,153.0 L589.9,150.5" stroke="#4a6e4a" stroke-width="4.2" fill="none" stroke-linecap="round"/>
<path d="M555.0,155.5 L555.6,157.9 L556.4,160.3 L557.4,162.5 L558.7,164.6 L560.2,166.4 L561.9,168.1 L563.8,169.5 L565.8,170.6 L567.9,171.4 L570.1,171.8 L572.3,172.0 L574.6,171.8 L576.7,171.4 L578.9,170.6 L580.9,169.5 L582.7,168.1 L584.4,166.4 L586.0,164.6 L587.2,162.5 L588.3,160.3 L589.1,157.9 L589.6,155.5 L589.9,153.0 L589.9,150.5" stroke="#94dc94" stroke-width="2.8" fill="none" stroke-linecap="round"/>
<path d="M555.0,155.5 L555.6,157.9 L556.4,160.3 L557.4,162.5 L558.7,164.6 L560.2,166.4 L561.9,168.1 L563.8,169.5 L565.8,170.6 L567.9,171.4 L570.1,171.8 L572.3,172.0 L574.6,171.8 L576.7,171.4 L578.9,170.6 L580.9,169.5 L582.7,168.1 L584.4,166.4 L586.0,164.6 L587.2,162.5 L588.3,160.3 L589.1,157.9 L589.6,155.5 L589.9,153.0 L589.9,150.5" stroke="#c9edc9" stroke-width="0.8" fill="none" stroke-linecap="round" opacity="0.6"/>
<path d="M561.4,155.5 L561.9,157.9 L562.7,160.3 L563.8,162.5 L565.0,164.6 L566.6,166.4 L568.3,168.1 L570.1,169.5 L572.1,170.6 L574.3,171.4 L576.4,171.8 L578.7,172.0 L580.9,171.8 L583.1,171.4 L585.2,170.6 L587.2,169.5 L589.1,168.1 L590.8,166.4 L592.3,164.6 L593.6,162.5 L594.6,160.3 L595.4,157.9 L596.0,155.5 L596.2,153.0 L596.2,150.5" stroke="#4a6e4a" stroke-width="4.2" fill="none" stroke-linecap="round"/>
<path d="M561.4,155.5 L561.9,157.9 L562.7,160.3 L563.8,162.5 L565.0,164.6 L566.6,166.4 L568.3,168.1 L570.1,169.5 L572.1,170.6 L574.3,171.4 L576.4,171.8 L578.7,172.0 L580.9,171.8 L583.1,171.4 L585.2,170.6 L587.2,169.5 L589.1,168.1 L590.8,166.4 L592.3,164.6 L593.6,162.5 L594.6,160.3 L595.4,157.9 L596.0,155.5 L596.2,153.0 L596.2,150.5" stroke="#94dc94" stroke-width="2.8" fill="none" stroke-linecap="round"/>
<path d="M561.4,155.5 L561.9,157.9 L562.7,160.3 L563.8,162.5 L565.0,164.6 L566.6,166.4 L568.3,168.1 L570.1,169.5 L572.1,170.6 L574.3,171.4 L576.4,171.8 L578.7,172.0 L580.9,171.8 L583.1,171.4 L585.2,170.6 L587.2,169.5 L589.1,168.1 L590.8,166.4 L592.3,164.6 L593.6,162.5 L594.6,160.3 L595.4,157.9 L596.0,155.5 L596.2,153.0 L596.2,150.5" stroke="#c9edc9" stroke-width="0.8" fill="none" stroke-linecap="round" opacity="0.6"/>
<path d="M567.7,155.5 L568.2,157.9 L569.0,160.3 L570.1,162.5 L571.4,164.6 L572.9,166.4 L574.6,168.1 L576.5,169.5 L578.5,170.6 L580.6,171.4 L582.8,171.8 L585.0,172.0 L587.2,171.8 L589.4,171.4 L591.5,170.6 L593.5,169.5 L595.4,168.1 L597.1,166.4 L598.6,164.6 L599.9,162.5 L601.0,160.3 L601.8,157.9 L602.3,155.5 L602.6,153.0 L602.6,150.5" stroke="#4a6e4a" stroke-width="4.2" fill="none" stroke-linecap="round"/>
<path d="M567.7,155.5 L568.2,157.9 L569.0,160.3 L570.1,162.5 L571.4,164.6 L572.9,166.4 L574.6,168.1 L576.5,169.5 L578.5,170.6 L580.6,171.4 L582.8,171.8 L585.0,172.0 L587.2,171.8 L589.4,171.4 L591.5,170.6 L593.5,169.5 L595.4,168.1 L597.1,166.4 L598.6,164.6 L599.9,162.5 L601.0,160.3 L601.8,157.9 L602.3,155.5 L602.6,153.0 L602.6,150.5" stroke="#94dc94" stroke-width="2.8" fill="none" stroke-linecap="round"/>
<path d="M567.7,155.5 L568.2,157.9 L569.0,160.3 L570.1,162.5 L571.4,164.6 L572.9,166.4 L574.6,168.1 L576.5,169.5 L578.5,170.6 L580.6,171.4 L582.8,171.8 L585.0,172.0 L587.2,171.8 L589.4,171.4 L591.5,170.6 L593.5,169.5 L595.4,168.1 L597.1,166.4 L598.6,164.6 L599.9,162.5 L601.0,160.3 L601.8,157.9 L602.3,155.5 L602.6,153.0 L602.6,150.5" stroke="#c9edc9" stroke-width="0.8" fill="none" stroke-linecap="round" opacity="0.6"/>
<path d="M574.0,155.5 L574.6,157.9 L575.4,160.3 L576.4,162.5 L577.7,164.6 L579.2,166.4 L580.9,168.1 L582.8,169.5 L584.8,170.6 L586.9,171.4 L589.1,171.8 L591.3,172.0 L593.6,171.8 L595.7,171.4 L597.9,170.6 L599.9,169.5 L601.7,168.1 L603.4,166.4 L605.0,164.6 L606.2,162.5 L607.3,160.3 L608.1,157.9 L608.6,155.5 L608.9,153.0" stroke="#4a6e4a" stroke-width="4.2" fill="none" stroke-linecap="round"/>
<path d="M574.0,155.5 L574.6,157.9 L575.4,160.3 L576.4,162.5 L577.7,164.6 L579.2,166.4 L580.9,168.1 L582.8,169.5 L584.8,170.6 L586.9,171.4 L589.1,171.8 L591.3,172.0 L593.6,171.8 L595.7,171.4 L597.9,170.6 L599.9,169.5 L601.7,168.1 L603.4,166.4 L605.0,164.6 L606.2,162.5 L607.3,160.3 L608.1,157.9 L608.6,155.5 L608.9,153.0" stroke="#94dc94" stroke-width="2.8" fill="none" stroke-linecap="round"/>
<path d="M574.0,155.5 L574.6,157.9 L575.4,160.3 L576.4,162.5 L577.7,164.6 L579.2,166.4 L580.9,168.1 L582.8,169.5 L584.8,170.6 L586.9,171.4 L589.1,171.8 L591.3,172.0 L593.6,171.8 L595.7,171.4 L597.9,170.6 L599.9,169.5 L601.7,168.1 L603.4,166.4 L605.0,164.6 L606.2,162.5 L607.3,160.3 L608.1,157.9 L608.6,155.5 L608.9,153.0" stroke="#c9edc9" stroke-width="0.8" fill="none" stroke-linecap="round" opacity="0.6"/>
<path d="M580.4,155.5 L580.9,157.9 L581.7,160.3 L582.8,162.5 L584.0,164.6 L585.6,166.4 L587.3,168.1 L589.1,169.5 L591.1,170.6 L593.3,171.4 L595.4,171.8 L597.7,172.0 L599.9,171.8 L602.1,171.4 L604.2,170.6 L606.2,169.5 L608.1,168.1 L609.8,166.4 L611.3,164.6 L612.6,162.5 L613.6,160.3 L614.4,157.9 L615.0,155.5 L615.2,153.0" stroke="#4a6e4a" stroke-width="4.2" fill="none" stroke-linecap="round"/>
<path d="M580.4,155.5 L580.9,157.9 L581.7,160.3 L582.8,162.5 L584.0,164.6 L585.6,166.4 L587.3,168.1 L589.1,169.5 L591.1,170.6 L593.3,171.4 L595.4,171.8 L597.7,172.0 L599.9,171.8 L602.1,171.4 L604.2,170.6 L606.2,169.5 L608.1,168.1 L609.8,166.4 L611.3,164.6 L612.6,162.5 L613.6,160.3 L614.4,157.9 L615.0,155.5 L615.2,153.0" stroke="#94dc94" stroke-width="2.8" fill="none" stroke-linecap="round"/>
<path d="M580.4,155.5 L580.9,157.9 L581.7,160.3 L582.8,162.5 L584.0,164.6 L585.6,166.4 L587.3,168.1 L589.1,169.5 L591.1,170.6 L593.3,171.4 L595.4,171.8 L597.7,172.0 L599.9,171.8 L602.1,171.4 L604.2,170.6 L606.2,169.5 L608.1,168.1 L609.8,166.4 L611.3,164.6 L612.6,162.5 L613.6,160.3 L614.4,157.9 L615.0,155.5 L615.2,153.0" stroke="#c9edc9" stroke-width="0.8" fill="none" stroke-linecap="round" opacity="0.6"/>
<path d="M586.7,155.5 L587.2,157.9 L588.0,160.3 L589.1,162.5 L590.4,164.6 L591.9,166.4 L593.6,168.1 L595.5,169.5 L597.5,170.6 L599.6,171.4 L601.8,171.8 L604.0,172.0" stroke="#4a6e4a" stroke-width="4.2" fill="none" stroke-linecap="round"/>
<path d="M586.7,155.5 L587.2,157.9 L588.0,160.3 L589.1,162.5 L590.4,164.6 L591.9,166.4 L593.6,168.1 L595.5,169.5 L597.5,170.6 L599.6,171.4 L601.8,171.8 L604.0,172.0" stroke="#94dc94" stroke-width="2.8" fill="none" stroke-linecap="round"/>
<path d="M586.7,155.5 L587.2,157.9 L588.0,160.3 L589.1,162.5 L590.4,164.6 L591.9,166.4 L593.6,168.1 L595.5,169.5 L597.5,170.6 L599.6,171.4 L601.8,171.8 L604.0,172.0" stroke="#c9edc9" stroke-width="0.8" fill="none" stroke-linecap="round" opacity="0.6"/>
<path d="M584.4,190.5 L584.0,188.4 L583.4,186.3 L582.4,184.4 L581.2,182.6 L579.6,181.0 L577.9,179.6 L575.9,178.4 L573.7,177.5 L571.5,176.8 L569.1,176.4 L566.7,176.3 L564.3,176.5 L561.9,177.0 L559.6,177.8 L557.4,178.8 L555.5,180.1 L553.7,181.6 L552.2,183.4 L550.9,185.3 L549.9,187.3 L549.3,189.5 L549.0,191.7 L549.0,194.0 L549.4,196.3" stroke="#295229" stroke-width="4.4" fill="none" stroke-linecap="round"/>
<path d="M584.4,190.5 L584.0,188.4 L583.4,186.3 L582.4,184.4 L581.2,182.6 L579.6,181.0 L577.9,179.6 L575.9,178.4 L573.7,177.5 L571.5,176.8 L569.1,176.4 L566.7,176.3 L564.3,176.5 L561.9,177.0 L559.6,177.8 L557.4,178.8 L555.5,180.1 L553.7,181.6 L552.2,183.4 L550.9,185.3 L549.9,187.3 L549.3,189.5 L549.0,191.7 L549.0,194.0 L549.4,196.3" stroke="#458a45" stroke-width="3.2" fill="none" stroke-linecap="round"/>
<path d="M593.7,193.2 L593.4,191.0 L592.7,189.0 L591.8,187.1 L590.5,185.3 L589.0,183.6 L587.2,182.2 L585.2,181.1 L583.1,180.1 L580.8,179.5 L578.4,179.1 L576.0,179.0 L573.6,179.2 L571.2,179.7 L568.9,180.5 L566.8,181.5 L564.8,182.8 L563.0,184.3 L561.5,186.0 L560.2,187.9 L559.3,190.0 L558.6,192.2 L558.3,194.4 L558.3,196.7 L558.7,198.9" stroke="#295229" stroke-width="4.4" fill="none" stroke-linecap="round"/>
<path d="M593.7,193.2 L593.4,191.0 L592.7,189.0 L591.8,187.1 L590.5,185.3 L589.0,183.6 L587.2,182.2 L585.2,181.1 L583.1,180.1 L580.8,179.5 L578.4,179.1 L576.0,179.0 L573.6,179.2 L571.2,179.7 L568.9,180.5 L566.8,181.5 L564.8,182.8 L563.0,184.3 L561.5,186.0 L560.2,187.9 L559.3,190.0 L558.6,192.2 L558.3,194.4 L558.3,196.7 L558.7,198.9" stroke="#458a45" stroke-width="3.2" fill="none" stroke-linecap="round"/>
<path d="M603.0,195.8 L602.7,193.7 L602.1,191.7 L601.1,189.7 L599.8,187.9 L598.3,186.3 L596.5,184.9 L594.6,183.7 L592.4,182.8 L590.1,182.1 L587.7,181.8 L585.3,181.7 L582.9,181.9 L580.5,182.4 L578.3,183.1 L576.1,184.2 L574.1,185.5 L572.4,187.0 L570.8,188.7 L569.6,190.6 L568.6,192.7 L568.0,194.8 L567.6,197.1 L567.7,199.3 L568.0,201.6" stroke="#295229" stroke-width="4.4" fill="none" stroke-linecap="round"/>
<path d="M603.0,195.8 L602.7,193.7 L602.1,191.7 L601.1,189.7 L599.8,187.9 L598.3,186.3 L596.5,184.9 L594.6,183.7 L592.4,182.8 L590.1,182.1 L587.7,181.8 L585.3,181.7 L582.9,181.9 L580.5,182.4 L578.3,183.1 L576.1,184.2 L574.1,185.5 L572.4,187.0 L570.8,188.7 L569.6,190.6 L568.6,192.7 L568.0,194.8 L567.6,197.1 L567.7,199.3 L568.0,201.6" stroke="#458a45" stroke-width="3.2" fill="none" stroke-linecap="round"/>
<path d="M562.0,209.0 L564.8,208.9 L567.6,208.5 L570.2,207.9 L572.8,206.9 L575.1,205.8 L577.3,204.4 L579.2,202.7 L580.9,200.9 L582.2,199.0 L583.3,197.0 L584.0,194.8 L584.3,192.7 L584.4,190.5" stroke="#306030" stroke-width="5.4" fill="none" stroke-linecap="round"/>
<path d="M562.0,209.0 L564.8,208.9 L567.6,208.5 L570.2,207.9 L572.8,206.9 L575.1,205.8 L577.3,204.4 L579.2,202.7 L580.9,200.9 L582.2,199.0 L583.3,197.0 L584.0,194.8 L584.3,192.7 L584.4,190.5" stroke="#60c060" stroke-width="4.0" fill="none" stroke-linecap="round"/>
<path d="M562.0,209.0 L564.8,208.9 L567.6,208.5 L570.2,207.9 L572.8,206.9 L575.1,205.8 L577.3,204.4 L579.2,202.7 L580.9,200.9 L582.2,199.0 L583.3,197.0 L584.0,194.8 L584.3,192.7 L584.4,190.5" stroke="#afdfaf" stroke-width="1.2" fill="none" stroke-linecap="round" opacity="0.6"/>
<path d="M549.4,196.3 L550.1,198.5 L551.1,200.7 L552.5,202.7 L554.1,204.6 L556.0,206.4 L558.2,207.9 L560.6,209.2 L563.1,210.2 L565.8,211.0 L568.5,211.5 L571.3,211.7 L574.1,211.6 L576.9,211.2 L579.6,210.5 L582.1,209.6 L584.5,208.4 L586.6,207.0 L588.6,205.4 L590.2,203.6 L591.6,201.7 L592.6,199.6 L593.3,197.5 L593.7,195.3 L593.7,193.2" stroke="#306030" stroke-width="5.4" fill="none" stroke-linecap="round"/>
<path d="M549.4,196.3 L550.1,198.5 L551.1,200.7 L552.5,202.7 L554.1,204.6 L556.0,206.4 L558.2,207.9 L560.6,209.2 L563.1,210.2 L565.8,211.0 L568.5,211.5 L571.3,211.7 L574.1,211.6 L576.9,211.2 L579.6,210.5 L582.1,209.6 L584.5,208.4 L586.6,207.0 L588.6,205.4 L590.2,203.6 L591.6,201.7 L592.6,199.6 L593.3,197.5 L593.7,195.3 L593.7,193.2" stroke="#60c060" stroke-width="4.0" fill="none" stroke-linecap="round"/>
<path d="M549.4,196.3 L550.1,198.5 L551.1,200.7 L552.5,202.7 L554.1,204.6 L556.0,206.4 L558.2,207.9 L560.6,209.2 L563.1,210.2 L565.8,211.0 L568.5,211.5 L571.3,211.7 L574.1,211.6 L576.9,211.2 L579.6,210.5 L582.1,209.6 L584.5,208.4 L586.6,207.0 L588.6,205.4 L590.2,203.6 L591.6,201.7 L592.6,199.6 L593.3,197.5 L593.7,195.3 L593.7,193.2" stroke="#afdfaf" stroke-width="1.2" fill="none" stroke-linecap="round" opacity="0.6"/>
<path d="M558.7,198.9 L559.4,201.2 L560.4,203.3 L561.8,205.4 L563.4,207.3 L565.4,209.0 L567.5,210.5 L569.9,211.8 L572.4,212.9 L575.1,213.6 L577.9,214.1 L580.7,214.3 L583.5,214.2 L586.2,213.9 L588.9,213.2 L591.4,212.3 L593.8,211.1 L596.0,209.7 L597.9,208.1 L599.5,206.3 L600.9,204.3 L601.9,202.3 L602.6,200.2 L603.0,198.0 L603.0,195.8" stroke="#306030" stroke-width="5.4" fill="none" stroke-linecap="round"/>
<path d="M558.7,198.9 L559.4,201.2 L560.4,203.3 L561.8,205.4 L563.4,207.3 L565.4,209.0 L567.5,210.5 L569.9,211.8 L572.4,212.9 L575.1,213.6 L577.9,214.1 L580.7,214.3 L583.5,214.2 L586.2,213.9 L588.9,213.2 L591.4,212.3 L593.8,211.1 L596.0,209.7 L597.9,208.1 L599.5,206.3 L600.9,204.3 L601.9,202.3 L602.6,200.2 L603.0,198.0 L603.0,195.8" stroke="#60c060" stroke-width="4.0" fill="none" stroke-linecap="round"/>
<path d="M558.7,198.9 L559.4,201.2 L560.4,203.3 L561.8,205.4 L563.4,207.3 L565.4,209.0 L567.5,210.5 L569.9,211.8 L572.4,212.9 L575.1,213.6 L577.9,214.1 L580.7,214.3 L583.5,214.2 L586.2,213.9 L588.9,213.2 L591.4,212.3 L593.8,211.1 L596.0,209.7 L597.9,208.1 L599.5,206.3 L600.9,204.3 L601.9,202.3 L602.6,200.2 L603.0,198.0 L603.0,195.8" stroke="#afdfaf" stroke-width="1.2" fill="none" stroke-linecap="round" opacity="0.6"/>
<path d="M568.0,201.6 L568.7,203.8 L569.8,206.0 L571.1,208.1 L572.8,210.0 L574.7,211.7 L576.9,213.2 L579.2,214.5 L581.8,215.5 L584.4,216.3 L587.2,216.8 L590.0,217.0" stroke="#306030" stroke-width="5.4" fill="none" stroke-linecap="round"/>
<path d="M568.0,201.6 L568.7,203.8 L569.8,206.0 L571.1,208.1 L572.8,210.0 L574.7,211.7 L576.9,213.2 L579.2,214.5 L581.8,215.5 L584.4,216.3 L587.2,216.8 L590.0,217.0" stroke="#60c060" stroke-width="4.0" fill="none" stroke-linecap="round"/>
<path d="M568.0,201.6 L568.7,203.8 L569.8,206.0 L571.1,208.1 L572.8,210.0 L574.7,211.7 L576.9,213.2 L579.2,214.5 L581.8,215.5 L584.4,216.3 L587.2,216.8 L590.0,217.0" stroke="#afdfaf" stroke-width="1.2" fill="none" stroke-linecap="round" opacity="0.6"/>
<path d="M617.3,123.6 L617.8,123.1 L618.6,122.8 L619.6,122.6 L620.9,122.6 L622.5,122.8 L624.2,123.1 L626.1,123.7 L628.1,124.4 L630.2,125.4 L632.3,126.5 L634.4,127.8 L636.5,129.3 L638.6,130.9 L640.5,132.6 L642.2,134.5 L643.8,136.4 L645.1,138.4 L646.3,140.4 L647.1,142.5 L647.6,144.5 L647.9,146.4 L647.8,148.4 L647.5,150.2 L646.8,151.9 L644.9,156.5 L645.6,154.8 L646.0,153.0 L646.0,151.1 L645.8,149.1 L645.2,147.1 L644.4,145.1 L643.3,143.0 L641.9,141.0 L640.4,139.1 L638.6,137.3 L636.7,135.5 L634.7,133.9 L632.6,132.4 L630.4,131.1 L628.3,130.0 L626.2,129.1 L624.2,128.3 L622.3,127.8 L620.6,127.4 L619.1,127.2 L617.8,127.2 L616.7,127.4 L615.9,127.8 L615.4,128.3Z" fill="#0c8d0c" stroke="#075407" stroke-width="0.8" stroke-linejoin="round"/>
<path d="M606.8,149.6 L607.4,149.2 L608.2,148.8 L609.3,148.7 L610.7,148.7 L612.3,148.9 L614.0,149.3 L616.0,149.9 L618.0,150.7 L620.1,151.7 L622.2,152.9 L624.4,154.2 L626.4,155.7 L628.4,157.4 L630.3,159.1 L632.0,161.0 L633.6,163.0 L634.9,164.9 L635.9,167.0 L636.7,169.0 L637.2,171.0 L637.4,173.0 L637.2,174.9 L636.8,176.7 L636.1,178.4 L634.2,183.0 L634.9,181.3 L635.4,179.5 L635.5,177.6 L635.3,175.7 L634.8,173.6 L634.0,171.6 L633.0,169.6 L631.7,167.6 L630.2,165.6 L628.4,163.8 L626.6,162.0 L624.6,160.4 L622.5,158.9 L620.3,157.5 L618.2,156.4 L616.1,155.4 L614.1,154.6 L612.2,154.0 L610.4,153.6 L608.8,153.4 L607.5,153.3 L606.4,153.5 L605.5,153.8 L604.9,154.3Z" fill="#0c8d0c" stroke="#075407" stroke-width="0.8" stroke-linejoin="round"/>
<path d="M596.4,175.6 L597.0,175.2 L597.9,174.9 L599.1,174.8 L600.5,174.9 L602.1,175.1 L603.9,175.6 L605.8,176.2 L607.9,177.1 L610.0,178.1 L612.1,179.3 L614.3,180.7 L616.3,182.2 L618.3,183.9 L620.2,185.7 L621.8,187.5 L623.3,189.5 L624.6,191.5 L625.5,193.5 L626.3,195.6 L626.7,197.6 L626.8,199.5 L626.6,201.4 L626.1,203.2 L625.3,204.8 L623.4,209.5 L624.2,207.8 L624.7,206.0 L624.9,204.2 L624.8,202.2 L624.4,200.2 L623.7,198.2 L622.7,196.1 L621.4,194.1 L620.0,192.2 L618.3,190.3 L616.4,188.5 L614.5,186.8 L612.4,185.3 L610.3,183.9 L608.1,182.7 L606.0,181.7 L604.0,180.8 L602.0,180.2 L600.2,179.8 L598.6,179.5 L597.2,179.4 L596.0,179.5 L595.1,179.8 L594.5,180.3Z" fill="#0c8d0c" stroke="#075407" stroke-width="0.8" stroke-linejoin="round"/>
<path d="M585.5,202.2 L585.9,201.6 L586.6,201.2 L587.6,201.0 L588.8,200.9 L590.3,201.0 L591.9,201.3 L593.8,201.8 L595.7,202.5 L597.8,203.4 L599.9,204.4 L602.1,205.7 L604.2,207.1 L606.2,208.7 L608.2,210.4 L610.0,212.2 L611.6,214.1 L613.1,216.1 L614.2,218.1 L615.2,220.1 L613.3,224.7 L612.4,222.7 L611.2,220.7 L609.8,218.7 L608.1,216.8 L606.3,215.0 L604.4,213.3 L602.3,211.7 L600.2,210.3 L598.0,209.1 L595.9,208.0 L593.9,207.1 L591.9,206.4 L590.1,205.9 L588.4,205.6 L586.9,205.5 L585.7,205.6 L584.7,205.9 L584.0,206.3 L583.6,206.8Z" fill="#0c8d0c" stroke="#075407" stroke-width="0.8" stroke-linejoin="round"/>
<path d="M629.3,129.7 L627.1,128.9 L625.0,128.1 L623.2,127.2 L621.6,126.3 L620.3,125.3 L619.3,124.4 L618.6,123.5 L618.1,122.7 L618.0,122.0 L618.2,121.3 L614.5,130.6 L614.3,131.2 L614.4,132.0 L614.8,132.8 L615.5,133.7 L616.6,134.6 L617.9,135.6 L619.5,136.5 L621.3,137.4 L623.3,138.2 L625.5,138.9Z" fill="#12c412" stroke="#096209" stroke-width="0.8" stroke-linejoin="round"/>
<path d="M627.4,134.3 L625.2,133.6 L623.1,132.7 L621.3,131.8 L619.8,130.9 L618.4,130.0 L617.4,129.0 L616.7,128.2 L616.3,127.3 L616.2,126.6 L616.4,126.0" stroke="#88e188" stroke-width="1.8" fill="none" stroke-linecap="round" opacity="0.6"/>
<path d="M647.7,149.6 L646.8,151.2 L645.5,152.6 L644.0,153.8 L642.2,154.9 L640.2,155.8 L638.0,156.5 L635.7,157.1 L633.2,157.4 L630.7,157.5 L628.1,157.4 L625.5,157.2 L623.0,156.8 L620.5,156.3 L618.2,155.6 L616.0,154.9 L614.0,154.0 L612.3,153.1 L610.8,152.2 L609.5,151.2 L608.5,150.3 L607.9,149.4 L607.5,148.6 L607.5,147.9 L607.8,147.3 L604.0,156.6 L603.7,157.2 L603.8,157.9 L604.1,158.7 L604.8,159.6 L605.8,160.5 L607.0,161.5 L608.5,162.4 L610.3,163.3 L612.3,164.1 L614.5,164.9 L616.8,165.6 L619.2,166.1 L621.8,166.5 L624.4,166.7 L626.9,166.8 L629.5,166.6 L631.9,166.3 L634.3,165.8 L636.5,165.1 L638.5,164.2 L640.2,163.1 L641.8,161.9 L643.0,160.4 L644.0,158.8Z" fill="#12c412" stroke="#096209" stroke-width="0.8" stroke-linejoin="round"/>
<path d="M645.9,154.2 L644.9,155.8 L643.6,157.2 L642.1,158.5 L640.3,159.6 L638.3,160.5 L636.1,161.2 L633.8,161.7 L631.3,162.0 L628.8,162.1 L626.2,162.1 L623.7,161.8 L621.1,161.5 L618.7,160.9 L616.3,160.3 L614.2,159.5 L612.2,158.7 L610.4,157.8 L608.9,156.8 L607.6,155.9 L606.7,155.0 L606.0,154.1 L605.7,153.3 L605.6,152.6 L605.9,151.9" stroke="#88e188" stroke-width="1.8" fill="none" stroke-linecap="round" opacity="0.6"/>
<path d="M637.0,176.0 L636.0,177.6 L634.6,179.0 L633.0,180.2 L631.2,181.3 L629.2,182.1 L627.0,182.8 L624.6,183.3 L622.1,183.5 L619.6,183.6 L617.0,183.5 L614.4,183.2 L611.9,182.8 L609.5,182.3 L607.2,181.6 L605.0,180.8 L603.1,179.9 L601.4,179.0 L599.9,178.1 L598.7,177.1 L597.8,176.2 L597.2,175.4 L596.9,174.6 L597.0,173.9 L597.3,173.3 L593.6,182.6 L593.2,183.2 L593.2,183.8 L593.5,184.6 L594.1,185.5 L595.0,186.4 L596.1,187.4 L597.6,188.3 L599.3,189.2 L601.3,190.1 L603.4,190.9 L605.7,191.5 L608.1,192.1 L610.7,192.5 L613.2,192.8 L615.8,192.9 L618.4,192.8 L620.8,192.5 L623.2,192.1 L625.4,191.4 L627.5,190.5 L629.3,189.5 L630.9,188.3 L632.2,186.9 L633.2,185.3Z" fill="#12c412" stroke="#096209" stroke-width="0.8" stroke-linejoin="round"/>
<path d="M635.1,180.7 L634.1,182.2 L632.8,183.6 L631.2,184.8 L629.3,185.9 L627.3,186.8 L625.1,187.4 L622.7,187.9 L620.2,188.2 L617.7,188.2 L615.1,188.2 L612.5,187.9 L610.0,187.5 L607.6,186.9 L605.3,186.2 L603.1,185.4 L601.2,184.6 L599.5,183.7 L598.0,182.7 L596.8,181.8 L595.9,180.9 L595.3,180.0 L595.1,179.2 L595.1,178.5 L595.4,177.9" stroke="#88e188" stroke-width="1.8" fill="none" stroke-linecap="round" opacity="0.6"/>
<path d="M626.2,202.5 L625.1,204.0 L623.7,205.4 L622.1,206.6 L620.2,207.6 L618.1,208.4 L615.9,209.0 L613.5,209.4 L611.0,209.7 L608.4,209.7 L605.8,209.6 L603.3,209.3 L600.8,208.8 L598.4,208.2 L596.1,207.5 L594.0,206.7 L592.1,205.8 L590.5,204.9 L589.1,204.0 L587.9,203.1 L587.1,202.1 L586.6,201.3 L586.4,200.5 L586.5,199.9 L582.7,209.1 L582.6,209.8 L582.8,210.6 L583.4,211.4 L584.2,212.3 L585.3,213.3 L586.7,214.2 L588.4,215.1 L590.3,216.0 L592.4,216.8 L594.6,217.5 L597.0,218.1 L599.5,218.5 L602.1,218.9 L604.7,219.0 L607.2,218.9 L609.7,218.7 L612.1,218.3 L614.4,217.7 L616.5,216.8 L618.4,215.8 L620.0,214.7 L621.4,213.3 L622.5,211.8Z" fill="#12c412" stroke="#096209" stroke-width="0.8" stroke-linejoin="round"/>
<path d="M624.4,207.1 L623.3,208.7 L621.9,210.0 L620.2,211.2 L618.4,212.2 L616.3,213.0 L614.0,213.7 L611.6,214.1 L609.1,214.3 L606.6,214.4 L604.0,214.2 L601.4,213.9 L598.9,213.5 L596.5,212.9 L594.2,212.2 L592.1,211.4 L590.2,210.5 L588.6,209.6 L587.2,208.6 L586.1,207.7 L585.2,206.8 L584.7,205.9 L584.5,205.2 L584.6,204.5" stroke="#88e188" stroke-width="1.8" fill="none" stroke-linecap="round" opacity="0.6"/>
<path d="M532.9,115.9 L532.5,115.1 L531.7,114.4 L530.7,113.7 L529.4,113.1 L527.8,112.6 L526.0,112.2 L524.1,112.0 L522.0,111.9 L519.8,111.9 L517.5,112.0 L515.1,112.3 L512.8,112.8 L510.5,113.4 L508.2,114.2 L506.1,115.1 L504.2,116.1 L502.4,117.3 L500.9,118.6 L499.6,119.9 L498.5,121.4 L497.8,122.9 L497.3,124.4 L497.2,126.0 L497.3,127.6" stroke="#152c48" stroke-width="6.3" fill="none" stroke-linecap="round"/>
<path d="M532.9,115.9 L532.5,115.1 L531.7,114.4 L530.7,113.7 L529.4,113.1 L527.8,112.6 L526.0,112.2 L524.1,112.0 L522.0,111.9 L519.8,111.9 L517.5,112.0 L515.1,112.3 L512.8,112.8 L510.5,113.4 L508.2,114.2 L506.1,115.1 L504.2,116.1 L502.4,117.3 L500.9,118.6 L499.6,119.9 L498.5,121.4 L497.8,122.9 L497.3,124.4 L497.2,126.0 L497.3,127.6" stroke="#244a78" stroke-width="5.1" fill="none" stroke-linecap="round"/>
<path d="M533.1,134.5 L532.7,133.8 L531.9,133.1 L530.9,132.4 L529.6,131.8 L528.0,131.3 L526.3,130.9 L524.3,130.7 L522.2,130.5 L520.0,130.5 L517.7,130.7 L515.3,131.0 L513.0,131.5 L510.7,132.1 L508.5,132.9 L506.4,133.8 L504.4,134.8 L502.6,136.0 L501.1,137.2 L499.8,138.6 L498.7,140.1 L498.0,141.6 L497.5,143.1 L497.4,144.7 L497.5,146.2" stroke="#152c48" stroke-width="6.3" fill="none" stroke-linecap="round"/>
<path d="M533.1,134.5 L532.7,133.8 L531.9,133.1 L530.9,132.4 L529.6,131.8 L528.0,131.3 L526.3,130.9 L524.3,130.7 L522.2,130.5 L520.0,130.5 L517.7,130.7 L515.3,131.0 L513.0,131.5 L510.7,132.1 L508.5,132.9 L506.4,133.8 L504.4,134.8 L502.6,136.0 L501.1,137.2 L499.8,138.6 L498.7,140.1 L498.0,141.6 L497.5,143.1 L497.4,144.7 L497.5,146.2" stroke="#244a78" stroke-width="5.1" fill="none" stroke-linecap="round"/>
<path d="M533.4,153.2 L532.9,152.4 L532.1,151.7 L531.1,151.1 L529.8,150.5 L528.3,150.0 L526.5,149.6 L524.5,149.3 L522.4,149.2 L520.2,149.2 L517.9,149.4 L515.6,149.7 L513.2,150.1 L510.9,150.8 L508.7,151.5 L506.6,152.4 L504.6,153.5 L502.9,154.6 L501.3,155.9 L500.0,157.3 L499.0,158.7 L498.2,160.2 L497.8,161.8 L497.6,163.3" stroke="#152c48" stroke-width="6.3" fill="none" stroke-linecap="round"/>
<path d="M533.4,153.2 L532.9,152.4 L532.1,151.7 L531.1,151.1 L529.8,150.5 L528.3,150.0 L526.5,149.6 L524.5,149.3 L522.4,149.2 L520.2,149.2 L517.9,149.4 L515.6,149.7 L513.2,150.1 L510.9,150.8 L508.7,151.5 L506.6,152.4 L504.6,153.5 L502.9,154.6 L501.3,155.9 L500.0,157.3 L499.0,158.7 L498.2,160.2 L497.8,161.8 L497.6,163.3" stroke="#244a78" stroke-width="5.1" fill="none" stroke-linecap="round"/>
<path d="M533.6,171.9 L533.1,171.1 L532.4,170.4 L531.3,169.7 L530.0,169.1 L528.5,168.6 L526.7,168.2 L524.8,168.0 L522.7,167.9 L520.4,167.9 L518.1,168.0 L515.8,168.3 L513.4,168.8 L511.1,169.4 L508.9,170.2 L506.8,171.1 L504.8,172.1 L503.1,173.3 L501.5,174.6 L500.2,175.9 L499.2,177.4 L498.4,178.9 L498.0,180.4 L497.8,182.0" stroke="#152c48" stroke-width="6.3" fill="none" stroke-linecap="round"/>
<path d="M533.6,171.9 L533.1,171.1 L532.4,170.4 L531.3,169.7 L530.0,169.1 L528.5,168.6 L526.7,168.2 L524.8,168.0 L522.7,167.9 L520.4,167.9 L518.1,168.0 L515.8,168.3 L513.4,168.8 L511.1,169.4 L508.9,170.2 L506.8,171.1 L504.8,172.1 L503.1,173.3 L501.5,174.6 L500.2,175.9 L499.2,177.4 L498.4,178.9 L498.0,180.4 L497.8,182.0" stroke="#244a78" stroke-width="5.1" fill="none" stroke-linecap="round"/>
<path d="M533.8,190.5 L533.3,189.8 L532.6,189.1 L531.6,188.4 L530.2,187.8 L528.7,187.3 L526.9,186.9 L525.0,186.7 L522.9,186.5 L520.6,186.5 L518.3,186.7 L516.0,187.0" stroke="#152c48" stroke-width="6.3" fill="none" stroke-linecap="round"/>
<path d="M533.8,190.5 L533.3,189.8 L532.6,189.1 L531.6,188.4 L530.2,187.8 L528.7,187.3 L526.9,186.9 L525.0,186.7 L522.9,186.5 L520.6,186.5 L518.3,186.7 L516.0,187.0" stroke="#244a78" stroke-width="5.1" fill="none" stroke-linecap="round"/>
<path d="M515.0,121.0 L517.4,121.3 L519.7,121.5 L521.9,121.5 L524.0,121.3 L526.0,121.1 L527.8,120.7 L529.3,120.2 L530.6,119.6 L531.7,118.9 L532.4,118.2 L532.9,117.5 L533.1,116.7 L532.9,115.9" stroke="#193454" stroke-width="6.9" fill="none" stroke-linecap="round"/>
<path d="M515.0,121.0 L517.4,121.3 L519.7,121.5 L521.9,121.5 L524.0,121.3 L526.0,121.1 L527.8,120.7 L529.3,120.2 L530.6,119.6 L531.7,118.9 L532.4,118.2 L532.9,117.5 L533.1,116.7 L532.9,115.9" stroke="#3268a8" stroke-width="5.5" fill="none" stroke-linecap="round"/>
<path d="M515.0,121.0 L517.4,121.3 L519.7,121.5 L521.9,121.5 L524.0,121.3 L526.0,121.1 L527.8,120.7 L529.3,120.2 L530.6,119.6 L531.7,118.9 L532.4,118.2 L532.9,117.5 L533.1,116.7 L532.9,115.9" stroke="#98b3d3" stroke-width="1.6" fill="none" stroke-linecap="round" opacity="0.6"/>
<path d="M497.3,127.6 L497.8,129.1 L498.6,130.6 L499.6,132.1 L500.9,133.4 L502.5,134.7 L504.2,135.9 L506.2,136.9 L508.3,137.8 L510.6,138.6 L512.9,139.2 L515.2,139.7 L517.6,140.0 L519.9,140.1 L522.1,140.1 L524.2,140.0 L526.2,139.8 L528.0,139.4 L529.5,138.9 L530.8,138.3 L531.9,137.6 L532.7,136.9 L533.1,136.1 L533.3,135.3 L533.1,134.5" stroke="#193454" stroke-width="6.9" fill="none" stroke-linecap="round"/>
<path d="M497.3,127.6 L497.8,129.1 L498.6,130.6 L499.6,132.1 L500.9,133.4 L502.5,134.7 L504.2,135.9 L506.2,136.9 L508.3,137.8 L510.6,138.6 L512.9,139.2 L515.2,139.7 L517.6,140.0 L519.9,140.1 L522.1,140.1 L524.2,140.0 L526.2,139.8 L528.0,139.4 L529.5,138.9 L530.8,138.3 L531.9,137.6 L532.7,136.9 L533.1,136.1 L533.3,135.3 L533.1,134.5" stroke="#3268a8" stroke-width="5.5" fill="none" stroke-linecap="round"/>
<path d="M497.3,127.6 L497.8,129.1 L498.6,130.6 L499.6,132.1 L500.9,133.4 L502.5,134.7 L504.2,135.9 L506.2,136.9 L508.3,137.8 L510.6,138.6 L512.9,139.2 L515.2,139.7 L517.6,140.0 L519.9,140.1 L522.1,140.1 L524.2,140.0 L526.2,139.8 L528.0,139.4 L529.5,138.9 L530.8,138.3 L531.9,137.6 L532.7,136.9 L533.1,136.1 L533.3,135.3 L533.1,134.5" stroke="#98b3d3" stroke-width="1.6" fill="none" stroke-linecap="round" opacity="0.6"/>
<path d="M497.5,146.2 L498.0,147.8 L498.8,149.3 L499.8,150.7 L501.1,152.1 L502.7,153.4 L504.5,154.5 L506.4,155.6 L508.5,156.5 L510.8,157.2 L513.1,157.9 L515.4,158.3 L517.8,158.6 L520.1,158.8 L522.3,158.8 L524.5,158.7 L526.4,158.4 L528.2,158.0 L529.8,157.5 L531.1,156.9 L532.1,156.3 L532.9,155.6 L533.3,154.8 L533.5,154.0 L533.4,153.2" stroke="#193454" stroke-width="6.9" fill="none" stroke-linecap="round"/>
<path d="M497.5,146.2 L498.0,147.8 L498.8,149.3 L499.8,150.7 L501.1,152.1 L502.7,153.4 L504.5,154.5 L506.4,155.6 L508.5,156.5 L510.8,157.2 L513.1,157.9 L515.4,158.3 L517.8,158.6 L520.1,158.8 L522.3,158.8 L524.5,158.7 L526.4,158.4 L528.2,158.0 L529.8,157.5 L531.1,156.9 L532.1,156.3 L532.9,155.6 L533.3,154.8 L533.5,154.0 L533.4,153.2" stroke="#3268a8" stroke-width="5.5" fill="none" stroke-linecap="round"/>
<path d="M497.5,146.2 L498.0,147.8 L498.8,149.3 L499.8,150.7 L501.1,152.1 L502.7,153.4 L504.5,154.5 L506.4,155.6 L508.5,156.5 L510.8,157.2 L513.1,157.9 L515.4,158.3 L517.8,158.6 L520.1,158.8 L522.3,158.8 L524.5,158.7 L526.4,158.4 L528.2,158.0 L529.8,157.5 L531.1,156.9 L532.1,156.3 L532.9,155.6 L533.3,154.8 L533.5,154.0 L533.4,153.2" stroke="#98b3d3" stroke-width="1.6" fill="none" stroke-linecap="round" opacity="0.6"/>
<path d="M497.6,163.3 L497.8,164.9 L498.2,166.4 L499.0,167.9 L500.0,169.4 L501.4,170.8 L502.9,172.0 L504.7,173.2 L506.6,174.2 L508.8,175.1 L511.0,175.9 L513.3,176.5 L515.7,177.0 L518.0,177.3 L520.3,177.5 L522.6,177.5 L524.7,177.3 L526.6,177.1 L528.4,176.7 L530.0,176.2 L531.3,175.6 L532.3,174.9 L533.1,174.2 L533.6,173.5 L533.7,172.7 L533.6,171.9" stroke="#193454" stroke-width="6.9" fill="none" stroke-linecap="round"/>
<path d="M497.6,163.3 L497.8,164.9 L498.2,166.4 L499.0,167.9 L500.0,169.4 L501.4,170.8 L502.9,172.0 L504.7,173.2 L506.6,174.2 L508.8,175.1 L511.0,175.9 L513.3,176.5 L515.7,177.0 L518.0,177.3 L520.3,177.5 L522.6,177.5 L524.7,177.3 L526.6,177.1 L528.4,176.7 L530.0,176.2 L531.3,175.6 L532.3,174.9 L533.1,174.2 L533.6,173.5 L533.7,172.7 L533.6,171.9" stroke="#3268a8" stroke-width="5.5" fill="none" stroke-linecap="round"/>
<path d="M497.6,163.3 L497.8,164.9 L498.2,166.4 L499.0,167.9 L500.0,169.4 L501.4,170.8 L502.9,172.0 L504.7,173.2 L506.6,174.2 L508.8,175.1 L511.0,175.9 L513.3,176.5 L515.7,177.0 L518.0,177.3 L520.3,177.5 L522.6,177.5 L524.7,177.3 L526.6,177.1 L528.4,176.7 L530.0,176.2 L531.3,175.6 L532.3,174.9 L533.1,174.2 L533.6,173.5 L533.7,172.7 L533.6,171.9" stroke="#98b3d3" stroke-width="1.6" fill="none" stroke-linecap="round" opacity="0.6"/>
<path d="M497.8,182.0 L498.0,183.6 L498.5,185.1 L499.2,186.6 L500.3,188.1 L501.6,189.4 L503.1,190.7 L504.9,191.9 L506.9,192.9 L509.0,193.8 L511.2,194.6 L513.5,195.2 L515.9,195.7 L518.2,196.0 L520.6,196.1 L522.8,196.1 L524.9,196.0 L526.9,195.8 L528.6,195.4 L530.2,194.9 L531.5,194.3 L532.6,193.6 L533.3,192.9 L533.8,192.1 L533.9,191.3 L533.8,190.5" stroke="#193454" stroke-width="6.9" fill="none" stroke-linecap="round"/>
<path d="M497.8,182.0 L498.0,183.6 L498.5,185.1 L499.2,186.6 L500.3,188.1 L501.6,189.4 L503.1,190.7 L504.9,191.9 L506.9,192.9 L509.0,193.8 L511.2,194.6 L513.5,195.2 L515.9,195.7 L518.2,196.0 L520.6,196.1 L522.8,196.1 L524.9,196.0 L526.9,195.8 L528.6,195.4 L530.2,194.9 L531.5,194.3 L532.6,193.6 L533.3,192.9 L533.8,192.1 L533.9,191.3 L533.8,190.5" stroke="#3268a8" stroke-width="5.5" fill="none" stroke-linecap="round"/>
<path d="M497.8,182.0 L498.0,183.6 L498.5,185.1 L499.2,186.6 L500.3,188.1 L501.6,189.4 L503.1,190.7 L504.9,191.9 L506.9,192.9 L509.0,193.8 L511.2,194.6 L513.5,195.2 L515.9,195.7 L518.2,196.0 L520.6,196.1 L522.8,196.1 L524.9,196.0 L526.9,195.8 L528.6,195.4 L530.2,194.9 L531.5,194.3 L532.6,193.6 L533.3,192.9 L533.8,192.1 L533.9,191.3 L533.8,190.5" stroke="#98b3d3" stroke-width="1.6" fill="none" stroke-linecap="round" opacity="0.6"/>
<path d="M542.4,204.6 L542.2,204.0 L541.7,203.4 L541.0,202.9 L540.0,202.4 L538.8,202.1 L537.4,201.8 L535.9,201.7 L534.2,201.7 L532.4,201.7 L530.6,202.0 L528.7,202.3 L526.8,202.8 L524.9,203.5 L523.1,204.2 L521.4,205.1 L519.9,206.1 L518.5,207.3 L517.3,208.5 L516.4,209.8 L515.6,211.1 L515.2,212.6 L514.9,214.0 L515.0,215.5 L515.3,217.0" stroke="#18304b" stroke-width="5.2" fill="none" stroke-linecap="round"/>
<path d="M542.4,204.6 L542.2,204.0 L541.7,203.4 L541.0,202.9 L540.0,202.4 L538.8,202.1 L537.4,201.8 L535.9,201.7 L534.2,201.7 L532.4,201.7 L530.6,202.0 L528.7,202.3 L526.8,202.8 L524.9,203.5 L523.1,204.2 L521.4,205.1 L519.9,206.1 L518.5,207.3 L517.3,208.5 L516.4,209.8 L515.6,211.1 L515.2,212.6 L514.9,214.0 L515.0,215.5 L515.3,217.0" stroke="#29507e" stroke-width="4.0" fill="none" stroke-linecap="round"/>
<path d="M551.7,225.2 L551.5,224.6 L551.0,224.1 L550.3,223.6 L549.3,223.1 L548.1,222.8 L546.8,222.5 L545.2,222.3 L543.5,222.3 L541.8,222.4 L539.9,222.6 L538.0,223.0 L536.1,223.5 L534.2,224.1 L532.5,224.9 L530.8,225.8 L529.2,226.8 L527.9,227.9 L526.7,229.1 L525.7,230.4 L525.0,231.8 L524.5,233.2 L524.3,234.7 L524.3,236.2 L524.7,237.6" stroke="#18304b" stroke-width="5.2" fill="none" stroke-linecap="round"/>
<path d="M551.7,225.2 L551.5,224.6 L551.0,224.1 L550.3,223.6 L549.3,223.1 L548.1,222.8 L546.8,222.5 L545.2,222.3 L543.5,222.3 L541.8,222.4 L539.9,222.6 L538.0,223.0 L536.1,223.5 L534.2,224.1 L532.5,224.9 L530.8,225.8 L529.2,226.8 L527.9,227.9 L526.7,229.1 L525.7,230.4 L525.0,231.8 L524.5,233.2 L524.3,234.7 L524.3,236.2 L524.7,237.6" stroke="#29507e" stroke-width="4.0" fill="none" stroke-linecap="round"/>
<path d="M561.1,245.9 L560.8,245.3 L560.4,244.7 L559.6,244.2 L558.7,243.8 L557.5,243.4 L556.1,243.2 L554.6,243.0 L552.9,243.0 L551.1,243.1 L549.2,243.3 L547.3,243.7 L545.4,244.2 L543.6,244.8 L541.8,245.6 L540.1,246.5 L538.6,247.5 L537.2,248.6 L536.0,249.8 L535.0,251.1 L534.3,252.5 L533.8,253.9 L533.6,255.4 L533.7,256.8 L534.0,258.3" stroke="#18304b" stroke-width="5.2" fill="none" stroke-linecap="round"/>
<path d="M561.1,245.9 L560.8,245.3 L560.4,244.7 L559.6,244.2 L558.7,243.8 L557.5,243.4 L556.1,243.2 L554.6,243.0 L552.9,243.0 L551.1,243.1 L549.2,243.3 L547.3,243.7 L545.4,244.2 L543.6,244.8 L541.8,245.6 L540.1,246.5 L538.6,247.5 L537.2,248.6 L536.0,249.8 L535.0,251.1 L534.3,252.5 L533.8,253.9 L533.6,255.4 L533.7,256.8 L534.0,258.3" stroke="#29507e" stroke-width="4.0" fill="none" stroke-linecap="round"/>
<path d="M524.0,208.0 L526.3,208.4 L528.5,208.6 L530.7,208.7 L532.8,208.7 L534.7,208.5 L536.5,208.2 L538.1,207.9 L539.4,207.4 L540.5,206.9 L541.4,206.4 L542.0,205.8 L542.3,205.2 L542.4,204.6" stroke="#1d3858" stroke-width="6.4" fill="none" stroke-linecap="round"/>
<path d="M524.0,208.0 L526.3,208.4 L528.5,208.6 L530.7,208.7 L532.8,208.7 L534.7,208.5 L536.5,208.2 L538.1,207.9 L539.4,207.4 L540.5,206.9 L541.4,206.4 L542.0,205.8 L542.3,205.2 L542.4,204.6" stroke="#3a70b0" stroke-width="5.0" fill="none" stroke-linecap="round"/>
<path d="M524.0,208.0 L526.3,208.4 L528.5,208.6 L530.7,208.7 L532.8,208.7 L534.7,208.5 L536.5,208.2 L538.1,207.9 L539.4,207.4 L540.5,206.9 L541.4,206.4 L542.0,205.8 L542.3,205.2 L542.4,204.6" stroke="#9cb7d7" stroke-width="1.5" fill="none" stroke-linecap="round" opacity="0.6"/>
<path d="M515.3,217.0 L515.9,218.4 L516.8,219.9 L517.9,221.2 L519.3,222.5 L520.9,223.7 L522.6,224.9 L524.6,225.9 L526.6,226.8 L528.8,227.5 L531.1,228.2 L533.3,228.7 L535.6,229.0 L537.9,229.3 L540.0,229.3 L542.1,229.3 L544.0,229.2 L545.8,228.9 L547.4,228.6 L548.7,228.1 L549.9,227.6 L550.7,227.0 L551.3,226.4 L551.7,225.8 L551.7,225.2" stroke="#1d3858" stroke-width="6.4" fill="none" stroke-linecap="round"/>
<path d="M515.3,217.0 L515.9,218.4 L516.8,219.9 L517.9,221.2 L519.3,222.5 L520.9,223.7 L522.6,224.9 L524.6,225.9 L526.6,226.8 L528.8,227.5 L531.1,228.2 L533.3,228.7 L535.6,229.0 L537.9,229.3 L540.0,229.3 L542.1,229.3 L544.0,229.2 L545.8,228.9 L547.4,228.6 L548.7,228.1 L549.9,227.6 L550.7,227.0 L551.3,226.4 L551.7,225.8 L551.7,225.2" stroke="#3a70b0" stroke-width="5.0" fill="none" stroke-linecap="round"/>
<path d="M515.3,217.0 L515.9,218.4 L516.8,219.9 L517.9,221.2 L519.3,222.5 L520.9,223.7 L522.6,224.9 L524.6,225.9 L526.6,226.8 L528.8,227.5 L531.1,228.2 L533.3,228.7 L535.6,229.0 L537.9,229.3 L540.0,229.3 L542.1,229.3 L544.0,229.2 L545.8,228.9 L547.4,228.6 L548.7,228.1 L549.9,227.6 L550.7,227.0 L551.3,226.4 L551.7,225.8 L551.7,225.2" stroke="#9cb7d7" stroke-width="1.5" fill="none" stroke-linecap="round" opacity="0.6"/>
<path d="M524.7,237.6 L525.3,239.1 L526.1,240.5 L527.3,241.9 L528.6,243.2 L530.2,244.4 L532.0,245.5 L533.9,246.5 L536.0,247.4 L538.1,248.2 L540.4,248.8 L542.7,249.3 L544.9,249.7 L547.2,249.9 L549.4,250.0 L551.4,250.0 L553.4,249.8 L555.1,249.6 L556.7,249.2 L558.1,248.8 L559.2,248.3 L560.1,247.7 L560.7,247.1 L561.0,246.5 L561.1,245.9" stroke="#1d3858" stroke-width="6.4" fill="none" stroke-linecap="round"/>
<path d="M524.7,237.6 L525.3,239.1 L526.1,240.5 L527.3,241.9 L528.6,243.2 L530.2,244.4 L532.0,245.5 L533.9,246.5 L536.0,247.4 L538.1,248.2 L540.4,248.8 L542.7,249.3 L544.9,249.7 L547.2,249.9 L549.4,250.0 L551.4,250.0 L553.4,249.8 L555.1,249.6 L556.7,249.2 L558.1,248.8 L559.2,248.3 L560.1,247.7 L560.7,247.1 L561.0,246.5 L561.1,245.9" stroke="#3a70b0" stroke-width="5.0" fill="none" stroke-linecap="round"/>
<path d="M524.7,237.6 L525.3,239.1 L526.1,240.5 L527.3,241.9 L528.6,243.2 L530.2,244.4 L532.0,245.5 L533.9,246.5 L536.0,247.4 L538.1,248.2 L540.4,248.8 L542.7,249.3 L544.9,249.7 L547.2,249.9 L549.4,250.0 L551.4,250.0 L553.4,249.8 L555.1,249.6 L556.7,249.2 L558.1,248.8 L559.2,248.3 L560.1,247.7 L560.7,247.1 L561.0,246.5 L561.1,245.9" stroke="#9cb7d7" stroke-width="1.5" fill="none" stroke-linecap="round" opacity="0.6"/>
<path d="M534.0,258.3 L534.6,259.8 L535.5,261.2 L536.6,262.6 L537.9,263.9 L539.5,265.1 L541.3,266.2 L543.2,267.2 L545.3,268.1 L547.5,268.9 L549.7,269.5 L552.0,270.0" stroke="#1d3858" stroke-width="6.4" fill="none" stroke-linecap="round"/>
<path d="M534.0,258.3 L534.6,259.8 L535.5,261.2 L536.6,262.6 L537.9,263.9 L539.5,265.1 L541.3,266.2 L543.2,267.2 L545.3,268.1 L547.5,268.9 L549.7,269.5 L552.0,270.0" stroke="#3a70b0" stroke-width="5.0" fill="none" stroke-linecap="round"/>
<path d="M534.0,258.3 L534.6,259.8 L535.5,261.2 L536.6,262.6 L537.9,263.9 L539.5,265.1 L541.3,266.2 L543.2,267.2 L545.3,268.1 L547.5,268.9 L549.7,269.5 L552.0,270.0" stroke="#9cb7d7" stroke-width="1.5" fill="none" stroke-linecap="round" opacity="0.6"/>
<path d="M486.3,224.0 L485.5,223.6 L484.8,223.0 L484.1,222.1 L483.6,220.9 L483.1,219.5 L482.7,217.8 L482.5,215.9 L482.5,213.8 L482.6,211.6 L482.9,209.3 L483.3,207.0 L484.0,204.6 L484.9,202.3 L485.9,200.0 L487.1,197.8 L488.5,195.8 L490.0,193.9 L491.7,192.3 L493.5,190.9 L495.3,189.7 L497.3,188.9 L499.3,188.3 L501.4,188.0 L503.5,188.1 L511.5,188.1 L509.4,188.0 L507.3,188.3 L505.3,188.9 L503.3,189.7 L501.5,190.9 L499.7,192.3 L498.0,193.9 L496.5,195.8 L495.1,197.8 L493.9,200.0 L492.9,202.3 L492.0,204.6 L491.3,207.0 L490.9,209.3 L490.6,211.6 L490.5,213.8 L490.5,215.9 L490.7,217.8 L491.1,219.5 L491.6,220.9 L492.1,222.1 L492.8,223.0 L493.5,223.6 L494.3,224.0Z" fill="#9f9f9f" stroke="#5f5f5f" stroke-width="0.8" stroke-linejoin="round"/>
<path d="M517.0,223.9 L516.2,223.5 L515.5,222.8 L514.9,221.8 L514.3,220.5 L513.9,219.0 L513.6,217.3 L513.4,215.3 L513.4,213.2 L513.6,211.0 L513.9,208.7 L514.4,206.4 L515.1,204.0 L516.0,201.7 L517.1,199.4 L518.4,197.3 L519.8,195.3 L521.4,193.5 L523.1,191.9 L524.9,190.5 L526.8,189.5 L528.8,188.7 L530.8,188.2 L532.9,188.0 L534.9,188.1 L542.9,188.1 L540.9,188.0 L538.8,188.2 L536.8,188.7 L534.8,189.5 L532.9,190.5 L531.1,191.9 L529.4,193.5 L527.8,195.3 L526.4,197.3 L525.1,199.4 L524.0,201.7 L523.1,204.0 L522.4,206.4 L521.9,208.7 L521.6,211.0 L521.4,213.2 L521.4,215.3 L521.6,217.3 L521.9,219.0 L522.3,220.5 L522.9,221.8 L523.5,222.8 L524.2,223.5 L525.0,223.9Z" fill="#9f9f9f" stroke="#5f5f5f" stroke-width="0.8" stroke-linejoin="round"/>
<path d="M483.9,195.8 L485.3,197.9 L486.5,200.1 L487.5,202.3 L488.4,204.7 L489.0,207.0 L489.5,209.4 L489.8,211.7 L489.9,213.9 L489.8,215.9 L489.6,217.8 L489.3,219.5 L488.8,220.9 L488.2,222.1 L487.5,223.0 L486.8,223.7 L486.1,224.0 L485.3,224.0 L495.3,224.0 L496.1,224.0 L496.8,223.7 L497.5,223.0 L498.2,222.1 L498.8,220.9 L499.3,219.5 L499.6,217.8 L499.8,215.9 L499.9,213.9 L499.8,211.7 L499.5,209.4 L499.0,207.0 L498.4,204.7 L497.5,202.3 L496.5,200.1 L495.3,197.9 L493.9,195.8Z" fill="#dedede" stroke="#6f6f6f" stroke-width="0.8" stroke-linejoin="round"/>
<path d="M488.9,195.8 L490.3,197.9 L491.5,200.1 L492.5,202.3 L493.4,204.7 L494.0,207.0 L494.5,209.4 L494.8,211.7 L494.9,213.9 L494.8,215.9 L494.6,217.8 L494.3,219.5 L493.8,220.9 L493.2,222.1 L492.5,223.0 L491.8,223.7 L491.1,224.0 L490.3,224.0" stroke="#eeeeee" stroke-width="1.8" fill="none" stroke-linecap="round" opacity="0.6"/>
<path d="M502.5,188.1 L504.5,188.4 L506.5,189.1 L508.5,190.0 L510.3,191.3 L512.1,192.7 L513.7,194.5 L515.2,196.4 L516.5,198.5 L517.7,200.7 L518.7,203.0 L519.5,205.3 L520.1,207.7 L520.5,210.0 L520.7,212.3 L520.8,214.5 L520.7,216.5 L520.4,218.3 L520.1,219.9 L519.5,221.3 L518.9,222.4 L518.3,223.2 L517.5,223.8 L516.8,224.0 L516.0,223.9 L526.0,223.9 L526.8,224.0 L527.5,223.8 L528.3,223.2 L528.9,222.4 L529.5,221.3 L530.1,219.9 L530.4,218.3 L530.7,216.5 L530.8,214.5 L530.7,212.3 L530.5,210.0 L530.1,207.7 L529.5,205.3 L528.7,203.0 L527.7,200.7 L526.5,198.5 L525.2,196.4 L523.7,194.5 L522.1,192.7 L520.3,191.3 L518.5,190.0 L516.5,189.1 L514.5,188.4 L512.5,188.1Z" fill="#dedede" stroke="#6f6f6f" stroke-width="0.8" stroke-linejoin="round"/>
<path d="M507.5,188.1 L509.5,188.4 L511.5,189.1 L513.5,190.0 L515.3,191.3 L517.1,192.7 L518.7,194.5 L520.2,196.4 L521.5,198.5 L522.7,200.7 L523.7,203.0 L524.5,205.3 L525.1,207.7 L525.5,210.0 L525.7,212.3 L525.8,214.5 L525.7,216.5 L525.4,218.3 L525.1,219.9 L524.5,221.3 L523.9,222.4 L523.3,223.2 L522.5,223.8 L521.8,224.0 L521.0,223.9" stroke="#eeeeee" stroke-width="1.8" fill="none" stroke-linecap="round" opacity="0.6"/>
<path d="M533.9,188.1 L536.0,188.6 L538.0,189.3 L539.9,190.3 L541.7,191.6 L543.5,193.2 L545.1,195.0 L546.5,196.9 L547.8,199.0 L548.9,201.3 L549.8,203.6 L550.6,206.0 L551.1,208.3 L551.5,210.7 L551.7,212.9 L551.7,215.0 L551.6,217.0 L561.6,217.0 L561.7,215.0 L561.7,212.9 L561.5,210.7 L561.1,208.3 L560.6,206.0 L559.8,203.6 L558.9,201.3 L557.8,199.0 L556.5,196.9 L555.1,195.0 L553.5,193.2 L551.7,191.6 L549.9,190.3 L548.0,189.3 L546.0,188.6 L543.9,188.1Z" fill="#dedede" stroke="#6f6f6f" stroke-width="0.8" stroke-linejoin="round"/>
<path d="M538.9,188.1 L541.0,188.6 L543.0,189.3 L544.9,190.3 L546.7,191.6 L548.5,193.2 L550.1,195.0 L551.5,196.9 L552.8,199.0 L553.9,201.3 L554.8,203.6 L555.6,206.0 L556.1,208.3 L556.5,210.7 L556.7,212.9 L556.7,215.0 L556.6,217.0" stroke="#eeeeee" stroke-width="1.8" fill="none" stroke-linecap="round" opacity="0.6"/>
<path d="M482.4,257.1 L481.5,256.8 L480.7,256.2 L479.9,255.3 L479.3,254.0 L478.8,252.5 L478.5,250.8 L478.3,248.9 L478.4,246.8 L478.6,244.6 L479.0,242.2 L479.6,239.9 L480.4,237.5 L481.4,235.1 L482.6,232.8 L484.0,230.6 L485.5,228.6 L487.2,226.8 L489.0,225.2 L490.9,223.8 L492.8,222.8 L494.9,222.0 L496.9,221.5 L499.0,221.4 L501.0,221.5 L508.9,222.7 L506.9,222.6 L504.8,222.7 L502.8,223.2 L500.8,224.0 L498.8,225.0 L496.9,226.4 L495.1,228.0 L493.4,229.8 L491.9,231.9 L490.5,234.0 L489.3,236.3 L488.3,238.7 L487.5,241.1 L486.9,243.4 L486.5,245.8 L486.3,248.0 L486.2,250.1 L486.4,252.0 L486.7,253.8 L487.2,255.2 L487.8,256.5 L488.6,257.4 L489.4,258.0 L490.4,258.3Z" fill="#a76e22" stroke="#644214" stroke-width="0.8" stroke-linejoin="round"/>
<path d="M507.5,261.0 L506.6,260.6 L505.8,259.9 L505.0,259.0 L504.4,257.7 L504.0,256.2 L503.7,254.5 L503.5,252.5 L503.6,250.4 L503.8,248.1 L504.2,245.8 L504.9,243.4 L505.7,241.0 L506.8,238.7 L508.0,236.4 L509.4,234.3 L510.9,232.3 L512.6,230.4 L514.4,228.9 L516.3,227.5 L518.3,226.5 L520.3,225.8 L522.3,225.3 L524.4,225.2 L526.4,225.4 L534.3,226.6 L532.3,226.4 L530.2,226.5 L528.2,227.0 L526.2,227.7 L524.2,228.8 L522.3,230.1 L520.5,231.7 L518.8,233.5 L517.3,235.5 L515.9,237.6 L514.7,239.9 L513.6,242.2 L512.8,244.6 L512.2,247.0 L511.7,249.4 L511.5,251.6 L511.4,253.7 L511.6,255.7 L511.9,257.4 L512.3,258.9 L513.0,260.2 L513.7,261.1 L514.5,261.8 L515.4,262.2Z" fill="#a76e22" stroke="#644214" stroke-width="0.8" stroke-linejoin="round"/>
<path d="M532.6,264.8 L531.7,264.4 L530.9,263.7 L530.2,262.7 L529.6,261.4 L529.1,259.9 L528.8,258.1 L528.7,256.1 L528.8,254.0 L529.0,251.7 L529.5,249.4 L530.2,247.0 L531.0,244.6 L532.1,242.3 L533.3,240.0 L534.7,237.9 L536.3,235.9 L538.0,234.1 L539.8,232.6 L541.7,231.3 L543.7,230.2 L545.7,229.5 L547.8,229.1 L549.8,229.1 L551.8,229.3 L559.7,230.5 L557.7,230.3 L555.7,230.3 L553.6,230.7 L551.6,231.5 L549.6,232.5 L547.7,233.8 L545.9,235.3 L544.2,237.1 L542.6,239.1 L541.2,241.2 L540.0,243.5 L538.9,245.8 L538.1,248.2 L537.4,250.6 L536.9,252.9 L536.7,255.2 L536.6,257.3 L536.7,259.3 L537.0,261.1 L537.5,262.6 L538.1,263.9 L538.8,264.9 L539.6,265.6 L540.5,266.0Z" fill="#a76e22" stroke="#644214" stroke-width="0.8" stroke-linejoin="round"/>
<path d="M557.7,268.6 L556.8,268.2 L556.0,267.4 L555.3,266.4 L554.7,265.1 L554.3,263.5 L554.0,261.7 L553.9,259.7 L554.0,257.6 L554.3,255.3 L554.8,253.0 L555.4,250.6 L556.3,248.2 L557.4,245.8 L558.7,243.6 L560.1,241.5 L561.7,239.5 L563.4,237.8 L565.2,236.2 L567.1,235.0 L569.1,234.0 L571.1,233.3 L573.2,233.0 L575.2,232.9 L577.2,233.2 L585.2,234.4 L583.1,234.1 L581.1,234.2 L579.1,234.5 L577.0,235.2 L575.0,236.2 L573.1,237.4 L571.3,239.0 L569.6,240.7 L568.0,242.7 L566.6,244.8 L565.3,247.0 L564.2,249.4 L563.4,251.8 L562.7,254.2 L562.2,256.5 L561.9,258.8 L561.8,260.9 L561.9,262.9 L562.2,264.7 L562.6,266.3 L563.2,267.6 L563.9,268.6 L564.7,269.4 L565.6,269.8Z" fill="#a76e22" stroke="#644214" stroke-width="0.8" stroke-linejoin="round"/>
<path d="M582.8,272.4 L581.9,272.0 L581.1,271.2 L580.4,270.1 L579.8,268.8 L579.4,267.2 L579.2,265.3 L579.1,263.3 L579.2,261.2 L579.5,258.9 L580.0,256.5 L580.7,254.1 L581.6,251.8 L582.7,249.4 L584.0,247.2 L585.5,245.1 L587.0,243.1 L588.8,241.4 L590.6,239.9 L592.5,238.7 L594.5,237.7 L596.6,237.1 L598.6,236.8 L600.7,236.8 L602.7,237.1 L610.6,238.3 L608.6,238.0 L606.5,238.0 L604.5,238.3 L602.4,239.0 L600.5,239.9 L598.5,241.1 L596.7,242.6 L595.0,244.4 L593.4,246.3 L591.9,248.4 L590.6,250.6 L589.5,253.0 L588.6,255.3 L587.9,257.7 L587.4,260.1 L587.1,262.4 L587.0,264.5 L587.1,266.5 L587.3,268.4 L587.7,270.0 L588.3,271.3 L589.0,272.4 L589.8,273.2 L590.7,273.6Z" fill="#a76e22" stroke="#644214" stroke-width="0.8" stroke-linejoin="round"/>
<path d="M489.3,239.0 L489.4,241.5 L489.2,243.9 L488.9,246.3 L488.5,248.5 L487.9,250.5 L487.1,252.2 L486.3,253.8 L485.4,255.0 L484.4,256.0 L483.4,256.6 L482.4,257.0 L481.5,257.0 L491.3,258.5 L492.3,258.5 L493.3,258.2 L494.3,257.5 L495.3,256.5 L496.2,255.3 L497.0,253.8 L497.8,252.0 L498.4,250.0 L498.8,247.8 L499.1,245.4 L499.3,243.0 L499.2,240.5Z" fill="#e89a30" stroke="#744d18" stroke-width="0.8" stroke-linejoin="round"/>
<path d="M494.3,239.7 L494.3,242.2 L494.2,244.7 L493.9,247.0 L493.4,249.2 L492.8,251.2 L492.1,253.0 L491.2,254.5 L490.3,255.8 L489.4,256.7 L488.4,257.4 L487.4,257.7 L486.4,257.7" stroke="#f3cc97" stroke-width="1.8" fill="none" stroke-linecap="round" opacity="0.6"/>
<path d="M500.0,221.4 L502.0,221.9 L503.9,222.7 L505.7,223.8 L507.3,225.2 L508.9,226.9 L510.2,228.7 L511.4,230.8 L512.4,233.1 L513.3,235.5 L513.9,238.0 L514.3,240.6 L514.5,243.1 L514.6,245.6 L514.4,248.1 L514.1,250.4 L513.6,252.6 L513.0,254.5 L512.2,256.3 L511.4,257.8 L510.5,259.0 L509.5,259.9 L508.5,260.5 L507.5,260.8 L506.5,260.8 L516.4,262.3 L517.4,262.4 L518.4,262.1 L519.4,261.4 L520.4,260.5 L521.3,259.3 L522.1,257.8 L522.9,256.0 L523.5,254.1 L524.0,251.9 L524.3,249.6 L524.5,247.1 L524.4,244.6 L524.2,242.1 L523.8,239.5 L523.1,237.0 L522.3,234.6 L521.3,232.4 L520.1,230.3 L518.7,228.4 L517.2,226.7 L515.5,225.3 L513.7,224.2 L511.8,223.4 L509.9,222.9Z" fill="#e89a30" stroke="#744d18" stroke-width="0.8" stroke-linejoin="round"/>
<path d="M504.9,222.1 L506.9,222.6 L508.8,223.4 L510.6,224.5 L512.3,225.9 L513.8,227.6 L515.2,229.5 L516.4,231.6 L517.4,233.9 L518.2,236.3 L518.8,238.8 L519.3,241.3 L519.5,243.9 L519.5,246.4 L519.4,248.8 L519.0,251.1 L518.5,253.3 L517.9,255.3 L517.2,257.0 L516.3,258.5 L515.4,259.8 L514.4,260.7 L513.4,261.3 L512.5,261.6 L511.5,261.6" stroke="#f3cc97" stroke-width="1.8" fill="none" stroke-linecap="round" opacity="0.6"/>
<path d="M525.4,225.3 L527.4,225.8 L529.3,226.6 L531.0,227.8 L532.7,229.2 L534.2,230.9 L535.6,232.8 L536.7,234.9 L537.7,237.2 L538.5,239.6 L539.1,242.1 L539.5,244.7 L539.7,247.2 L539.8,249.8 L539.6,252.2 L539.2,254.5 L538.7,256.6 L538.1,258.6 L537.3,260.3 L536.5,261.8 L535.6,263.0 L534.6,263.9 L533.6,264.4 L532.6,264.7 L531.6,264.6 L541.5,266.1 L542.5,266.2 L543.5,266.0 L544.5,265.4 L545.4,264.5 L546.4,263.3 L547.2,261.8 L548.0,260.1 L548.6,258.1 L549.1,256.0 L549.5,253.7 L549.6,251.3 L549.6,248.8 L549.4,246.2 L549.0,243.7 L548.4,241.2 L547.6,238.7 L546.6,236.5 L545.5,234.3 L544.1,232.4 L542.6,230.7 L540.9,229.3 L539.1,228.1 L537.3,227.3 L535.3,226.8Z" fill="#e89a30" stroke="#744d18" stroke-width="0.8" stroke-linejoin="round"/>
<path d="M530.4,226.0 L532.3,226.5 L534.2,227.4 L536.0,228.5 L537.6,230.0 L539.2,231.7 L540.5,233.6 L541.7,235.7 L542.7,238.0 L543.5,240.4 L544.1,242.9 L544.5,245.4 L544.7,248.0 L544.7,250.5 L544.5,252.9 L544.2,255.2 L543.7,257.4 L543.0,259.3 L542.3,261.1 L541.4,262.5 L540.5,263.7 L539.5,264.6 L538.5,265.2 L537.5,265.5 L536.6,265.4" stroke="#f3cc97" stroke-width="1.8" fill="none" stroke-linecap="round" opacity="0.6"/>
<path d="M550.8,229.2 L552.8,229.7 L554.7,230.6 L556.4,231.8 L558.1,233.2 L559.6,235.0 L560.9,236.9 L562.1,239.0 L563.0,241.4 L563.8,243.8 L564.4,246.3 L564.8,248.8 L564.9,251.4 L564.9,253.9 L564.7,256.3 L564.4,258.6 L563.9,260.7 L563.2,262.6 L562.4,264.3 L561.6,265.8 L560.6,266.9 L559.7,267.8 L558.7,268.3 L557.7,268.6 L556.7,268.5 L566.6,270.0 L567.6,270.1 L568.5,269.8 L569.5,269.3 L570.5,268.4 L571.5,267.3 L572.3,265.9 L573.1,264.2 L573.7,262.2 L574.3,260.1 L574.6,257.8 L574.8,255.4 L574.8,252.9 L574.6,250.3 L574.3,247.8 L573.7,245.3 L572.9,242.9 L571.9,240.6 L570.8,238.4 L569.5,236.5 L568.0,234.8 L566.3,233.3 L564.6,232.1 L562.7,231.2 L560.7,230.7Z" fill="#e89a30" stroke="#744d18" stroke-width="0.8" stroke-linejoin="round"/>
<path d="M555.8,229.9 L557.7,230.5 L559.6,231.4 L561.4,232.5 L563.0,234.0 L564.5,235.7 L565.8,237.7 L567.0,239.8 L568.0,242.1 L568.8,244.5 L569.3,247.0 L569.7,249.6 L569.9,252.1 L569.9,254.6 L569.7,257.1 L569.3,259.3 L568.8,261.5 L568.1,263.4 L567.4,265.1 L566.5,266.5 L565.6,267.7 L564.6,268.5 L563.6,269.1 L562.6,269.3 L561.7,269.2" stroke="#f3cc97" stroke-width="1.8" fill="none" stroke-linecap="round" opacity="0.6"/>
<path d="M576.3,233.0 L578.2,233.7 L580.1,234.6 L581.8,235.8 L583.4,237.3 L584.9,239.0 L586.2,241.0 L587.4,243.2 L588.3,245.5 L589.1,247.9 L589.6,250.4 L590.0,253.0 L590.1,255.5 L590.1,258.0 L589.9,260.4 L589.5,262.7 L589.0,264.8 L588.3,266.7 L587.5,268.4 L586.7,269.8 L585.7,270.9 L584.7,271.7 L583.7,272.2 L582.7,272.4 L581.8,272.3 L591.7,273.8 L592.6,273.9 L593.6,273.7 L594.6,273.2 L595.6,272.4 L596.5,271.3 L597.4,269.9 L598.2,268.2 L598.9,266.3 L599.4,264.2 L599.8,261.9 L600.0,259.5 L600.0,257.0 L599.9,254.5 L599.5,251.9 L599.0,249.4 L598.2,247.0 L597.3,244.7 L596.1,242.5 L594.8,240.5 L593.3,238.8 L591.7,237.3 L590.0,236.1 L588.1,235.2 L586.1,234.6Z" fill="#e89a30" stroke="#744d18" stroke-width="0.8" stroke-linejoin="round"/>
<path d="M581.2,233.8 L583.1,234.4 L585.0,235.3 L586.8,236.5 L588.4,238.0 L589.9,239.8 L591.2,241.7 L592.3,243.9 L593.3,246.2 L594.0,248.7 L594.6,251.2 L594.9,253.7 L595.1,256.3 L595.1,258.8 L594.8,261.2 L594.5,263.4 L593.9,265.6 L593.3,267.5 L592.5,269.1 L591.6,270.5 L590.7,271.7 L589.7,272.5 L588.7,273.0 L587.7,273.2 L586.7,273.0" stroke="#f3cc97" stroke-width="1.8" fill="none" stroke-linecap="round" opacity="0.6"/>
<path d="M601.7,236.9 L603.6,237.6 L605.5,238.5 L607.2,239.8 L608.8,241.3 L610.3,243.1 L611.6,245.1 L612.7,247.3 L613.6,249.6 L614.3,252.0 L614.9,254.6 L615.2,257.1 L615.3,259.7 L615.3,262.1 L615.1,264.5 L614.7,266.8 L614.1,268.9 L613.4,270.8 L612.6,272.4 L611.7,273.8 L610.8,274.9 L609.8,275.6 L619.7,277.1 L620.7,276.4 L621.6,275.3 L622.5,273.9 L623.3,272.3 L624.0,270.4 L624.5,268.3 L624.9,266.0 L625.2,263.7 L625.2,261.2 L625.1,258.6 L624.8,256.1 L624.2,253.6 L623.5,251.1 L622.6,248.8 L621.5,246.6 L620.2,244.6 L618.7,242.8 L617.1,241.3 L615.4,240.1 L613.5,239.1 L611.6,238.5Z" fill="#e89a30" stroke="#744d18" stroke-width="0.8" stroke-linejoin="round"/>
<path d="M606.6,237.7 L608.6,238.3 L610.4,239.3 L612.2,240.5 L613.8,242.1 L615.2,243.8 L616.5,245.8 L617.6,248.0 L618.6,250.4 L619.3,252.8 L619.8,255.3 L620.2,257.9 L620.3,260.4 L620.2,262.9 L620.0,265.3 L619.6,267.5 L619.0,269.6 L618.4,271.5 L617.6,273.1 L616.7,274.5 L615.7,275.6 L614.8,276.4" stroke="#f3cc97" stroke-width="1.8" fill="none" stroke-linecap="round" opacity="0.6"/>
<path d="M530,290 C512,300 508,330 520,346 C530,356 545,352 556,350" stroke="#8e8c4c" stroke-width="4.4" fill="none" stroke-linecap="round" stroke-linejoin="round"/>
<path d="M530,290 C512,300 508,330 520,346 C530,356 545,352 556,350" stroke="#eeea80" stroke-width="3" fill="none" stroke-linecap="round" stroke-linejoin="round"/>
<path d="M533.6,311.8 L532.5,311.7 L531.5,311.2 L530.5,310.4 L529.6,309.3 L528.7,307.9 L528.0,306.2 L527.4,304.2 L526.9,302.1 L526.6,299.7 L526.5,297.2 L526.6,294.7 L526.9,292.0 L527.4,289.4 L528.1,286.8 L529.0,284.2 L530.2,281.8 L531.5,279.6 L532.9,277.5 L534.6,275.7 L536.3,274.2 L538.2,272.9 L540.2,272.0 L542.2,271.4 L544.3,271.1 L552.3,270.7 L550.2,270.9 L548.2,271.5 L546.2,272.5 L544.3,273.7 L542.5,275.2 L540.9,277.1 L539.4,279.1 L538.1,281.3 L537.0,283.8 L536.1,286.3 L535.4,288.9 L534.9,291.6 L534.6,294.2 L534.5,296.8 L534.6,299.3 L534.9,301.6 L535.4,303.8 L536.0,305.7 L536.7,307.4 L537.6,308.9 L538.5,310.0 L539.5,310.8 L540.5,311.2 L541.6,311.4Z" fill="#aca717" stroke="#67640d" stroke-width="0.8" stroke-linejoin="round"/>
<path d="M559.2,310.3 L558.2,310.1 L557.2,309.6 L556.2,308.8 L555.2,307.6 L554.4,306.2 L553.7,304.5 L553.1,302.5 L552.6,300.3 L552.4,297.9 L552.3,295.4 L552.4,292.8 L552.7,290.2 L553.3,287.5 L554.0,284.9 L554.9,282.4 L556.1,280.0 L557.4,277.8 L558.9,275.8 L560.5,274.0 L562.3,272.5 L564.2,271.3 L566.2,270.4 L568.3,269.8 L570.4,269.6 L578.3,269.1 L576.2,269.4 L574.2,269.9 L572.2,270.8 L570.3,272.0 L568.5,273.5 L566.9,275.3 L565.4,277.3 L564.0,279.5 L562.9,281.9 L562.0,284.5 L561.2,287.1 L560.7,289.7 L560.4,292.4 L560.3,295.0 L560.4,297.5 L560.6,299.8 L561.1,302.0 L561.7,304.0 L562.4,305.7 L563.2,307.2 L564.1,308.3 L565.1,309.2 L566.2,309.7 L567.2,309.8Z" fill="#aca717" stroke="#67640d" stroke-width="0.8" stroke-linejoin="round"/>
<path d="M584.9,308.8 L583.8,308.6 L582.8,308.0 L581.8,307.2 L580.9,306.0 L580.1,304.5 L579.3,302.7 L578.8,300.7 L578.4,298.5 L578.1,296.1 L578.1,293.6 L578.2,291.0 L578.5,288.3 L579.1,285.7 L579.9,283.1 L580.8,280.6 L582.0,278.2 L583.3,276.0 L584.8,274.0 L586.5,272.3 L588.3,270.8 L590.2,269.6 L592.2,268.8 L594.3,268.3 L596.4,268.1 L604.4,267.6 L602.3,267.8 L600.2,268.3 L598.2,269.2 L596.3,270.3 L594.5,271.8 L592.8,273.6 L591.3,275.6 L590.0,277.8 L588.8,280.1 L587.8,282.6 L587.1,285.2 L586.5,287.9 L586.2,290.5 L586.1,293.1 L586.1,295.6 L586.3,298.0 L586.8,300.2 L587.3,302.2 L588.0,304.0 L588.9,305.5 L589.8,306.7 L590.8,307.6 L591.8,308.1 L592.8,308.3Z" fill="#aca717" stroke="#67640d" stroke-width="0.8" stroke-linejoin="round"/>
<path d="M610.5,307.3 L609.4,307.0 L608.4,306.4 L607.4,305.5 L606.5,304.3 L605.7,302.8 L605.0,301.0 L604.5,298.9 L604.1,296.7 L603.9,294.3 L603.8,291.8 L604.0,289.2 L604.4,286.5 L604.9,283.9 L605.7,281.3 L606.7,278.8 L607.9,276.4 L609.2,274.3 L610.8,272.3 L612.5,270.6 L614.3,269.1 L616.2,268.0 L618.2,267.2 L620.3,266.7 L622.4,266.6 L630.4,266.1 L628.3,266.2 L626.2,266.7 L624.2,267.5 L622.3,268.7 L620.4,270.1 L618.8,271.8 L617.2,273.8 L615.9,276.0 L614.7,278.3 L613.7,280.8 L612.9,283.4 L612.3,286.0 L612.0,288.7 L611.8,291.3 L611.8,293.8 L612.1,296.2 L612.5,298.5 L613.0,300.5 L613.7,302.3 L614.5,303.8 L615.4,305.1 L616.4,306.0 L617.4,306.6 L618.5,306.8Z" fill="#aca717" stroke="#67640d" stroke-width="0.8" stroke-linejoin="round"/>
<path d="M636.1,305.7 L635.1,305.5 L634.1,304.8 L633.1,303.9 L632.2,302.6 L631.4,301.0 L630.7,299.2 L630.2,297.2 L629.8,294.9 L629.6,292.5 L629.6,289.9 L629.8,287.3 L630.2,284.7 L630.8,282.0 L631.6,279.5 L632.6,277.0 L633.8,274.6 L635.2,272.5 L636.7,270.6 L638.4,268.9 L640.3,267.5 L642.2,266.4 L644.2,265.6 L646.3,265.2 L648.4,265.1 L656.4,264.6 L654.3,264.7 L652.2,265.1 L650.2,265.9 L648.2,267.0 L646.4,268.4 L644.7,270.1 L643.2,272.0 L641.8,274.2 L640.6,276.5 L639.6,279.0 L638.8,281.6 L638.2,284.2 L637.8,286.9 L637.6,289.5 L637.6,292.0 L637.8,294.4 L638.2,296.7 L638.7,298.8 L639.4,300.6 L640.2,302.1 L641.1,303.4 L642.0,304.4 L643.1,305.0 L644.1,305.3Z" fill="#aca717" stroke="#67640d" stroke-width="0.8" stroke-linejoin="round"/>
<path d="M661.7,304.2 L660.7,303.9 L659.7,303.2 L658.7,302.2 L657.8,300.9 L657.1,299.3 L656.4,297.5 L655.9,295.4 L655.5,293.1 L655.4,290.7 L655.4,288.1 L655.6,285.5 L656.0,282.8 L656.6,280.2 L657.5,277.6 L658.5,275.2 L659.7,272.9 L661.1,270.7 L662.7,268.8 L664.4,267.2 L666.2,265.8 L668.2,264.7 L670.2,264.0 L672.3,263.6 L674.4,263.6 L682.4,263.1 L680.3,263.1 L678.2,263.5 L676.2,264.3 L674.2,265.3 L672.4,266.7 L670.7,268.3 L669.1,270.3 L667.7,272.4 L666.5,274.7 L665.4,277.2 L664.6,279.7 L664.0,282.4 L663.6,285.0 L663.4,287.6 L663.3,290.2 L663.5,292.6 L663.9,294.9 L664.4,297.0 L665.0,298.9 L665.8,300.4 L666.7,301.8 L667.7,302.7 L668.7,303.4 L669.7,303.7Z" fill="#aca717" stroke="#67640d" stroke-width="0.8" stroke-linejoin="round"/>
<path d="M687.4,302.7 L686.3,302.3 L685.3,301.6 L684.4,300.6 L683.5,299.2 L682.7,297.6 L682.1,295.7 L681.6,293.6 L681.3,291.3 L681.1,288.8 L681.1,286.3 L681.4,283.7 L681.8,281.0 L682.5,278.4 L683.3,275.8 L684.4,273.4 L685.6,271.1 L693.6,270.6 L692.4,272.9 L691.3,275.3 L690.5,277.9 L689.8,280.5 L689.4,283.2 L689.1,285.8 L689.1,288.4 L689.2,290.8 L689.6,293.1 L690.1,295.2 L690.7,297.1 L691.5,298.8 L692.4,300.1 L693.3,301.1 L694.3,301.8 L695.4,302.2Z" fill="#aca717" stroke="#67640d" stroke-width="0.8" stroke-linejoin="round"/>
<path d="M537.0,291.6 L537.6,294.2 L538.0,296.7 L538.1,299.2 L538.1,301.6 L537.9,303.8 L537.5,305.8 L537.0,307.5 L536.3,309.0 L535.5,310.2 L534.6,311.1 L533.6,311.7 L532.6,311.9 L542.6,311.3 L543.6,311.1 L544.6,310.5 L545.5,309.6 L546.3,308.4 L547.0,306.9 L547.5,305.2 L547.9,303.2 L548.1,301.0 L548.1,298.6 L547.9,296.1 L547.6,293.6 L547.0,291.0Z" fill="#f0e820" stroke="#787410" stroke-width="0.8" stroke-linejoin="round"/>
<path d="M542.0,291.3 L542.6,293.9 L542.9,296.4 L543.1,298.9 L543.1,301.3 L542.9,303.5 L542.5,305.5 L542.0,307.2 L541.3,308.7 L540.5,309.9 L539.6,310.8 L538.6,311.4 L537.6,311.6" stroke="#f7f38f" stroke-width="1.8" fill="none" stroke-linecap="round" opacity="0.6"/>
<path d="M543.3,271.2 L545.5,271.3 L547.6,271.7 L549.6,272.4 L551.6,273.5 L553.6,274.9 L555.4,276.5 L557.0,278.4 L558.6,280.6 L559.9,282.9 L561.1,285.3 L562.1,287.8 L562.8,290.4 L563.4,293.0 L563.7,295.5 L563.9,298.0 L563.9,300.3 L563.6,302.5 L563.2,304.5 L562.7,306.2 L562.0,307.7 L561.1,308.8 L560.2,309.7 L559.2,310.2 L558.2,310.4 L568.2,309.8 L569.2,309.6 L570.2,309.1 L571.1,308.2 L571.9,307.1 L572.6,305.6 L573.2,303.9 L573.6,301.9 L573.8,299.7 L573.9,297.4 L573.7,294.9 L573.4,292.4 L572.8,289.8 L572.0,287.2 L571.1,284.7 L569.9,282.3 L568.6,280.0 L567.0,277.9 L565.4,276.0 L563.5,274.3 L561.6,272.9 L559.6,271.8 L557.5,271.1 L555.4,270.7 L553.3,270.6Z" fill="#f0e820" stroke="#787410" stroke-width="0.8" stroke-linejoin="round"/>
<path d="M548.3,270.9 L550.5,271.0 L552.6,271.4 L554.6,272.1 L556.6,273.2 L558.6,274.6 L560.4,276.2 L562.0,278.1 L563.6,280.3 L564.9,282.6 L566.1,285.0 L567.0,287.5 L567.8,290.1 L568.4,292.7 L568.7,295.2 L568.9,297.7 L568.8,300.0 L568.6,302.2 L568.2,304.2 L567.7,305.9 L567.0,307.4 L566.1,308.5 L565.2,309.4 L564.2,309.9 L563.2,310.1" stroke="#f7f38f" stroke-width="1.8" fill="none" stroke-linecap="round" opacity="0.6"/>
<path d="M569.4,269.7 L571.5,269.8 L573.6,270.2 L575.6,271.0 L577.6,272.1 L579.5,273.6 L581.3,275.2 L583.0,277.2 L584.5,279.3 L585.8,281.6 L587.0,284.1 L587.9,286.6 L588.7,289.2 L589.2,291.8 L589.5,294.3 L589.7,296.8 L589.6,299.1 L589.3,301.2 L588.9,303.2 L588.3,304.9 L587.6,306.3 L586.8,307.4 L585.9,308.2 L584.9,308.7 L583.9,308.9 L593.8,308.3 L594.9,308.1 L595.9,307.6 L596.8,306.8 L597.6,305.7 L598.3,304.3 L598.9,302.6 L599.3,300.6 L599.6,298.5 L599.6,296.2 L599.5,293.7 L599.2,291.2 L598.6,288.6 L597.9,286.0 L597.0,283.5 L595.8,281.0 L594.5,278.7 L593.0,276.6 L591.3,274.7 L589.5,273.0 L587.6,271.6 L585.6,270.4 L583.6,269.7 L581.5,269.2 L579.3,269.1Z" fill="#f0e820" stroke="#787410" stroke-width="0.8" stroke-linejoin="round"/>
<path d="M574.3,269.4 L576.5,269.5 L578.6,269.9 L580.6,270.7 L582.6,271.9 L584.5,273.3 L586.3,274.9 L588.0,276.9 L589.5,279.0 L590.8,281.3 L592.0,283.8 L592.9,286.3 L593.7,288.9 L594.2,291.5 L594.5,294.0 L594.7,296.5 L594.6,298.8 L594.3,300.9 L593.9,302.9 L593.3,304.6 L592.6,306.0 L591.8,307.1 L590.9,307.9 L589.9,308.4 L588.8,308.6" stroke="#f7f38f" stroke-width="1.8" fill="none" stroke-linecap="round" opacity="0.6"/>
<path d="M595.4,268.1 L597.5,268.3 L599.6,268.8 L601.6,269.6 L603.6,270.8 L605.5,272.2 L607.3,273.9 L608.9,275.9 L610.4,278.1 L611.7,280.4 L612.9,282.9 L613.8,285.4 L614.5,288.0 L615.0,290.6 L615.3,293.1 L615.4,295.5 L615.3,297.8 L615.1,300.0 L614.6,301.9 L614.0,303.5 L613.3,304.9 L612.4,306.0 L611.5,306.8 L610.5,307.2 L609.5,307.3 L619.5,306.7 L620.5,306.6 L621.5,306.2 L622.4,305.4 L623.3,304.3 L624.0,303.0 L624.6,301.3 L625.0,299.4 L625.3,297.2 L625.4,294.9 L625.3,292.5 L625.0,290.0 L624.5,287.4 L623.8,284.8 L622.8,282.3 L621.7,279.8 L620.4,277.5 L618.9,275.3 L617.3,273.4 L615.5,271.6 L613.6,270.2 L611.6,269.1 L609.6,268.2 L607.5,267.7 L605.4,267.6Z" fill="#f0e820" stroke="#787410" stroke-width="0.8" stroke-linejoin="round"/>
<path d="M600.4,267.8 L602.5,268.0 L604.6,268.5 L606.6,269.3 L608.6,270.5 L610.5,271.9 L612.3,273.7 L613.9,275.6 L615.4,277.8 L616.7,280.1 L617.8,282.6 L618.8,285.1 L619.5,287.7 L620.0,290.3 L620.3,292.8 L620.4,295.2 L620.3,297.5 L620.1,299.7 L619.6,301.6 L619.0,303.2 L618.3,304.6 L617.4,305.7 L616.5,306.5 L615.5,306.9 L614.5,307.0" stroke="#f7f38f" stroke-width="1.8" fill="none" stroke-linecap="round" opacity="0.6"/>
<path d="M621.4,266.6 L623.5,266.8 L625.6,267.4 L627.6,268.2 L629.6,269.4 L631.5,270.9 L633.3,272.7 L634.9,274.6 L636.4,276.8 L637.6,279.2 L638.7,281.6 L639.6,284.2 L640.3,286.8 L640.8,289.4 L641.1,291.9 L641.2,294.3 L641.1,296.6 L640.8,298.7 L640.3,300.6 L639.7,302.2 L638.9,303.6 L638.1,304.6 L637.2,305.4 L636.2,305.7 L635.1,305.8 L645.1,305.2 L646.1,305.2 L647.1,304.8 L648.1,304.0 L648.9,303.0 L649.7,301.6 L650.3,300.0 L650.8,298.1 L651.1,296.0 L651.2,293.7 L651.1,291.3 L650.8,288.8 L650.3,286.2 L649.6,283.6 L648.7,281.1 L647.6,278.6 L646.3,276.2 L644.9,274.1 L643.3,272.1 L641.5,270.3 L639.6,268.8 L637.6,267.7 L635.6,266.8 L633.5,266.2 L631.4,266.0Z" fill="#f0e820" stroke="#787410" stroke-width="0.8" stroke-linejoin="round"/>
<path d="M626.4,266.3 L628.5,266.5 L630.6,267.1 L632.6,268.0 L634.6,269.1 L636.5,270.6 L638.3,272.4 L639.9,274.3 L641.3,276.5 L642.6,278.9 L643.7,281.4 L644.6,283.9 L645.3,286.5 L645.8,289.1 L646.1,291.6 L646.2,294.0 L646.1,296.3 L645.8,298.4 L645.3,300.3 L644.7,301.9 L643.9,303.3 L643.1,304.3 L642.1,305.1 L641.1,305.5 L640.1,305.5" stroke="#f7f38f" stroke-width="1.8" fill="none" stroke-linecap="round" opacity="0.6"/>
<path d="M647.4,265.1 L649.5,265.4 L651.6,265.9 L653.7,266.9 L655.6,268.1 L657.5,269.6 L659.2,271.4 L660.8,273.4 L662.3,275.6 L663.5,278.0 L664.6,280.4 L665.5,283.0 L666.2,285.6 L666.6,288.2 L666.9,290.7 L666.9,293.1 L666.8,295.3 L666.5,297.4 L666.0,299.3 L665.4,300.9 L664.6,302.2 L663.7,303.2 L662.8,303.9 L661.8,304.3 L660.7,304.3 L670.7,303.7 L671.8,303.7 L672.8,303.3 L673.7,302.6 L674.6,301.6 L675.3,300.3 L676.0,298.7 L676.5,296.8 L676.8,294.8 L676.9,292.5 L676.9,290.1 L676.6,287.6 L676.1,285.0 L675.5,282.4 L674.6,279.8 L673.5,277.4 L672.3,275.0 L670.8,272.8 L669.2,270.8 L667.5,269.0 L665.6,267.5 L663.6,266.3 L661.6,265.4 L659.5,264.8 L657.4,264.5Z" fill="#f0e820" stroke="#787410" stroke-width="0.8" stroke-linejoin="round"/>
<path d="M652.4,264.8 L654.5,265.1 L656.6,265.7 L658.6,266.6 L660.6,267.8 L662.5,269.3 L664.2,271.1 L665.8,273.1 L667.3,275.3 L668.5,277.7 L669.6,280.1 L670.5,282.7 L671.1,285.3 L671.6,287.9 L671.9,290.4 L671.9,292.8 L671.8,295.0 L671.5,297.1 L671.0,299.0 L670.4,300.6 L669.6,301.9 L668.7,302.9 L667.8,303.6 L666.8,304.0 L665.7,304.0" stroke="#f7f38f" stroke-width="1.8" fill="none" stroke-linecap="round" opacity="0.6"/>
<path d="M673.4,263.6 L675.5,263.9 L677.6,264.5 L679.7,265.5 L681.6,266.7 L683.5,268.3 L685.2,270.1 L686.8,272.1 L688.2,274.4 L689.4,276.7 L690.5,279.2 L691.3,281.8 L692.0,284.4 L692.4,286.9 L692.7,289.5 L692.7,291.8 L692.5,294.1 L692.2,296.1 L691.7,298.0 L691.0,299.5 L690.3,300.8 L689.4,301.8 L688.4,302.4 L687.4,302.8 L686.4,302.7 L696.4,302.1 L697.4,302.2 L698.4,301.9 L699.4,301.2 L700.2,300.2 L701.0,298.9 L701.7,297.4 L702.2,295.6 L702.5,293.5 L702.7,291.3 L702.6,288.9 L702.4,286.4 L702.0,283.8 L701.3,281.2 L700.5,278.6 L699.4,276.1 L698.2,273.8 L696.8,271.5 L695.2,269.5 L693.4,267.7 L691.6,266.1 L689.6,264.9 L687.6,263.9 L685.5,263.3 L683.4,263.0Z" fill="#f0e820" stroke="#787410" stroke-width="0.8" stroke-linejoin="round"/>
<path d="M678.4,263.3 L680.5,263.6 L682.6,264.2 L684.6,265.2 L686.6,266.4 L688.5,268.0 L690.2,269.8 L691.8,271.8 L693.2,274.1 L694.4,276.4 L695.5,278.9 L696.3,281.5 L697.0,284.1 L697.4,286.7 L697.6,289.2 L697.7,291.6 L697.5,293.8 L697.2,295.8 L696.7,297.7 L696.0,299.2 L695.3,300.5 L694.4,301.5 L693.4,302.2 L692.4,302.5 L691.4,302.4" stroke="#f7f38f" stroke-width="1.8" fill="none" stroke-linecap="round" opacity="0.6"/>
<path d="M589.2,302.2 L588.8,301.0 L588.0,299.8 L587.0,298.7 L585.7,297.7 L584.2,296.8 L582.5,296.0 L580.6,295.4 L578.5,295.0 L576.4,294.8 L574.1,294.8 L571.9,295.0 L569.6,295.4 L567.4,296.0 L565.2,296.8 L563.2,297.8 L561.3,298.9 L559.6,300.3 L558.1,301.7 L556.8,303.3 L555.7,305.0 L555.0,306.8 L554.5,308.6 L554.3,310.5 L554.4,312.4" stroke="#5e5d3a" stroke-width="4.1" fill="none" stroke-linecap="round"/>
<path d="M589.2,302.2 L588.8,301.0 L588.0,299.8 L587.0,298.7 L585.7,297.7 L584.2,296.8 L582.5,296.0 L580.6,295.4 L578.5,295.0 L576.4,294.8 L574.1,294.8 L571.9,295.0 L569.6,295.4 L567.4,296.0 L565.2,296.8 L563.2,297.8 L561.3,298.9 L559.6,300.3 L558.1,301.7 L556.8,303.3 L555.7,305.0 L555.0,306.8 L554.5,308.6 L554.3,310.5 L554.4,312.4" stroke="#9e9b61" stroke-width="2.9" fill="none" stroke-linecap="round"/>
<path d="M587.0,316.2 L586.5,315.0 L585.8,313.8 L584.7,312.7 L583.4,311.7 L581.9,310.8 L580.2,310.0 L578.3,309.4 L576.3,309.0 L574.1,308.8 L571.9,308.8 L569.6,309.0 L567.4,309.4 L565.1,310.0 L563.0,310.8 L560.9,311.8 L559.0,312.9 L557.3,314.3 L555.8,315.7 L554.5,317.3 L553.5,319.0 L552.7,320.8 L552.3,322.6 L552.1,324.5 L552.2,326.4" stroke="#5e5d3a" stroke-width="4.1" fill="none" stroke-linecap="round"/>
<path d="M587.0,316.2 L586.5,315.0 L585.8,313.8 L584.7,312.7 L583.4,311.7 L581.9,310.8 L580.2,310.0 L578.3,309.4 L576.3,309.0 L574.1,308.8 L571.9,308.8 L569.6,309.0 L567.4,309.4 L565.1,310.0 L563.0,310.8 L560.9,311.8 L559.0,312.9 L557.3,314.3 L555.8,315.7 L554.5,317.3 L553.5,319.0 L552.7,320.8 L552.3,322.6 L552.1,324.5 L552.2,326.4" stroke="#9e9b61" stroke-width="2.9" fill="none" stroke-linecap="round"/>
<path d="M584.7,330.2 L584.3,329.0 L583.5,327.8 L582.5,326.7 L581.2,325.7 L579.7,324.8 L578.0,324.0 L576.1,323.4 L574.0,323.0 L571.9,322.8 L569.6,322.8 L567.4,323.0 L565.1,323.4 L562.9,324.0 L560.7,324.8 L558.7,325.8 L556.8,326.9 L555.1,328.3 L553.6,329.7 L552.3,331.3 L551.2,333.0 L550.5,334.8 L550.0,336.6 L549.8,338.5 L549.9,340.4" stroke="#5e5d3a" stroke-width="4.1" fill="none" stroke-linecap="round"/>
<path d="M584.7,330.2 L584.3,329.0 L583.5,327.8 L582.5,326.7 L581.2,325.7 L579.7,324.8 L578.0,324.0 L576.1,323.4 L574.0,323.0 L571.9,322.8 L569.6,322.8 L567.4,323.0 L565.1,323.4 L562.9,324.0 L560.7,324.8 L558.7,325.8 L556.8,326.9 L555.1,328.3 L553.6,329.7 L552.3,331.3 L551.2,333.0 L550.5,334.8 L550.0,336.6 L549.8,338.5 L549.9,340.4" stroke="#9e9b61" stroke-width="2.9" fill="none" stroke-linecap="round"/>
<path d="M582.7,345.5 L582.5,344.2 L582.0,343.0 L581.3,341.8 L580.2,340.7 L578.9,339.7 L577.4,338.8 L575.7,338.0 L573.8,337.4 L571.8,337.0 L569.6,336.8 L567.4,336.8 L565.1,337.0 L562.9,337.4 L560.6,338.0 L558.5,338.8 L556.4,339.8 L554.5,340.9 L552.8,342.3 L551.3,343.7 L550.0,345.3 L549.0,347.0 L548.2,348.8 L547.8,350.6 L547.6,352.5 L547.7,354.4" stroke="#5e5d3a" stroke-width="4.1" fill="none" stroke-linecap="round"/>
<path d="M582.7,345.5 L582.5,344.2 L582.0,343.0 L581.3,341.8 L580.2,340.7 L578.9,339.7 L577.4,338.8 L575.7,338.0 L573.8,337.4 L571.8,337.0 L569.6,336.8 L567.4,336.8 L565.1,337.0 L562.9,337.4 L560.6,338.0 L558.5,338.8 L556.4,339.8 L554.5,340.9 L552.8,342.3 L551.3,343.7 L550.0,345.3 L549.0,347.0 L548.2,348.8 L547.8,350.6 L547.6,352.5 L547.7,354.4" stroke="#9e9b61" stroke-width="2.9" fill="none" stroke-linecap="round"/>
<path d="M573.0,312.0 L575.2,312.2 L577.3,312.2 L579.4,312.0 L581.3,311.6 L583.1,311.0 L584.7,310.2 L586.2,309.3 L587.3,308.3 L588.3,307.2 L589.0,306.0 L589.3,304.8 L589.4,303.5 L589.2,302.2" stroke="#6e6c44" stroke-width="5.0" fill="none" stroke-linecap="round"/>
<path d="M573.0,312.0 L575.2,312.2 L577.3,312.2 L579.4,312.0 L581.3,311.6 L583.1,311.0 L584.7,310.2 L586.2,309.3 L587.3,308.3 L588.3,307.2 L589.0,306.0 L589.3,304.8 L589.4,303.5 L589.2,302.2" stroke="#dcd888" stroke-width="3.6" fill="none" stroke-linecap="round"/>
<path d="M573.0,312.0 L575.2,312.2 L577.3,312.2 L579.4,312.0 L581.3,311.6 L583.1,311.0 L584.7,310.2 L586.2,309.3 L587.3,308.3 L588.3,307.2 L589.0,306.0 L589.3,304.8 L589.4,303.5 L589.2,302.2" stroke="#edebc3" stroke-width="1.1" fill="none" stroke-linecap="round" opacity="0.6"/>
<path d="M554.4,312.4 L554.8,314.2 L555.5,316.0 L556.4,317.7 L557.6,319.3 L559.0,320.7 L560.6,322.1 L562.4,323.2 L564.4,324.2 L566.4,325.0 L568.6,325.6 L570.8,326.0 L572.9,326.2 L575.1,326.2 L577.1,326.0 L579.1,325.6 L580.9,325.0 L582.5,324.2 L583.9,323.3 L585.1,322.3 L586.0,321.2 L586.7,320.0 L587.1,318.8 L587.2,317.5 L587.0,316.2" stroke="#6e6c44" stroke-width="5.0" fill="none" stroke-linecap="round"/>
<path d="M554.4,312.4 L554.8,314.2 L555.5,316.0 L556.4,317.7 L557.6,319.3 L559.0,320.7 L560.6,322.1 L562.4,323.2 L564.4,324.2 L566.4,325.0 L568.6,325.6 L570.8,326.0 L572.9,326.2 L575.1,326.2 L577.1,326.0 L579.1,325.6 L580.9,325.0 L582.5,324.2 L583.9,323.3 L585.1,322.3 L586.0,321.2 L586.7,320.0 L587.1,318.8 L587.2,317.5 L587.0,316.2" stroke="#dcd888" stroke-width="3.6" fill="none" stroke-linecap="round"/>
<path d="M554.4,312.4 L554.8,314.2 L555.5,316.0 L556.4,317.7 L557.6,319.3 L559.0,320.7 L560.6,322.1 L562.4,323.2 L564.4,324.2 L566.4,325.0 L568.6,325.6 L570.8,326.0 L572.9,326.2 L575.1,326.2 L577.1,326.0 L579.1,325.6 L580.9,325.0 L582.5,324.2 L583.9,323.3 L585.1,322.3 L586.0,321.2 L586.7,320.0 L587.1,318.8 L587.2,317.5 L587.0,316.2" stroke="#edebc3" stroke-width="1.1" fill="none" stroke-linecap="round" opacity="0.6"/>
<path d="M552.2,326.4 L552.5,328.2 L553.2,330.0 L554.2,331.7 L555.3,333.3 L556.8,334.7 L558.4,336.1 L560.2,337.2 L562.1,338.2 L564.2,339.0 L566.3,339.6 L568.5,340.0 L570.7,340.2 L572.8,340.2 L574.9,340.0 L576.8,339.6 L578.6,339.0 L580.2,338.2 L581.7,337.3 L582.8,336.3 L583.8,335.2 L584.5,334.0 L584.8,332.8 L584.9,331.5 L584.7,330.2" stroke="#6e6c44" stroke-width="5.0" fill="none" stroke-linecap="round"/>
<path d="M552.2,326.4 L552.5,328.2 L553.2,330.0 L554.2,331.7 L555.3,333.3 L556.8,334.7 L558.4,336.1 L560.2,337.2 L562.1,338.2 L564.2,339.0 L566.3,339.6 L568.5,340.0 L570.7,340.2 L572.8,340.2 L574.9,340.0 L576.8,339.6 L578.6,339.0 L580.2,338.2 L581.7,337.3 L582.8,336.3 L583.8,335.2 L584.5,334.0 L584.8,332.8 L584.9,331.5 L584.7,330.2" stroke="#dcd888" stroke-width="3.6" fill="none" stroke-linecap="round"/>
<path d="M552.2,326.4 L552.5,328.2 L553.2,330.0 L554.2,331.7 L555.3,333.3 L556.8,334.7 L558.4,336.1 L560.2,337.2 L562.1,338.2 L564.2,339.0 L566.3,339.6 L568.5,340.0 L570.7,340.2 L572.8,340.2 L574.9,340.0 L576.8,339.6 L578.6,339.0 L580.2,338.2 L581.7,337.3 L582.8,336.3 L583.8,335.2 L584.5,334.0 L584.8,332.8 L584.9,331.5 L584.7,330.2" stroke="#edebc3" stroke-width="1.1" fill="none" stroke-linecap="round" opacity="0.6"/>
<path d="M549.9,340.4 L550.3,342.2 L551.0,344.0 L551.9,345.7 L553.1,347.3 L554.5,348.7 L556.1,350.1 L557.9,351.2 L559.9,352.2 L561.9,353.0 L564.1,353.6 L566.2,354.0 L568.4,354.2 L570.6,354.2 L572.6,354.0 L574.6,353.6 L576.4,353.0 L578.0,352.2 L579.4,351.3 L580.6,350.3 L581.5,349.2 L582.2,348.0 L582.6,346.8 L582.7,345.5" stroke="#6e6c44" stroke-width="5.0" fill="none" stroke-linecap="round"/>
<path d="M549.9,340.4 L550.3,342.2 L551.0,344.0 L551.9,345.7 L553.1,347.3 L554.5,348.7 L556.1,350.1 L557.9,351.2 L559.9,352.2 L561.9,353.0 L564.1,353.6 L566.2,354.0 L568.4,354.2 L570.6,354.2 L572.6,354.0 L574.6,353.6 L576.4,353.0 L578.0,352.2 L579.4,351.3 L580.6,350.3 L581.5,349.2 L582.2,348.0 L582.6,346.8 L582.7,345.5" stroke="#dcd888" stroke-width="3.6" fill="none" stroke-linecap="round"/>
<path d="M549.9,340.4 L550.3,342.2 L551.0,344.0 L551.9,345.7 L553.1,347.3 L554.5,348.7 L556.1,350.1 L557.9,351.2 L559.9,352.2 L561.9,353.0 L564.1,353.6 L566.2,354.0 L568.4,354.2 L570.6,354.2 L572.6,354.0 L574.6,353.6 L576.4,353.0 L578.0,352.2 L579.4,351.3 L580.6,350.3 L581.5,349.2 L582.2,348.0 L582.6,346.8 L582.7,345.5" stroke="#edebc3" stroke-width="1.1" fill="none" stroke-linecap="round" opacity="0.6"/>
<path d="M547.7,354.4 L548.0,356.2 L548.7,358.0 L549.7,359.7 L550.8,361.3 L552.3,362.7 L553.9,364.1 L555.7,365.2 L557.6,366.2 L559.7,367.0 L561.8,367.6 L564.0,368.0" stroke="#6e6c44" stroke-width="5.0" fill="none" stroke-linecap="round"/>
<path d="M547.7,354.4 L548.0,356.2 L548.7,358.0 L549.7,359.7 L550.8,361.3 L552.3,362.7 L553.9,364.1 L555.7,365.2 L557.6,366.2 L559.7,367.0 L561.8,367.6 L564.0,368.0" stroke="#dcd888" stroke-width="3.6" fill="none" stroke-linecap="round"/>
<path d="M547.7,354.4 L548.0,356.2 L548.7,358.0 L549.7,359.7 L550.8,361.3 L552.3,362.7 L553.9,364.1 L555.7,365.2 L557.6,366.2 L559.7,367.0 L561.8,367.6 L564.0,368.0" stroke="#edebc3" stroke-width="1.1" fill="none" stroke-linecap="round" opacity="0.6"/>
<path d="M640.5,307.8 L640.1,306.6 L639.3,305.3 L638.3,304.2 L637.1,303.1 L635.6,302.2 L633.9,301.5 L632.0,300.8 L630.0,300.4 L627.9,300.2 L625.7,300.1 L623.4,300.3 L621.2,300.7 L619.0,301.2 L616.9,302.0 L614.8,302.9 L613.0,304.1 L611.3,305.4 L609.8,306.8 L608.5,308.4 L607.5,310.1 L606.8,311.8 L606.3,313.6 L606.1,315.4 L606.3,317.3" stroke="#5e5d3a" stroke-width="4.1" fill="none" stroke-linecap="round"/>
<path d="M640.5,307.8 L640.1,306.6 L639.3,305.3 L638.3,304.2 L637.1,303.1 L635.6,302.2 L633.9,301.5 L632.0,300.8 L630.0,300.4 L627.9,300.2 L625.7,300.1 L623.4,300.3 L621.2,300.7 L619.0,301.2 L616.9,302.0 L614.8,302.9 L613.0,304.1 L611.3,305.4 L609.8,306.8 L608.5,308.4 L607.5,310.1 L606.8,311.8 L606.3,313.6 L606.1,315.4 L606.3,317.3" stroke="#9e9b61" stroke-width="2.9" fill="none" stroke-linecap="round"/>
<path d="M639.4,320.4 L638.9,319.1 L638.2,317.9 L637.2,316.8 L635.9,315.7 L634.4,314.8 L632.8,314.0 L630.9,313.4 L628.9,313.0 L626.7,312.7 L624.5,312.7 L622.3,312.9 L620.0,313.2 L617.8,313.8 L615.7,314.6 L613.7,315.5 L611.8,316.6 L610.1,317.9 L608.6,319.4 L607.4,321.0 L606.4,322.6 L605.6,324.4 L605.2,326.2 L605.0,328.0 L605.1,329.8" stroke="#5e5d3a" stroke-width="4.1" fill="none" stroke-linecap="round"/>
<path d="M639.4,320.4 L638.9,319.1 L638.2,317.9 L637.2,316.8 L635.9,315.7 L634.4,314.8 L632.8,314.0 L630.9,313.4 L628.9,313.0 L626.7,312.7 L624.5,312.7 L622.3,312.9 L620.0,313.2 L617.8,313.8 L615.7,314.6 L613.7,315.5 L611.8,316.6 L610.1,317.9 L608.6,319.4 L607.4,321.0 L606.4,322.6 L605.6,324.4 L605.2,326.2 L605.0,328.0 L605.1,329.8" stroke="#9e9b61" stroke-width="2.9" fill="none" stroke-linecap="round"/>
<path d="M638.4,334.3 L638.3,333.0 L637.8,331.7 L637.1,330.5 L636.1,329.3 L634.8,328.3 L633.3,327.4 L631.6,326.6 L629.7,326.0 L627.7,325.6 L625.6,325.3 L623.4,325.3 L621.1,325.4 L618.9,325.8 L616.7,326.4 L614.6,327.1 L612.5,328.1 L610.7,329.2 L609.0,330.5 L607.5,332.0 L606.2,333.5 L605.2,335.2 L604.5,336.9 L604.0,338.7 L603.9,340.6 L604.0,342.4" stroke="#5e5d3a" stroke-width="4.1" fill="none" stroke-linecap="round"/>
<path d="M638.4,334.3 L638.3,333.0 L637.8,331.7 L637.1,330.5 L636.1,329.3 L634.8,328.3 L633.3,327.4 L631.6,326.6 L629.7,326.0 L627.7,325.6 L625.6,325.3 L623.4,325.3 L621.1,325.4 L618.9,325.8 L616.7,326.4 L614.6,327.1 L612.5,328.1 L610.7,329.2 L609.0,330.5 L607.5,332.0 L606.2,333.5 L605.2,335.2 L604.5,336.9 L604.0,338.7 L603.9,340.6 L604.0,342.4" stroke="#9e9b61" stroke-width="2.9" fill="none" stroke-linecap="round"/>
<path d="M637.3,346.9 L637.1,345.6 L636.7,344.3 L635.9,343.1 L634.9,341.9 L633.7,340.9 L632.2,339.9 L630.5,339.2 L628.6,338.6 L626.6,338.1 L624.4,337.9 L622.2,337.8 L620.0,338.0" stroke="#5e5d3a" stroke-width="4.1" fill="none" stroke-linecap="round"/>
<path d="M637.3,346.9 L637.1,345.6 L636.7,344.3 L635.9,343.1 L634.9,341.9 L633.7,340.9 L632.2,339.9 L630.5,339.2 L628.6,338.6 L626.6,338.1 L624.4,337.9 L622.2,337.8 L620.0,338.0" stroke="#9e9b61" stroke-width="2.9" fill="none" stroke-linecap="round"/>
<path d="M624.0,318.0 L626.2,318.2 L628.4,318.1 L630.4,317.9 L632.4,317.4 L634.2,316.8 L635.9,316.1 L637.3,315.1 L638.5,314.1 L639.5,312.9 L640.2,311.7 L640.6,310.4 L640.7,309.1 L640.5,307.8" stroke="#6e6c44" stroke-width="5.0" fill="none" stroke-linecap="round"/>
<path d="M624.0,318.0 L626.2,318.2 L628.4,318.1 L630.4,317.9 L632.4,317.4 L634.2,316.8 L635.9,316.1 L637.3,315.1 L638.5,314.1 L639.5,312.9 L640.2,311.7 L640.6,310.4 L640.7,309.1 L640.5,307.8" stroke="#dcd888" stroke-width="3.6" fill="none" stroke-linecap="round"/>
<path d="M624.0,318.0 L626.2,318.2 L628.4,318.1 L630.4,317.9 L632.4,317.4 L634.2,316.8 L635.9,316.1 L637.3,315.1 L638.5,314.1 L639.5,312.9 L640.2,311.7 L640.6,310.4 L640.7,309.1 L640.5,307.8" stroke="#edebc3" stroke-width="1.1" fill="none" stroke-linecap="round" opacity="0.6"/>
<path d="M606.3,317.3 L606.7,319.1 L607.4,320.8 L608.3,322.5 L609.5,324.0 L611.0,325.5 L612.6,326.8 L614.5,327.9 L616.4,328.9 L618.5,329.6 L620.7,330.2 L622.9,330.6 L625.1,330.7 L627.2,330.7 L629.3,330.4 L631.3,330.0 L633.1,329.4 L634.7,328.6 L636.2,327.7 L637.4,326.7 L638.3,325.5 L639.0,324.3 L639.4,323.0 L639.6,321.7 L639.4,320.4" stroke="#6e6c44" stroke-width="5.0" fill="none" stroke-linecap="round"/>
<path d="M606.3,317.3 L606.7,319.1 L607.4,320.8 L608.3,322.5 L609.5,324.0 L611.0,325.5 L612.6,326.8 L614.5,327.9 L616.4,328.9 L618.5,329.6 L620.7,330.2 L622.9,330.6 L625.1,330.7 L627.2,330.7 L629.3,330.4 L631.3,330.0 L633.1,329.4 L634.7,328.6 L636.2,327.7 L637.4,326.7 L638.3,325.5 L639.0,324.3 L639.4,323.0 L639.6,321.7 L639.4,320.4" stroke="#dcd888" stroke-width="3.6" fill="none" stroke-linecap="round"/>
<path d="M606.3,317.3 L606.7,319.1 L607.4,320.8 L608.3,322.5 L609.5,324.0 L611.0,325.5 L612.6,326.8 L614.5,327.9 L616.4,328.9 L618.5,329.6 L620.7,330.2 L622.9,330.6 L625.1,330.7 L627.2,330.7 L629.3,330.4 L631.3,330.0 L633.1,329.4 L634.7,328.6 L636.2,327.7 L637.4,326.7 L638.3,325.5 L639.0,324.3 L639.4,323.0 L639.6,321.7 L639.4,320.4" stroke="#edebc3" stroke-width="1.1" fill="none" stroke-linecap="round" opacity="0.6"/>
<path d="M605.1,329.8 L605.5,331.6 L606.2,333.4 L607.2,335.0 L608.4,336.6 L609.8,338.1 L611.5,339.4 L613.3,340.5 L615.3,341.4 L617.4,342.2 L619.5,342.8 L621.7,343.1 L623.9,343.3 L626.1,343.3 L628.1,343.0 L630.1,342.6 L631.9,342.0 L633.6,341.2 L635.0,340.3 L636.2,339.2 L637.2,338.1 L637.9,336.9 L638.3,335.6 L638.4,334.3" stroke="#6e6c44" stroke-width="5.0" fill="none" stroke-linecap="round"/>
<path d="M605.1,329.8 L605.5,331.6 L606.2,333.4 L607.2,335.0 L608.4,336.6 L609.8,338.1 L611.5,339.4 L613.3,340.5 L615.3,341.4 L617.4,342.2 L619.5,342.8 L621.7,343.1 L623.9,343.3 L626.1,343.3 L628.1,343.0 L630.1,342.6 L631.9,342.0 L633.6,341.2 L635.0,340.3 L636.2,339.2 L637.2,338.1 L637.9,336.9 L638.3,335.6 L638.4,334.3" stroke="#dcd888" stroke-width="3.6" fill="none" stroke-linecap="round"/>
<path d="M605.1,329.8 L605.5,331.6 L606.2,333.4 L607.2,335.0 L608.4,336.6 L609.8,338.1 L611.5,339.4 L613.3,340.5 L615.3,341.4 L617.4,342.2 L619.5,342.8 L621.7,343.1 L623.9,343.3 L626.1,343.3 L628.1,343.0 L630.1,342.6 L631.9,342.0 L633.6,341.2 L635.0,340.3 L636.2,339.2 L637.2,338.1 L637.9,336.9 L638.3,335.6 L638.4,334.3" stroke="#edebc3" stroke-width="1.1" fill="none" stroke-linecap="round" opacity="0.6"/>
<path d="M604.0,342.4 L604.4,344.2 L605.1,345.9 L606.0,347.6 L607.3,349.2 L608.7,350.6 L610.3,351.9 L612.2,353.1 L614.1,354.0 L616.2,354.8 L618.4,355.3 L620.6,355.7 L622.8,355.9 L624.9,355.8 L627.0,355.6 L629.0,355.2 L630.8,354.5 L632.4,353.8 L633.9,352.9 L635.1,351.8 L636.1,350.7 L636.8,349.4 L637.2,348.2 L637.3,346.9" stroke="#6e6c44" stroke-width="5.0" fill="none" stroke-linecap="round"/>
<path d="M604.0,342.4 L604.4,344.2 L605.1,345.9 L606.0,347.6 L607.3,349.2 L608.7,350.6 L610.3,351.9 L612.2,353.1 L614.1,354.0 L616.2,354.8 L618.4,355.3 L620.6,355.7 L622.8,355.9 L624.9,355.8 L627.0,355.6 L629.0,355.2 L630.8,354.5 L632.4,353.8 L633.9,352.9 L635.1,351.8 L636.1,350.7 L636.8,349.4 L637.2,348.2 L637.3,346.9" stroke="#dcd888" stroke-width="3.6" fill="none" stroke-linecap="round"/>
<path d="M604.0,342.4 L604.4,344.2 L605.1,345.9 L606.0,347.6 L607.3,349.2 L608.7,350.6 L610.3,351.9 L612.2,353.1 L614.1,354.0 L616.2,354.8 L618.4,355.3 L620.6,355.7 L622.8,355.9 L624.9,355.8 L627.0,355.6 L629.0,355.2 L630.8,354.5 L632.4,353.8 L633.9,352.9 L635.1,351.8 L636.1,350.7 L636.8,349.4 L637.2,348.2 L637.3,346.9" stroke="#edebc3" stroke-width="1.1" fill="none" stroke-linecap="round" opacity="0.6"/>
<path d="M628,332 C645,330 662,322 672,312" stroke="#8a8756" stroke-width="6.4" fill="none" stroke-linecap="round" stroke-linejoin="round"/>
<path d="M628,332 C645,330 662,322 672,312" stroke="#e6e290" stroke-width="5" fill="none" stroke-linecap="round" stroke-linejoin="round"/>
<circle cx="579.5" cy="229" r="9" fill="url(#gPur)"/>
<circle cx="650" cy="222" r="8" fill="url(#gRed)"/>
<circle cx="641" cy="223" r="8" fill="url(#gBlu)"/>
<circle cx="632" cy="230" r="9" fill="url(#gMag)"/>
<circle cx="637" cy="240" r="9" fill="url(#gMag)"/>
<circle cx="628" cy="246" r="8" fill="url(#gMag)"/>
<circle cx="630" cy="250" r="6" fill="url(#gBlu)"/>
<circle cx="645" cy="236" r="7" fill="url(#gBlu)"/>
<circle cx="634" cy="236" r="8" fill="url(#gMag)"/>
<path d="M711,382 L584,222" stroke="#000" stroke-width="2.5" fill="none" />
<path d="M711,382 L657,231" stroke="#000" stroke-width="2.5" fill="none" />
<polygon points="579.3,216.3 590,222 583,227" fill="#000"/>
<polygon points="655.4,225 662,232 654,234" fill="#000"/>
<path d="M415,206.5 L427,206.5" stroke="#444" stroke-width="1.1" fill="none" />
<path d="M446,206.5 L458,206.5" stroke="#444" stroke-width="1.1" fill="none" />
<path d="M427,199.5 C435,199 441,206 440.5,216" stroke="#222" stroke-width="1.2" fill="none" />
<polygon points="437,215 444.5,215 441,222" fill="#111"/>
<rect x="461.4" y="171.3" width="30.2" height="18.4" fill="#d8d8d8" stroke="#333" stroke-width="1.3" />
<text x="476.5" y="185.2" font-size="13" fill="#222" font-weight="bold" text-anchor="middle" >EL4</text>
<rect x="476.5" y="121.8" width="15.5" height="18.8" fill="#4a78b0" stroke="#333" stroke-width="1.3" />
<text x="484.2" y="136.2" font-size="14" fill="#111" font-weight="bold" text-anchor="middle" >5</text>
<rect x="557.5" y="109.7" width="15.8" height="18.3" fill="#b8f2b8" stroke="#333" stroke-width="1.3" />
<text x="565.4" y="123.9" font-size="14" fill="#111" font-weight="bold" text-anchor="middle" >7</text>
<rect x="605.5" y="113.5" width="16.1" height="18.8" fill="#33dd33" stroke="#333" stroke-width="1.3" />
<text x="613.5" y="127.9" font-size="14" fill="#111" font-weight="bold" text-anchor="middle" >1</text>
<rect x="628.0" y="47.5" width="15.6" height="17.5" fill="#b8f2b8" stroke="#333" stroke-width="1.3" />
<text x="635.8" y="61.3" font-size="14" fill="#111" font-weight="bold" text-anchor="middle" >2</text>
<rect x="707.0" y="95.0" width="15.0" height="17.4" fill="#72f0d4" stroke="#333" stroke-width="1.3" />
<text x="714.5" y="108.7" font-size="14" fill="#111" font-weight="bold" text-anchor="middle" >6</text>
<rect x="737.5" y="133.8" width="23.0" height="17.9" fill="#d8d8d8" stroke="#333" stroke-width="1.3" />
<text x="749.0" y="147.8" font-size="14" fill="#111" font-weight="bold" text-anchor="middle" >12</text>
<rect x="761.0" y="256.8" width="22.6" height="17.2" fill="#d8d8d8" stroke="#333" stroke-width="1.3" />
<text x="772.3" y="270.4" font-size="14" fill="#111" font-weight="bold" text-anchor="middle" >11</text>
<rect x="476.6" y="258.8" width="16.9" height="19.1" fill="#f0a040" stroke="#333" stroke-width="1.3" />
<text x="485.1" y="273.4" font-size="14" fill="#111" font-weight="bold" text-anchor="middle" >8</text>
<rect x="489.4" y="299.3" width="15.6" height="19.0" fill="#f6f03c" stroke="#333" stroke-width="1.3" />
<text x="497.2" y="313.8" font-size="14" fill="#111" font-weight="bold" text-anchor="middle" >3</text>
<rect x="557.5" y="372.0" width="15.5" height="17.2" fill="#e6e496" stroke="#333" stroke-width="1.3" />
<text x="565.2" y="385.6" font-size="14" fill="#111" font-weight="bold" text-anchor="middle" >4</text>
<rect x="624.2" y="361.5" width="15.6" height="17.3" fill="#e6e496" stroke="#333" stroke-width="1.3" />
<text x="632.0" y="375.2" font-size="14" fill="#111" font-weight="bold" text-anchor="middle" >9</text>
<rect x="688.5" y="297.6" width="22.8" height="17.4" fill="#4a78b0" stroke="#333" stroke-width="1.3" />
<text x="699.9" y="311.3" font-size="14" fill="#111" font-weight="bold" text-anchor="middle" >10</text>
<text x="788.8" y="233.5" font-size="12" fill="#111" font-weight="bold" text-anchor="start" >C</text>
<text x="662.3" y="74.0" font-size="20.5" fill="#111" font-weight="normal" text-anchor="start" textLength="64.5">Bundle</text>
<text x="480.3" y="370.0" font-size="20.5" fill="#111" font-weight="normal" text-anchor="start" textLength="48.3">Hash</text>
<text x="677.6" y="396.8" font-size="13.8" fill="#111" font-weight="normal" text-anchor="start" >Discontinuous helices</text>
<g filter="url(#surf)">
<path d="M922.0,35.0 C924.7,33.0 932.0,33.3 936.0,34.0 C940.0,34.7 942.3,38.5 946.0,39.0 C949.7,39.5 953.0,37.8 958.0,37.0 C963.0,36.2 970.8,34.5 976.0,34.0 C981.2,33.5 985.2,32.3 989.0,34.0 C992.8,35.7 995.5,42.8 999.0,44.0 C1002.5,45.2 1006.2,41.2 1010.0,41.0 C1013.8,40.8 1018.0,41.7 1022.0,43.0 C1026.0,44.3 1030.7,46.8 1034.0,49.0 C1037.3,51.2 1038.3,53.8 1042.0,56.0 C1045.7,58.2 1052.0,59.3 1056.0,62.0 C1060.0,64.7 1063.7,68.0 1066.0,72.0 C1068.3,76.0 1067.5,83.2 1070.0,86.0 C1072.5,88.8 1077.2,87.3 1081.0,89.0 C1084.8,90.7 1088.7,93.5 1093.0,96.0 C1097.3,98.5 1101.3,102.0 1107.0,104.0 C1112.7,106.0 1120.8,105.7 1127.0,108.0 C1133.2,110.3 1138.3,117.0 1144.0,118.0 C1149.7,119.0 1156.3,113.7 1161.0,114.0 C1165.7,114.3 1169.7,116.2 1172.0,120.0 C1174.3,123.8 1173.2,131.8 1175.0,137.0 C1176.8,142.2 1179.2,146.8 1183.0,151.0 C1186.8,155.2 1193.7,159.7 1198.0,162.0 C1202.3,164.3 1206.0,162.7 1209.0,165.0 C1212.0,167.3 1215.2,171.8 1216.0,176.0 C1216.8,180.2 1214.7,186.2 1214.0,190.0 C1213.3,193.8 1212.0,195.7 1212.0,199.0 C1212.0,202.3 1214.5,206.7 1214.0,210.0 C1213.5,213.3 1212.7,216.2 1209.0,219.0 C1205.3,221.8 1196.3,223.8 1192.0,227.0 C1187.7,230.2 1185.0,234.2 1183.0,238.0 C1181.0,241.8 1181.8,245.5 1180.0,250.0 C1178.2,254.5 1174.5,260.0 1172.0,265.0 C1169.5,270.0 1167.8,275.8 1165.0,280.0 C1162.2,284.2 1159.0,287.0 1155.0,290.0 C1151.0,293.0 1144.5,295.5 1141.0,298.0 C1137.5,300.5 1137.7,303.3 1134.0,305.0 C1130.3,306.7 1124.2,307.0 1119.0,308.0 C1113.8,309.0 1106.8,309.3 1103.0,311.0 C1099.2,312.7 1098.7,315.8 1096.0,318.0 C1093.3,320.2 1090.0,322.0 1087.0,324.0 C1084.0,326.0 1081.7,327.3 1078.0,330.0 C1074.3,332.7 1069.7,335.8 1065.0,340.0 C1060.3,344.2 1054.2,350.8 1050.0,355.0 C1045.8,359.2 1044.0,362.2 1040.0,365.0 C1036.0,367.8 1030.7,370.5 1026.0,372.0 C1021.3,373.5 1016.7,373.5 1012.0,374.0 C1007.3,374.5 1002.7,373.8 998.0,375.0 C993.3,376.2 988.7,379.5 984.0,381.0 C979.3,382.5 975.5,384.0 970.0,384.0 C964.5,384.0 957.3,382.0 951.0,381.0 C944.7,380.0 937.2,379.2 932.0,378.0 C926.8,376.8 923.5,376.2 920.0,374.0 C916.5,371.8 913.0,368.8 911.0,365.0 C909.0,361.2 910.8,355.0 908.0,351.0 C905.2,347.0 897.5,345.3 894.0,341.0 C890.5,336.7 887.8,330.8 887.0,325.0 C886.2,319.2 887.8,312.3 889.0,306.0 C890.2,299.7 893.8,291.7 894.0,287.0 C894.2,282.3 892.3,280.5 890.0,278.0 C887.7,275.5 885.8,273.5 880.0,272.0 C874.2,270.5 861.3,271.3 855.0,269.0 C848.7,266.7 844.7,262.0 842.0,258.0 C839.3,254.0 838.0,250.3 839.0,245.0 C840.0,239.7 845.8,231.2 848.0,226.0 C850.2,220.8 852.0,218.3 852.0,214.0 C852.0,209.7 848.0,204.7 848.0,200.0 C848.0,195.3 850.5,190.2 852.0,186.0 C853.5,181.8 856.8,178.3 857.0,175.0 C857.2,171.7 855.0,168.5 853.0,166.0 C851.0,163.5 846.3,162.7 845.0,160.0 C843.7,157.3 844.2,153.0 845.0,150.0 C845.8,147.0 847.8,144.5 850.0,142.0 C852.2,139.5 856.7,138.0 858.0,135.0 C859.3,132.0 858.7,127.8 858.0,124.0 C857.3,120.2 854.7,116.3 854.0,112.0 C853.3,107.7 852.8,101.5 854.0,98.0 C855.2,94.5 857.5,92.5 861.0,91.0 C864.5,89.5 870.7,88.7 875.0,89.0 C879.3,89.3 883.5,93.0 887.0,93.0 C890.5,93.0 893.3,91.3 896.0,89.0 C898.7,86.7 901.3,82.2 903.0,79.0 C904.7,75.8 904.3,72.7 906.0,70.0 C907.7,67.3 910.3,65.0 913.0,63.0 C915.7,61.0 920.8,60.8 922.0,58.0 C923.2,55.2 920.0,49.8 920.0,46.0 C920.0,42.2 919.3,37.0 922.0,35.0Z" fill="#d9d9d9" />
<path d="M923.0,58.0 C925.2,59.0 919.5,65.0 920.0,69.0 C920.5,73.0 922.8,77.7 926.0,82.0 C929.2,86.3 933.7,91.8 939.0,95.0 C944.3,98.2 954.2,98.0 958.0,101.0 C961.8,104.0 964.2,109.8 962.0,113.0 C959.8,116.2 950.5,117.3 945.0,120.0 C939.5,122.7 934.2,125.3 929.0,129.0 C923.8,132.7 919.2,137.8 914.0,142.0 C908.8,146.2 903.3,150.3 898.0,154.0 C892.7,157.7 886.7,160.8 882.0,164.0 C877.3,167.2 875.7,173.0 870.0,173.0 C864.3,173.0 852.3,167.7 848.0,164.0 C843.7,160.3 842.5,155.2 844.0,151.0 C845.5,146.8 853.3,142.7 857.0,139.0 C860.7,135.3 866.5,132.7 866.0,129.0 C865.5,125.3 856.3,121.7 854.0,117.0 C851.7,112.3 851.0,105.3 852.0,101.0 C853.0,96.7 856.0,93.2 860.0,91.0 C864.0,88.8 869.7,89.5 876.0,88.0 C882.3,86.5 893.8,84.7 898.0,82.0 C902.2,79.3 899.5,75.2 901.0,72.0 C902.5,68.8 903.3,65.3 907.0,63.0 C910.7,60.7 920.8,57.0 923.0,58.0Z" fill="#2a76c4" stroke="#2a76c4" stroke-width="6" stroke-linejoin="round"/>
<path d="M923.0,135.0 C927.3,130.8 931.7,129.2 939.0,126.0 C946.3,122.8 959.7,116.7 967.0,116.0 C974.3,115.3 979.5,118.0 983.0,122.0 C986.5,126.0 987.5,133.7 988.0,140.0 C988.5,146.3 986.8,152.3 986.0,160.0 C985.2,167.7 987.2,180.5 983.0,186.0 C978.8,191.5 970.0,192.8 961.0,193.0 C952.0,193.2 936.3,190.8 929.0,187.0 C921.7,183.2 919.7,176.0 917.0,170.0 C914.3,164.0 912.0,156.8 913.0,151.0 C914.0,145.2 918.7,139.2 923.0,135.0Z" fill="#88f888" stroke="#88f888" stroke-width="6" stroke-linejoin="round"/>
<path d="M1036.0,55.0 C1038.0,51.3 1045.3,55.8 1050.0,58.0 C1054.7,60.2 1060.7,64.0 1064.0,68.0 C1067.3,72.0 1069.7,78.2 1070.0,82.0 C1070.3,85.8 1069.3,89.8 1066.0,91.0 C1062.7,92.2 1054.7,90.8 1050.0,89.0 C1045.3,87.2 1040.3,85.7 1038.0,80.0 C1035.7,74.3 1034.0,58.7 1036.0,55.0Z" fill="#88f888" stroke="#88f888" stroke-width="6" stroke-linejoin="round"/>
<path d="M978.0,114.0 C981.3,109.7 991.2,111.5 1000.0,111.0 C1008.8,110.5 1022.2,106.5 1031.0,111.0 C1039.8,115.5 1049.7,129.5 1053.0,138.0 C1056.3,146.5 1052.8,154.2 1051.0,162.0 C1049.2,169.8 1044.5,176.5 1042.0,185.0 C1039.5,193.5 1038.3,206.8 1036.0,213.0 C1033.7,219.2 1031.3,218.7 1028.0,222.0 C1024.7,225.3 1018.3,228.3 1016.0,233.0 C1013.7,237.7 1016.3,245.8 1014.0,250.0 C1011.7,254.2 1006.3,256.7 1002.0,258.0 C997.7,259.3 992.2,259.8 988.0,258.0 C983.8,256.2 979.8,251.2 977.0,247.0 C974.2,242.8 970.5,238.7 971.0,233.0 C971.5,227.3 976.3,219.2 980.0,213.0 C983.7,206.8 991.7,200.7 993.0,196.0 C994.3,191.3 989.3,190.2 988.0,185.0 C986.7,179.8 986.3,173.0 985.0,165.0 C983.7,157.0 981.2,145.5 980.0,137.0 C978.8,128.5 974.7,118.3 978.0,114.0Z" fill="#10d810" stroke="#10d810" stroke-width="6" stroke-linejoin="round"/>
<path d="M1040.0,140.0 C1041.7,137.7 1052.5,144.3 1060.0,146.0 C1067.5,147.7 1077.5,148.0 1085.0,150.0 C1092.5,152.0 1101.2,153.8 1105.0,158.0 C1108.8,162.2 1108.8,170.0 1108.0,175.0 C1107.2,180.0 1103.5,185.2 1100.0,188.0 C1096.5,190.8 1091.2,189.2 1087.0,192.0 C1082.8,194.8 1078.2,200.0 1075.0,205.0 C1071.8,210.0 1070.8,216.8 1068.0,222.0 C1065.2,227.2 1062.0,235.0 1058.0,236.0 C1054.0,237.0 1047.3,233.2 1044.0,228.0 C1040.7,222.8 1038.3,213.0 1038.0,205.0 C1037.7,197.0 1040.0,187.5 1042.0,180.0 C1044.0,172.5 1050.3,166.7 1050.0,160.0 C1049.7,153.3 1038.3,142.3 1040.0,140.0Z" fill="#44e0b4" stroke="#44e0b4" stroke-width="6" stroke-linejoin="round"/>
<path d="M1080.0,92.0 C1082.5,91.0 1094.2,95.7 1100.0,98.0 C1105.8,100.3 1110.8,103.7 1115.0,106.0 C1119.2,108.3 1124.5,110.0 1125.0,112.0 C1125.5,114.0 1122.2,118.0 1118.0,118.0 C1113.8,118.0 1105.5,114.3 1100.0,112.0 C1094.5,109.7 1088.3,107.3 1085.0,104.0 C1081.7,100.7 1077.5,93.0 1080.0,92.0Z" fill="#44e0b4" stroke="#44e0b4" stroke-width="6" stroke-linejoin="round"/>
<path d="M922.0,35.0 C924.5,32.3 932.0,33.3 936.0,34.0 C940.0,34.7 942.3,38.5 946.0,39.0 C949.7,39.5 953.0,37.8 958.0,37.0 C963.0,36.2 970.8,34.5 976.0,34.0 C981.2,33.5 985.2,32.3 989.0,34.0 C992.8,35.7 995.5,42.8 999.0,44.0 C1002.5,45.2 1006.2,41.2 1010.0,41.0 C1013.8,40.8 1018.0,41.7 1022.0,43.0 C1026.0,44.3 1031.0,45.8 1034.0,49.0 C1037.0,52.2 1038.0,56.8 1040.0,62.0 C1042.0,67.2 1042.3,75.7 1046.0,80.0 C1049.7,84.3 1056.2,86.3 1062.0,88.0 C1067.8,89.7 1075.8,88.5 1081.0,90.0 C1086.2,91.5 1088.7,94.3 1093.0,97.0 C1097.3,99.7 1102.8,102.5 1107.0,106.0 C1111.2,109.5 1117.5,112.3 1118.0,118.0 C1118.5,123.7 1111.8,133.0 1110.0,140.0 C1108.2,147.0 1109.0,156.7 1107.0,160.0 C1105.0,163.3 1101.3,161.2 1098.0,160.0 C1094.7,158.8 1091.8,155.3 1087.0,153.0 C1082.2,150.7 1073.8,148.5 1069.0,146.0 C1064.2,143.5 1061.8,140.8 1058.0,138.0 C1054.2,135.2 1050.3,132.8 1046.0,129.0 C1041.7,125.2 1037.5,118.5 1032.0,115.0 C1026.5,111.5 1018.5,108.5 1013.0,108.0 C1007.5,107.5 1004.5,111.2 999.0,112.0 C993.5,112.8 985.3,112.7 980.0,113.0 C974.7,113.3 971.2,115.5 967.0,114.0 C962.8,112.5 959.8,106.7 955.0,104.0 C950.2,101.3 942.8,100.8 938.0,98.0 C933.2,95.2 929.3,91.3 926.0,87.0 C922.7,82.7 918.8,78.2 918.0,72.0 C917.2,65.8 920.3,56.2 921.0,50.0 C921.7,43.8 919.5,37.7 922.0,35.0Z" fill="#d9d9d9" stroke="#d9d9d9" stroke-width="6" stroke-linejoin="round"/>
<path d="M1107.0,106.0 C1109.8,102.3 1120.8,106.0 1127.0,108.0 C1133.2,110.0 1138.3,117.0 1144.0,118.0 C1149.7,119.0 1156.3,113.7 1161.0,114.0 C1165.7,114.3 1169.7,116.2 1172.0,120.0 C1174.3,123.8 1173.2,131.8 1175.0,137.0 C1176.8,142.2 1179.2,146.8 1183.0,151.0 C1186.8,155.2 1193.7,159.7 1198.0,162.0 C1202.3,164.3 1206.0,162.7 1209.0,165.0 C1212.0,167.3 1215.2,171.8 1216.0,176.0 C1216.8,180.2 1214.7,186.2 1214.0,190.0 C1213.3,193.8 1212.0,195.7 1212.0,199.0 C1212.0,202.3 1214.5,206.7 1214.0,210.0 C1213.5,213.3 1212.7,216.2 1209.0,219.0 C1205.3,221.8 1196.3,223.8 1192.0,227.0 C1187.7,230.2 1185.0,234.2 1183.0,238.0 C1181.0,241.8 1181.8,245.5 1180.0,250.0 C1178.2,254.5 1174.5,260.0 1172.0,265.0 C1169.5,270.0 1167.8,275.8 1165.0,280.0 C1162.2,284.2 1158.3,288.0 1155.0,290.0 C1151.7,292.0 1145.8,295.3 1145.0,292.0 C1144.2,288.7 1148.8,275.7 1150.0,270.0 C1151.2,264.3 1153.0,261.7 1152.0,258.0 C1151.0,254.3 1147.5,251.0 1144.0,248.0 C1140.5,245.0 1133.7,244.7 1131.0,240.0 C1128.3,235.3 1129.5,226.0 1128.0,220.0 C1126.5,214.0 1126.2,208.3 1122.0,204.0 C1117.8,199.7 1107.5,197.0 1103.0,194.0 C1098.5,191.0 1095.5,190.0 1095.0,186.0 C1094.5,182.0 1098.3,176.0 1100.0,170.0 C1101.7,164.0 1103.3,156.7 1105.0,150.0 C1106.7,143.3 1109.7,137.3 1110.0,130.0 C1110.3,122.7 1104.2,109.7 1107.0,106.0Z" fill="#d9d9d9" stroke="#d9d9d9" stroke-width="6" stroke-linejoin="round"/>
<path d="M888.0,154.0 C892.5,150.7 895.8,150.5 900.0,150.0 C904.2,149.5 910.2,147.7 913.0,151.0 C915.8,154.3 914.3,164.0 917.0,170.0 C919.7,176.0 921.7,183.2 929.0,187.0 C936.3,190.8 952.0,193.0 961.0,193.0 C970.0,193.0 978.5,185.8 983.0,187.0 C987.5,188.2 987.5,196.5 988.0,200.0 C988.5,203.5 988.5,204.2 986.0,208.0 C983.5,211.8 978.3,218.3 973.0,223.0 C967.7,227.7 962.3,231.7 954.0,236.0 C945.7,240.3 932.3,247.5 923.0,249.0 C913.7,250.5 905.8,248.2 898.0,245.0 C890.2,241.8 883.3,233.7 876.0,230.0 C868.7,226.3 858.2,226.7 854.0,223.0 C849.8,219.3 850.0,214.2 851.0,208.0 C852.0,201.8 856.3,192.3 860.0,186.0 C863.7,179.7 868.3,175.3 873.0,170.0 C877.7,164.7 883.5,157.3 888.0,154.0Z" fill="#d9d9d9" stroke="#d9d9d9" stroke-width="6" stroke-linejoin="round"/>
<path d="M852.0,225.0 C856.2,222.2 857.7,225.0 864.0,228.0 C870.3,231.0 882.0,238.8 890.0,243.0 C898.0,247.2 904.7,252.3 912.0,253.0 C919.3,253.7 926.0,249.5 934.0,247.0 C942.0,244.5 953.0,240.8 960.0,238.0 C967.0,235.2 971.2,229.7 976.0,230.0 C980.8,230.3 986.3,235.3 989.0,240.0 C991.7,244.7 994.3,253.3 992.0,258.0 C989.7,262.7 980.7,265.2 975.0,268.0 C969.3,270.8 963.8,274.3 958.0,275.0 C952.2,275.7 947.7,272.2 940.0,272.0 C932.3,271.8 918.5,273.0 912.0,274.0 C905.5,275.0 906.3,278.3 901.0,278.0 C895.7,277.7 887.7,273.5 880.0,272.0 C872.3,270.5 861.3,271.3 855.0,269.0 C848.7,266.7 844.7,262.0 842.0,258.0 C839.3,254.0 837.3,250.5 839.0,245.0 C840.7,239.5 847.8,227.8 852.0,225.0Z" fill="#f8a030" stroke="#f8a030" stroke-width="6" stroke-linejoin="round"/>
<path d="M852.0,186.0 C853.7,182.3 856.3,177.3 858.0,178.0 C859.7,178.7 861.7,185.5 862.0,190.0 C862.3,194.5 861.7,201.0 860.0,205.0 C858.3,209.0 854.0,214.8 852.0,214.0 C850.0,213.2 848.0,204.7 848.0,200.0 C848.0,195.3 850.3,189.7 852.0,186.0Z" fill="#f8a030" stroke="#f8a030" stroke-width="6" stroke-linejoin="round"/>
<path d="M894.0,287.0 C897.7,281.3 903.2,275.2 910.0,272.0 C916.8,268.8 926.7,269.7 935.0,268.0 C943.3,266.3 951.7,263.0 960.0,262.0 C968.3,261.0 979.2,259.8 985.0,262.0 C990.8,264.2 993.7,268.7 995.0,275.0 C996.3,281.3 994.7,292.5 993.0,300.0 C991.3,307.5 990.5,315.7 985.0,320.0 C979.5,324.3 969.2,324.3 960.0,326.0 C950.8,327.7 939.2,328.5 930.0,330.0 C920.8,331.5 911.7,335.8 905.0,335.0 C898.3,334.2 892.8,329.8 890.0,325.0 C887.2,320.2 887.3,312.3 888.0,306.0 C888.7,299.7 890.3,292.7 894.0,287.0Z" fill="#fcf41c" stroke="#fcf41c" stroke-width="6" stroke-linejoin="round"/>
<path d="M905.0,335.0 C911.0,333.2 920.8,331.5 930.0,330.0 C939.2,328.5 950.8,327.7 960.0,326.0 C969.2,324.3 979.5,324.3 985.0,320.0 C990.5,315.7 990.8,307.5 993.0,300.0 C995.2,292.5 995.2,280.3 998.0,275.0 C1000.8,269.7 1004.7,268.8 1010.0,268.0 C1015.3,267.2 1023.3,268.3 1030.0,270.0 C1036.7,271.7 1044.2,276.0 1050.0,278.0 C1055.8,280.0 1060.8,279.0 1065.0,282.0 C1069.2,285.0 1075.0,291.2 1075.0,296.0 C1075.0,300.8 1064.5,305.3 1065.0,311.0 C1065.5,316.7 1078.0,325.2 1078.0,330.0 C1078.0,334.8 1069.7,335.8 1065.0,340.0 C1060.3,344.2 1054.2,350.8 1050.0,355.0 C1045.8,359.2 1044.0,362.2 1040.0,365.0 C1036.0,367.8 1030.7,370.5 1026.0,372.0 C1021.3,373.5 1016.7,373.5 1012.0,374.0 C1007.3,374.5 1002.7,373.8 998.0,375.0 C993.3,376.2 988.7,379.5 984.0,381.0 C979.3,382.5 975.5,384.0 970.0,384.0 C964.5,384.0 957.3,382.0 951.0,381.0 C944.7,380.0 937.2,379.2 932.0,378.0 C926.8,376.8 923.5,376.2 920.0,374.0 C916.5,371.8 913.0,368.8 911.0,365.0 C909.0,361.2 910.8,355.0 908.0,351.0 C905.2,347.0 894.5,343.7 894.0,341.0 C893.5,338.3 899.0,336.8 905.0,335.0Z" fill="#fcf8a0" stroke="#fcf8a0" stroke-width="6" stroke-linejoin="round"/>
<path d="M1013.0,228.0 C1016.3,224.0 1023.8,221.5 1030.0,221.0 C1036.2,220.5 1045.3,221.8 1050.0,225.0 C1054.7,228.2 1057.0,234.5 1058.0,240.0 C1059.0,245.5 1058.2,253.0 1056.0,258.0 C1053.8,263.0 1049.3,267.7 1045.0,270.0 C1040.7,272.3 1035.0,273.3 1030.0,272.0 C1025.0,270.7 1018.3,266.5 1015.0,262.0 C1011.7,257.5 1010.3,250.7 1010.0,245.0 C1009.7,239.3 1009.7,232.0 1013.0,228.0Z" fill="#fcf41c" stroke="#fcf41c" stroke-width="6" stroke-linejoin="round"/>
<path d="M1087.0,191.0 C1092.2,188.2 1097.2,192.8 1103.0,195.0 C1108.8,197.2 1117.8,199.8 1122.0,204.0 C1126.2,208.2 1126.5,213.7 1128.0,220.0 C1129.5,226.3 1128.3,237.3 1131.0,242.0 C1133.7,246.7 1140.5,244.8 1144.0,248.0 C1147.5,251.2 1151.0,257.3 1152.0,261.0 C1153.0,264.7 1151.8,267.5 1150.0,270.0 C1148.2,272.5 1143.2,273.3 1141.0,276.0 C1138.8,278.7 1137.0,282.3 1137.0,286.0 C1137.0,289.7 1141.5,294.8 1141.0,298.0 C1140.5,301.2 1137.7,303.3 1134.0,305.0 C1130.3,306.7 1124.2,307.0 1119.0,308.0 C1113.8,309.0 1108.3,309.5 1103.0,311.0 C1097.7,312.5 1091.2,313.8 1087.0,317.0 C1082.8,320.2 1081.7,326.8 1078.0,330.0 C1074.3,333.2 1068.7,336.0 1065.0,336.0 C1061.3,336.0 1056.0,334.2 1056.0,330.0 C1056.0,325.8 1061.8,316.8 1065.0,311.0 C1068.2,305.2 1075.0,300.2 1075.0,295.0 C1075.0,289.8 1068.7,284.2 1065.0,280.0 C1061.3,275.8 1054.2,275.0 1053.0,270.0 C1051.8,265.0 1056.5,256.3 1058.0,250.0 C1059.5,243.7 1059.7,238.3 1062.0,232.0 C1064.3,225.7 1067.8,218.8 1072.0,212.0 C1076.2,205.2 1081.8,193.8 1087.0,191.0Z" fill="#2a76c4" stroke="#2a76c4" stroke-width="6" stroke-linejoin="round"/>
<path d="M1102.0,313.0 C1104.3,311.8 1111.7,310.2 1114.0,311.0 C1116.3,311.8 1117.3,316.2 1116.0,318.0 C1114.7,319.8 1108.7,322.0 1106.0,322.0 C1103.3,322.0 1100.7,319.5 1100.0,318.0 C1099.3,316.5 1099.7,314.2 1102.0,313.0Z" fill="#fcf41c" stroke="#fcf41c" stroke-width="6" stroke-linejoin="round"/>
</g>
<g filter="url(#sblur)" opacity="0.55">
<path d="M968,116 C990,117 1010,111 1032,117 C1045,129 1060,141 1088,154 C1098,158 1104,166 1103,182" stroke="#3a3a3a" stroke-width="3.5" fill="none" />
<path d="M900,160 C918,182 950,196 988,199" stroke="#4a4a4a" stroke-width="3" fill="none" />
<path d="M890,246 C915,257 940,251 972,236" stroke="#5a3a10" stroke-width="3.5" fill="none" />
<path d="M1060,236 C1075,220 1080,205 1092,193" stroke="#1a4a3a" stroke-width="3" fill="none" />
</g>
<circle cx="1036" cy="218" r="3" fill="#2020c0"/>
<path d="M1089.5,90 L1037.5,213" stroke="#000" stroke-width="2.2" fill="none" />
<polygon points="1034.7,218.5 1034.5,208 1041.5,211" fill="#000"/>
<text x="1075.5" y="82.9" font-size="13.4" fill="#111" font-weight="normal" text-anchor="start" >Cytosine</text>
<rect x="191.8" y="476.8" width="391.5" height="83.4" fill="#c8ccdb" />
<path d="M216,459 C221,420 368,410 376,455" stroke="#111" stroke-width="1.6" fill="none" />
<path d="M248,457 C250,445 258,437 272,435" stroke="#111" stroke-width="1.6" fill="none" />
<path d="M319,434 C333,436 344,445 346,453" stroke="#111" stroke-width="1.6" fill="none" />
<path d="M282.5,456.5 C290,440 320,438 345,440 C370,441 390,446 397,452" stroke="#111" stroke-width="1.6" fill="none" />
<path d="M329.5,455 C333,443 358,441 362,454" stroke="#111" stroke-width="1.6" fill="none" />
<path d="M237.7,550 C238,566 256,566 256.4,550" stroke="#111" stroke-width="1.6" fill="none" />
<path d="M307,579 C315,590 330,593 362,593 C395,593 415,585 420.5,577" stroke="#111" stroke-width="1.6" fill="none" />
<path d="M327.5,579 C327,598 338,608 358,608" stroke="#111" stroke-width="1.6" fill="none" />
<path d="M346,580 C348,592 372,594 377,580" stroke="#111" stroke-width="1.6" fill="none" />
<path d="M363,580 C366,592 380,598 396,598.6" stroke="#111" stroke-width="1.6" fill="none" />
<path d="M431,601 C445,600 455,593 458,581" stroke="#111" stroke-width="1.6" fill="none" />
<path d="M448,485 C449,470 466,470 467.9,484" stroke="#111" stroke-width="1.6" fill="none" />
<path d="M494.8,580 C500,589 520,590 529,580" stroke="#111" stroke-width="1.6" fill="none" />
<path d="M531.5,472 C532,458 550,458 550,472" stroke="#111" stroke-width="1.6" fill="none" />
<path d="M552.8,586.5 C553,600 548,604 539,604" stroke="#111" stroke-width="1.6" fill="none" />
<path d="M327.8,503 L327.8,530" stroke="#111" stroke-width="1.3" fill="none" />
<path d="M379.2,504 L379.2,531" stroke="#111" stroke-width="1.3" fill="none" />
<polygon points="211.0,460.7 250.5,552.2 260.5,547.8 221.0,456.3" fill="#2d6db5" stroke="#1d3f70" stroke-width="1"/>
<polygon points="244.0,460.8 299.5,581.8 309.5,577.2 254.0,456.2" fill="#e89a30" stroke="#6a4a20" stroke-width="1"/>
<polygon points="276.0,454.7 233.0,547.2 243.0,551.8 286.0,459.3" fill="#ece87a" stroke="#55552a" stroke-width="1"/>
<rect x="321.9" y="454.6" width="11.9" height="48.7" fill="#1aa81a" stroke="#145a14" stroke-width="1" />
<rect x="321.9" y="530.0" width="11.9" height="48.8" fill="#1aa81a" stroke="#145a14" stroke-width="1" />
<rect x="339.8" y="453.0" width="11.4" height="127.4" fill="#a8f5a8" stroke="#3a6a3a" stroke-width="1" />
<rect x="357.6" y="453.0" width="11.4" height="127.4" fill="#a8f5a8" stroke="#3a6a3a" stroke-width="1" />
<rect x="374.0" y="454.6" width="10.4" height="49.7" fill="#60f0c4" stroke="#2a6a5a" stroke-width="1" />
<rect x="374.0" y="530.7" width="10.4" height="49.7" fill="#60f0c4" stroke="#2a6a5a" stroke-width="1" />
<polygon points="393.2,454.0 453.6,583.0 464.4,578.0 404.0,449.0" fill="#f5f020" stroke="#555510" stroke-width="1"/>
<polygon points="443.0,487.3 487.5,582.8 497.5,578.2 453.0,482.7" fill="#2d6db5" stroke="#1d3f70" stroke-width="1"/>
<polygon points="462.1,482.0 418.9,574.7 429.7,579.7 472.9,487.0" fill="#ece87a" stroke="#55552a" stroke-width="1"/>
<rect x="524.2" y="472.0" width="11.8" height="108.4" fill="#d8d8d8" stroke="#555" stroke-width="1" />
<rect x="546.6" y="472.0" width="11.4" height="114.5" fill="#d8d8d8" stroke="#555" stroke-width="1" />
<rect x="272.5" y="428.8" width="46.2" height="10.7" fill="#d8d8d8" stroke="#555" stroke-width="1" />
<text x="295.6" y="437.7" font-size="9" fill="#222" font-weight="bold" text-anchor="middle" >EL4</text>
<rect x="395.4" y="594.0" width="35.9" height="11.3" fill="#d8d8d8" stroke="#555" stroke-width="1" />
<text x="413.3" y="603.3" font-size="9" fill="#222" font-weight="bold" text-anchor="middle" >IL1</text>
<ellipse cx="353.6" cy="516" rx="15.2" ry="6.5" fill="#000"/>
<polygon points="407.6,494.5 403.1,501.5 394.1,501.5 389.6,494.5 394.1,487.5 403.1,487.5" fill="#f030c8"/>
<path d="M291,509 L300,504" stroke="#553355" stroke-width="1.2" fill="none" stroke-dasharray="2.5,2"/>
<path d="M272,516 L291,509" stroke="#553355" stroke-width="1.2" fill="none" stroke-dasharray="2.5,2"/>
<path d="M304,509 L321,526" stroke="#553355" stroke-width="1.2" fill="none" stroke-dasharray="2.5,2"/>
<circle cx="300.8" cy="503.5" r="5.8" fill="#a050e0"/>
<text x="294.5" y="495.0" font-size="9" fill="#222" font-weight="normal" text-anchor="start" >Na</text>
<text x="306.5" y="490.0" font-size="6.5" fill="#222" font-weight="normal" text-anchor="start" >+</text>
<text x="240.0" y="521.5" font-size="12.5" fill="#d8f070" font-weight="bold" text-anchor="middle" >5</text>
<text x="253.8" y="521.5" font-size="12.5" fill="#111" font-weight="bold" text-anchor="middle" >4</text>
<text x="274.3" y="522.0" font-size="12.5" fill="#5a1010" font-weight="bold" text-anchor="middle" >8</text>
<text x="327.8" y="486.0" font-size="10.5" fill="#0a200a" font-weight="bold" text-anchor="middle" >1b</text>
<text x="327.8" y="560.0" font-size="10.5" fill="#0a200a" font-weight="bold" text-anchor="middle" >1a</text>
<text x="345.5" y="498.5" font-size="12.5" fill="#111" font-weight="bold" text-anchor="middle" >7</text>
<text x="363.3" y="498.5" font-size="12.5" fill="#111" font-weight="bold" text-anchor="middle" >2</text>
<text x="379.2" y="486.0" font-size="10.5" fill="#111" font-weight="bold" text-anchor="middle" >6a</text>
<text x="379.2" y="560.0" font-size="10.5" fill="#111" font-weight="bold" text-anchor="middle" >6b</text>
<text x="432.5" y="528.0" font-size="12.5" fill="#111" font-weight="bold" text-anchor="middle" >3</text>
<text x="449.0" y="528.0" font-size="12.5" fill="#111" font-weight="bold" text-anchor="middle" >9</text>
<text x="465.0" y="528.0" font-size="12.5" fill="#d0f050" font-weight="bold" text-anchor="middle" >10</text>
<text x="529.0" y="528.0" font-size="12.5" fill="#111" font-weight="bold" text-anchor="middle" >11</text>
<text x="552.0" y="528.0" font-size="12.5" fill="#111" font-weight="bold" text-anchor="middle" >12</text>
<text x="556.4" y="457.5" font-size="13.5" fill="#111" font-weight="normal" text-anchor="start" >OUT</text>
<text x="570.6" y="580.5" font-size="13.5" fill="#111" font-weight="normal" text-anchor="start" >IN</text>
<text x="363.0" y="613.5" font-size="13.5" fill="#111" font-weight="normal" text-anchor="start" >N</text>
<text x="523.4" y="608.7" font-size="13.5" fill="#111" font-weight="normal" text-anchor="start" >C</text>
<rect x="696.5" y="465.5" width="52.5" height="16.8" fill="#19a519" stroke="#555" stroke-width="0.8" />
<rect x="696.5" y="482.3" width="52.5" height="17.0" fill="#a9f4b2" stroke="#555" stroke-width="0.8" />
<rect x="696.5" y="518.0" width="52.5" height="16.3" fill="#e6993a" stroke="#555" stroke-width="0.8" />
<rect x="696.5" y="534.3" width="52.5" height="16.7" fill="#ebe57c" stroke="#555" stroke-width="0.8" />
<rect x="696.5" y="569.0" width="52.5" height="18.2" fill="#2e6cb0" />
<rect x="928.7" y="463.5" width="52.3" height="16.3" fill="#e6993a" stroke="#555" stroke-width="0.8" />
<rect x="928.7" y="479.8" width="52.3" height="16.7" fill="#ebe57c" stroke="#555" stroke-width="0.8" />
<rect x="928.7" y="496.5" width="52.3" height="18.1" fill="#2e6cb0" />
<text x="784.0" y="491.2" font-size="20.5" fill="#111" font-weight="normal" text-anchor="start" textLength="64.5">Bundle</text>
<text x="784.0" y="543.4" font-size="20.5" fill="#111" font-weight="normal" text-anchor="start" textLength="48.3">Hash</text>
<text x="784.0" y="587.8" font-size="20.5" fill="#111" font-weight="normal" text-anchor="start" textLength="143.5">Flexible Helices</text>
<text x="1008.5" y="497.0" font-size="20.5" fill="#111" font-weight="normal" text-anchor="start" textLength="74">Scaffold</text>
</svg>
</body></html>
